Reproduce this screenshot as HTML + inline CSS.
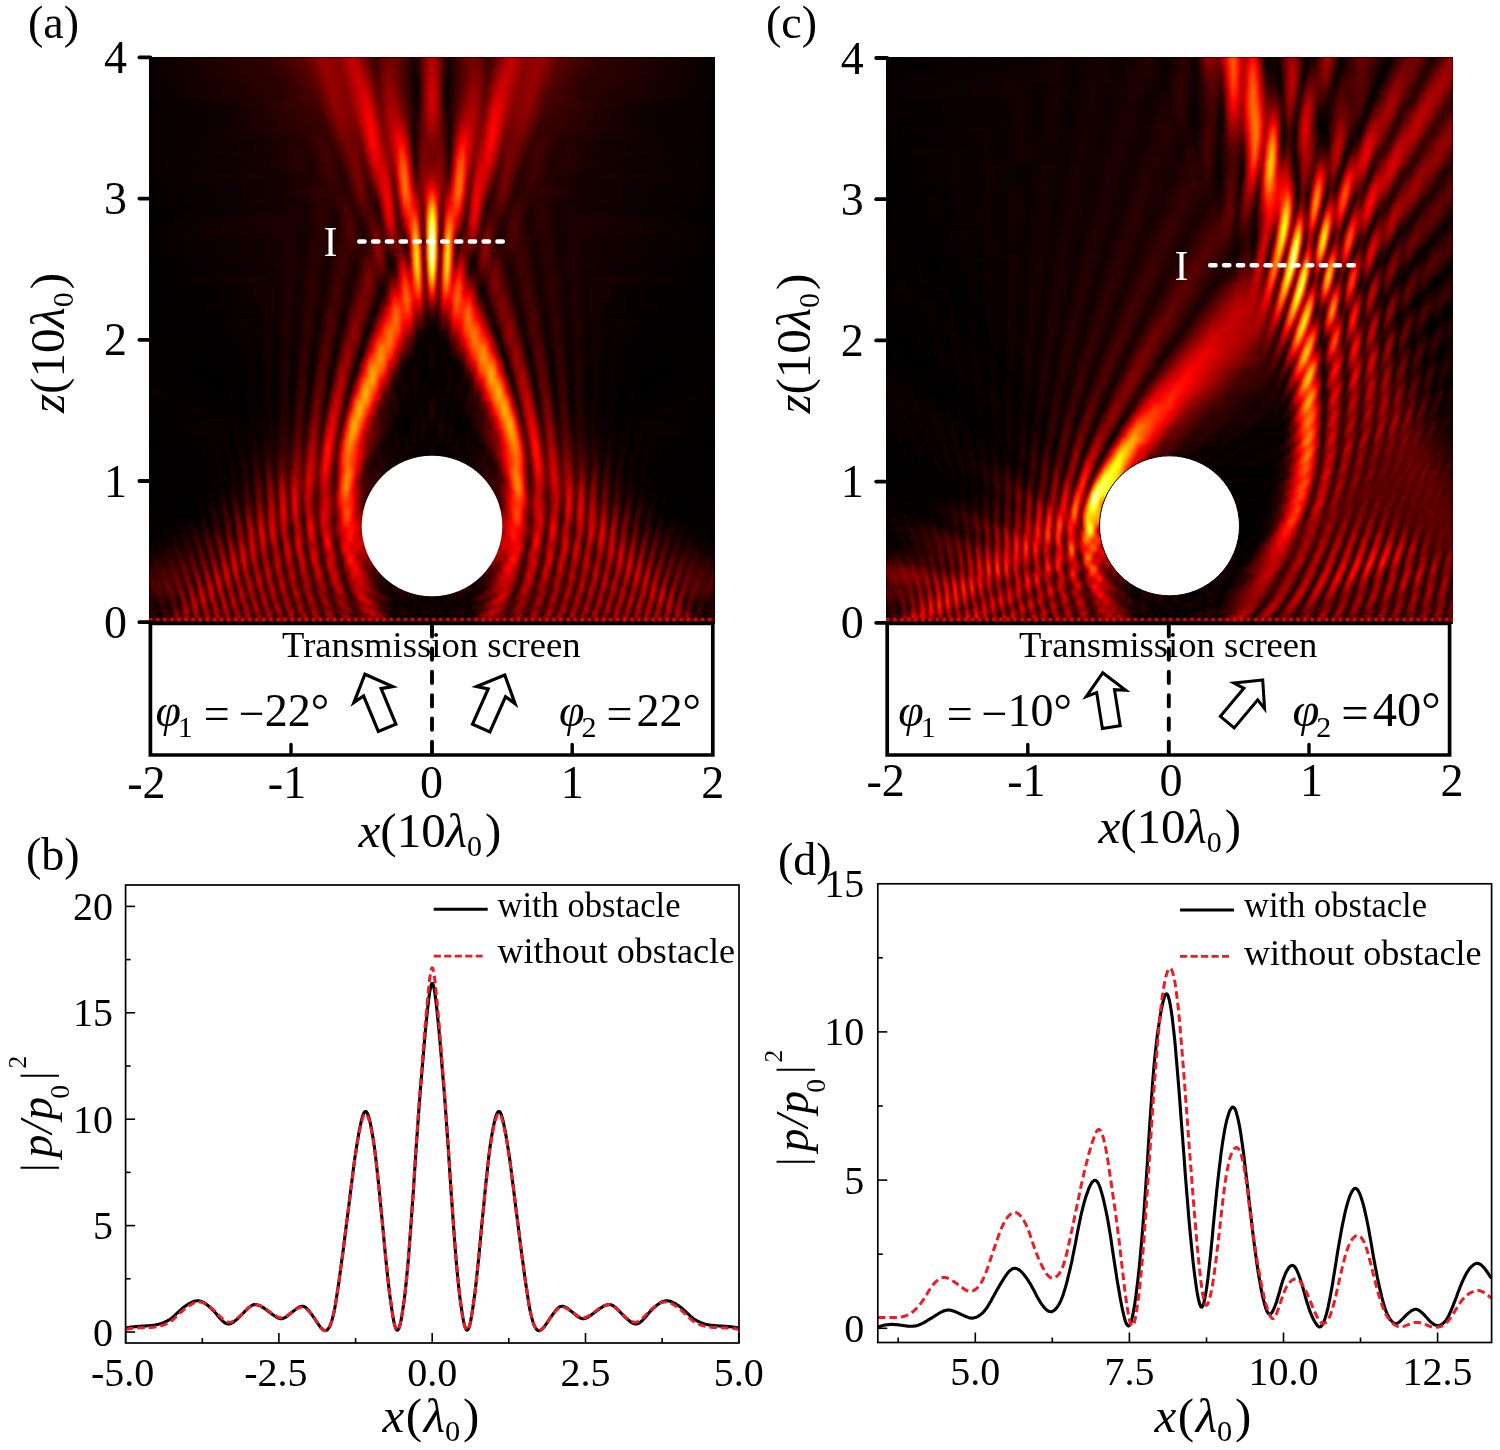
<!DOCTYPE html>
<html lang="en"><head><meta charset="utf-8"><title>Acoustic focusing beyond an obstacle</title>
<style>
html,body{margin:0;padding:0;background:#fff}
body{width:1500px;height:1450px;position:relative;overflow:hidden;font-family:"Liberation Serif","Times New Roman",serif}
.hm{position:absolute;background:#000;overflow:hidden}
.hm i{display:block;width:100%;height:3px}
.hm b{position:absolute;left:0;bottom:3px;width:100%;height:3px;background:repeating-linear-gradient(90deg,rgba(200,0,0,.9) 0,rgba(230,10,0,.95) 2.5px,rgba(60,0,0,.6) 4.5px,rgba(40,0,0,.6) 6px,rgba(200,0,0,.9) 7.075px)}
#hmA i{height:2px}
.hm .w{position:absolute;left:-2px;top:-2px;width:571px;height:571px;padding:2px;box-sizing:border-box;filter:url(#hot)}
#hmA p{position:absolute;margin:0;top:2px;left:2px;width:283px;height:567px;overflow:hidden}
#hmA p+p{left:285px;transform:scaleX(-1)}
.a0{background:linear-gradient(90deg,#030 1px,#120 121px,#220 155px,#370 173px,#310 189px,#470 203px,#3f0 209px,#140 225px,#270 237px,#2b0 245px,#240 251px,#080 265px,#0e0 269px,#3a0 279px,#410 283px)}
.a1{background:linear-gradient(90deg,#030 1px,#130 123px,#210 155px,#370 173px,#320 191px,#480 203px,#400 209px,#150 225px,#280 237px,#2b0 245px,#1f0 253px,#080 265px,#0d0 269px,#3b0 279px,#430 283px)}
.a2{background:linear-gradient(90deg,#030 1px,#120 123px,#200 155px,#380 175px,#320 191px,#480 203px,#3d0 211px,#160 225px,#290 237px,#2b0 245px,#1f0 253px,#070 265px,#0d0 269px,#3c0 279px,#440 283px)}
.a3{background:linear-gradient(90deg,#030 1px,#120 125px,#210 157px,#380 175px,#320 191px,#490 205px,#3f0 211px,#160 225px,#2a0 237px,#2c0 243px,#1f0 253px,#070 265px,#0c0 269px,#3d0 279px,#450 283px)}
.a4{background:linear-gradient(90deg,#030 1px,#120 125px,#200 157px,#370 175px,#310 191px,#490 205px,#3b0 213px,#170 225px,#2b0 237px,#2c0 243px,#070 267px,#340 277px,#460 283px)}
.a5{background:linear-gradient(90deg,#030 1px,#120 127px,#1f0 157px,#380 177px,#310 191px,#4a0 205px,#3d0 213px,#180 225px,#190 229px,#2b0 237px,#2d0 243px,#060 267px,#340 277px,#470 283px)}
.a6{background:linear-gradient(90deg,#030 1px,#120 127px,#200 159px,#380 177px,#320 193px,#4a0 205px,#400 213px,#170 227px,#2c0 237px,#2b0 245px,#060 267px,#350 277px,#480 283px)}
.a7{background:linear-gradient(90deg,#030 1px,#120 129px,#1f0 159px,#370 177px,#320 193px,#4a0 207px,#3c0 215px,#180 227px,#2d0 237px,#2e0 243px,#050 267px,#350 277px,#4a0 283px)}
.a8{background:linear-gradient(90deg,#030 1px,#120 129px,#1e0 159px,#380 179px,#310 193px,#4b0 207px,#3e0 215px,#190 227px,#2e0 237px,#2f0 243px,#050 267px,#350 277px,#4a0 283px)}
.a9{background:linear-gradient(90deg,#030 1px,#110 129px,#1f0 161px,#380 179px,#310 193px,#4b0 207px,#410 215px,#190 227px,#2f0 237px,#2f0 243px,#130 259px,#040 267px,#070 269px,#360 277px,#4b0 283px)}
.a10{background:linear-gradient(90deg,#030 1px,#110 131px,#1e0 161px,#380 179px,#300 193px,#4b0 209px,#3d0 217px,#1a0 227px,#300 237px,#300 243px,#130 259px,#040 267px,#070 269px,#360 277px,#4c0 283px)}
.a11{background:linear-gradient(90deg,#030 1px,#110 131px,#1d0 161px,#390 181px,#310 195px,#4c0 209px,#3f0 217px,#1b0 227px,#300 237px,#310 243px,#130 259px,#040 267px,#060 269px,#360 277px,#4d0 283px)}
.a12{background:linear-gradient(90deg,#030 1px,#110 131px,#1e0 163px,#380 181px,#310 195px,#4c0 209px,#420 217px,#1c0 227px,#310 237px,#320 243px,#100 261px,#030 267px,#060 269px,#360 277px,#4e0 283px)}
.a13{background:linear-gradient(90deg,#030 1px,#110 133px,#1d0 163px,#380 181px,#300 195px,#4d0 211px,#440 217px,#1c0 229px,#320 237px,#330 243px,#100 261px,#030 267px,#050 269px,#360 277px,#4e0 283px)}
.a14{background:linear-gradient(90deg,#030 1px,#100 133px,#1d0 165px,#390 183px,#300 195px,#4e0 211px,#460 217px,#1c0 229px,#330 237px,#340 243px,#100 261px,#030 267px,#050 269px,#370 277px,#4f0 283px)}
.a15{background:linear-gradient(90deg,#030 1px,#100 133px,#1c0 165px,#390 183px,#2f0 195px,#4e0 213px,#420 219px,#1d0 229px,#330 237px,#360 243px,#100 261px,#030 267px,#040 269px,#370 277px,#4f0 283px)}
.a16{background:linear-gradient(90deg,#030 1px,#100 135px,#1b0 165px,#380 183px,#300 197px,#4f0 213px,#450 219px,#1e0 229px,#380 239px,#370 243px,#100 261px,#030 267px,#040 269px,#440 279px,#4f0 283px)}
.a17{background:linear-gradient(90deg,#030 1px,#100 135px,#1c0 167px,#380 183px,#2f0 197px,#500 213px,#480 219px,#1e0 229px,#390 239px,#380 243px,#100 261px,#030 267px,#040 269px,#440 279px,#500 283px)}
.a18{background:linear-gradient(90deg,#030 1px,#100 135px,#1b0 167px,#390 185px,#2f0 197px,#510 215px,#4a0 219px,#1f0 229px,#390 239px,#390 243px,#110 261px,#030 267px,#040 269px,#440 279px,#500 283px)}
.a19{background:linear-gradient(90deg,#030 1px,#100 137px,#1a0 153px,#1a0 167px,#380 185px,#2e0 197px,#520 215px,#450 221px,#200 229px,#3a0 239px,#3a0 243px,#110 261px,#030 267px,#040 269px,#440 279px,#500 283px)}
.a20{background:linear-gradient(90deg,#030 1px,#0f0 137px,#190 153px,#1b0 169px,#380 185px,#2f0 199px,#530 215px,#470 221px,#210 229px,#3a0 239px,#380 245px,#110 261px,#030 267px,#050 269px,#430 279px,#4f0 283px)}
.a21{background:linear-gradient(90deg,#030 1px,#100 139px,#190 153px,#1a0 169px,#370 185px,#2e0 199px,#540 217px,#4a0 221px,#220 229px,#210 231px,#3b0 239px,#390 245px,#040 267px,#050 269px,#430 279px,#4f0 283px)}
.a22{background:linear-gradient(90deg,#030 1px,#060 71px,#180 167px,#370 185px,#2e0 199px,#560 217px,#4d0 221px,#240 229px,#220 231px,#3b0 239px,#3b0 245px,#040 267px,#050 269px,#430 279px,#4f0 283px)}
.a23{background:linear-gradient(90deg,#030 1px,#060 73px,#180 169px,#380 187px,#2f0 201px,#570 217px,#4f0 221px,#220 231px,#3c0 239px,#3c0 245px,#040 267px,#060 269px,#420 279px,#4e0 283px)}
.a24{background:linear-gradient(90deg,#030 1px,#060 73px,#180 169px,#370 187px,#2e0 201px,#580 217px,#510 221px,#230 231px,#3c0 239px,#3d0 245px,#050 267px,#070 269px,#420 279px,#4e0 283px)}
.a25{background:linear-gradient(90deg,#030 1px,#050 73px,#170 169px,#360 187px,#2d0 201px,#590 217px,#540 221px,#240 231px,#400 241px,#3b0 247px,#050 267px,#070 269px,#410 279px,#4d0 283px)}
.a26{background:linear-gradient(90deg,#030 1px,#050 73px,#170 171px,#360 187px,#2f0 203px,#5a0 219px,#4d0 223px,#240 231px,#400 241px,#3d0 247px,#060 267px,#080 269px,#410 279px,#4c0 283px)}
.a27{background:linear-gradient(90deg,#030 1px,#050 73px,#170 171px,#350 187px,#2e0 203px,#5b0 219px,#500 223px,#250 231px,#410 241px,#3f0 247px,#060 267px,#090 269px,#400 279px,#4b0 283px)}
.a28{background:linear-gradient(90deg,#030 1px,#050 73px,#170 173px,#350 189px,#2d0 203px,#5c0 219px,#520 223px,#270 231px,#410 241px,#3d0 249px,#070 267px,#3f0 279px,#4a0 283px)}
.a29{background:linear-gradient(90deg,#030 1px,#050 73px,#170 173px,#350 189px,#2e0 205px,#5d0 219px,#550 223px,#280 231px,#440 243px,#3f0 249px,#2c0 255px,#080 265px,#070 267px,#3e0 279px,#490 283px)}
.a30{background:linear-gradient(90deg,#030 1px,#050 73px,#160 173px,#340 189px,#2d0 205px,#5e0 219px,#570 223px,#290 231px,#270 233px,#410 241px,#420 249px,#2f0 255px,#070 265px,#070 267px,#3d0 279px,#470 283px)}
.a31{background:linear-gradient(90deg,#030 1px,#050 73px,#160 175px,#330 189px,#2c0 205px,#580 217px,#5e0 221px,#280 233px,#440 243px,#400 251px,#320 255px,#070 265px,#0c0 269px,#3c0 279px,#460 283px)}
.a32{background:linear-gradient(90deg,#030 1px,#050 75px,#160 175px,#330 191px,#2d0 207px,#580 217px,#5f0 221px,#290 233px,#450 243px,#430 251px,#350 255px,#070 265px,#0d0 269px,#3b0 279px,#440 283px)}
.a33{background:linear-gradient(90deg,#030 1px,#050 75px,#160 177px,#320 191px,#2c0 207px,#600 221px,#530 225px,#290 233px,#450 243px,#460 251px,#380 255px,#070 265px,#3a0 279px,#430 283px)}
.a34{background:linear-gradient(90deg,#030 1px,#050 75px,#160 177px,#310 191px,#2a0 207px,#610 221px,#560 225px,#2a0 233px,#490 245px,#490 251px,#3b0 255px,#070 265px,#310 277px,#410 283px)}
.a35{background:linear-gradient(90deg,#030 1px,#050 75px,#150 177px,#300 191px,#2c0 209px,#610 221px,#580 225px,#2c0 233px,#4c0 247px,#480 253px,#320 257px,#060 265px,#310 277px,#3f0 283px)}
.a36{background:linear-gradient(90deg,#030 1px,#050 75px,#160 179px,#300 193px,#2a0 209px,#610 221px,#590 225px,#340 231px,#2c0 235px,#4e0 247px,#4b0 253px,#350 257px,#060 265px,#300 277px,#3d0 283px)}
.a37{background:linear-gradient(90deg,#030 1px,#050 75px,#150 179px,#2f0 193px,#290 209px,#5a0 219px,#610 223px,#2c0 235px,#4f0 247px,#4f0 253px,#380 257px,#060 265px,#290 275px,#3b0 283px)}
.a38{background:linear-gradient(90deg,#030 1px,#070 99px,#150 179px,#2e0 193px,#270 209px,#590 219px,#620 223px,#2d0 235px,#550 249px,#530 253px,#3c0 257px,#050 265px,#230 273px,#390 283px)}
.a39{background:linear-gradient(90deg,#030 1px,#070 101px,#150 181px,#2d0 193px,#2a0 211px,#570 219px,#620 223px,#2e0 235px,#570 249px,#570 253px,#3f0 257px,#050 265px,#240 273px,#370 283px)}
.a40{background:linear-gradient(90deg,#030 1px,#070 101px,#0f0 155px,#170 171px,#140 181px,#2d0 195px,#280 211px,#550 219px,#620 223px,#2f0 235px,#330 239px,#590 249px,#5a0 253px,#430 257px,#050 265px,#250 273px,#350 283px)}
.a41{background:linear-gradient(90deg,#030 1px,#070 101px,#0e0 155px,#170 171px,#140 181px,#2c0 195px,#260 211px,#610 223px,#580 227px,#360 233px,#300 237px,#5b0 249px,#5e0 253px,#460 257px,#050 265px,#260 273px,#330 283px)}
.a42{background:linear-gradient(90deg,#030 1px,#060 101px,#0e0 157px,#180 173px,#140 183px,#2c0 197px,#250 211px,#610 223px,#590 227px,#380 233px,#300 237px,#620 251px,#5a0 255px,#4a0 257px,#040 265px,#270 273px,#320 283px)}
.a43{background:linear-gradient(90deg,#030 1px,#060 101px,#0e0 157px,#180 173px,#140 183px,#2b0 197px,#230 211px,#5f0 223px,#5a0 227px,#310 237px,#350 241px,#5e0 249px,#650 253px,#4e0 257px,#040 265px,#280 273px,#300 283px)}
.a44{background:linear-gradient(90deg,#030 1px,#060 101px,#0e0 159px,#180 173px,#130 183px,#2c0 199px,#250 213px,#5e0 223px,#5b0 227px,#350 235px,#310 239px,#690 253px,#520 257px,#050 265px,#290 273px,#2e0 283px)}
.a45{background:linear-gradient(90deg,#030 1px,#060 101px,#0f0 145px,#0d0 159px,#180 175px,#130 185px,#2d0 201px,#230 213px,#540 221px,#5f0 225px,#370 235px,#330 241px,#600 249px,#6d0 253px,#560 257px,#050 265px,#2a0 273px,#2d0 283px)}
.a46{background:linear-gradient(90deg,#030 1px,#060 103px,#0f0 145px,#0d0 161px,#180 175px,#120 185px,#2c0 201px,#220 213px,#510 221px,#5e0 225px,#340 237px,#320 241px,#700 253px,#5a0 257px,#050 265px,#2b0 273px,#2c0 283px)}
.a47{background:linear-gradient(90deg,#030 1px,#090 129px,#0f0 147px,#0d0 161px,#180 175px,#120 185px,#2d0 203px,#200 213px,#4e0 221px,#5d0 225px,#310 241px,#730 253px,#5e0 257px,#060 265px,#2c0 273px,#2b0 283px)}
.a48{background:linear-gradient(90deg,#030 1px,#090 131px,#0f0 147px,#0c0 161px,#190 177px,#120 187px,#2d0 203px,#1f0 213px,#5b0 225px,#300 241px,#760 253px,#620 257px,#070 265px,#2d0 273px,#2a0 283px)}
.a49{background:linear-gradient(90deg,#030 1px,#090 131px,#0f0 147px,#0d0 163px,#190 177px,#110 187px,#2d0 203px,#210 215px,#5a0 225px,#570 229px,#320 239px,#320 243px,#710 251px,#790 253px,#660 257px,#080 265px,#2e0 273px,#2a0 283px)}
.a50{background:linear-gradient(90deg,#030 1px,#080 131px,#0f0 147px,#0c0 163px,#190 177px,#110 189px,#2e0 205px,#1f0 215px,#500 223px,#5a0 227px,#330 239px,#310 243px,#7c0 253px,#6a0 257px,#0a0 265px,#0d0 267px,#2f0 273px,#2a0 283px)}
.a51{background:linear-gradient(90deg,#030 1px,#060 103px,#0f0 149px,#0c0 163px,#190 177px,#100 189px,#2e0 205px,#1e0 215px,#4c0 223px,#580 227px,#2f0 243px,#7e0 253px,#6e0 257px,#0b0 265px,#0d0 267px,#2f0 273px,#2a0 283px)}
.a52{background:linear-gradient(90deg,#030 1px,#060 103px,#0f0 149px,#0c0 163px,#190 179px,#100 189px,#2e0 205px,#1c0 215px,#490 223px,#560 227px,#4d0 233px,#2d0 243px,#800 253px,#710 257px,#590 259px,#0d0 265px,#0e0 267px,#300 273px,#2b0 283px)}
.a53{background:linear-gradient(90deg,#030 1px,#060 103px,#0f0 149px,#0b0 163px,#190 179px,#100 191px,#2e0 205px,#2c0 209px,#1c0 215px,#540 227px,#4f0 233px,#2c0 243px,#340 245px,#740 251px,#820 253px,#750 257px,#5c0 259px,#0f0 265px,#0f0 267px,#300 273px,#2c0 283px)}
.a54{background:linear-gradient(90deg,#030 1px,#060 103px,#0f0 149px,#0b0 163px,#190 179px,#0f0 191px,#2f0 207px,#1b0 215px,#1d0 217px,#4c0 225px,#540 229px,#4b0 235px,#2b0 243px,#310 245px,#740 251px,#850 255px,#600 259px,#110 265px,#100 267px,#310 273px,#2e0 283px)}
.a55{background:linear-gradient(90deg,#030 1px,#060 103px,#0f0 151px,#0b0 165px,#190 179px,#0e0 191px,#2f0 207px,#1b0 217px,#480 225px,#530 229px,#4d0 235px,#2a0 243px,#2f0 245px,#740 251px,#870 255px,#630 259px,#130 265px,#110 267px,#310 273px,#300 283px)}
.a56{background:linear-gradient(90deg,#030 1px,#080 131px,#0e0 151px,#0b0 165px,#190 179px,#0e0 193px,#2f0 207px,#1a0 217px,#440 225px,#530 231px,#490 237px,#290 243px,#2d0 245px,#730 251px,#8a0 255px,#670 259px,#160 265px,#130 267px,#310 273px,#330 283px)}
.a57{background:linear-gradient(90deg,#030 1px,#080 133px,#0e0 151px,#0c0 167px,#190 181px,#0e0 193px,#2f0 207px,#190 217px,#400 225px,#520 231px,#4b0 237px,#290 243px,#2b0 245px,#720 251px,#8b0 255px,#6a0 259px,#190 265px,#140 267px,#310 273px,#360 283px)}
.a58{background:linear-gradient(90deg,#030 1px,#080 133px,#0e0 151px,#0c0 167px,#190 181px,#0d0 193px,#100 197px,#2e0 207px,#2b0 211px,#180 217px,#460 227px,#530 233px,#4e0 237px,#290 243px,#280 245px,#710 251px,#8d0 255px,#6d0 259px,#1c0 265px,#160 267px,#310 273px,#3a0 283px)}
.a59{background:linear-gradient(90deg,#030 1px,#080 133px,#0d0 169px,#180 181px,#0d0 195px,#2f0 209px,#180 217px,#190 219px,#420 227px,#530 233px,#500 237px,#290 243px,#270 245px,#6f0 251px,#8e0 255px,#700 259px,#1f0 265px,#190 267px,#310 273px,#3e0 283px)}
.a60{background:linear-gradient(90deg,#030 1px,#080 131px,#0d0 169px,#180 181px,#0d0 195px,#2f0 209px,#170 219px,#3e0 227px,#550 235px,#490 239px,#2a0 243px,#250 245px,#330 247px,#6d0 251px,#8f0 255px,#730 259px,#220 265px,#1b0 267px,#360 275px,#430 283px)}
.a61{background:linear-gradient(90deg,#030 1px,#080 131px,#0d0 169px,#170 183px,#0d0 197px,#2f0 209px,#160 219px,#430 229px,#560 235px,#4b0 239px,#230 245px,#300 247px,#6b0 251px,#8f0 255px,#760 259px,#260 265px,#1d0 267px,#480 283px)}
.a62{background:linear-gradient(90deg,#030 1px,#080 131px,#0d0 171px,#170 183px,#0d0 197px,#2e0 209px,#290 213px,#150 219px,#570 235px,#4e0 239px,#220 245px,#2d0 247px,#820 253px,#8f0 255px,#780 259px,#2a0 265px,#200 267px,#4d0 283px)}
.a63{background:linear-gradient(90deg,#030 1px,#070 131px,#0d0 171px,#160 183px,#0d0 197px,#120 201px,#280 207px,#2e0 211px,#150 219px,#160 221px,#570 235px,#510 239px,#220 245px,#2a0 247px,#650 251px,#8e0 255px,#7a0 259px,#2e0 265px,#230 267px,#530 283px)}
.a64{background:linear-gradient(90deg,#020 1px,#070 131px,#0e0 173px,#160 183px,#0e0 199px,#270 207px,#2e0 211px,#140 221px,#4e0 233px,#5a0 237px,#440 241px,#210 245px,#270 247px,#620 251px,#8d0 255px,#7c0 259px,#320 265px,#270 267px,#280 271px,#590 283px)}
.a65{background:linear-gradient(90deg,#020 1px,#070 131px,#150 185px,#0d0 199px,#2d0 211px,#130 221px,#4d0 233px,#5b0 237px,#460 241px,#210 245px,#240 247px,#7b0 253px,#8c0 255px,#7e0 259px,#360 265px,#270 269px,#2d0 273px,#5f0 283px)}
.a66{background:linear-gradient(90deg,#020 1px,#070 131px,#150 185px,#0e0 199px,#2d0 211px,#130 221px,#1b0 225px,#4a0 233px,#5c0 237px,#490 241px,#210 245px,#220 247px,#780 253px,#8a0 255px,#7f0 259px,#3a0 265px,#290 269px,#2c0 273px,#610 281px,#650 283px)}
.a67{background:linear-gradient(90deg,#020 1px,#070 131px,#140 185px,#0f0 201px,#2c0 211px,#120 221px,#180 225px,#5d0 237px,#4c0 241px,#220 245px,#1f0 247px,#750 253px,#880 255px,#7f0 259px,#320 267px,#280 271px,#340 275px,#580 279px,#6c0 283px)}
.a68{background:linear-gradient(90deg,#020 1px,#070 131px,#130 187px,#0f0 201px,#2a0 211px,#120 223px,#1c0 227px,#5d0 237px,#4f0 241px,#230 245px,#1e0 247px,#710 253px,#8a0 257px,#800 259px,#360 267px,#290 271px,#340 275px,#5c0 279px,#730 283px)}
.a69{background:linear-gradient(90deg,#020 1px,#070 131px,#140 193px,#0f0 201px,#2a0 213px,#110 223px,#190 227px,#5d0 237px,#510 241px,#250 245px,#1c0 247px,#6d0 253px,#820 255px,#800 259px,#3b0 267px,#280 273px,#730 281px,#7b0 283px)}
.a70{background:linear-gradient(90deg,#020 1px,#070 131px,#140 193px,#100 203px,#290 213px,#140 221px,#110 225px,#1e0 229px,#500 235px,#5e0 239px,#540 241px,#1b0 247px,#2a0 249px,#680 253px,#860 257px,#800 259px,#290 271px,#270 273px,#7a0 281px,#820 283px)}
.a71{background:linear-gradient(90deg,#020 1px,#090 157px,#100 169px,#0e0 179px,#150 195px,#100 203px,#280 213px,#100 225px,#1a0 229px,#4d0 235px,#5f0 239px,#560 241px,#1a0 247px,#260 249px,#630 253px,#830 257px,#710 261px,#250 273px,#310 275px,#810 281px,#8a0 283px)}
.a72{background:linear-gradient(90deg,#020 1px,#090 157px,#100 169px,#0d0 181px,#160 195px,#100 203px,#260 213px,#100 225px,#170 229px,#4b0 235px,#600 239px,#580 241px,#1a0 247px,#230 249px,#5e0 253px,#800 257px,#720 261px,#230 273px,#2f0 275px,#870 281px,#910 283px)}
.a73{background:linear-gradient(90deg,#020 1px,#070 131px,#0b0 143px,#080 157px,#110 171px,#0d0 183px,#170 197px,#110 205px,#240 213px,#0f0 227px,#140 229px,#590 237px,#600 239px,#460 243px,#1a0 247px,#200 249px,#590 253px,#7c0 257px,#5c0 265px,#220 273px,#2e0 275px,#8e0 281px,#990 283px)}
.a74{background:linear-gradient(90deg,#020 1px,#070 131px,#0b0 145px,#080 157px,#110 171px,#0d0 185px,#180 197px,#110 205px,#230 215px,#0e0 227px,#110 229px,#440 235px,#600 239px,#490 243px,#1a0 247px,#1d0 249px,#6c0 255px,#7a0 259px,#540 267px,#200 273px,#2c0 275px,#760 279px,#950 281px,#a10 283px)}
.a75{background:linear-gradient(90deg,#010 1px,#070 131px,#0b0 145px,#080 157px,#120 171px,#0b0 183px,#190 197px,#120 207px,#220 215px,#0f0 229px,#550 237px,#5f0 239px,#4b0 243px,#1b0 247px,#1a0 249px,#660 255px,#770 259px,#590 267px,#1f0 273px,#2b0 275px,#7a0 279px,#9c0 281px,#a80 283px)}
.a76{background:linear-gradient(90deg,#010 1px,#070 131px,#0b0 145px,#080 157px,#120 171px,#0b0 185px,#1a0 197px,#110 207px,#200 215px,#0e0 229px,#150 231px,#520 237px,#5e0 239px,#4d0 243px,#1c0 247px,#180 249px,#600 255px,#740 259px,#5e0 267px,#1d0 273px,#290 275px,#7f0 279px,#a30 281px,#b00 283px)}
.a77{background:linear-gradient(90deg,#010 1px,#070 131px,#0b0 145px,#080 157px,#120 173px,#0a0 185px,#1a0 197px,#110 207px,#1e0 217px,#0e0 229px,#130 231px,#4f0 237px,#5c0 239px,#4e0 243px,#1e0 247px,#170 249px,#5a0 255px,#730 261px,#640 267px,#1c0 273px,#270 275px,#830 279px,#a90 281px,#b80 283px)}
.a78{background:linear-gradient(90deg,#010 1px,#070 131px,#0b0 145px,#080 157px,#120 173px,#0a0 185px,#1c0 199px,#100 207px,#1c0 215px,#1c0 221px,#0e0 229px,#110 231px,#4c0 237px,#5a0 239px,#4f0 243px,#1f0 247px,#160 249px,#540 255px,#6d0 259px,#750 263px,#6a0 267px,#530 269px,#1a0 273px,#250 275px,#870 279px,#b00 281px,#bf0 283px)}
.a79{background:linear-gradient(90deg,#010 1px,#0b0 145px,#080 157px,#120 173px,#090 185px,#1d0 199px,#100 209px,#1d0 223px,#100 231px,#480 237px,#5b0 241px,#500 243px,#150 249px,#5e0 257px,#780 265px,#580 269px,#190 273px,#230 275px,#8b0 279px,#b60 281px,#c60 283px)}
.a80{background:linear-gradient(90deg,#010 1px,#0b0 145px,#080 157px,#120 173px,#090 187px,#1d0 199px,#0f0 209px,#1e0 223px,#0f0 231px,#440 237px,#5a0 241px,#510 243px,#150 249px,#1d0 251px,#580 257px,#7d0 265px,#750 267px,#5d0 269px,#180 273px,#210 275px,#8e0 279px,#bc0 281px,#cd0 283px)}
.a81{background:linear-gradient(90deg,#010 1px,#0b0 145px,#080 157px,#120 173px,#090 187px,#1e0 201px,#0e0 209px,#1f0 225px,#100 231px,#170 233px,#520 239px,#590 241px,#510 243px,#150 249px,#1a0 251px,#510 257px,#810 265px,#7b0 267px,#620 269px,#170 273px,#1f0 275px,#920 279px,#c20 281px,#d40 283px)}
.a82{background:linear-gradient(90deg,#010 1px,#0b0 143px,#080 157px,#110 173px,#090 187px,#1f0 201px,#0d0 211px,#210 225px,#110 231px,#150 233px,#4f0 239px,#560 241px,#3e0 245px,#160 249px,#180 251px,#4a0 257px,#850 265px,#800 267px,#670 269px,#170 273px,#1d0 275px,#950 279px,#c80 281px,#db0 283px)}
.a83{background:linear-gradient(90deg,#020 1px,#0b0 143px,#080 157px,#110 173px,#090 187px,#1f0 201px,#0c0 211px,#230 225px,#120 231px,#140 233px,#4b0 239px,#540 241px,#3f0 245px,#170 249px,#160 251px,#890 265px,#860 267px,#6d0 269px,#170 273px,#1b0 275px,#980 279px,#cd0 281px,#e10 283px)}
.a84{background:linear-gradient(90deg,#020 1px,#0b0 143px,#080 157px,#110 173px,#090 187px,#1f0 201px,#0c0 213px,#250 225px,#140 233px,#470 239px,#510 241px,#4e0 243px,#190 249px,#150 251px,#8c0 265px,#8b0 267px,#720 269px,#460 271px,#170 273px,#180 275px,#9a0 279px,#d20 281px,#e70 283px)}
.a85{background:linear-gradient(90deg,#020 1px,#0b0 143px,#080 157px,#100 173px,#0a0 187px,#1f0 201px,#0a0 213px,#270 225px,#140 233px,#4d0 241px,#3f0 245px,#1a0 249px,#150 251px,#350 257px,#7c0 263px,#8f0 265px,#900 267px,#770 269px,#490 271px,#180 273px,#160 275px,#9d0 279px,#d60 281px,#ec0 283px)}
.a86{background:linear-gradient(90deg,#020 1px,#0b0 143px,#080 155px,#100 173px,#0a0 187px,#1f0 201px,#090 213px,#0d0 217px,#280 225px,#240 229px,#150 233px,#4a0 241px,#3e0 245px,#1c0 249px,#150 251px,#2f0 257px,#920 265px,#950 267px,#7d0 269px,#4d0 271px,#180 273px,#140 275px,#9f0 279px,#db0 281px,#f10 283px)}
.a87{background:linear-gradient(90deg,#020 1px,#0b0 143px,#080 155px,#0f0 173px,#0b0 185px,#0d0 191px,#1e0 201px,#090 215px,#2b0 227px,#160 233px,#190 235px,#390 239px,#470 243px,#1e0 249px,#180 253px,#280 257px,#950 265px,#9a0 267px,#820 269px,#510 271px,#1a0 273px,#120 275px,#a10 279px,#de0 281px,#f50 283px)}
.a88{background:linear-gradient(90deg,#020 1px,#0b0 141px,#080 155px,#0f0 171px,#0b0 185px,#1e0 203px,#080 215px,#2d0 227px,#180 233px,#180 235px,#410 241px,#440 243px,#180 251px,#190 255px,#350 259px,#970 265px,#9e0 267px,#870 269px,#550 271px,#1b0 273px,#100 275px,#520 277px,#a20 279px,#e20 281px,#f90 283px)}
.a89{background:linear-gradient(90deg,#020 1px,#0b0 141px,#080 155px,#0f0 169px,#0b0 183px,#1d0 203px,#080 215px,#0e0 219px,#2f0 227px,#170 235px,#3c0 241px,#400 243px,#1a0 251px,#160 255px,#1b0 257px,#2e0 259px,#790 263px,#990 265px,#a30 267px,#8c0 269px,#5a0 271px,#1d0 273px,#0e0 275px,#510 277px,#a30 279px,#e40 281px,#fd0 283px)}
.a90{background:linear-gradient(90deg,#020 1px,#070 129px,#0b0 141px,#080 155px,#0f0 169px,#0b0 183px,#1d0 203px,#080 215px,#0d0 219px,#300 227px,#300 229px,#170 235px,#3c0 243px,#140 255px,#160 257px,#280 259px,#770 263px,#9b0 265px,#a60 267px,#910 269px,#5e0 271px,#1f0 273px,#0c0 275px,#500 277px,#a40 279px,#e70 281px,#ff0 283px)}
.a91{background:linear-gradient(90deg,#020 1px,#070 129px,#0c0 141px,#070 155px,#0f0 167px,#0b0 183px,#1c0 203px,#090 217px,#310 227px,#2a0 231px,#170 235px,#380 243px,#110 257px,#220 259px,#760 263px,#9c0 265px,#aa0 267px,#960 269px,#620 271px,#220 273px,#0b0 275px,#4e0 277px,#a40 279px,#e80 281px,#ff0 283px)}
.a92{background:linear-gradient(90deg,#020 1px,#070 129px,#0c0 141px,#070 155px,#0f0 167px,#0a0 181px,#1a0 203px,#0a0 217px,#0d0 219px,#2a0 225px,#330 229px,#180 235px,#180 237px,#330 243px,#320 245px,#1c0 253px,#0d0 257px,#1d0 259px,#740 263px,#9d0 265px,#ad0 267px,#9a0 269px,#670 271px,#250 273px,#0a0 275px,#4d0 277px,#a40 279px,#ea0 281px,#ff0 283px)}
.a93{background:linear-gradient(90deg,#020 1px,#070 129px,#0c0 141px,#070 155px,#0f0 167px,#0a0 181px,#190 203px,#0c0 217px,#350 229px,#160 237px,#2e0 243px,#240 251px,#1f0 253px,#0b0 257px,#180 259px,#720 263px,#9d0 265px,#b00 267px,#9f0 269px,#6b0 271px,#280 273px,#090 275px,#4c0 277px,#a40 279px,#ea0 281px,#ff0 283px)}
.a94{background:linear-gradient(90deg,#020 1px,#070 129px,#0c0 141px,#070 155px,#100 167px,#090 181px,#130 191px,#180 203px,#0e0 217px,#130 221px,#320 227px,#360 229px,#140 237px,#290 243px,#270 251px,#230 253px,#0a0 257px,#140 259px,#6f0 263px,#9d0 265px,#b30 267px,#a30 269px,#6f0 271px,#080 275px,#4a0 277px,#a30 279px,#ea0 281px,#ff0 283px)}
.a95{background:linear-gradient(90deg,#020 1px,#070 129px,#0c0 141px,#070 155px,#100 167px,#090 181px,#140 191px,#160 203px,#100 219px,#360 229px,#330 231px,#130 237px,#240 243px,#270 253px,#0b0 257px,#110 259px,#6d0 263px,#9d0 265px,#b50 267px,#a60 269px,#730 271px,#080 275px,#a20 279px,#ea0 281px,#ff0 283px)}
.a96{background:linear-gradient(90deg,#020 1px,#070 129px,#0c0 141px,#070 155px,#100 167px,#090 181px,#160 193px,#120 219px,#360 229px,#2a0 233px,#130 237px,#2b0 253px,#0e0 257px,#0f0 259px,#6a0 263px,#9d0 265px,#b60 267px,#a90 269px,#770 271px,#080 275px,#a00 279px,#e90 281px,#ff0 283px)}
.a97{background:linear-gradient(90deg,#020 1px,#070 129px,#0c0 141px,#070 155px,#100 167px,#080 181px,#170 193px,#110 209px,#160 221px,#360 229px,#350 231px,#130 237px,#0f0 239px,#2f0 253px,#250 255px,#120 257px,#0f0 259px,#680 263px,#9c0 265px,#b70 267px,#ac0 269px,#7b0 271px,#090 275px,#9e0 279px,#e70 281px,#ff0 283px)}
.a98{background:linear-gradient(90deg,#020 1px,#070 129px,#0c0 141px,#080 155px,#100 167px,#080 181px,#170 193px,#100 209px,#170 221px,#350 229px,#2d0 233px,#0d0 239px,#340 253px,#100 259px,#9a0 265px,#b80 267px,#af0 269px,#7e0 271px,#0a0 275px,#9c0 279px,#e50 281px,#ff0 283px)}
.a99{background:linear-gradient(90deg,#020 1px,#070 129px,#0c0 143px,#080 155px,#100 167px,#080 181px,#180 193px,#0f0 209px,#1c0 223px,#340 229px,#340 231px,#0c0 239px,#150 245px,#380 253px,#300 255px,#130 259px,#990 265px,#b80 267px,#b10 269px,#810 271px,#0b0 275px,#990 279px,#e20 281px,#fe0 283px)}
.a100{background:linear-gradient(90deg,#020 1px,#070 129px,#0c0 143px,#080 153px,#100 167px,#080 179px,#180 193px,#0e0 209px,#1c0 217px,#1d0 223px,#340 231px,#2d0 233px,#0a0 239px,#090 241px,#110 245px,#3c0 253px,#360 255px,#170 259px,#2d0 261px,#970 265px,#b80 267px,#b20 269px,#840 271px,#0d0 275px,#960 279px,#de0 281px,#fa0 283px)}
.a101{background:linear-gradient(90deg,#020 1px,#070 129px,#0c0 143px,#080 153px,#100 167px,#080 179px,#190 193px,#0c0 207px,#1f0 217px,#1e0 223px,#320 231px,#2d0 233px,#0a0 239px,#070 241px,#0d0 245px,#370 251px,#410 253px,#3c0 255px,#1c0 259px,#2d0 261px,#940 265px,#b70 267px,#b30 269px,#870 271px,#0f0 275px,#920 279px,#da0 281px,#f60 283px)}
.a102{background:linear-gradient(90deg,#010 1px,#070 129px,#0c0 143px,#080 153px,#100 167px,#080 179px,#190 193px,#0a0 207px,#210 217px,#1f0 223px,#310 231px,#210 235px,#050 241px,#060 243px,#0a0 245px,#390 251px,#450 253px,#430 255px,#210 259px,#2e0 261px,#920 265px,#b50 267px,#b40 269px,#890 271px,#110 275px,#3b0 277px,#8e0 279px,#d60 281px,#f10 283px)}
.a103{background:linear-gradient(90deg,#010 1px,#070 129px,#0c0 143px,#080 153px,#100 167px,#080 179px,#190 193px,#090 207px,#230 217px,#210 225px,#2e0 231px,#210 235px,#050 241px,#040 243px,#080 245px,#3a0 251px,#490 253px,#490 255px,#280 259px,#300 261px,#8f0 265px,#b40 267px,#b40 269px,#8b0 271px,#130 275px,#380 277px,#8a0 279px,#d10 281px,#ec0 283px)}
.a104{background:linear-gradient(90deg,#010 1px,#070 129px,#0c0 141px,#090 153px,#0f0 165px,#080 179px,#190 193px,#090 207px,#250 217px,#210 225px,#2c0 231px,#290 233px,#0c0 239px,#050 243px,#080 245px,#4c0 253px,#4f0 255px,#2e0 259px,#320 261px,#8c0 265px,#b10 267px,#b30 269px,#8c0 271px,#150 275px,#360 277px,#860 279px,#cb0 281px,#e60 283px)}
.a105{background:linear-gradient(90deg,#010 1px,#060 129px,#0c0 141px,#090 153px,#100 165px,#090 179px,#190 193px,#080 207px,#290 219px,#210 225px,#270 233px,#0d0 239px,#070 243px,#090 245px,#120 247px,#500 253px,#540 255px,#350 259px,#350 261px,#890 265px,#ae0 267px,#b20 269px,#8d0 271px,#170 275px,#340 277px,#810 279px,#c50 281px,#df0 283px)}
.a106{background:linear-gradient(90deg,#010 1px,#060 129px,#0c0 141px,#090 153px,#100 165px,#080 177px,#190 193px,#080 205px,#0b0 209px,#2b0 219px,#210 225px,#240 233px,#0f0 239px,#0b0 245px,#130 247px,#530 253px,#5a0 255px,#390 261px,#ab0 267px,#b10 269px,#8e0 271px,#1a0 275px,#320 277px,#7c0 279px,#be0 281px,#d80 283px)}
.a107{background:linear-gradient(90deg,#010 1px,#060 129px,#0c0 141px,#090 151px,#100 163px,#080 177px,#180 193px,#080 205px,#0c0 209px,#2d0 219px,#1f0 227px,#210 233px,#100 239px,#0f0 245px,#150 247px,#560 253px,#5f0 255px,#3d0 261px,#a80 267px,#ae0 269px,#8e0 271px,#1c0 275px,#300 277px,#770 279px,#b70 281px,#d10 283px)}
.a108{background:linear-gradient(90deg,#010 1px,#060 129px,#0c0 141px,#080 151px,#110 163px,#080 177px,#180 193px,#080 205px,#2e0 219px,#120 239px,#140 245px,#180 247px,#590 253px,#640 255px,#420 261px,#550 263px,#a30 267px,#ac0 269px,#8e0 271px,#1e0 275px,#2e0 277px,#720 279px,#b00 281px,#c90 283px)}
.a109{background:linear-gradient(90deg,#010 1px,#090 117px,#060 129px,#0b0 139px,#080 151px,#110 163px,#080 177px,#180 191px,#090 205px,#2f0 219px,#1c0 227px,#130 239px,#1c0 247px,#5b0 253px,#680 255px,#460 261px,#550 263px,#9f0 267px,#a80 269px,#8d0 271px,#200 275px,#2b0 277px,#6c0 279px,#a80 281px,#c00 283px)}
.a110{background:linear-gradient(90deg,#010 1px,#090 117px,#060 129px,#0c0 139px,#080 151px,#120 163px,#080 177px,#180 189px,#090 205px,#300 219px,#1b0 227px,#120 237px,#210 247px,#6c0 255px,#6a0 257px,#4b0 261px,#560 263px,#9a0 267px,#a50 269px,#8b0 271px,#220 275px,#290 277px,#660 279px,#a00 281px,#b70 283px)}
.a111{background:linear-gradient(90deg,#010 1px,#090 117px,#060 129px,#0c0 139px,#080 151px,#120 163px,#070 175px,#180 189px,#090 203px,#300 219px,#2a0 223px,#160 229px,#110 237px,#240 243px,#270 247px,#700 255px,#700 257px,#500 261px,#560 263px,#950 267px,#a10 269px,#8a0 271px,#230 275px,#280 277px,#610 279px,#980 281px,#ae0 283px)}
.a112{background:linear-gradient(90deg,#010 1px,#090 117px,#060 129px,#0c0 139px,#070 151px,#120 163px,#070 175px,#190 189px,#090 203px,#300 219px,#2a0 223px,#130 229px,#0e0 235px,#290 243px,#340 249px,#730 255px,#750 257px,#550 261px,#570 263px,#900 267px,#9c0 269px,#870 271px,#250 275px,#260 277px,#900 281px,#a50 283px)}
.a113{background:linear-gradient(90deg,#010 1px,#030 85px,#090 117px,#060 129px,#0c0 139px,#070 151px,#130 163px,#070 175px,#190 189px,#090 203px,#300 219px,#2a0 223px,#110 229px,#0c0 235px,#2f0 243px,#380 249px,#750 255px,#790 257px,#5a0 261px,#580 263px,#8a0 267px,#970 269px,#850 271px,#260 275px,#240 277px,#870 281px,#9c0 283px)}
.a114{background:linear-gradient(90deg,#010 1px,#030 85px,#090 117px,#060 129px,#0c0 139px,#070 151px,#130 163px,#070 175px,#1a0 189px,#090 201px,#2f0 219px,#2a0 223px,#0f0 229px,#090 233px,#0f0 237px,#350 243px,#3d0 249px,#770 255px,#7d0 257px,#590 263px,#910 269px,#810 271px,#280 275px,#220 277px,#7f0 281px,#920 283px)}
.a115{background:linear-gradient(90deg,#010 1px,#030 85px,#090 117px,#060 129px,#0c0 139px,#070 151px,#130 163px,#070 175px,#1a0 189px,#080 201px,#200 211px,#2f0 219px,#290 223px,#0d0 229px,#060 233px,#0f0 237px,#3b0 243px,#430 249px,#790 255px,#800 257px,#5a0 263px,#8c0 269px,#7e0 271px,#560 273px,#280 275px,#200 277px,#760 281px,#880 283px)}
.a116{background:linear-gradient(90deg,#010 1px,#030 85px,#090 117px,#060 129px,#0c0 139px,#060 151px,#130 163px,#070 175px,#1a0 187px,#080 201px,#220 211px,#2e0 219px,#270 223px,#060 231px,#050 233px,#080 235px,#400 243px,#480 249px,#830 257px,#5b0 263px,#850 269px,#7a0 271px,#550 273px,#290 275px,#1f0 277px,#6e0 281px,#7f0 283px)}
.a117{background:linear-gradient(90deg,#010 1px,#030 85px,#090 117px,#060 129px,#0c0 139px,#060 151px,#130 163px,#080 175px,#1b0 187px,#070 201px,#240 211px,#2c0 219px,#250 223px,#050 231px,#050 233px,#080 235px,#460 243px,#550 251px,#840 257px,#5c0 263px,#7f0 269px,#750 271px,#530 273px,#2a0 275px,#1d0 277px,#650 281px,#750 283px)}
.a118{background:linear-gradient(90deg,#010 1px,#030 85px,#090 117px,#060 129px,#0d0 139px,#060 151px,#130 163px,#080 175px,#1b0 187px,#180 191px,#070 199px,#0b0 203px,#260 211px,#2c0 217px,#230 223px,#050 231px,#0a0 235px,#4b0 243px,#580 251px,#860 257px,#800 259px,#5d0 263px,#5d0 265px,#780 269px,#700 271px,#510 273px,#2a0 275px,#1c0 277px,#5d0 281px,#6c0 283px)}
.a119{background:linear-gradient(90deg,#010 1px,#030 87px,#090 117px,#060 129px,#0d0 139px,#070 151px,#130 163px,#080 173px,#1a0 187px,#180 191px,#070 199px,#230 209px,#2c0 215px,#210 223px,#060 231px,#0d0 235px,#500 243px,#5b0 245px,#5b0 251px,#860 257px,#5a0 265px,#720 269px,#6b0 271px,#4f0 273px,#2a0 275px,#1a0 277px,#540 281px,#620 283px)}
.a120{background:linear-gradient(90deg,#010 1px,#030 87px,#090 117px,#060 129px,#0d0 139px,#070 151px,#120 163px,#090 173px,#1a0 187px,#170 191px,#070 199px,#2d0 213px,#240 221px,#080 229px,#070 231px,#1b0 237px,#550 243px,#610 245px,#5f0 251px,#860 257px,#830 259px,#570 265px,#6b0 269px,#660 271px,#190 277px,#4c0 281px,#590 283px)}
.a121{background:linear-gradient(90deg,#010 1px,#010 25px,#040 107px,#090 117px,#060 129px,#0d0 139px,#070 149px,#120 163px,#090 173px,#1a0 187px,#070 199px,#260 209px,#2f0 213px,#210 221px,#080 229px,#200 237px,#670 245px,#620 251px,#850 257px,#840 259px,#540 265px,#600 271px,#180 277px,#440 281px,#500 283px)}
.a122{background:linear-gradient(90deg,#010 1px,#040 107px,#090 117px,#060 129px,#0c0 139px,#070 149px,#120 163px,#090 173px,#190 187px,#080 199px,#270 209px,#300 213px,#250 219px,#080 229px,#250 237px,#6c0 245px,#660 251px,#840 259px,#520 265px,#5b0 271px,#160 277px,#3d0 281px,#480 283px)}
.a123{background:linear-gradient(90deg,#010 1px,#040 107px,#090 117px,#060 129px,#0c0 139px,#070 149px,#110 161px,#090 173px,#160 181px,#190 187px,#080 197px,#300 213px,#230 219px,#080 227px,#090 229px,#2a0 237px,#710 245px,#6a0 253px,#820 259px,#4f0 265px,#550 271px,#430 273px,#150 277px,#360 281px,#3f0 283px)}
.a124{background:linear-gradient(90deg,#010 1px,#040 107px,#090 117px,#060 129px,#0c0 139px,#070 149px,#110 161px,#090 171px,#180 185px,#130 191px,#080 197px,#2a0 209px,#310 213px,#290 217px,#070 227px,#310 237px,#760 245px,#6b0 253px,#810 259px,#4c0 265px,#4f0 271px,#400 273px,#140 277px,#380 283px)}
.a125{background:linear-gradient(90deg,#010 1px,#040 107px,#080 117px,#060 129px,#0c0 139px,#070 149px,#110 161px,#080 171px,#190 183px,#150 189px,#080 197px,#250 207px,#310 213px,#280 217px,#060 227px,#690 243px,#7f0 247px,#6b0 253px,#7e0 259px,#490 265px,#490 271px,#3c0 273px,#130 277px,#300 283px)}
.a126{background:linear-gradient(90deg,#010 1px,#040 107px,#080 117px,#060 129px,#0c0 139px,#070 149px,#110 159px,#080 171px,#1a0 183px,#080 197px,#210 205px,#300 213px,#260 217px,#060 225px,#070 227px,#270 233px,#7d0 245px,#830 247px,#6b0 253px,#7b0 259px,#710 261px,#470 265px,#3e0 267px,#430 271px,#380 273px,#110 277px,#140 279px,#2a0 283px)}
.a127{background:linear-gradient(90deg,#010 1px,#040 107px,#080 117px,#060 129px,#0c0 139px,#060 149px,#110 159px,#070 171px,#1b0 181px,#160 187px,#080 195px,#240 205px,#300 213px,#250 217px,#050 225px,#080 227px,#3a0 235px,#860 247px,#6b0 253px,#780 259px,#6e0 261px,#390 267px,#3d0 271px,#340 273px,#100 277px,#110 279px,#230 283px)}
.a128{background:linear-gradient(90deg,#010 1px,#030 107px,#080 117px,#060 129px,#0c0 139px,#060 149px,#120 159px,#070 171px,#1c0 181px,#070 195px,#210 203px,#2f0 211px,#230 217px,#070 223px,#050 225px,#400 235px,#880 247px,#6b0 253px,#6b0 261px,#350 267px,#300 273px,#0f0 277px,#0e0 279px,#1e0 283px)}
.a129{background:linear-gradient(90deg,#010 1px,#030 107px,#080 119px,#050 127px,#0c0 139px,#060 149px,#120 159px,#060 171px,#1d0 181px,#060 195px,#240 203px,#2e0 209px,#280 215px,#050 223px,#060 225px,#470 235px,#8a0 247px,#6a0 253px,#670 261px,#300 267px,#2c0 273px,#0e0 277px,#0b0 279px,#190 283px)}
.a130{background:linear-gradient(90deg,#010 1px,#030 107px,#080 119px,#050 127px,#0c0 137px,#060 149px,#130 159px,#060 171px,#1e0 181px,#060 195px,#270 203px,#2f0 207px,#260 215px,#050 223px,#4d0 235px,#8b0 247px,#640 255px,#630 261px,#2c0 267px,#280 273px,#0d0 277px,#090 279px,#140 283px)}
.a131{background:linear-gradient(90deg,#010 1px,#010 49px,#050 99px,#030 107px,#080 119px,#050 127px,#0c0 137px,#060 149px,#130 159px,#050 169px,#1f0 181px,#1a0 185px,#050 193px,#060 195px,#290 203px,#310 207px,#230 215px,#080 221px,#060 223px,#530 235px,#8b0 247px,#600 255px,#5f0 261px,#270 267px,#240 273px,#060 279px,#100 283px)}
.a132{background:linear-gradient(90deg,#010 1px,#010 51px,#060 99px,#040 109px,#080 119px,#050 127px,#0d0 137px,#060 149px,#140 159px,#050 169px,#1f0 181px,#1a0 185px,#050 193px,#060 195px,#2b0 203px,#330 207px,#200 215px,#060 221px,#080 223px,#660 237px,#8a0 247px,#5d0 255px,#5a0 261px,#230 267px,#200 273px,#050 279px,#0d0 283px)}
.a133{background:linear-gradient(90deg,#010 1px,#010 51px,#060 99px,#040 109px,#080 119px,#040 127px,#0d0 137px,#050 147px,#140 159px,#050 169px,#1f0 181px,#1a0 185px,#050 193px,#2d0 203px,#340 207px,#1c0 215px,#050 221px,#6c0 237px,#890 247px,#5a0 255px,#550 261px,#200 267px,#1c0 273px,#030 279px,#0a0 283px)}
.a134{background:linear-gradient(90deg,#010 1px,#010 53px,#050 99px,#040 109px,#080 119px,#040 127px,#0d0 137px,#050 147px,#140 159px,#050 169px,#1f0 181px,#1a0 185px,#060 191px,#050 193px,#2f0 203px,#360 207px,#050 221px,#290 227px,#640 235px,#7a0 239px,#870 247px,#560 255px,#4f0 261px,#1c0 267px,#160 269px,#180 273px,#020 279px,#080 283px)}
.a135{background:linear-gradient(90deg,#010 1px,#010 69px,#050 99px,#040 109px,#080 119px,#040 127px,#0d0 137px,#050 147px,#140 159px,#050 169px,#1f0 181px,#190 185px,#060 191px,#060 193px,#370 205px,#310 209px,#050 219px,#060 221px,#300 227px,#690 235px,#7f0 239px,#850 245px,#7f0 249px,#520 255px,#490 261px,#190 267px,#120 269px,#150 273px,#100 275px,#010 279px,#070 283px)}
.a136{background:linear-gradient(90deg,#010 1px,#010 69px,#050 99px,#040 109px,#080 117px,#040 127px,#0d0 137px,#050 147px,#140 159px,#060 169px,#1e0 181px,#180 185px,#060 191px,#380 205px,#310 209px,#030 219px,#070 221px,#260 225px,#460 229px,#7a0 237px,#860 241px,#7c0 249px,#4f0 255px,#430 261px,#0e0 269px,#120 273px,#0e0 275px,#000 279px,#060 283px)}
.a137{background:linear-gradient(90deg,#010 1px,#010 69px,#050 99px,#040 109px,#080 119px,#040 127px,#0d0 137px,#050 147px,#130 159px,#060 169px,#190 177px,#1e0 181px,#170 185px,#060 191px,#380 205px,#300 209px,#020 219px,#2c0 225px,#4e0 229px,#7e0 237px,#890 241px,#770 249px,#4b0 255px,#3d0 261px,#0b0 269px,#0c0 275px,#000 279px,#060 283px)}
.a138{background:linear-gradient(90deg,#010 1px,#010 71px,#050 99px,#030 109px,#080 119px,#030 127px,#0d0 137px,#050 147px,#130 159px,#060 167px,#1a0 177px,#1d0 181px,#070 191px,#380 205px,#2f0 209px,#030 217px,#030 219px,#320 225px,#560 229px,#810 237px,#8b0 241px,#730 249px,#3d0 257px,#2f0 263px,#080 269px,#0b0 275px,#000 279px,#060 283px)}
.a139{background:linear-gradient(90deg,#010 1px,#010 71px,#050 99px,#030 109px,#080 119px,#030 127px,#0d0 137px,#050 147px,#130 159px,#060 167px,#1c0 179px,#190 183px,#070 189px,#070 191px,#1e0 197px,#370 205px,#2e0 209px,#020 217px,#5d0 229px,#8c0 241px,#6e0 249px,#380 257px,#2a0 263px,#060 269px,#090 275px,#010 279px,#060 283px)}
.a140{background:linear-gradient(90deg,#010 1px,#010 71px,#050 99px,#030 109px,#080 119px,#030 127px,#0c0 137px,#050 147px,#120 157px,#060 167px,#190 175px,#1c0 179px,#180 183px,#060 189px,#220 197px,#360 205px,#2c0 209px,#050 215px,#030 217px,#650 229px,#8d0 241px,#680 249px,#340 257px,#250 263px,#040 269px,#090 273px,#010 279px,#060 283px)}
.a141{background:linear-gradient(90deg,#010 1px,#010 71px,#050 99px,#030 109px,#080 119px,#030 127px,#0c0 137px,#050 147px,#120 157px,#060 167px,#1d0 177px,#160 183px,#050 189px,#260 197px,#340 205px,#2a0 209px,#030 215px,#060 217px,#6c0 229px,#8c0 241px,#560 251px,#2f0 257px,#200 263px,#020 269px,#080 273px,#010 279px,#070 283px)}
.a142{background:linear-gradient(90deg,#020 1px,#010 73px,#050 99px,#030 109px,#090 119px,#030 127px,#0c0 137px,#040 147px,#130 157px,#050 167px,#170 173px,#1e0 177px,#140 183px,#040 189px,#290 197px,#320 205px,#270 209px,#040 215px,#730 229px,#8b0 241px,#2b0 257px,#1c0 263px,#010 269px,#070 273px,#020 279px,#070 283px)}
.a143{background:linear-gradient(90deg,#020 1px,#010 73px,#050 99px,#030 109px,#090 119px,#030 127px,#0c0 137px,#040 147px,#100 153px,#130 157px,#050 167px,#180 173px,#1f0 177px,#190 181px,#040 189px,#240 195px,#320 201px,#2c0 207px,#230 209px,#080 213px,#050 215px,#790 229px,#890 239px,#820 243px,#270 257px,#170 263px,#000 269px,#060 273px,#020 277px,#080 283px)}
.a144{background:linear-gradient(90deg,#020 1px,#020 91px,#050 99px,#030 109px,#090 119px,#030 127px,#0c0 137px,#040 147px,#100 153px,#130 157px,#050 167px,#190 173px,#200 177px,#180 181px,#040 187px,#040 189px,#270 195px,#340 199px,#280 207px,#1f0 209px,#060 213px,#070 215px,#250 219px,#7f0 229px,#8b0 233px,#7f0 243px,#230 257px,#0d0 265px,#000 269px,#060 273px,#010 277px,#080 283px)}
.a145{background:linear-gradient(90deg,#020 1px,#010 91px,#050 101px,#030 109px,#090 119px,#030 127px,#0c0 137px,#040 147px,#130 155px,#110 159px,#050 165px,#050 167px,#1a0 173px,#210 177px,#180 181px,#030 187px,#050 189px,#290 195px,#370 199px,#240 207px,#050 213px,#0a0 215px,#2d0 219px,#710 227px,#8e0 231px,#8f0 233px,#7b0 243px,#3d0 251px,#010 269px,#050 273px,#010 277px,#080 283px)}
.a146{background:linear-gradient(90deg,#020 1px,#010 91px,#050 101px,#020 109px,#080 119px,#030 127px,#0c0 137px,#040 145px,#140 155px,#110 159px,#040 165px,#050 167px,#1b0 173px,#220 177px,#170 181px,#020 187px,#2c0 195px,#390 199px,#200 207px,#040 213px,#350 219px,#920 231px,#770 243px,#370 251px,#030 267px,#010 269px,#050 273px,#010 277px,#090 283px)}
.a147{background:linear-gradient(90deg,#020 1px,#010 91px,#050 101px,#020 109px,#080 119px,#030 127px,#0d0 137px,#030 145px,#140 155px,#100 159px,#030 165px,#1c0 173px,#220 177px,#160 181px,#020 187px,#2e0 195px,#3b0 199px,#250 205px,#040 213px,#3e0 219px,#950 231px,#720 243px,#300 251px,#020 267px,#050 273px,#000 277px,#090 283px)}
.a148{background:linear-gradient(90deg,#020 1px,#010 91px,#050 101px,#020 109px,#080 119px,#030 127px,#0d0 137px,#030 145px,#140 155px,#100 159px,#030 165px,#1c0 173px,#220 177px,#160 181px,#040 185px,#040 187px,#300 195px,#3c0 199px,#2d0 203px,#050 211px,#060 213px,#2e0 217px,#580 221px,#970 231px,#6c0 243px,#2a0 251px,#010 267px,#060 273px,#000 277px,#090 283px)}
.a149{background:linear-gradient(90deg,#020 1px,#010 91px,#050 101px,#020 109px,#080 119px,#030 127px,#0d0 137px,#030 145px,#150 155px,#100 159px,#030 165px,#1d0 173px,#220 177px,#150 181px,#030 185px,#050 187px,#310 195px,#3d0 199px,#2c0 203px,#030 211px,#090 213px,#350 217px,#620 221px,#980 231px,#650 243px,#250 251px,#020 265px,#060 273px,#000 277px,#090 283px)}
.a150{background:linear-gradient(90deg,#020 1px,#010 91px,#040 101px,#020 109px,#080 119px,#030 127px,#0d0 137px,#030 145px,#150 155px,#100 159px,#030 165px,#1d0 173px,#220 177px,#140 181px,#030 185px,#330 195px,#3d0 199px,#2b0 203px,#060 209px,#040 211px,#570 219px,#6b0 221px,#980 231px,#970 233px,#530 245px,#1f0 251px,#010 265px,#050 273px,#000 277px,#090 283px)}
.a151{background:linear-gradient(90deg,#020 1px,#010 91px,#040 101px,#020 109px,#080 119px,#030 127px,#0d0 137px,#030 145px,#150 155px,#030 165px,#180 171px,#210 175px,#1c0 179px,#030 185px,#2b0 193px,#3d0 199px,#290 203px,#040 209px,#070 211px,#5e0 219px,#740 221px,#960 231px,#8b0 235px,#680 239px,#4d0 245px,#130 253px,#010 263px,#050 273px,#000 277px,#090 283px)}
.a152{background:linear-gradient(90deg,#020 1px,#010 93px,#040 101px,#010 109px,#080 119px,#030 127px,#0e0 137px,#030 145px,#150 155px,#0f0 159px,#030 163px,#040 165px,#190 171px,#210 175px,#1a0 179px,#040 185px,#250 191px,#360 195px,#3b0 199px,#260 203px,#070 207px,#030 209px,#7c0 221px,#940 231px,#890 235px,#630 239px,#460 245px,#0e0 253px,#010 263px,#050 273px,#000 277px,#080 283px)}
.a153{background:linear-gradient(90deg,#020 1px,#000 55px,#030 83px,#010 93px,#040 101px,#010 109px,#080 119px,#020 127px,#0e0 137px,#030 145px,#150 155px,#0f0 159px,#030 163px,#1b0 171px,#210 175px,#190 179px,#050 183px,#050 185px,#290 191px,#3b0 197px,#320 201px,#040 207px,#050 209px,#830 221px,#900 231px,#860 235px,#4f0 241px,#400 245px,#0b0 253px,#020 263px,#050 273px,#000 277px,#080 283px)}
.a154{background:linear-gradient(90deg,#020 1px,#000 55px,#030 83px,#010 93px,#040 101px,#010 109px,#080 119px,#020 127px,#0e0 137px,#030 145px,#100 151px,#140 155px,#0e0 159px,#020 163px,#1d0 171px,#210 175px,#170 179px,#040 183px,#060 185px,#2d0 191px,#3a0 197px,#2f0 201px,#200 203px,#020 207px,#720 219px,#950 223px,#820 235px,#480 241px,#2e0 247px,#080 253px,#030 261px,#040 273px,#010 277px,#080 283px)}
.a155{background:linear-gradient(90deg,#020 1px,#000 55px,#030 85px,#010 93px,#040 101px,#010 109px,#080 119px,#020 127px,#0e0 137px,#030 145px,#100 151px,#140 155px,#0d0 159px,#020 163px,#180 169px,#210 173px,#150 179px,#030 183px,#320 191px,#3b0 195px,#2b0 201px,#020 207px,#1f0 211px,#780 219px,#9a0 223px,#7e0 235px,#420 241px,#280 247px,#050 253px,#030 255px,#050 267px,#010 277px,#070 283px)}
.a156{background:linear-gradient(90deg,#020 1px,#000 57px,#030 85px,#010 93px,#040 103px,#010 109px,#080 119px,#020 127px,#0e0 137px,#030 145px,#110 151px,#140 155px,#0c0 159px,#010 163px,#190 169px,#220 173px,#1a0 177px,#020 183px,#280 189px,#360 191px,#3c0 195px,#270 201px,#030 207px,#3b0 213px,#7d0 219px,#9e0 223px,#780 235px,#3c0 241px,#230 247px,#040 253px,#020 255px,#060 265px,#010 277px,#060 283px)}
.a157{background:linear-gradient(90deg,#020 1px,#000 57px,#030 85px,#010 93px,#040 103px,#010 111px,#080 119px,#010 127px,#0e0 137px,#030 145px,#150 153px,#110 157px,#010 163px,#1b0 169px,#230 173px,#190 177px,#020 183px,#2c0 189px,#3f0 193px,#2e0 199px,#140 203px,#060 205px,#060 207px,#450 213px,#960 221px,#a10 223px,#720 235px,#360 241px,#1e0 247px,#010 255px,#070 265px,#010 277px,#060 283px)}
.a158{background:linear-gradient(90deg,#020 1px,#000 57px,#010 93px,#040 103px,#010 111px,#080 119px,#010 127px,#0d0 137px,#030 145px,#150 153px,#110 157px,#010 163px,#1c0 169px,#240 173px,#180 177px,#050 181px,#030 183px,#2f0 189px,#420 193px,#2a0 199px,#040 205px,#090 207px,#4e0 213px,#a30 223px,#6b0 235px,#230 243px,#120 249px,#010 255px,#010 259px,#080 265px,#020 273px,#050 283px)}
.a159{background:linear-gradient(90deg,#020 1px,#010 75px,#040 103px,#010 111px,#080 119px,#010 127px,#0a0 133px,#0d0 137px,#030 145px,#0e0 149px,#160 153px,#100 157px,#020 163px,#1d0 169px,#250 173px,#160 177px,#030 181px,#040 183px,#320 189px,#440 193px,#340 197px,#040 205px,#580 213px,#a30 223px,#630 235px,#570 237px,#1e0 243px,#030 255px,#010 259px,#090 265px,#010 273px,#040 283px)}
.a160{background:linear-gradient(90deg,#020 1px,#000 75px,#040 103px,#010 111px,#080 119px,#010 127px,#0a0 133px,#0d0 137px,#020 145px,#0e0 149px,#170 153px,#100 157px,#030 161px,#030 163px,#1e0 169px,#250 173px,#150 177px,#020 181px,#340 189px,#460 193px,#330 197px,#090 203px,#070 205px,#620 213px,#a20 223px,#9f0 225px,#690 231px,#500 237px,#190 243px,#120 245px,#010 259px,#090 265px,#010 271px,#030 283px)}
.a161{background:linear-gradient(90deg,#020 1px,#000 75px,#040 103px,#010 111px,#080 119px,#010 127px,#0d0 135px,#0b0 139px,#020 145px,#0f0 149px,#170 153px,#100 157px,#020 161px,#040 163px,#160 167px,#250 171px,#1f0 175px,#020 181px,#370 189px,#460 193px,#310 197px,#070 203px,#0b0 205px,#6b0 213px,#880 217px,#a00 223px,#9d0 225px,#630 231px,#4a0 237px,#0e0 245px,#010 259px,#090 265px,#010 271px,#020 283px)}
.a162{background:linear-gradient(90deg,#020 1px,#000 75px,#040 103px,#010 111px,#080 119px,#010 127px,#0d0 135px,#020 145px,#0f0 149px,#170 153px,#0f0 157px,#020 161px,#260 171px,#1e0 175px,#020 181px,#2b0 187px,#440 191px,#470 193px,#3f0 195px,#0c0 201px,#080 203px,#100 205px,#730 213px,#8f0 217px,#9c0 223px,#990 225px,#5e0 231px,#430 237px,#0a0 245px,#070 255px,#010 259px,#090 265px,#010 271px,#030 277px,#020 283px)}
.a163{background:linear-gradient(90deg,#020 1px,#000 75px,#020 85px,#010 95px,#040 103px,#010 111px,#080 119px,#010 127px,#0d0 135px,#0b0 139px,#020 143px,#020 145px,#100 149px,#180 153px,#0f0 157px,#020 161px,#190 167px,#260 171px,#1d0 175px,#050 179px,#040 181px,#2f0 187px,#450 191px,#460 193px,#2c0 197px,#090 201px,#0a0 203px,#5f0 211px,#8d0 215px,#980 223px,#860 227px,#490 233px,#300 239px,#080 245px,#050 247px,#080 255px,#020 259px,#090 265px,#010 271px,#030 277px,#010 283px)}
.a164{background:linear-gradient(90deg,#020 1px,#000 75px,#020 85px,#010 95px,#040 103px,#010 111px,#080 119px,#060 123px,#000 127px,#0d0 135px,#0a0 139px,#010 143px,#020 145px,#100 149px,#180 153px,#0f0 157px,#020 161px,#1b0 167px,#260 171px,#1c0 175px,#030 179px,#060 181px,#330 187px,#450 191px,#3b0 195px,#070 201px,#0d0 203px,#810 213px,#9b0 217px,#810 227px,#420 233px,#2b0 239px,#070 245px,#040 247px,#090 255px,#020 261px,#090 265px,#010 271px,#040 277px,#010 283px)}
.a165{background:linear-gradient(90deg,#030 1px,#000 77px,#020 85px,#010 95px,#040 103px,#010 111px,#080 119px,#060 123px,#010 127px,#0d0 135px,#0a0 139px,#010 143px,#100 149px,#180 153px,#150 155px,#020 161px,#1d0 167px,#260 171px,#1a0 175px,#030 179px,#080 181px,#290 185px,#450 191px,#380 195px,#060 201px,#6d0 211px,#990 215px,#9f0 217px,#7b0 227px,#3c0 233px,#260 239px,#030 247px,#0a0 255px,#010 261px,#080 265px,#010 271px,#040 275px,#010 283px)}
.a166{background:linear-gradient(90deg,#030 1px,#000 77px,#020 87px,#010 95px,#040 103px,#010 111px,#080 119px,#060 123px,#010 127px,#0e0 135px,#0a0 139px,#010 143px,#110 149px,#180 153px,#150 155px,#020 161px,#1f0 167px,#260 171px,#190 175px,#030 179px,#2e0 185px,#3c0 187px,#450 191px,#340 195px,#0d0 199px,#070 201px,#300 205px,#5c0 209px,#8b0 213px,#a30 217px,#740 227px,#360 233px,#1a0 241px,#040 247px,#030 249px,#0a0 255px,#010 261px,#070 265px,#020 271px,#040 275px,#020 283px)}
.a167{background:linear-gradient(90deg,#030 1px,#000 77px,#020 87px,#000 95px,#040 103px,#010 111px,#080 119px,#010 127px,#0e0 135px,#0a0 139px,#010 143px,#110 149px,#180 153px,#030 161px,#180 165px,#270 169px,#210 173px,#030 179px,#330 185px,#460 189px,#3d0 193px,#2f0 195px,#0b0 199px,#090 201px,#510 207px,#8f0 213px,#a40 217px,#6c0 227px,#250 235px,#170 241px,#030 249px,#0a0 255px,#010 261px,#070 265px,#020 271px,#030 283px)}
.a168{background:linear-gradient(90deg,#030 1px,#010 69px,#000 77px,#020 87px,#000 95px,#040 103px,#010 111px,#080 119px,#010 127px,#0e0 135px,#0a0 139px,#010 143px,#120 149px,#180 153px,#140 155px,#040 159px,#030 161px,#1a0 165px,#280 169px,#1f0 173px,#040 179px,#370 185px,#480 189px,#3a0 193px,#090 199px,#0d0 201px,#420 205px,#5b0 207px,#920 213px,#a50 217px,#540 229px,#200 235px,#110 243px,#040 249px,#0a0 255px,#010 261px,#060 265px,#030 271px,#050 283px)}
.a169{background:linear-gradient(90deg,#030 1px,#020 69px,#000 77px,#020 87px,#000 95px,#040 103px,#010 111px,#080 119px,#010 127px,#0e0 135px,#0a0 139px,#010 143px,#170 151px,#140 155px,#040 159px,#040 161px,#1c0 165px,#290 169px,#1e0 173px,#080 177px,#060 179px,#3b0 185px,#4a0 189px,#360 193px,#080 199px,#120 201px,#4b0 205px,#650 207px,#940 213px,#a30 217px,#4d0 229px,#1c0 235px,#0f0 245px,#040 251px,#090 257px,#010 261px,#050 265px,#030 271px,#060 283px)}
.a170{background:linear-gradient(90deg,#020 1px,#020 69px,#000 77px,#020 87px,#000 95px,#040 103px,#010 111px,#080 119px,#010 127px,#0e0 135px,#0a0 139px,#010 143px,#180 151px,#130 155px,#030 159px,#050 161px,#1d0 165px,#2b0 169px,#1d0 173px,#070 177px,#090 179px,#3e0 185px,#4c0 189px,#330 193px,#0a0 199px,#6f0 207px,#8d0 211px,#a00 217px,#860 221px,#120 237px,#100 245px,#030 251px,#080 257px,#010 261px,#040 265px,#030 277px,#070 283px)}
.a171{background:linear-gradient(90deg,#020 1px,#020 69px,#000 77px,#020 87px,#000 95px,#040 103px,#010 111px,#080 119px,#010 127px,#0e0 135px,#0a0 139px,#010 143px,#0d0 147px,#180 151px,#130 155px,#030 159px,#060 161px,#1f0 165px,#2c0 169px,#260 171px,#070 177px,#0c0 179px,#410 185px,#4d0 187px,#420 191px,#0e0 197px,#0d0 199px,#780 207px,#930 211px,#9c0 217px,#820 221px,#0f0 237px,#110 245px,#030 251px,#080 257px,#010 261px,#040 273px,#030 277px,#090 283px)}
.a172{background:linear-gradient(90deg,#020 1px,#020 69px,#000 77px,#020 85px,#000 95px,#040 105px,#010 111px,#080 119px,#010 127px,#0e0 135px,#0a0 139px,#010 143px,#0e0 147px,#190 151px,#120 155px,#030 159px,#210 165px,#2d0 169px,#260 171px,#070 177px,#330 183px,#4e0 187px,#400 191px,#0c0 197px,#120 199px,#800 207px,#920 209px,#990 213px,#8f0 219px,#400 227px,#0c0 239px,#110 245px,#030 251px,#070 257px,#010 261px,#050 273px,#020 277px,#0a0 283px)}
.a173{background:linear-gradient(90deg,#020 1px,#020 69px,#000 77px,#020 85px,#010 95px,#040 105px,#010 111px,#080 121px,#010 127px,#0e0 135px,#0a0 139px,#020 143px,#0e0 147px,#1a0 151px,#120 155px,#030 159px,#220 165px,#2d0 169px,#260 171px,#0b0 175px,#080 177px,#370 183px,#4f0 187px,#3e0 191px,#140 195px,#0c0 197px,#860 207px,#9d0 211px,#880 219px,#390 227px,#0b0 239px,#110 245px,#020 253px,#060 257px,#020 261px,#050 273px,#020 277px,#0c0 283px)}
.a174{background:linear-gradient(90deg,#020 1px,#030 55px,#010 95px,#040 105px,#010 111px,#080 121px,#010 127px,#0f0 135px,#0a0 139px,#020 143px,#0f0 147px,#1a0 151px,#120 155px,#030 159px,#2d0 167px,#260 171px,#0a0 175px,#090 177px,#3c0 183px,#4f0 187px,#3c0 191px,#100 195px,#0d0 197px,#720 205px,#9d0 209px,#a00 211px,#800 219px,#330 227px,#0c0 239px,#0f0 247px,#010 253px,#060 257px,#020 267px,#050 273px,#010 277px,#0d0 283px)}
.a175{background:linear-gradient(90deg,#020 1px,#030 55px,#010 95px,#040 105px,#010 111px,#080 121px,#020 127px,#0f0 135px,#020 143px,#100 147px,#1b0 151px,#190 153px,#040 159px,#190 163px,#2e0 167px,#250 171px,#090 175px,#0b0 177px,#400 183px,#4f0 187px,#380 191px,#0e0 195px,#100 197px,#420 201px,#790 205px,#a00 209px,#a30 211px,#690 221px,#230 229px,#0b0 241px,#0f0 247px,#010 253px,#050 257px,#020 267px,#060 273px,#010 277px,#0e0 283px)}
.a176{background:linear-gradient(90deg,#020 1px,#030 55px,#010 95px,#040 105px,#020 113px,#080 121px,#020 127px,#0f0 135px,#030 143px,#180 149px,#1b0 151px,#190 153px,#050 159px,#1c0 163px,#2f0 167px,#240 171px,#080 175px,#0d0 177px,#450 183px,#4e0 187px,#350 191px,#0d0 195px,#150 197px,#4c0 201px,#800 205px,#a10 209px,#a30 211px,#610 221px,#1f0 229px,#0b0 241px,#0d0 247px,#010 253px,#040 257px,#010 267px,#060 273px,#000 277px,#0b0 281px,#0e0 283px)}
.a177{background:linear-gradient(90deg,#020 1px,#030 57px,#010 95px,#040 105px,#020 113px,#080 121px,#020 127px,#0f0 135px,#030 143px,#110 147px,#1c0 151px,#060 159px,#1e0 163px,#300 167px,#220 171px,#080 175px,#100 177px,#390 181px,#500 185px,#430 189px,#0d0 195px,#1a0 197px,#560 201px,#710 203px,#970 207px,#a20 211px,#4a0 223px,#1c0 229px,#0a0 243px,#0c0 247px,#010 253px,#040 263px,#020 269px,#070 273px,#000 277px,#0b0 281px,#0e0 283px)}
.a178{background:linear-gradient(90deg,#010 1px,#030 57px,#010 95px,#040 105px,#020 113px,#080 121px,#020 127px,#0f0 135px,#040 143px,#120 147px,#1c0 151px,#190 153px,#070 157px,#070 159px,#200 163px,#310 167px,#210 171px,#090 175px,#3e0 181px,#520 185px,#3f0 189px,#0e0 195px,#600 201px,#7b0 203px,#a00 209px,#940 213px,#150 231px,#150 237px,#090 243px,#080 249px,#020 253px,#050 263px,#010 269px,#070 273px,#010 277px,#0e0 283px)}
.a179{background:linear-gradient(90deg,#010 1px,#030 71px,#010 79px,#030 87px,#010 95px,#040 105px,#020 113px,#090 121px,#030 127px,#100 135px,#040 143px,#130 147px,#1d0 151px,#190 153px,#070 157px,#080 159px,#230 163px,#320 167px,#2c0 169px,#0a0 175px,#430 181px,#530 185px,#3b0 189px,#150 193px,#110 195px,#690 201px,#840 203px,#9e0 209px,#8f0 213px,#550 219px,#140 231px,#150 237px,#090 243px,#020 253px,#050 263px,#010 269px,#080 273px,#010 277px,#0e0 283px)}
.a180{background:linear-gradient(90deg,#010 1px,#030 73px,#010 79px,#030 87px,#010 95px,#040 105px,#020 113px,#090 121px,#030 127px,#100 135px,#050 143px,#140 147px,#1d0 151px,#190 153px,#070 157px,#090 159px,#300 165px,#330 167px,#0b0 175px,#470 181px,#550 185px,#4a0 187px,#140 193px,#160 195px,#710 201px,#8b0 203px,#9e0 207px,#890 213px,#400 221px,#140 231px,#130 239px,#050 245px,#020 259px,#060 265px,#010 269px,#090 273px,#020 277px,#0d0 283px)}
.a181{background:linear-gradient(90deg,#010 1px,#040 73px,#010 81px,#040 87px,#010 95px,#040 103px,#020 113px,#090 121px,#030 127px,#100 135px,#060 143px,#150 147px,#1e0 151px,#070 157px,#0a0 159px,#280 163px,#330 167px,#2b0 169px,#0e0 173px,#0d0 175px,#360 179px,#570 183px,#480 187px,#130 193px,#1b0 195px,#780 201px,#920 203px,#9f0 207px,#820 213px,#3a0 221px,#160 231px,#130 239px,#040 245px,#010 259px,#060 265px,#010 269px,#090 273px,#030 279px,#0c0 283px)}
.a182{background:linear-gradient(90deg,#010 1px,#040 73px,#010 81px,#040 87px,#010 95px,#040 103px,#030 113px,#090 121px,#040 127px,#110 135px,#060 143px,#160 147px,#1e0 151px,#080 157px,#0c0 159px,#2a0 163px,#340 165px,#2b0 169px,#0d0 173px,#100 175px,#3a0 179px,#580 183px,#460 187px,#1b0 191px,#140 193px,#210 195px,#7e0 201px,#a20 205px,#7a0 213px,#2c0 223px,#110 233px,#0f0 241px,#020 247px,#040 255px,#010 259px,#070 265px,#010 269px,#0a0 273px,#030 279px,#0b0 283px)}
.a183{background:linear-gradient(90deg,#010 1px,#040 59px,#020 67px,#040 73px,#010 81px,#040 87px,#010 95px,#050 103px,#030 113px,#090 121px,#040 127px,#110 135px,#070 143px,#170 147px,#1f0 151px,#080 157px,#350 165px,#2a0 169px,#0d0 173px,#130 175px,#3f0 179px,#5a0 183px,#430 187px,#180 191px,#160 193px,#840 201px,#a40 205px,#920 209px,#290 223px,#0f0 235px,#0e0 241px,#010 247px,#040 255px,#010 259px,#080 265px,#010 269px,#0a0 273px,#020 279px,#090 283px)}
.a184{background:linear-gradient(90deg,#010 1px,#040 61px,#020 67px,#040 75px,#010 81px,#040 89px,#010 95px,#050 103px,#030 113px,#090 121px,#040 127px,#120 135px,#070 141px,#080 143px,#180 147px,#1f0 151px,#090 157px,#2e0 163px,#370 165px,#290 169px,#0d0 173px,#160 175px,#440 179px,#5b0 183px,#400 187px,#160 191px,#190 193px,#890 201px,#a40 205px,#8f0 209px,#270 223px,#1e0 229px,#0e0 235px,#0c0 241px,#010 249px,#040 255px,#000 259px,#080 265px,#010 269px,#0a0 273px,#0a0 275px,#020 279px,#080 283px)}
.a185{background:linear-gradient(90deg,#010 1px,#040 61px,#020 67px,#040 75px,#010 81px,#050 89px,#020 95px,#050 103px,#040 113px,#090 121px,#050 127px,#120 135px,#070 141px,#090 143px,#200 149px,#190 153px,#0a0 157px,#310 163px,#380 165px,#350 167px,#0e0 173px,#490 179px,#5c0 183px,#510 185px,#150 191px,#1d0 193px,#740 199px,#9e0 203px,#a30 205px,#9c0 207px,#260 223px,#020 249px,#040 255px,#010 259px,#090 265px,#010 269px,#0a0 273px,#0b0 275px,#010 279px,#070 283px)}
.a186{background:linear-gradient(90deg,#010 1px,#040 61px,#020 69px,#050 75px,#010 81px,#050 89px,#020 95px,#060 103px,#040 113px,#090 121px,#050 127px,#130 135px,#080 141px,#090 143px,#210 149px,#200 151px,#0b0 157px,#330 163px,#3a0 165px,#350 167px,#0f0 173px,#4d0 179px,#5c0 183px,#4f0 185px,#150 191px,#220 193px,#7b0 199px,#9e0 203px,#a10 205px,#870 209px,#4d0 215px,#260 223px,#190 231px,#090 237px,#010 251px,#040 255px,#010 259px,#090 265px,#010 269px,#0a0 273px,#0b0 275px,#010 279px,#060 283px)}
.a187{background:linear-gradient(90deg,#010 1px,#040 61px,#020 69px,#050 75px,#010 83px,#050 89px,#020 97px,#060 103px,#040 111px,#0a0 121px,#050 127px,#130 135px,#080 141px,#220 149px,#210 151px,#0c0 157px,#350 163px,#3b0 165px,#360 167px,#150 171px,#110 173px,#510 179px,#5e0 181px,#4c0 185px,#1e0 189px,#160 191px,#810 199px,#9e0 203px,#930 207px,#3c0 217px,#060 239px,#020 259px,#090 265px,#020 269px,#0b0 275px,#010 279px,#050 283px)}
.a188{background:linear-gradient(90deg,#010 1px,#040 63px,#020 69px,#050 75px,#010 83px,#060 89px,#020 97px,#060 103px,#040 111px,#0a0 121px,#060 127px,#140 135px,#080 141px,#230 149px,#0d0 157px,#370 163px,#3c0 165px,#350 167px,#140 171px,#130 173px,#3f0 177px,#600 181px,#5b0 183px,#4a0 185px,#1b0 189px,#180 191px,#6d0 197px,#870 199px,#9d0 203px,#8e0 207px,#380 217px,#110 233px,#040 239px,#070 247px,#010 253px,#050 257px,#030 261px,#090 265px,#020 269px,#0a0 275px,#010 279px,#050 283px)}
.a189{background:linear-gradient(90deg,#010 1px,#040 63px,#020 69px,#050 77px,#010 83px,#060 89px,#020 97px,#070 103px,#040 111px,#0a0 121px,#070 127px,#140 135px,#090 141px,#240 149px,#0e0 157px,#390 163px,#3d0 165px,#350 167px,#140 171px,#150 173px,#440 177px,#610 181px,#470 185px,#190 189px,#1b0 191px,#540 195px,#8b0 199px,#9b0 203px,#880 207px,#360 217px,#030 239px,#080 247px,#010 253px,#060 257px,#030 261px,#090 265px,#030 269px,#0a0 275px,#010 279px,#050 283px)}
.a190{background:linear-gradient(90deg,#010 1px,#020 57px,#040 63px,#020 71px,#050 77px,#010 83px,#060 91px,#020 97px,#070 103px,#040 111px,#0b0 121px,#070 127px,#150 135px,#090 141px,#250 149px,#100 155px,#100 157px,#2e0 161px,#3e0 165px,#350 167px,#140 171px,#180 173px,#490 177px,#5c0 179px,#620 181px,#590 183px,#180 189px,#1f0 191px,#780 197px,#8e0 199px,#990 203px,#820 207px,#340 217px,#040 239px,#080 249px,#010 253px,#060 257px,#030 261px,#080 265px,#030 271px,#090 275px,#010 279px,#060 283px)}
.a191{background:linear-gradient(90deg,#000 1px,#020 57px,#040 65px,#010 71px,#050 77px,#010 83px,#060 91px,#020 97px,#070 103px,#050 111px,#0b0 121px,#080 127px,#160 135px,#0a0 141px,#270 149px,#100 155px,#120 157px,#300 161px,#3f0 165px,#350 167px,#140 171px,#1a0 173px,#4e0 177px,#630 181px,#560 183px,#170 189px,#230 191px,#7d0 197px,#980 201px,#8c0 205px,#330 217px,#040 239px,#080 249px,#010 253px,#070 257px,#040 261px,#080 267px,#020 271px,#080 275px,#010 279px,#070 283px)}
.a192{background:linear-gradient(90deg,#000 1px,#020 59px,#040 65px,#010 71px,#050 77px,#010 85px,#070 91px,#010 97px,#080 103px,#050 111px,#0c0 121px,#080 127px,#160 135px,#0b0 141px,#280 149px,#100 155px,#130 157px,#330 161px,#3f0 165px,#150 171px,#1d0 173px,#520 177px,#620 179px,#540 183px,#220 187px,#180 189px,#810 197px,#960 201px,#870 205px,#320 217px,#070 235px,#050 243px,#080 249px,#010 253px,#080 257px,#040 263px,#070 267px,#020 271px,#060 275px,#010 279px,#080 283px)}
.a193{background:linear-gradient(90deg,#000 1px,#030 53px,#010 59px,#040 65px,#010 71px,#060 79px,#010 85px,#070 91px,#020 97px,#090 105px,#050 111px,#0d0 119px,#080 127px,#170 135px,#0b0 141px,#290 149px,#100 155px,#150 157px,#360 161px,#400 163px,#330 167px,#160 171px,#200 173px,#560 177px,#650 179px,#630 181px,#510 183px,#1f0 187px,#190 189px,#840 197px,#940 201px,#820 205px,#310 217px,#070 233px,#070 249px,#020 253px,#090 259px,#030 263px,#070 267px,#010 271px,#050 275px,#010 279px,#090 283px)}
.a194{background:linear-gradient(90deg,#000 1px,#030 53px,#010 59px,#040 65px,#010 73px,#060 79px,#010 85px,#070 91px,#020 97px,#090 105px,#040 111px,#0d0 119px,#090 127px,#180 135px,#0c0 141px,#2a0 149px,#110 155px,#420 163px,#3f0 165px,#170 171px,#590 177px,#670 179px,#630 181px,#4f0 183px,#1d0 187px,#1c0 189px,#6f0 195px,#860 197px,#920 201px,#300 217px,#060 233px,#060 249px,#020 253px,#090 259px,#030 263px,#060 267px,#010 271px,#040 275px,#010 279px,#090 283px)}
.a195{background:linear-gradient(90deg,#010 1px,#030 53px,#010 59px,#040 67px,#010 73px,#060 79px,#010 85px,#080 93px,#020 99px,#0a0 105px,#040 111px,#0e0 119px,#090 127px,#180 133px,#0d0 141px,#2b0 149px,#110 155px,#180 157px,#3c0 161px,#440 163px,#3f0 165px,#190 171px,#5c0 177px,#680 179px,#620 181px,#4c0 183px,#1a0 187px,#1e0 189px,#720 195px,#910 199px,#870 203px,#2f0 217px,#060 233px,#080 243px,#020 253px,#0a0 259px,#030 263px,#060 267px,#010 271px,#030 275px,#010 279px,#090 283px)}
.a196{background:linear-gradient(90deg,#010 1px,#010 47px,#030 55px,#010 61px,#050 67px,#010 73px,#060 79px,#010 85px,#080 93px,#010 99px,#0b0 105px,#040 111px,#0f0 119px,#0a0 127px,#190 133px,#0e0 141px,#290 147px,#2c0 149px,#120 155px,#3f0 161px,#460 163px,#400 165px,#1e0 169px,#1b0 171px,#5e0 177px,#690 179px,#610 181px,#180 187px,#210 189px,#740 195px,#8f0 199px,#850 203px,#240 219px,#060 233px,#080 243px,#030 253px,#090 259px,#030 263px,#050 267px,#010 271px,#030 275px,#010 279px,#080 283px)}
.a197{background:linear-gradient(90deg,#010 1px,#010 49px,#030 55px,#010 61px,#040 67px,#010 73px,#060 81px,#010 87px,#090 93px,#010 99px,#0c0 105px,#040 111px,#100 119px,#0a0 127px,#1a0 133px,#0f0 141px,#2b0 147px,#2d0 149px,#140 155px,#410 161px,#480 163px,#400 165px,#1e0 169px,#1d0 171px,#600 177px,#680 179px,#5f0 181px,#170 187px,#760 195px,#8d0 199px,#830 203px,#1b0 221px,#080 231px,#090 241px,#040 251px,#080 259px,#030 263px,#040 269px,#010 271px,#040 275px,#020 279px,#070 283px)}
.a198{background:linear-gradient(90deg,#010 1px,#010 49px,#030 55px,#010 61px,#050 69px,#010 75px,#070 81px,#000 87px,#090 93px,#010 99px,#0c0 105px,#040 111px,#110 119px,#0a0 127px,#1c0 133px,#0f0 141px,#2d0 147px,#2e0 149px,#150 155px,#430 161px,#490 163px,#410 165px,#1d0 169px,#1f0 171px,#4e0 175px,#670 179px,#5c0 181px,#160 187px,#620 193px,#780 195px,#8a0 199px,#750 205px,#180 221px,#090 231px,#090 241px,#040 251px,#070 259px,#020 263px,#030 269px,#010 271px,#040 275px,#020 279px,#050 283px)}
.a199{background:linear-gradient(90deg,#010 1px,#010 49px,#030 57px,#010 63px,#050 69px,#010 75px,#070 81px,#000 87px,#0a0 93px,#010 99px,#0d0 105px,#050 113px,#130 119px,#0b0 127px,#1d0 133px,#100 141px,#2f0 147px,#2f0 149px,#160 155px,#450 161px,#4a0 163px,#410 165px,#1d0 169px,#210 171px,#520 175px,#630 177px,#660 179px,#590 181px,#230 185px,#160 187px,#650 193px,#7a0 195px,#870 199px,#750 205px,#150 221px,#0e0 225px,#0a0 241px,#040 249px,#080 257px,#020 263px,#010 271px,#040 275px,#020 283px)}
.a200{background:linear-gradient(90deg,#010 1px,#010 51px,#030 57px,#010 63px,#050 69px,#000 75px,#070 81px,#010 87px,#0a0 93px,#0a0 95px,#020 99px,#0f0 107px,#040 113px,#140 119px,#0a0 125px,#1e0 133px,#110 141px,#310 147px,#300 149px,#180 155px,#470 161px,#4b0 163px,#410 165px,#1d0 169px,#230 171px,#550 175px,#650 177px,#550 181px,#200 185px,#170 187px,#670 193px,#7b0 195px,#850 199px,#690 207px,#120 221px,#0b0 225px,#0a0 241px,#040 247px,#080 257px,#010 263px,#050 277px,#010 283px)}
.a201{background:linear-gradient(90deg,#010 1px,#010 51px,#030 57px,#010 63px,#050 69px,#010 75px,#070 83px,#010 87px,#0b0 95px,#020 101px,#0f0 105px,#100 107px,#040 113px,#160 119px,#0a0 125px,#200 133px,#120 141px,#320 147px,#320 149px,#1b0 153px,#190 155px,#490 161px,#4b0 163px,#1d0 169px,#250 171px,#580 175px,#660 177px,#500 181px,#1e0 185px,#170 187px,#680 193px,#7c0 195px,#850 199px,#690 207px,#2b0 215px,#090 225px,#0e0 231px,#080 237px,#0a0 241px,#030 247px,#080 257px,#010 261px,#060 277px,#030 283px)}
.a202{background:linear-gradient(90deg,#010 1px,#010 51px,#030 59px,#010 63px,#050 71px,#010 77px,#080 83px,#010 89px,#0a0 93px,#0c0 95px,#020 101px,#0f0 105px,#120 107px,#040 113px,#180 119px,#0a0 125px,#210 133px,#130 141px,#340 147px,#1a0 155px,#4b0 161px,#3f0 165px,#1e0 169px,#270 171px,#5a0 175px,#660 177px,#4d0 181px,#1b0 185px,#180 187px,#680 193px,#7c0 195px,#860 199px,#670 207px,#1c0 217px,#090 225px,#0f0 233px,#030 247px,#070 251px,#070 257px,#000 261px,#060 265px,#000 269px,#040 273px,#060 283px)}
.a203{background:linear-gradient(90deg,#010 1px,#010 53px,#030 59px,#010 65px,#050 71px,#000 77px,#080 83px,#010 89px,#0d0 95px,#010 101px,#100 105px,#130 107px,#030 113px,#1a0 119px,#0a0 125px,#230 133px,#130 139px,#140 141px,#360 147px,#340 149px,#1c0 153px,#1c0 155px,#4d0 161px,#4c0 163px,#1f0 169px,#2a0 171px,#5c0 175px,#660 177px,#5f0 179px,#490 181px,#190 185px,#190 187px,#670 193px,#7b0 195px,#880 199px,#650 207px,#180 217px,#0c0 223px,#100 233px,#030 247px,#090 251px,#050 257px,#000 261px,#080 265px,#010 269px,#050 273px,#080 283px)}
.a204{background:linear-gradient(90deg,#010 1px,#010 53px,#030 59px,#000 65px,#050 71px,#000 77px,#080 83px,#010 89px,#0d0 95px,#0c0 97px,#010 101px,#100 105px,#140 107px,#120 109px,#030 113px,#1c0 119px,#1a0 121px,#0a0 125px,#0c0 127px,#210 131px,#250 133px,#130 139px,#150 141px,#380 147px,#350 149px,#1d0 153px,#1d0 155px,#4e0 161px,#4c0 163px,#200 169px,#5c0 175px,#650 177px,#5c0 179px,#160 185px,#1a0 187px,#4c0 191px,#7a0 195px,#8a0 199px,#610 207px,#150 217px,#0d0 221px,#0f0 233px,#060 239px,#070 243px,#030 247px,#0b0 251px,#010 261px,#090 265px,#010 269px,#060 273px,#020 277px,#080 283px)}
.a205{background:linear-gradient(90deg,#010 1px,#010 53px,#030 61px,#010 65px,#050 73px,#010 77px,#080 83px,#080 85px,#010 89px,#0e0 95px,#0d0 97px,#010 101px,#160 107px,#140 109px,#030 113px,#1e0 119px,#1d0 121px,#0a0 125px,#0c0 127px,#230 131px,#270 133px,#140 139px,#160 141px,#3a0 147px,#360 149px,#1d0 153px,#1f0 155px,#450 159px,#500 161px,#4d0 163px,#200 169px,#5d0 175px,#640 177px,#5a0 179px,#150 185px,#1a0 187px,#660 193px,#8c0 199px,#6e0 205px,#0d0 219px,#0f0 233px,#050 239px,#050 247px,#0d0 251px,#010 261px,#080 265px,#020 269px,#050 273px,#010 279px,#060 283px)}
.a206{background:linear-gradient(90deg,#010 1px,#010 55px,#030 61px,#010 67px,#050 73px,#010 79px,#080 85px,#010 89px,#0e0 95px,#0e0 97px,#020 101px,#170 107px,#160 109px,#040 113px,#1f0 119px,#1f0 121px,#0b0 125px,#0c0 127px,#250 131px,#2a0 133px,#140 139px,#180 141px,#3b0 147px,#370 149px,#1e0 153px,#200 155px,#470 159px,#510 161px,#4c0 163px,#270 167px,#210 169px,#5c0 175px,#620 177px,#560 179px,#130 185px,#1b0 187px,#660 193px,#8e0 199px,#7e0 203px,#1b0 215px,#0d0 219px,#100 229px,#050 239px,#070 247px,#0e0 251px,#020 257px,#010 261px,#060 265px,#010 269px,#040 273px,#010 279px,#040 283px)}
.a207{background:linear-gradient(90deg,#010 1px,#010 55px,#030 61px,#010 67px,#050 73px,#010 79px,#090 85px,#020 89px,#030 91px,#0e0 95px,#0f0 97px,#030 101px,#180 107px,#180 109px,#040 113px,#080 115px,#210 119px,#220 121px,#0b0 125px,#0b0 127px,#280 131px,#270 135px,#140 139px,#3d0 147px,#380 149px,#1e0 153px,#220 155px,#490 159px,#530 161px,#4c0 163px,#270 167px,#220 169px,#5c0 175px,#600 177px,#530 179px,#120 185px,#1b0 187px,#670 193px,#900 199px,#7e0 203px,#1a0 215px,#0e0 219px,#110 229px,#050 239px,#080 247px,#0f0 251px,#010 257px,#040 265px,#010 269px,#040 283px)}
.a208{background:linear-gradient(90deg,#010 1px,#010 55px,#030 61px,#010 67px,#050 73px,#010 79px,#090 85px,#020 91px,#0e0 95px,#100 97px,#030 101px,#040 103px,#190 107px,#1a0 109px,#050 113px,#070 115px,#230 119px,#250 121px,#0c0 125px,#0b0 127px,#2a0 131px,#300 133px,#140 139px,#380 145px,#3e0 147px,#1f0 153px,#240 155px,#4b0 159px,#540 161px,#4c0 163px,#250 167px,#230 169px,#4a0 173px,#5d0 177px,#500 179px,#110 185px,#1b0 187px,#680 193px,#8d0 197px,#920 199px,#7d0 203px,#220 213px,#0f0 219px,#110 229px,#050 239px,#0f0 251px,#020 257px,#040 261px,#000 271px,#060 277px,#080 283px)}
.a209{background:linear-gradient(90deg,#010 1px,#010 57px,#030 63px,#010 67px,#050 73px,#020 79px,#090 85px,#020 91px,#0f0 95px,#110 97px,#040 101px,#040 103px,#190 107px,#1b0 109px,#070 113px,#060 115px,#250 119px,#280 121px,#0d0 125px,#0a0 127px,#2d0 131px,#330 133px,#140 139px,#3b0 145px,#400 147px,#200 153px,#250 155px,#4d0 159px,#540 161px,#4b0 163px,#240 167px,#230 169px,#4a0 173px,#5a0 177px,#4d0 179px,#100 185px,#1b0 187px,#6a0 193px,#8e0 197px,#930 199px,#7c0 203px,#200 213px,#0f0 221px,#120 229px,#030 239px,#0b0 243px,#0e0 251px,#030 255px,#060 259px,#000 271px,#070 277px,#0b0 283px)}
.a210{background:linear-gradient(90deg,#010 1px,#010 57px,#050 75px,#020 79px,#090 85px,#020 91px,#120 97px,#030 103px,#1a0 107px,#1d0 109px,#160 111px,#080 113px,#060 115px,#260 119px,#2a0 121px,#200 123px,#0f0 125px,#0a0 127px,#2f0 131px,#360 133px,#140 139px,#3e0 145px,#390 149px,#210 153px,#270 155px,#4e0 159px,#550 161px,#4b0 163px,#230 167px,#240 169px,#570 175px,#560 177px,#490 179px,#100 185px,#1b0 187px,#6e0 193px,#900 197px,#930 199px,#790 203px,#340 209px,#1e0 213px,#100 221px,#120 229px,#010 239px,#0b0 243px,#0d0 251px,#020 255px,#090 259px,#010 265px,#010 271px,#0d0 283px)}
.a211{background:linear-gradient(90deg,#010 1px,#010 57px,#050 75px,#020 79px,#090 85px,#020 91px,#120 97px,#030 103px,#1a0 107px,#1f0 109px,#050 115px,#270 119px,#2d0 121px,#090 127px,#310 131px,#3a0 133px,#310 135px,#140 139px,#410 145px,#430 147px,#220 153px,#290 155px,#4f0 159px,#550 161px,#4a0 163px,#220 167px,#230 169px,#4a0 173px,#530 177px,#460 179px,#100 185px,#1b0 187px,#710 193px,#920 197px,#880 201px,#320 209px,#1d0 213px,#0f0 223px,#130 229px,#010 239px,#0e0 245px,#0a0 251px,#030 255px,#0c0 259px,#000 267px,#030 279px,#0d0 283px)}
.a212{background:linear-gradient(90deg,#010 1px,#030 79px,#090 85px,#030 91px,#130 97px,#100 99px,#030 103px,#1a0 107px,#200 109px,#1a0 111px,#050 115px,#280 119px,#2f0 121px,#260 123px,#090 127px,#330 131px,#3d0 133px,#340 135px,#140 139px,#440 145px,#450 147px,#220 153px,#4f0 159px,#530 161px,#480 163px,#200 167px,#230 169px,#4a0 173px,#500 177px,#120 185px,#1b0 187px,#750 193px,#940 197px,#840 201px,#310 209px,#1c0 213px,#100 223px,#120 231px,#010 239px,#0c0 245px,#040 255px,#0e0 259px,#0a0 261px,#020 263px,#010 267px,#040 275px,#010 279px,#0a0 283px)}
.a213{background:linear-gradient(90deg,#010 1px,#030 79px,#090 85px,#030 91px,#130 97px,#120 99px,#030 103px,#1a0 107px,#220 109px,#1c0 111px,#040 115px,#290 119px,#320 121px,#290 123px,#090 127px,#350 131px,#400 133px,#380 135px,#140 139px,#480 145px,#470 147px,#230 153px,#4e0 159px,#520 161px,#460 163px,#1f0 167px,#220 169px,#480 173px,#4e0 177px,#130 185px,#1d0 187px,#780 193px,#960 197px,#800 201px,#310 209px,#1e0 213px,#110 223px,#160 231px,#020 239px,#010 241px,#0a0 245px,#050 255px,#0e0 259px,#0b0 261px,#030 263px,#010 269px,#030 275px,#010 279px,#060 283px)}
.a214{background:linear-gradient(90deg,#010 1px,#030 79px,#0a0 85px,#030 91px,#140 97px,#130 99px,#030 103px,#1a0 107px,#230 109px,#1f0 111px,#040 115px,#290 119px,#340 121px,#2c0 123px,#090 127px,#360 131px,#430 133px,#3b0 135px,#140 139px,#4b0 145px,#4a0 147px,#280 151px,#230 153px,#4e0 159px,#500 161px,#1e0 167px,#200 169px,#470 173px,#4d0 177px,#150 185px,#1f0 187px,#790 193px,#960 197px,#8e0 199px,#3f0 207px,#1f0 213px,#100 225px,#1a0 231px,#010 241px,#070 245px,#050 255px,#0e0 259px,#0b0 261px,#030 263px,#030 267px,#010 269px,#020 271px,#000 273px,#020 275px,#010 277px,#040 279px,#020 283px)}
.a215{background:linear-gradient(90deg,#010 1px,#020 65px,#030 79px,#0a0 85px,#040 91px,#150 97px,#140 99px,#040 103px,#240 109px,#210 111px,#050 115px,#290 119px,#360 121px,#300 123px,#090 127px,#370 131px,#460 133px,#3f0 135px,#140 139px,#4e0 145px,#4c0 147px,#270 151px,#230 153px,#420 157px,#4e0 161px,#1e0 167px,#1f0 169px,#440 173px,#4d0 177px,#160 185px,#220 187px,#7a0 193px,#950 197px,#8c0 199px,#320 209px,#170 217px,#110 225px,#1e0 231px,#020 241px,#050 255px,#0e0 259px,#030 263px,#040 267px,#010 269px,#030 271px,#010 273px,#060 279px,#010 283px)}
.a216{background:linear-gradient(90deg,#010 1px,#020 65px,#060 73px,#030 79px,#0b0 85px,#040 91px,#150 97px,#150 99px,#050 103px,#250 109px,#230 111px,#060 115px,#290 119px,#380 121px,#330 123px,#0a0 127px,#380 131px,#490 133px,#420 135px,#140 139px,#510 145px,#4f0 147px,#260 151px,#220 153px,#430 157px,#4b0 161px,#1d0 167px,#1e0 169px,#4d0 175px,#4c0 177px,#1d0 183px,#180 185px,#250 187px,#7b0 193px,#920 197px,#880 199px,#3e0 207px,#160 217px,#110 225px,#200 231px,#070 239px,#050 247px,#010 251px,#060 253px,#0d0 259px,#0b0 261px,#030 263px,#050 267px,#020 269px,#070 279px,#040 283px)}
.a217{background:linear-gradient(90deg,#010 1px,#010 43px,#040 61px,#020 65px,#070 73px,#030 79px,#0c0 85px,#040 91px,#160 97px,#160 99px,#050 103px,#260 109px,#250 111px,#070 115px,#3a0 121px,#360 123px,#0b0 127px,#390 131px,#4c0 133px,#460 135px,#140 139px,#540 145px,#510 147px,#250 151px,#210 153px,#440 157px,#490 161px,#1c0 167px,#1e0 169px,#4b0 175px,#4c0 177px,#420 179px,#1e0 183px,#190 185px,#7a0 193px,#8e0 197px,#3f0 207px,#130 219px,#110 225px,#210 233px,#0a0 239px,#050 249px,#010 251px,#070 255px,#0a0 259px,#0a0 261px,#030 263px,#070 267px,#020 269px,#080 277px,#070 283px)}
.a218{background:linear-gradient(90deg,#020 1px,#010 55px,#050 61px,#020 67px,#080 73px,#030 79px,#0e0 85px,#040 91px,#170 97px,#170 99px,#060 103px,#0a0 105px,#270 109px,#270 111px,#080 115px,#100 117px,#290 119px,#3b0 121px,#390 123px,#0c0 127px,#190 129px,#3a0 131px,#4e0 133px,#490 135px,#150 139px,#200 141px,#400 143px,#560 145px,#530 147px,#240 151px,#200 153px,#450 157px,#4d0 159px,#470 161px,#1b0 167px,#1d0 169px,#3d0 173px,#4d0 177px,#440 179px,#200 183px,#1b0 185px,#790 193px,#890 197px,#1a0 215px,#110 219px,#120 227px,#220 233px,#0d0 239px,#0f0 243px,#080 249px,#010 253px,#080 257px,#080 261px,#040 263px,#090 267px,#010 271px,#0a0 277px,#040 279px,#080 283px)}
.a219{background:linear-gradient(90deg,#020 1px,#010 55px,#050 61px,#010 67px,#0a0 73px,#020 79px,#0f0 85px,#0f0 87px,#040 91px,#190 97px,#190 99px,#070 103px,#0a0 105px,#280 109px,#290 111px,#0a0 115px,#100 117px,#290 119px,#3c0 121px,#3b0 123px,#0e0 127px,#190 129px,#3a0 131px,#500 133px,#4c0 135px,#160 139px,#200 141px,#410 143px,#580 145px,#550 147px,#230 151px,#1f0 153px,#450 157px,#4c0 159px,#450 161px,#1a0 167px,#1c0 169px,#3b0 173px,#4e0 177px,#1c0 185px,#630 191px,#770 193px,#840 197px,#700 201px,#210 213px,#110 219px,#120 227px,#230 233px,#100 239px,#160 243px,#0e0 249px,#020 253px,#080 259px,#040 263px,#0b0 267px,#010 271px,#030 275px,#0a0 277px,#030 279px,#060 283px)}
.a220{background:linear-gradient(90deg,#020 1px,#010 45px,#030 51px,#010 55px,#060 63px,#010 67px,#0b0 73px,#0a0 75px,#020 79px,#110 85px,#110 87px,#040 91px,#1a0 97px,#1b0 99px,#080 103px,#0a0 105px,#290 109px,#2b0 111px,#0b0 115px,#0f0 117px,#3e0 121px,#3e0 123px,#100 127px,#180 129px,#3a0 131px,#520 133px,#4f0 135px,#170 139px,#1f0 141px,#410 143px,#590 145px,#570 147px,#220 151px,#1d0 153px,#450 157px,#4c0 159px,#190 167px,#1c0 169px,#480 175px,#4e0 177px,#480 179px,#230 183px,#1d0 185px,#630 191px,#750 193px,#7e0 197px,#640 203px,#280 211px,#140 217px,#100 225px,#230 233px,#220 235px,#110 239px,#1c0 245px,#100 251px,#000 255px,#060 259px,#030 263px,#0b0 267px,#010 273px,#080 277px,#000 281px,#030 283px)}
.a221{background:linear-gradient(90deg,#020 1px,#010 45px,#030 51px,#010 57px,#070 63px,#020 67px,#0c0 75px,#030 79px,#130 85px,#130 87px,#050 91px,#070 93px,#1c0 97px,#1d0 99px,#090 103px,#0a0 105px,#2a0 109px,#2d0 111px,#0d0 115px,#0f0 117px,#3f0 121px,#410 123px,#2c0 125px,#120 127px,#170 129px,#390 131px,#530 133px,#520 135px,#180 139px,#1e0 141px,#400 143px,#5a0 145px,#580 147px,#210 151px,#1b0 153px,#450 157px,#4c0 159px,#180 167px,#4f0 177px,#4a0 179px,#1e0 185px,#630 191px,#790 195px,#670 203px,#1c0 213px,#140 217px,#0f0 223px,#250 235px,#130 239px,#140 241px,#230 245px,#160 251px,#040 255px,#040 265px,#0a0 267px,#080 269px,#010 271px,#050 277px,#010 279px,#030 281px,#020 283px)}
.a222{background:linear-gradient(90deg,#020 1px,#010 45px,#040 51px,#010 57px,#080 63px,#020 69px,#0d0 73px,#0f0 75px,#040 79px,#030 81px,#140 85px,#150 87px,#050 91px,#060 93px,#1d0 97px,#1f0 99px,#0a0 103px,#0a0 105px,#2b0 109px,#2f0 111px,#220 113px,#0f0 115px,#0f0 117px,#400 121px,#430 123px,#2f0 125px,#140 127px,#170 129px,#390 131px,#540 133px,#540 135px,#190 139px,#1d0 141px,#400 143px,#5a0 145px,#590 147px,#200 151px,#180 153px,#440 157px,#4b0 159px,#160 167px,#490 175px,#4f0 177px,#4b0 179px,#1e0 185px,#610 191px,#760 195px,#680 203px,#1a0 213px,#150 215px,#0f0 223px,#260 235px,#120 241px,#250 245px,#240 247px,#160 253px,#040 257px,#070 259px,#030 265px,#080 267px,#080 269px,#030 271px,#050 275px,#010 279px,#070 281px,#050 283px)}
.a223{background:linear-gradient(90deg,#010 1px,#010 47px,#040 53px,#010 57px,#090 63px,#010 69px,#0d0 73px,#100 75px,#020 81px,#150 85px,#180 87px,#070 91px,#050 93px,#1f0 97px,#220 99px,#0b0 103px,#0a0 105px,#2c0 109px,#310 111px,#250 113px,#110 115px,#0f0 117px,#400 121px,#450 123px,#320 125px,#160 127px,#170 129px,#380 131px,#550 133px,#560 135px,#3c0 137px,#1b0 139px,#1c0 141px,#3e0 143px,#590 145px,#590 147px,#200 151px,#160 153px,#420 157px,#4a0 159px,#420 161px,#150 167px,#3d0 173px,#500 177px,#4b0 179px,#1f0 185px,#5d0 191px,#6d0 193px,#750 197px,#5c0 205px,#250 211px,#150 215px,#180 219px,#120 225px,#250 235px,#110 241px,#240 247px,#1b0 253px,#080 257px,#090 261px,#030 263px,#080 269px,#030 273px,#050 277px,#020 279px,#0a0 281px,#0a0 283px)}
.a224{background:linear-gradient(90deg,#010 1px,#010 47px,#040 53px,#010 57px,#0a0 65px,#010 69px,#120 75px,#100 77px,#010 81px,#160 85px,#1b0 87px,#040 93px,#200 97px,#250 99px,#0c0 103px,#0a0 105px,#2e0 109px,#330 111px,#270 113px,#130 115px,#100 117px,#410 121px,#470 123px,#350 125px,#190 127px,#170 129px,#550 133px,#580 135px,#3e0 137px,#1c0 139px,#1b0 141px,#3c0 143px,#580 145px,#5a0 147px,#410 149px,#1f0 151px,#140 153px,#400 157px,#490 159px,#420 161px,#150 167px,#400 173px,#510 177px,#4b0 179px,#1f0 185px,#6a0 193px,#760 197px,#690 203px,#1a0 213px,#160 215px,#1b0 219px,#140 225px,#220 235px,#0e0 243px,#200 247px,#190 255px,#0d0 257px,#090 259px,#0c0 261px,#030 265px,#060 271px,#010 275px,#060 277px,#040 279px,#0e0 283px)}
.a225{background:linear-gradient(90deg,#010 1px,#000 39px,#010 47px,#050 53px,#010 59px,#0a0 63px,#0b0 65px,#020 69px,#130 75px,#130 77px,#010 81px,#160 85px,#1e0 87px,#190 89px,#030 93px,#220 97px,#280 99px,#090 105px,#2f0 109px,#350 111px,#2a0 113px,#150 115px,#100 117px,#420 121px,#490 123px,#380 125px,#1b0 127px,#170 129px,#540 133px,#590 135px,#400 137px,#1d0 139px,#190 141px,#570 145px,#590 147px,#110 153px,#3d0 157px,#490 159px,#430 161px,#150 167px,#430 173px,#520 177px,#4b0 179px,#1f0 185px,#280 187px,#660 193px,#780 197px,#670 203px,#270 211px,#190 215px,#1d0 221px,#160 227px,#1f0 235px,#1a0 239px,#0c0 243px,#1d0 249px,#1b0 255px,#160 257px,#0b0 259px,#0c0 263px,#040 265px,#070 271px,#010 275px,#080 281px,#110 283px)}
.a226{background:linear-gradient(90deg,#010 1px,#010 47px,#050 53px,#010 59px,#0c0 65px,#020 71px,#140 75px,#150 77px,#0e0 79px,#020 81px,#200 87px,#1d0 89px,#020 93px,#230 97px,#2b0 99px,#230 101px,#080 105px,#310 109px,#380 111px,#2d0 113px,#170 115px,#110 117px,#420 121px,#4a0 123px,#3a0 125px,#1e0 127px,#170 129px,#530 133px,#590 135px,#420 137px,#1f0 139px,#170 141px,#540 145px,#590 147px,#420 149px,#0f0 153px,#3b0 157px,#480 159px,#450 161px,#150 167px,#510 175px,#490 179px,#1f0 185px,#250 187px,#630 193px,#7b0 197px,#730 201px,#2a0 211px,#1d0 217px,#1e0 223px,#150 227px,#1d0 233px,#1b0 239px,#0c0 245px,#1a0 249px,#1c0 257px,#0c0 261px,#100 263px,#040 267px,#050 273px,#010 277px,#060 281px,#100 283px)}
.a227{background:linear-gradient(90deg,#010 1px,#010 47px,#050 55px,#000 59px,#0d0 65px,#0b0 67px,#010 71px,#140 75px,#180 77px,#110 79px,#040 81px,#050 83px,#150 85px,#210 87px,#210 89px,#120 91px,#030 93px,#230 97px,#2e0 99px,#270 101px,#080 105px,#320 109px,#3b0 111px,#110 117px,#430 121px,#4c0 123px,#3c0 125px,#200 127px,#180 129px,#520 133px,#590 135px,#440 137px,#210 139px,#160 141px,#510 145px,#580 147px,#430 149px,#0d0 153px,#380 157px,#480 159px,#470 161px,#160 167px,#1f0 169px,#490 173px,#540 175px,#470 179px,#1e0 185px,#230 187px,#720 195px,#7e0 199px,#2e0 211px,#1f0 217px,#1f0 223px,#110 229px,#1f0 237px,#1f0 241px,#100 247px,#200 251px,#1f0 259px,#140 261px,#130 265px,#050 267px,#060 273px,#010 279px,#0c0 283px)}
.a228{background:linear-gradient(90deg,#010 1px,#010 45px,#050 55px,#010 59px,#0e0 65px,#0d0 67px,#000 71px,#140 75px,#190 77px,#140 79px,#030 83px,#130 85px,#230 87px,#250 89px,#170 91px,#040 93px,#0c0 95px,#230 97px,#310 99px,#2c0 101px,#070 105px,#340 109px,#3e0 111px,#120 117px,#440 121px,#4d0 123px,#180 129px,#500 133px,#590 135px,#450 137px,#220 139px,#140 141px,#4e0 145px,#560 147px,#430 149px,#0b0 153px,#480 159px,#4a0 161px,#3c0 163px,#170 167px,#1f0 169px,#4b0 173px,#520 177px,#1d0 185px,#220 187px,#720 195px,#7f0 199px,#360 209px,#100 229px,#260 239px,#240 243px,#120 249px,#200 253px,#1b0 257px,#220 259px,#210 261px,#150 263px,#1a0 265px,#160 267px,#040 269px,#0a0 273px,#030 275px,#070 283px)}
.a229{background:linear-gradient(90deg,#020 1px,#020 27px,#010 33px,#030 39px,#010 45px,#060 55px,#010 59px,#0e0 65px,#0e0 67px,#010 71px,#1b0 77px,#180 79px,#010 83px,#110 85px,#230 87px,#280 89px,#1c0 91px,#070 93px,#090 95px,#220 97px,#340 99px,#310 101px,#080 105px,#350 109px,#420 111px,#370 113px,#120 117px,#440 121px,#4e0 123px,#190 129px,#4e0 133px,#580 135px,#450 137px,#230 139px,#130 141px,#4a0 145px,#540 147px,#440 149px,#0b0 153px,#150 155px,#320 157px,#480 159px,#4d0 161px,#410 163px,#180 167px,#1f0 169px,#4d0 173px,#560 175px,#520 177px,#1c0 185px,#200 187px,#710 195px,#7f0 199px,#400 207px,#300 215px,#1a0 221px,#120 231px,#250 237px,#280 241px,#0f0 251px,#1e0 261px,#140 265px,#200 267px,#180 269px,#010 273px,#0c0 275px,#020 279px,#020 283px)}
.a230{background:linear-gradient(90deg,#020 1px,#030 27px,#010 33px,#040 41px,#000 47px,#070 55px,#010 59px,#020 61px,#0e0 65px,#100 67px,#030 71px,#040 73px,#1b0 77px,#1a0 79px,#0e0 81px,#010 83px,#220 87px,#2b0 89px,#210 91px,#0b0 93px,#060 95px,#210 97px,#360 99px,#360 101px,#080 105px,#360 109px,#460 111px,#3b0 113px,#130 117px,#450 121px,#500 123px,#1a0 129px,#4c0 133px,#560 135px,#450 137px,#120 141px,#450 145px,#510 147px,#450 149px,#0c0 153px,#120 155px,#480 159px,#510 161px,#460 163px,#190 167px,#1f0 169px,#4d0 173px,#570 175px,#510 177px,#200 183px,#1a0 185px,#200 187px,#5b0 193px,#7d0 197px,#710 201px,#420 207px,#330 215px,#190 221px,#1d0 229px,#170 233px,#260 241px,#1d0 249px,#120 253px,#180 257px,#120 261px,#1c0 265px,#110 267px,#1d0 269px,#190 271px,#050 275px,#020 277px,#060 279px,#010 281px,#010 283px)}
.a231{background:linear-gradient(90deg,#020 1px,#040 29px,#010 35px,#050 41px,#000 47px,#080 55px,#010 61px,#0e0 65px,#110 67px,#030 73px,#1b0 77px,#1d0 79px,#120 81px,#020 83px,#200 87px,#2d0 89px,#260 91px,#040 95px,#1e0 97px,#370 99px,#3b0 101px,#260 103px,#0b0 105px,#150 107px,#360 109px,#490 111px,#400 113px,#130 117px,#460 121px,#510 123px,#430 125px,#1a0 129px,#4a0 133px,#540 135px,#440 137px,#110 141px,#400 145px,#4e0 147px,#460 149px,#0f0 153px,#0f0 155px,#490 159px,#550 161px,#4b0 163px,#1a0 167px,#1e0 169px,#4d0 173px,#560 175px,#4f0 177px,#1f0 183px,#1a0 185px,#200 187px,#5b0 193px,#790 197px,#790 199px,#460 207px,#330 215px,#1a0 221px,#240 229px,#160 237px,#260 251px,#170 263px,#230 267px,#160 269px,#180 275px,#0c0 277px,#040 283px)}
.a232{background:linear-gradient(90deg,#010 1px,#010 23px,#040 29px,#020 35px,#060 41px,#010 47px,#0a0 55px,#010 61px,#0e0 65px,#120 67px,#0f0 69px,#020 73px,#1b0 77px,#1f0 79px,#150 81px,#050 83px,#080 85px,#1e0 87px,#2e0 89px,#2b0 91px,#030 95px,#370 99px,#400 101px,#2d0 103px,#0e0 105px,#120 107px,#350 109px,#4c0 111px,#450 113px,#130 117px,#470 121px,#530 123px,#440 125px,#190 129px,#470 133px,#510 135px,#430 137px,#100 141px,#3a0 145px,#4b0 147px,#460 149px,#2f0 151px,#120 153px,#0c0 155px,#490 159px,#580 161px,#500 163px,#1b0 167px,#1d0 169px,#4c0 173px,#550 175px,#1a0 185px,#200 187px,#5b0 193px,#750 197px,#1e0 221px,#250 231px,#110 239px,#250 245px,#270 253px,#190 259px,#1d0 263px,#110 267px,#1a0 269px,#1c0 273px,#150 275px,#1e0 277px,#020 281px,#070 283px)}
.a233{background:linear-gradient(90deg,#010 1px,#020 25px,#050 31px,#020 37px,#080 43px,#010 49px,#0c0 55px,#010 61px,#0f0 65px,#130 67px,#100 69px,#010 73px,#1a0 77px,#200 79px,#190 81px,#080 83px,#050 85px,#1b0 87px,#2e0 89px,#2e0 91px,#1a0 93px,#040 95px,#360 99px,#430 101px,#330 103px,#130 105px,#0f0 107px,#330 109px,#4f0 111px,#4b0 113px,#130 117px,#470 121px,#550 123px,#460 125px,#190 129px,#450 133px,#4f0 135px,#420 137px,#100 141px,#470 147px,#470 149px,#0b0 155px,#480 159px,#5b0 161px,#550 163px,#1c0 167px,#1a0 169px,#4a0 173px,#530 175px,#1b0 185px,#220 187px,#5a0 193px,#6f0 197px,#590 205px,#240 219px,#230 231px,#160 241px,#210 247px,#1d0 253px,#270 267px,#1c0 271px,#200 273px,#140 275px,#230 277px,#200 279px,#060 281px,#080 283px)}
.a234{background:linear-gradient(90deg,#010 1px,#020 25px,#060 31px,#020 37px,#090 43px,#020 49px,#0e0 55px,#0c0 57px,#000 61px,#150 67px,#130 69px,#010 73px,#190 77px,#210 79px,#1c0 81px,#030 85px,#180 87px,#2d0 89px,#320 91px,#200 93px,#060 95px,#120 97px,#340 99px,#460 101px,#3a0 103px,#180 105px,#0d0 107px,#300 109px,#500 111px,#500 113px,#130 117px,#230 119px,#470 121px,#570 123px,#480 125px,#170 129px,#430 133px,#4c0 135px,#400 137px,#100 141px,#170 143px,#440 147px,#470 149px,#380 151px,#0c0 155px,#470 159px,#5e0 161px,#590 163px,#1c0 167px,#170 169px,#470 173px,#520 175px,#4d0 177px,#210 183px,#1c0 185px,#230 187px,#580 193px,#690 197px,#5d0 205px,#270 217px,#1f0 231px,#250 237px,#130 245px,#1f0 255px,#1b0 269px,#270 275px,#190 277px,#1f0 281px,#060 283px)}
.a235{background:linear-gradient(90deg,#010 1px,#030 27px,#070 33px,#040 39px,#0b0 45px,#030 49px,#040 51px,#100 55px,#0f0 57px,#020 61px,#160 67px,#150 69px,#020 73px,#180 77px,#220 79px,#1e0 81px,#030 85px,#2c0 89px,#340 91px,#250 93px,#0a0 95px,#0f0 97px,#310 99px,#470 101px,#3f0 103px,#0b0 107px,#500 111px,#550 113px,#380 115px,#150 117px,#200 119px,#460 121px,#590 123px,#4b0 125px,#150 129px,#410 133px,#4a0 135px,#3f0 137px,#100 141px,#140 143px,#410 147px,#480 149px,#3b0 151px,#0e0 155px,#460 159px,#5e0 161px,#5c0 163px,#400 165px,#1d0 167px,#140 169px,#440 173px,#500 175px,#4e0 177px,#1d0 185px,#550 193px,#650 199px,#600 205px,#290 217px,#290 223px,#1c0 229px,#2b0 237px,#180 247px,#200 253px,#250 265px,#1e0 271px,#260 275px,#130 279px,#190 281px,#0a0 283px)}
.a236{background:linear-gradient(90deg,#010 1px,#050 21px,#030 27px,#080 33px,#040 39px,#0d0 45px,#030 51px,#110 55px,#130 57px,#040 61px,#030 63px,#180 67px,#190 69px,#0f0 71px,#030 73px,#230 79px,#210 81px,#030 85px,#2b0 89px,#350 91px,#290 93px,#0f0 95px,#0c0 97px,#2d0 99px,#470 101px,#440 103px,#0c0 107px,#4f0 111px,#590 113px,#3e0 115px,#180 117px,#1c0 119px,#430 121px,#5a0 123px,#4e0 125px,#130 129px,#3e0 133px,#490 135px,#3e0 137px,#100 141px,#120 143px,#3e0 147px,#480 149px,#3f0 151px,#110 155px,#1f0 157px,#430 159px,#5e0 161px,#5d0 163px,#430 165px,#1f0 167px,#100 169px,#3f0 173px,#4f0 175px,#460 179px,#1f0 185px,#510 193px,#660 203px,#3c0 211px,#200 227px,#2b0 245px,#1e0 253px,#270 259px,#1a0 265px,#230 269px,#0f0 277px,#040 279px,#090 283px)}
.a237{background:linear-gradient(90deg,#010 1px,#050 21px,#030 27px,#090 33px,#040 39px,#0f0 45px,#0e0 47px,#030 51px,#150 57px,#110 59px,#020 63px,#190 67px,#1c0 69px,#130 71px,#050 73px,#060 75px,#170 77px,#250 79px,#240 81px,#040 85px,#290 89px,#370 91px,#2d0 93px,#140 95px,#0b0 97px,#290 99px,#460 101px,#480 103px,#0e0 107px,#4c0 111px,#5b0 113px,#440 115px,#1c0 117px,#180 119px,#3f0 121px,#590 123px,#510 125px,#110 129px,#3b0 133px,#480 135px,#3f0 137px,#110 141px,#110 143px,#3d0 147px,#490 149px,#420 151px,#140 155px,#1d0 157px,#400 159px,#5b0 161px,#5e0 163px,#450 165px,#0d0 169px,#3a0 173px,#4e0 175px,#4b0 179px,#1f0 185px,#4c0 193px,#680 201px,#610 205px,#3d0 211px,#200 225px,#220 239px,#330 247px,#260 255px,#140 261px,#1c0 265px,#110 269px,#110 273px,#020 279px,#0b0 281px,#060 283px)}
.a238{background:linear-gradient(90deg,#010 1px,#060 23px,#040 29px,#0b0 35px,#050 41px,#110 47px,#050 51px,#180 57px,#160 59px,#020 63px,#1a0 67px,#200 69px,#040 75px,#160 77px,#260 79px,#280 81px,#190 83px,#060 85px,#380 91px,#310 93px,#0b0 97px,#450 101px,#4b0 103px,#320 105px,#120 107px,#1f0 109px,#480 111px,#5c0 113px,#490 115px,#200 117px,#140 119px,#390 121px,#580 123px,#540 125px,#100 129px,#190 131px,#370 133px,#470 135px,#400 137px,#120 141px,#100 143px,#3d0 147px,#4a0 149px,#440 151px,#170 155px,#1c0 157px,#570 161px,#5c0 163px,#470 165px,#0c0 169px,#4d0 175px,#580 177px,#510 179px,#1e0 185px,#480 193px,#690 201px,#5f0 205px,#3e0 211px,#3f0 215px,#1f0 223px,#280 231px,#1f0 237px,#2b0 245px,#250 253px,#150 257px,#1e0 261px,#120 265px,#140 267px,#080 273px,#090 275px,#020 277px,#0d0 281px,#040 283px)}
.a239{background:linear-gradient(90deg,#010 1px,#030 17px,#070 23px,#040 29px,#0c0 35px,#050 41px,#130 47px,#050 53px,#190 57px,#1a0 59px,#030 63px,#230 69px,#1d0 71px,#020 75px,#140 77px,#270 79px,#2c0 81px,#1e0 83px,#090 85px,#0d0 87px,#270 89px,#390 91px,#350 93px,#0c0 97px,#430 101px,#4c0 103px,#370 105px,#160 107px,#1c0 109px,#440 111px,#5b0 113px,#4e0 115px,#110 119px,#540 123px,#550 125px,#360 127px,#110 129px,#130 131px,#320 133px,#460 135px,#430 137px,#140 141px,#0e0 143px,#3e0 147px,#4b0 149px,#460 151px,#1a0 155px,#1c0 157px,#520 161px,#590 163px,#480 165px,#0d0 169px,#120 171px,#4c0 175px,#5c0 177px,#580 179px,#1b0 185px,#5a0 197px,#6a0 201px,#450 209px,#440 215px,#200 223px,#270 229px,#230 241px,#0c0 255px,#180 259px,#0c0 263px,#100 265px,#090 273px,#010 275px,#030 279px,#0c0 281px,#040 283px)}
.a240{background:linear-gradient(90deg,#020 1px,#030 17px,#080 25px,#050 29px,#0d0 37px,#060 41px,#150 47px,#130 49px,#050 53px,#190 57px,#1d0 59px,#150 61px,#070 63px,#060 65px,#180 67px,#250 69px,#230 71px,#110 73px,#010 75px,#280 79px,#300 81px,#230 83px,#0c0 85px,#0b0 87px,#260 89px,#3b0 91px,#380 93px,#0e0 97px,#410 101px,#4e0 103px,#3b0 105px,#1a0 107px,#1a0 109px,#3f0 111px,#590 113px,#500 115px,#0f0 119px,#4f0 123px,#550 125px,#3b0 127px,#140 129px,#0d0 131px,#2c0 133px,#440 135px,#470 137px,#0d0 143px,#400 147px,#4e0 149px,#480 151px,#1b0 155px,#1b0 157px,#4c0 161px,#540 163px,#470 165px,#110 169px,#0d0 171px,#4a0 175px,#5f0 177px,#5e0 179px,#190 185px,#1b0 187px,#5a0 197px,#690 201px,#460 209px,#460 215px,#250 221px,#1d0 233px,#210 239px,#0f0 245px,#090 251px,#170 257px,#0d0 261px,#130 263px,#0e0 267px,#060 271px,#000 273px,#020 275px,#0c0 277px,#010 279px,#070 281px,#050 283px)}
.a241{background:linear-gradient(90deg,#020 1px,#040 19px,#090 25px,#050 31px,#0f0 37px,#070 43px,#150 47px,#160 49px,#060 53px,#200 59px,#1b0 61px,#040 65px,#260 69px,#280 71px,#180 73px,#030 75px,#280 79px,#340 81px,#290 83px,#100 85px,#0a0 87px,#250 89px,#3c0 91px,#3c0 93px,#100 97px,#400 101px,#4e0 103px,#3f0 105px,#1f0 107px,#180 109px,#3a0 111px,#560 113px,#510 115px,#100 119px,#480 123px,#530 125px,#3e0 127px,#190 129px,#080 131px,#240 133px,#410 135px,#4a0 137px,#3b0 139px,#0d0 143px,#420 147px,#510 149px,#4a0 151px,#1b0 155px,#1a0 157px,#460 161px,#4f0 163px,#470 165px,#160 169px,#0c0 171px,#470 175px,#600 177px,#630 179px,#4e0 181px,#160 185px,#160 187px,#500 195px,#650 201px,#490 209px,#460 215px,#2c0 219px,#190 231px,#1d0 237px,#0f0 243px,#0e0 249px,#1e0 255px,#110 259px,#150 261px,#040 269px,#030 275px,#0f0 277px,#040 279px,#060 283px)}
.a242{background:linear-gradient(90deg,#030 1px,#060 13px,#040 19px,#0a0 25px,#060 31px,#100 37px,#060 43px,#190 49px,#080 53px,#080 55px,#210 59px,#200 61px,#030 65px,#260 69px,#2c0 71px,#1e0 73px,#070 75px,#0b0 77px,#260 79px,#370 81px,#2f0 83px,#080 87px,#230 89px,#3e0 91px,#410 93px,#120 97px,#1f0 99px,#3f0 101px,#4f0 103px,#420 105px,#220 107px,#170 109px,#520 113px,#510 115px,#320 117px,#110 119px,#1d0 121px,#400 123px,#500 125px,#410 127px,#060 131px,#3d0 135px,#4d0 137px,#420 139px,#0d0 143px,#420 147px,#550 149px,#4d0 151px,#1a0 155px,#180 157px,#400 161px,#4a0 163px,#460 165px,#0d0 171px,#5f0 177px,#650 179px,#520 181px,#160 185px,#100 187px,#450 193px,#600 199px,#410 215px,#2b0 219px,#250 225px,#190 229px,#1a0 235px,#0d0 241px,#100 247px,#220 253px,#110 257px,#020 267px,#080 269px,#010 271px,#010 273px,#0c0 277px,#050 279px,#060 283px)}
.a243{background:linear-gradient(90deg,#040 1px,#050 21px,#0c0 27px,#070 33px,#120 39px,#070 43px,#1b0 49px,#170 51px,#060 55px,#210 59px,#240 61px,#170 63px,#040 65px,#0d0 67px,#240 69px,#300 71px,#250 73px,#0c0 75px,#060 77px,#230 79px,#390 81px,#360 83px,#070 87px,#3f0 91px,#460 93px,#300 95px,#150 97px,#1d0 99px,#3e0 101px,#500 103px,#440 105px,#250 107px,#170 109px,#4e0 113px,#500 115px,#340 117px,#130 119px,#170 121px,#380 123px,#4b0 125px,#430 127px,#250 129px,#080 131px,#160 133px,#380 135px,#4e0 137px,#4a0 139px,#0f0 143px,#1d0 145px,#420 147px,#570 149px,#500 151px,#180 155px,#150 157px,#3c0 161px,#450 165px,#380 167px,#110 171px,#1d0 173px,#5b0 177px,#640 179px,#550 181px,#190 185px,#0c0 187px,#480 193px,#5d0 197px,#510 209px,#1b0 227px,#1a0 233px,#0c0 239px,#100 247px,#1f0 251px,#050 261px,#070 263px,#030 265px,#070 267px,#020 273px,#0b0 275px,#030 279px,#040 283px)}
.a244{background:linear-gradient(90deg,#050 1px,#040 7px,#090 15px,#060 21px,#0d0 27px,#070 33px,#140 39px,#080 43px,#080 45px,#1c0 49px,#1b0 51px,#050 55px,#200 59px,#270 61px,#1d0 63px,#080 65px,#090 67px,#210 69px,#320 71px,#2c0 73px,#030 77px,#1f0 79px,#3a0 81px,#3c0 83px,#230 85px,#090 87px,#3f0 91px,#4a0 93px,#360 95px,#180 97px,#1b0 99px,#3c0 101px,#510 103px,#470 105px,#160 109px,#490 113px,#4e0 115px,#360 117px,#150 119px,#120 121px,#300 123px,#460 125px,#440 127px,#2b0 129px,#0d0 131px,#100 133px,#320 135px,#4f0 137px,#500 139px,#350 141px,#130 143px,#190 145px,#3f0 147px,#570 149px,#520 151px,#180 155px,#110 157px,#390 161px,#450 163px,#3b0 167px,#150 171px,#1c0 173px,#550 177px,#600 179px,#550 181px,#0c0 187px,#140 189px,#490 193px,#5f0 197px,#4f0 203px,#530 209px,#190 227px,#190 233px,#0d0 237px,#0f0 245px,#1c0 249px,#1a0 251px,#070 255px,#040 259px,#080 261px,#040 265px,#080 271px,#040 273px,#0a0 275px,#010 279px,#050 281px,#020 283px)}
.a245{background:linear-gradient(90deg,#060 1px,#050 9px,#0a0 15px,#070 21px,#0f0 27px,#080 33px,#160 39px,#070 45px,#1b0 49px,#1e0 51px,#070 55px,#0b0 57px,#1e0 59px,#290 61px,#220 63px,#040 67px,#1d0 69px,#320 71px,#320 73px,#1a0 75px,#020 77px,#390 81px,#410 83px,#2b0 85px,#0c0 87px,#190 89px,#3d0 91px,#4e0 93px,#3d0 95px,#1c0 97px,#180 99px,#3a0 101px,#510 103px,#4a0 105px,#160 109px,#450 113px,#4b0 115px,#370 117px,#170 119px,#0f0 121px,#400 125px,#440 127px,#310 129px,#130 131px,#0c0 133px,#2d0 135px,#4d0 137px,#540 139px,#3c0 141px,#170 143px,#150 145px,#390 147px,#550 149px,#540 151px,#390 153px,#190 155px,#0d0 157px,#370 161px,#460 163px,#3e0 167px,#180 171px,#1b0 173px,#4d0 177px,#590 179px,#410 183px,#110 187px,#110 189px,#470 193px,#5b0 195px,#5f0 197px,#4d0 203px,#520 209px,#3a0 215px,#3d0 217px,#1b0 225px,#1b0 231px,#0f0 235px,#0f0 243px,#1b0 249px,#070 253px,#050 255px,#040 257px,#0b0 261px,#030 265px,#0b0 271px,#050 277px,#010 279px,#040 281px,#000 283px)}
.a246{background:linear-gradient(90deg,#060 1px,#060 9px,#0c0 17px,#080 23px,#110 29px,#0a0 35px,#170 39px,#170 41px,#070 45px,#210 51px,#1a0 53px,#0b0 55px,#070 57px,#2a0 61px,#280 63px,#140 65px,#020 67px,#310 71px,#370 73px,#220 75px,#050 77px,#140 79px,#370 81px,#450 83px,#330 85px,#110 87px,#140 89px,#3b0 91px,#510 93px,#440 95px,#200 97px,#160 99px,#370 101px,#510 103px,#4c0 105px,#150 109px,#400 113px,#490 115px,#370 117px,#190 119px,#0c0 121px,#3b0 125px,#430 127px,#360 129px,#0b0 133px,#4b0 137px,#570 139px,#420 141px,#1d0 143px,#110 145px,#330 147px,#500 149px,#540 151px,#3d0 153px,#0a0 157px,#350 161px,#480 163px,#4d0 165px,#410 167px,#190 171px,#1b0 173px,#450 177px,#520 181px,#450 183px,#180 187px,#0f0 189px,#430 193px,#580 195px,#5e0 197px,#3b0 219px,#1b0 225px,#170 231px,#0d0 235px,#100 243px,#1c0 247px,#060 253px,#040 255px,#0a0 261px,#020 263px,#020 265px,#0c0 271px,#030 275px,#060 277px,#010 279px,#030 283px)}
.a247{background:linear-gradient(90deg,#070 1px,#070 11px,#0e0 17px,#090 23px,#130 29px,#090 35px,#1a0 41px,#090 45px,#0b0 47px,#220 51px,#1f0 53px,#050 57px,#290 61px,#2c0 63px,#1b0 65px,#030 67px,#2e0 71px,#3a0 73px,#2a0 75px,#0b0 77px,#0f0 79px,#340 81px,#480 83px,#3b0 85px,#180 87px,#110 89px,#370 91px,#520 93px,#4a0 95px,#140 99px,#500 103px,#4f0 105px,#140 109px,#1f0 111px,#3b0 113px,#460 115px,#380 117px,#0b0 121px,#360 125px,#430 127px,#3b0 129px,#0d0 133px,#470 137px,#570 139px,#470 141px,#0e0 145px,#4a0 149px,#520 151px,#410 153px,#0b0 157px,#160 159px,#4b0 163px,#510 165px,#450 167px,#190 171px,#190 173px,#4b0 179px,#490 183px,#100 189px,#510 195px,#5c0 199px,#3d0 213px,#3e0 219px,#220 223px,#190 229px,#0d0 233px,#0d0 241px,#180 247px,#020 255px,#0b0 259px,#000 263px,#010 265px,#0d0 269px,#0d0 271px,#020 275px,#060 277px,#010 279px,#010 281px,#070 283px)}
.a248{background:linear-gradient(90deg,#080 1px,#080 11px,#100 19px,#0b0 25px,#150 29px,#0a0 35px,#1c0 41px,#080 47px,#230 51px,#240 53px,#050 57px,#270 61px,#300 63px,#220 65px,#080 67px,#0b0 69px,#2b0 71px,#3d0 73px,#320 75px,#120 77px,#0a0 79px,#2f0 81px,#4a0 83px,#430 85px,#0e0 89px,#320 91px,#520 93px,#4f0 95px,#130 99px,#4d0 103px,#500 105px,#140 109px,#1a0 111px,#360 113px,#440 115px,#390 117px,#0b0 121px,#430 127px,#3f0 129px,#100 133px,#200 135px,#430 137px,#560 139px,#4a0 141px,#0d0 145px,#410 149px,#500 151px,#450 153px,#0f0 157px,#110 159px,#4c0 163px,#550 165px,#480 167px,#180 171px,#160 173px,#460 179px,#4c0 183px,#3e0 185px,#120 189px,#190 191px,#470 195px,#600 201px,#3a0 211px,#3e0 219px,#250 223px,#0c0 233px,#0b0 241px,#160 245px,#030 253px,#020 255px,#080 257px,#080 259px,#030 261px,#000 265px,#0d0 269px,#0c0 271px,#020 275px,#050 277px,#020 279px,#030 281px,#0a0 283px)}
.a249{background:linear-gradient(90deg,#080 1px,#0a0 13px,#120 19px,#0b0 25px,#180 31px,#0c0 37px,#1e0 41px,#1d0 43px,#080 47px,#220 51px,#280 53px,#1c0 55px,#080 57px,#0b0 59px,#240 61px,#320 63px,#290 65px,#0f0 67px,#060 69px,#260 71px,#3e0 73px,#390 75px,#070 79px,#2a0 81px,#4a0 83px,#490 85px,#0e0 89px,#510 93px,#540 95px,#130 99px,#490 103px,#500 105px,#380 107px,#150 109px,#140 111px,#2f0 113px,#410 115px,#3b0 117px,#0d0 121px,#140 123px,#2f0 125px,#440 127px,#430 129px,#140 133px,#1e0 135px,#3f0 137px,#530 139px,#4a0 141px,#0d0 145px,#4c0 151px,#490 153px,#330 155px,#150 157px,#0e0 159px,#4c0 163px,#580 165px,#4b0 167px,#170 171px,#120 173px,#330 177px,#4e0 181px,#420 185px,#140 189px,#140 191px,#510 197px,#660 201px,#3a0 209px,#380 219px,#200 227px,#0f0 231px,#0f0 235px,#090 239px,#120 245px,#010 253px,#080 257px,#010 261px,#010 265px,#0b0 269px,#030 277px,#0c0 283px)}
.a250{background:linear-gradient(90deg,#090 1px,#0e0 7px,#0b0 13px,#140 19px,#0d0 25px,#1a0 31px,#0b0 37px,#1e0 41px,#210 43px,#0a0 47px,#0d0 49px,#1f0 51px,#2a0 53px,#230 55px,#0e0 57px,#060 59px,#1f0 61px,#330 63px,#300 65px,#020 69px,#200 71px,#3d0 73px,#3f0 75px,#230 77px,#070 79px,#490 83px,#4f0 85px,#300 87px,#0f0 89px,#4e0 93px,#560 95px,#390 97px,#140 99px,#200 101px,#430 103px,#4f0 105px,#3b0 107px,#180 109px,#0f0 111px,#280 113px,#3d0 115px,#3d0 117px,#110 121px,#120 123px,#440 127px,#460 129px,#170 133px,#1b0 135px,#3a0 137px,#4f0 139px,#490 141px,#100 145px,#120 147px,#2f0 149px,#470 151px,#4c0 153px,#3b0 155px,#0e0 159px,#490 163px,#580 165px,#4d0 167px,#170 171px,#0e0 173px,#430 179px,#500 183px,#430 185px,#160 189px,#100 191px,#4c0 197px,#690 201px,#650 203px,#390 209px,#3a0 215px,#290 225px,#110 231px,#090 239px,#110 243px,#010 253px,#070 257px,#000 261px,#080 269px,#050 275px,#010 277px,#0b0 283px)}
.a251{background:linear-gradient(90deg,#090 1px,#100 7px,#0d0 15px,#160 21px,#0e0 27px,#1c0 33px,#0d0 37px,#240 43px,#0a0 49px,#2b0 53px,#290 55px,#030 59px,#320 63px,#360 65px,#1f0 67px,#030 69px,#3b0 73px,#450 75px,#2c0 77px,#0b0 79px,#1e0 81px,#460 83px,#530 85px,#390 87px,#130 89px,#200 91px,#490 93px,#580 95px,#3f0 97px,#180 99px,#190 101px,#3c0 103px,#4d0 105px,#3e0 107px,#0b0 111px,#3a0 115px,#400 117px,#2f0 119px,#160 121px,#100 123px,#440 127px,#490 129px,#350 131px,#1a0 133px,#190 135px,#490 139px,#470 141px,#300 143px,#130 145px,#0d0 147px,#430 151px,#4f0 153px,#430 155px,#0e0 159px,#440 163px,#560 165px,#4e0 167px,#0c0 173px,#440 179px,#510 181px,#430 185px,#0e0 191px,#170 193px,#5e0 199px,#6a0 201px,#660 203px,#3c0 209px,#2d0 219px,#310 223px,#170 229px,#090 237px,#100 243px,#020 251px,#070 255px,#010 261px,#050 267px,#040 271px,#090 273px,#070 275px,#000 277px,#050 279px,#090 283px)}
.a252{background:linear-gradient(90deg,#0a0 1px,#130 9px,#0e0 15px,#180 21px,#0f0 27px,#1f0 33px,#0e0 39px,#250 43px,#240 45px,#080 49px,#2a0 53px,#2f0 55px,#1d0 57px,#050 59px,#2f0 63px,#3b0 65px,#290 67px,#080 69px,#120 71px,#380 73px,#490 75px,#360 77px,#110 79px,#180 81px,#420 83px,#550 85px,#410 87px,#190 89px,#1a0 91px,#430 93px,#570 95px,#440 97px,#1c0 99px,#130 101px,#340 103px,#490 105px,#410 107px,#090 111px,#360 115px,#420 117px,#360 119px,#100 123px,#440 127px,#4b0 129px,#380 131px,#1c0 133px,#170 135px,#430 139px,#450 141px,#0c0 147px,#3e0 151px,#500 153px,#490 155px,#110 159px,#1c0 161px,#3d0 163px,#510 165px,#4f0 167px,#3a0 169px,#0d0 173px,#150 175px,#450 179px,#510 181px,#410 185px,#0f0 191px,#130 193px,#5a0 199px,#670 201px,#2b0 217px,#320 223px,#170 229px,#140 233px,#090 237px,#100 241px,#020 251px,#070 255px,#010 259px,#050 267px,#020 269px,#0c0 273px,#090 275px,#010 277px,#050 279px,#060 283px)}
.a253{background:linear-gradient(90deg,#0c0 1px,#140 9px,#100 17px,#1b0 23px,#110 29px,#210 33px,#1f0 35px,#0d0 39px,#250 43px,#280 45px,#1c0 47px,#090 49px,#100 51px,#270 53px,#320 55px,#260 57px,#0b0 59px,#0b0 61px,#2b0 63px,#3e0 65px,#320 67px,#100 69px,#0c0 71px,#330 73px,#4c0 75px,#3f0 77px,#190 79px,#130 81px,#3c0 83px,#560 85px,#480 87px,#1f0 89px,#150 91px,#3c0 93px,#550 95px,#480 97px,#0e0 101px,#2b0 103px,#440 105px,#420 107px,#280 109px,#0b0 111px,#130 113px,#310 115px,#440 117px,#3d0 119px,#100 123px,#430 127px,#4c0 129px,#3b0 131px,#1e0 133px,#140 135px,#3d0 139px,#420 141px,#350 143px,#0d0 147px,#4f0 153px,#4d0 155px,#140 159px,#160 161px,#330 163px,#4a0 165px,#4e0 167px,#400 169px,#110 173px,#120 175px,#440 179px,#510 181px,#3f0 185px,#120 191px,#130 193px,#530 199px,#610 203px,#4b0 209px,#290 215px,#260 219px,#2e0 223px,#090 237px,#0f0 241px,#0a0 247px,#030 251px,#060 255px,#020 259px,#050 267px,#010 269px,#0e0 273px,#0a0 275px,#010 277px,#030 279px,#030 283px)}
.a254{background:linear-gradient(90deg,#0d0 1px,#170 11px,#110 17px,#1d0 23px,#110 29px,#230 35px,#0e0 39px,#120 41px,#2c0 45px,#230 47px,#0e0 49px,#0a0 51px,#220 53px,#340 55px,#2e0 57px,#040 61px,#240 63px,#3f0 65px,#3a0 67px,#070 71px,#2d0 73px,#4d0 75px,#470 77px,#0f0 81px,#360 83px,#560 85px,#4e0 87px,#110 91px,#330 93px,#510 95px,#4a0 97px,#0b0 101px,#3e0 105px,#430 107px,#2f0 109px,#110 111px,#0e0 113px,#2c0 115px,#440 117px,#430 119px,#120 123px,#400 127px,#4c0 129px,#3d0 131px,#110 135px,#370 139px,#400 141px,#380 143px,#110 147px,#190 149px,#4d0 153px,#4e0 155px,#370 157px,#180 159px,#100 161px,#420 165px,#4d0 167px,#470 169px,#170 173px,#100 175px,#420 179px,#500 181px,#4d0 183px,#160 191px,#160 193px,#490 199px,#5e0 205px,#530 209px,#260 215px,#210 217px,#290 223px,#090 237px,#0b0 247px,#040 251px,#050 267px,#020 269px,#0d0 273px,#090 275px,#010 277px,#020 283px)}
.a255{background:linear-gradient(90deg,#100 1px,#0f0 5px,#190 11px,#130 19px,#1e0 23px,#110 29px,#260 35px,#0e0 41px,#2d0 45px,#2a0 47px,#060 51px,#330 55px,#350 57px,#1d0 59px,#010 61px,#1d0 63px,#3e0 65px,#420 67px,#250 69px,#060 71px,#4b0 75px,#4e0 77px,#0e0 81px,#530 85px,#520 87px,#0f0 91px,#4b0 95px,#4b0 97px,#2c0 99px,#0b0 101px,#180 103px,#360 105px,#430 107px,#360 109px,#180 111px,#0b0 113px,#440 117px,#490 119px,#150 123px,#1d0 125px,#3c0 127px,#4b0 129px,#3f0 131px,#0f0 135px,#320 139px,#3f0 141px,#3b0 143px,#150 147px,#180 149px,#490 153px,#4c0 155px,#0d0 161px,#390 165px,#4a0 167px,#4c0 169px,#3b0 171px,#0f0 175px,#3c0 179px,#4c0 181px,#4c0 183px,#190 191px,#180 193px,#4b0 201px,#600 207px,#590 209px,#270 215px,#190 231px,#0a0 235px,#0b0 247px,#030 253px,#060 265px,#030 269px,#0b0 273px,#010 277px,#020 283px)}
.a256{background:linear-gradient(90deg,#130 1px,#100 5px,#1b0 13px,#130 19px,#210 25px,#130 31px,#270 35px,#250 37px,#0c0 41px,#2b0 45px,#2f0 47px,#1e0 49px,#070 51px,#130 53px,#300 55px,#3b0 57px,#270 59px,#060 61px,#140 63px,#3a0 65px,#480 67px,#300 69px,#0b0 71px,#1d0 73px,#480 75px,#540 77px,#360 79px,#100 81px,#4e0 85px,#550 87px,#340 89px,#0f0 91px,#440 95px,#4b0 97px,#320 99px,#0f0 101px,#100 103px,#2f0 105px,#420 107px,#3c0 109px,#0c0 113px,#420 117px,#4c0 119px,#380 121px,#180 123px,#180 125px,#350 127px,#480 129px,#400 131px,#0f0 135px,#150 137px,#3f0 141px,#400 143px,#190 147px,#180 149px,#450 153px,#490 155px,#390 157px,#0d0 161px,#170 163px,#470 167px,#4f0 169px,#420 171px,#100 175px,#1a0 177px,#460 181px,#4c0 183px,#470 185px,#1b0 191px,#170 193px,#500 203px,#610 207px,#260 217px,#1a0 225px,#1e0 229px,#0a0 235px,#060 241px,#0a0 247px,#030 253px,#080 259px,#040 263px,#060 267px,#020 269px,#060 273px,#020 281px,#040 283px)}
.a257{background:linear-gradient(90deg,#150 1px,#120 7px,#1d0 13px,#140 19px,#230 25px,#110 31px,#260 35px,#290 37px,#0d0 41px,#120 43px,#280 45px,#330 47px,#270 49px,#0c0 51px,#0b0 53px,#2b0 55px,#3e0 57px,#310 59px,#0f0 61px,#0c0 63px,#350 65px,#4c0 67px,#3b0 69px,#130 71px,#160 73px,#430 75px,#570 77px,#400 79px,#150 81px,#1d0 83px,#480 85px,#560 87px,#3b0 89px,#120 91px,#180 93px,#3b0 95px,#490 97px,#370 99px,#150 101px,#0a0 103px,#270 105px,#410 107px,#420 109px,#0f0 113px,#1d0 115px,#3f0 117px,#4e0 119px,#3d0 121px,#1c0 123px,#130 125px,#420 129px,#410 131px,#120 135px,#110 137px,#3f0 141px,#440 143px,#1d0 147px,#170 149px,#400 153px,#460 155px,#390 157px,#0f0 161px,#130 163px,#440 167px,#500 169px,#460 171px,#120 175px,#120 177px,#3e0 181px,#4d0 185px,#430 187px,#1c0 191px,#140 193px,#4e0 203px,#5e0 207px,#180 223px,#1c0 229px,#0a0 235px,#040 241px,#080 245px,#040 253px,#0a0 259px,#010 271px,#050 283px)}
.a258{background:linear-gradient(90deg,#180 1px,#130 7px,#1f0 15px,#150 21px,#230 27px,#120 31px,#2c0 37px,#0d0 43px,#330 47px,#2f0 49px,#040 53px,#230 55px,#3e0 57px,#3b0 59px,#050 63px,#2d0 65px,#4d0 67px,#460 69px,#1e0 71px,#0f0 73px,#3b0 75px,#580 77px,#490 79px,#1d0 81px,#150 83px,#3f0 85px,#550 87px,#410 89px,#180 91px,#0f0 93px,#310 95px,#460 97px,#3d0 99px,#070 103px,#3f0 107px,#470 109px,#320 111px,#130 113px,#190 115px,#3b0 117px,#4d0 119px,#400 121px,#100 125px,#3c0 129px,#400 131px,#0f0 137px,#3e0 141px,#480 143px,#3a0 145px,#150 149px,#3a0 153px,#420 155px,#3a0 157px,#130 161px,#120 163px,#410 167px,#4e0 169px,#480 171px,#160 175px,#0e0 177px,#360 181px,#510 185px,#4a0 187px,#120 193px,#150 195px,#4d0 203px,#590 207px,#3b0 215px,#140 223px,#180 229px,#030 241px,#060 245px,#040 251px,#0b0 257px,#000 273px,#040 277px,#030 279px,#060 283px)}
.a259{background:linear-gradient(90deg,#190 1px,#150 9px,#200 15px,#150 21px,#260 27px,#120 33px,#2c0 37px,#2a0 39px,#090 43px,#320 47px,#350 49px,#1e0 51px,#020 53px,#3c0 57px,#420 59px,#260 61px,#050 63px,#4b0 67px,#4e0 69px,#0c0 73px,#310 75px,#560 77px,#500 79px,#0f0 83px,#340 85px,#510 87px,#460 89px,#090 93px,#260 95px,#410 97px,#420 99px,#270 101px,#0a0 103px,#190 105px,#3c0 107px,#4b0 109px,#3a0 111px,#190 113px,#150 115px,#360 117px,#4b0 119px,#420 121px,#0e0 125px,#350 129px,#3f0 131px,#360 133px,#100 137px,#3c0 141px,#490 143px,#3e0 145px,#130 149px,#3f0 155px,#3c0 157px,#190 161px,#120 163px,#3e0 167px,#4c0 169px,#470 171px,#0c0 177px,#460 183px,#520 185px,#4d0 187px,#110 193px,#100 195px,#4c0 203px,#530 207px,#410 215px,#160 223px,#0d0 235px,#020 241px,#050 245px,#030 251px,#0a0 257px,#030 265px,#050 271px,#020 279px,#070 283px)}
.a260{background:linear-gradient(90deg,#1a0 1px,#150 9px,#210 17px,#160 21px,#270 27px,#240 29px,#100 33px,#2a0 37px,#2e0 39px,#1f0 41px,#0a0 43px,#120 45px,#2d0 47px,#390 49px,#290 51px,#080 53px,#110 55px,#370 57px,#470 59px,#320 61px,#0b0 63px,#1a0 65px,#460 67px,#540 69px,#360 71px,#0e0 73px,#500 77px,#550 79px,#0c0 83px,#490 87px,#490 89px,#290 91px,#080 93px,#3b0 97px,#450 99px,#320 101px,#110 103px,#120 105px,#370 107px,#4e0 109px,#420 111px,#1f0 113px,#110 115px,#2f0 117px,#470 119px,#440 121px,#0e0 125px,#160 127px,#2f0 129px,#3f0 131px,#3b0 133px,#130 137px,#470 143px,#3f0 145px,#130 149px,#170 151px,#3b0 155px,#3f0 157px,#130 163px,#480 169px,#450 171px,#340 173px,#0e0 177px,#130 179px,#430 183px,#510 185px,#4e0 187px,#130 193px,#0e0 195px,#3c0 201px,#4f0 205px,#490 213px,#1b0 223px,#0d0 231px,#0d0 235px,#020 241px,#040 245px,#020 251px,#090 259px,#020 265px,#090 271px,#010 279px,#080 283px)}
.a261{background:linear-gradient(90deg,#1a0 1px,#170 11px,#240 17px,#150 23px,#270 27px,#280 29px,#100 33px,#140 35px,#270 37px,#300 39px,#260 41px,#0e0 43px,#0a0 45px,#270 47px,#3b0 49px,#320 51px,#110 53px,#080 55px,#300 57px,#4a0 59px,#3d0 61px,#150 63px,#120 65px,#3f0 67px,#570 69px,#400 71px,#150 73px,#1c0 75px,#480 77px,#560 79px,#380 81px,#0f0 83px,#1b0 85px,#3f0 87px,#4a0 89px,#320 91px,#0e0 93px,#100 95px,#330 97px,#470 99px,#3c0 101px,#1b0 103px,#0d0 105px,#310 107px,#4e0 109px,#490 111px,#0e0 115px,#420 119px,#450 121px,#2e0 123px,#110 125px,#100 127px,#2a0 129px,#3f0 131px,#400 133px,#160 137px,#1b0 139px,#340 141px,#440 143px,#3f0 145px,#140 149px,#130 151px,#370 155px,#400 157px,#3a0 159px,#150 163px,#1c0 165px,#420 169px,#440 171px,#380 173px,#120 177px,#110 179px,#3f0 183px,#4e0 185px,#3d0 189px,#0f0 195px,#450 203px,#4d0 211px,#0f0 229px,#0c0 235px,#020 241px,#040 249px,#010 253px,#070 259px,#010 265px,#0a0 269px,#0c0 271px,#000 277px,#090 283px)}
.a262{background:linear-gradient(90deg,#1a0 1px,#1f0 5px,#170 11px,#250 17px,#150 23px,#2a0 29px,#0f0 35px,#310 39px,#2d0 41px,#050 45px,#1f0 47px,#3a0 49px,#3a0 51px,#030 55px,#270 57px,#490 59px,#460 61px,#0d0 65px,#360 67px,#560 69px,#490 71px,#1e0 73px,#140 75px,#3d0 77px,#530 79px,#400 81px,#160 83px,#100 85px,#330 87px,#470 89px,#3a0 91px,#180 93px,#080 95px,#290 97px,#470 99px,#460 101px,#0c0 105px,#4b0 109px,#4d0 111px,#2e0 113px,#0d0 115px,#3b0 119px,#450 121px,#350 123px,#180 125px,#0c0 127px,#3f0 131px,#450 133px,#190 137px,#180 139px,#3f0 143px,#3d0 145px,#170 149px,#110 151px,#340 155px,#410 157px,#3d0 159px,#180 163px,#170 165px,#3a0 169px,#410 171px,#3c0 173px,#110 179px,#3a0 183px,#490 185px,#4a0 187px,#120 195px,#140 197px,#3f0 203px,#4f0 211px,#100 229px,#030 239px,#030 245px,#070 249px,#010 255px,#040 259px,#010 265px,#0b0 269px,#0c0 271px,#000 277px,#090 283px)}
.a263{background:linear-gradient(90deg,#180 1px,#1f0 5px,#180 13px,#260 19px,#160 25px,#2b0 29px,#280 31px,#0c0 35px,#2f0 39px,#330 41px,#1f0 43px,#040 45px,#380 49px,#410 51px,#270 53px,#050 55px,#470 59px,#4d0 61px,#0c0 65px,#520 69px,#4f0 71px,#0e0 75px,#310 77px,#4d0 79px,#440 81px,#090 85px,#260 87px,#410 89px,#400 91px,#080 95px,#430 99px,#4c0 101px,#310 103px,#0f0 105px,#1f0 107px,#440 109px,#4f0 111px,#360 113px,#110 115px,#120 117px,#310 119px,#440 121px,#3d0 123px,#0b0 127px,#3e0 131px,#4a0 133px,#390 135px,#1c0 137px,#140 139px,#3b0 143px,#3c0 145px,#120 151px,#400 157px,#3e0 159px,#1b0 163px,#140 165px,#310 169px,#3f0 173px,#350 175px,#120 179px,#420 185px,#480 187px,#430 189px,#160 195px,#130 197px,#370 203px,#510 211px,#140 227px,#020 243px,#0b0 249px,#040 255px,#010 265px,#0b0 271px,#020 277px,#070 283px)}
.a264{background:linear-gradient(90deg,#160 1px,#200 7px,#170 13px,#270 19px,#140 25px,#2a0 29px,#2c0 31px,#0c0 35px,#140 37px,#2c0 39px,#370 41px,#280 43px,#0a0 45px,#0e0 47px,#330 49px,#450 51px,#330 53px,#0c0 55px,#160 57px,#420 59px,#520 61px,#370 63px,#0f0 65px,#230 67px,#4c0 69px,#520 71px,#300 73px,#0d0 75px,#450 79px,#460 81px,#270 83px,#080 85px,#3a0 89px,#430 91px,#2f0 93px,#0f0 95px,#170 97px,#3d0 99px,#4e0 101px,#3b0 103px,#160 105px,#160 107px,#3a0 109px,#4c0 111px,#3c0 113px,#190 115px,#0a0 117px,#260 119px,#410 121px,#440 123px,#2d0 125px,#100 127px,#190 129px,#3a0 131px,#4c0 133px,#3f0 135px,#0f0 139px,#360 143px,#3d0 145px,#330 147px,#130 151px,#3f0 157px,#3d0 159px,#130 165px,#410 173px,#3a0 175px,#150 179px,#150 181px,#3a0 185px,#470 189px,#3e0 191px,#110 197px,#3d0 205px,#4d0 211px,#370 219px,#140 227px,#040 243px,#0e0 249px,#020 261px,#020 267px,#080 271px,#030 275px,#050 283px)}
.a265{background:linear-gradient(90deg,#130 1px,#200 7px,#180 15px,#270 19px,#260 21px,#140 25px,#2f0 31px,#260 33px,#100 35px,#0d0 37px,#260 39px,#3a0 41px,#320 43px,#130 45px,#070 47px,#2d0 49px,#480 51px,#3e0 53px,#160 55px,#0f0 57px,#3c0 59px,#550 61px,#400 63px,#160 65px,#1a0 67px,#440 69px,#520 71px,#370 73px,#100 75px,#190 77px,#3b0 79px,#450 81px,#2f0 83px,#0e0 85px,#110 87px,#310 89px,#440 91px,#390 93px,#180 95px,#110 97px,#350 99px,#4d0 101px,#410 103px,#1d0 105px,#0f0 107px,#2e0 109px,#460 111px,#400 113px,#080 117px,#3b0 121px,#490 123px,#390 125px,#180 127px,#120 129px,#330 131px,#4a0 133px,#440 135px,#0d0 139px,#3f0 145px,#3b0 147px,#150 151px,#1b0 153px,#3e0 157px,#3c0 159px,#130 165px,#3f0 173px,#3c0 175px,#110 181px,#420 187px,#4b0 189px,#460 191px,#0e0 197px,#130 199px,#3d0 205px,#480 209px,#3c0 219px,#150 227px,#0d0 233px,#0c0 239px,#060 243px,#110 249px,#110 253px,#020 261px,#040 263px,#010 267px,#050 271px,#020 283px)}
.a266{background:linear-gradient(90deg,#110 1px,#200 9px,#150 15px,#280 21px,#130 27px,#2f0 31px,#2c0 33px,#080 37px,#3a0 41px,#3b0 43px,#1e0 45px,#010 47px,#250 49px,#490 51px,#480 53px,#0a0 57px,#340 59px,#550 61px,#490 63px,#1e0 65px,#130 67px,#3a0 69px,#500 71px,#3d0 73px,#160 75px,#100 77px,#300 79px,#420 81px,#360 83px,#170 85px,#0b0 87px,#290 89px,#440 91px,#400 93px,#0f0 97px,#480 101px,#440 103px,#0c0 107px,#3d0 111px,#410 113px,#2c0 115px,#0f0 117px,#120 119px,#330 121px,#4a0 123px,#410 125px,#0e0 129px,#440 133px,#460 135px,#2f0 137px,#110 139px,#0e0 141px,#400 145px,#430 147px,#180 151px,#160 153px,#3c0 157px,#3c0 159px,#140 165px,#3d0 173px,#390 175px,#110 181px,#150 183px,#4a0 189px,#4a0 191px,#3a0 193px,#0f0 197px,#0c0 199px,#3f0 205px,#460 209px,#3c0 219px,#070 233px,#0c0 239px,#080 245px,#160 253px,#150 255px,#030 261px,#070 265px,#010 269px,#030 275px,#000 281px,#000 283px)}
.a267{background:linear-gradient(90deg,#100 1px,#1e0 9px,#140 15px,#270 21px,#250 23px,#0f0 27px,#2d0 31px,#310 33px,#200 35px,#070 37px,#370 41px,#420 43px,#2a0 45px,#050 47px,#470 51px,#500 53px,#2e0 55px,#0a0 57px,#530 61px,#500 63px,#0d0 67px,#2f0 69px,#4c0 71px,#420 73px,#090 77px,#250 79px,#3f0 81px,#3d0 83px,#0a0 87px,#420 91px,#460 93px,#100 97px,#410 101px,#440 103px,#2b0 105px,#0e0 107px,#170 109px,#330 111px,#400 113px,#350 115px,#190 117px,#0e0 119px,#470 123px,#460 125px,#0f0 129px,#3a0 133px,#440 135px,#360 137px,#0a0 141px,#3d0 145px,#480 147px,#3a0 149px,#1e0 151px,#110 153px,#370 157px,#3d0 159px,#150 165px,#180 167px,#360 171px,#3a0 173px,#150 181px,#150 183px,#440 189px,#490 191px,#3f0 193px,#0a0 199px,#120 201px,#3d0 205px,#490 209px,#2e0 225px,#0a0 233px,#040 237px,#090 241px,#090 249px,#170 255px,#070 259px,#040 261px,#0b0 265px,#000 271px,#020 275px,#000 279px,#040 283px)}
.a268{background:linear-gradient(90deg,#0f0 1px,#1d0 11px,#120 17px,#240 21px,#260 23px,#0e0 27px,#140 29px,#290 31px,#340 33px,#280 35px,#0c0 37px,#0d0 39px,#310 41px,#460 43px,#370 45px,#0e0 47px,#120 49px,#420 51px,#560 53px,#3b0 55px,#0e0 57px,#200 59px,#4d0 61px,#540 63px,#310 65px,#0b0 67px,#450 71px,#450 73px,#270 75px,#080 77px,#3a0 81px,#430 83px,#2d0 85px,#0e0 87px,#1b0 89px,#3e0 91px,#490 93px,#320 95px,#130 97px,#1b0 99px,#390 101px,#430 103px,#300 105px,#130 107px,#100 109px,#2a0 111px,#3f0 113px,#3b0 115px,#0f0 119px,#410 123px,#470 125px,#300 127px,#120 129px,#130 131px,#2e0 133px,#3f0 135px,#3c0 137px,#0e0 141px,#180 143px,#370 145px,#490 147px,#410 149px,#0e0 153px,#3d0 159px,#3b0 161px,#180 165px,#150 167px,#350 171px,#3a0 173px,#190 181px,#190 183px,#410 191px,#350 195px,#120 199px,#0c0 201px,#430 207px,#4e0 211px,#2d0 219px,#2c0 227px,#0e0 235px,#010 239px,#050 243px,#030 251px,#100 255px,#060 259px,#0f0 265px,#010 273px,#000 277px,#080 283px)}
.a269{background:linear-gradient(90deg,#0f0 1px,#0e0 5px,#1b0 11px,#0f0 17px,#260 23px,#1f0 25px,#100 27px,#0c0 29px,#340 33px,#300 35px,#040 39px,#280 41px,#470 43px,#420 45px,#1a0 47px,#0a0 49px,#390 51px,#580 53px,#460 55px,#170 57px,#160 59px,#440 61px,#560 63px,#3a0 65px,#0f0 67px,#160 69px,#3b0 71px,#470 73px,#320 75px,#0e0 77px,#110 79px,#340 81px,#470 83px,#380 85px,#160 87px,#150 89px,#380 91px,#4b0 93px,#390 95px,#170 97px,#130 99px,#300 101px,#400 103px,#350 105px,#0c0 109px,#3d0 113px,#400 115px,#120 119px,#1e0 121px,#3a0 123px,#440 125px,#340 127px,#170 129px,#0e0 131px,#390 135px,#3f0 137px,#300 139px,#160 141px,#130 143px,#440 147px,#430 149px,#110 153px,#0f0 155px,#3b0 159px,#420 161px,#350 163px,#120 167px,#310 171px,#390 173px,#1a0 181px,#390 193px,#2e0 197px,#0e0 201px,#110 203px,#490 209px,#550 213px,#250 221px,#200 233px,#050 241px,#030 251px,#080 255px,#060 259px,#0f0 265px,#010 273px,#010 277px,#0b0 283px)}
.a270{background:linear-gradient(90deg,#0f0 1px,#0b0 5px,#190 13px,#0d0 17px,#0e0 19px,#240 23px,#220 25px,#070 29px,#310 33px,#360 35px,#1f0 37px,#010 39px,#1f0 41px,#450 43px,#4a0 45px,#270 47px,#070 49px,#2f0 51px,#560 53px,#4f0 55px,#220 57px,#0d0 59px,#370 61px,#520 63px,#420 65px,#180 67px,#0b0 69px,#2f0 71px,#460 73px,#3c0 75px,#090 79px,#2c0 81px,#490 83px,#430 85px,#200 87px,#0f0 89px,#300 91px,#490 93px,#3f0 95px,#0c0 99px,#3c0 103px,#3b0 105px,#0d0 109px,#3b0 113px,#440 115px,#320 117px,#160 119px,#180 121px,#320 123px,#400 125px,#360 127px,#0c0 131px,#340 135px,#410 137px,#370 139px,#120 143px,#3c0 147px,#410 149px,#310 151px,#0c0 155px,#360 159px,#440 161px,#3e0 163px,#110 167px,#160 169px,#380 173px,#3c0 175px,#190 181px,#2e0 189px,#340 195px,#2f0 197px,#0d0 203px,#140 205px,#510 211px,#580 213px,#1a0 225px,#1f0 235px,#050 245px,#090 249px,#050 259px,#070 265px,#000 275px,#0c0 283px)}
.a271{background:linear-gradient(90deg,#0f0 1px,#0b0 7px,#180 13px,#0a0 19px,#200 23px,#230 25px,#170 27px,#050 29px,#110 31px,#2c0 33px,#390 35px,#280 37px,#070 39px,#150 41px,#400 43px,#4f0 45px,#330 47px,#0b0 49px,#4f0 53px,#540 55px,#2d0 57px,#090 59px,#4b0 63px,#470 65px,#050 69px,#420 73px,#450 75px,#280 77px,#090 79px,#470 83px,#4b0 85px,#0c0 89px,#430 93px,#430 95px,#0a0 99px,#370 103px,#410 105px,#2f0 107px,#120 109px,#170 111px,#370 113px,#470 115px,#380 117px,#1a0 119px,#120 121px,#3c0 125px,#390 127px,#0f0 131px,#160 133px,#310 135px,#410 137px,#3b0 139px,#120 143px,#320 147px,#3c0 149px,#350 151px,#100 155px,#160 157px,#420 161px,#410 163px,#160 167px,#0e0 169px,#330 173px,#400 175px,#3d0 177px,#190 181px,#130 183px,#280 187px,#350 191px,#300 195px,#130 203px,#120 205px,#420 211px,#520 215px,#400 221px,#140 227px,#180 235px,#100 241px,#040 247px,#0b0 251px,#010 259px,#010 263px,#040 269px,#000 277px,#060 283px)}
.a272{background:linear-gradient(90deg,#100 1px,#090 7px,#170 13px,#150 15px,#070 19px,#240 25px,#1b0 27px,#080 29px,#090 31px,#260 33px,#3a0 35px,#310 37px,#100 39px,#0f0 41px,#390 43px,#510 45px,#3d0 47px,#130 49px,#1a0 51px,#460 53px,#540 55px,#360 57px,#0c0 59px,#1a0 61px,#3f0 63px,#490 65px,#2f0 67px,#0a0 69px,#140 71px,#3a0 73px,#4a0 75px,#360 77px,#100 79px,#180 81px,#400 83px,#4e0 85px,#350 87px,#0f0 89px,#180 91px,#3a0 93px,#450 95px,#310 97px,#100 99px,#100 101px,#300 103px,#440 105px,#3a0 107px,#1b0 109px,#110 111px,#2f0 113px,#460 115px,#3e0 117px,#0c0 121px,#370 125px,#3d0 127px,#2d0 129px,#150 131px,#130 133px,#410 137px,#3e0 139px,#120 143px,#160 145px,#380 149px,#370 151px,#170 155px,#140 157px,#3a0 161px,#3f0 163px,#320 165px,#0e0 169px,#150 171px,#3e0 175px,#430 177px,#360 179px,#0f0 183px,#120 185px,#320 189px,#3c0 191px,#3c0 193px,#1c0 199px,#170 203px,#510 219px,#130 231px,#0c0 235px,#0d0 241px,#020 247px,#080 251px,#020 259px,#0b0 267px,#020 273px,#040 277px,#010 281px,#010 283px)}
.a273{background:linear-gradient(90deg,#100 1px,#080 7px,#160 15px,#060 19px,#090 21px,#230 25px,#200 27px,#040 31px,#210 33px,#3a0 35px,#380 37px,#0b0 41px,#320 43px,#4f0 45px,#440 47px,#1b0 49px,#120 51px,#3a0 53px,#4f0 55px,#3c0 57px,#130 59px,#0f0 61px,#320 63px,#460 65px,#390 67px,#160 69px,#0b0 71px,#310 73px,#4b0 75px,#410 77px,#1b0 79px,#100 81px,#350 83px,#4d0 85px,#3d0 87px,#180 89px,#0d0 91px,#2d0 93px,#420 95px,#3a0 97px,#0a0 101px,#440 105px,#440 107px,#0e0 111px,#410 115px,#410 117px,#0c0 121px,#140 123px,#300 125px,#400 127px,#380 129px,#100 133px,#3f0 137px,#400 139px,#130 143px,#100 145px,#360 149px,#3b0 151px,#140 157px,#320 161px,#380 163px,#330 165px,#150 169px,#130 171px,#360 175px,#400 177px,#3a0 179px,#0d0 185px,#3d0 191px,#380 195px,#150 201px,#470 219px,#270 229px,#0b0 235px,#080 241px,#010 245px,#070 251px,#050 261px,#0e0 267px,#030 273px,#090 277px,#040 283px)}
.a274{background:linear-gradient(90deg,#110 1px,#080 9px,#160 15px,#070 19px,#050 21px,#230 25px,#240 27px,#030 31px,#1c0 33px,#390 35px,#3d0 37px,#0c0 41px,#4c0 45px,#470 47px,#0d0 51px,#2e0 53px,#480 55px,#3f0 57px,#080 61px,#260 63px,#420 65px,#400 67px,#090 71px,#480 75px,#470 77px,#0c0 81px,#460 85px,#420 87px,#080 91px,#3c0 95px,#410 97px,#2a0 99px,#0d0 101px,#1c0 103px,#3f0 105px,#490 107px,#310 109px,#100 111px,#180 113px,#360 115px,#420 117px,#320 119px,#150 121px,#0c0 123px,#280 125px,#420 127px,#420 129px,#0f0 133px,#380 137px,#400 139px,#310 141px,#0c0 145px,#360 149px,#3f0 151px,#350 153px,#120 157px,#340 163px,#330 165px,#160 171px,#360 177px,#2d0 181px,#140 185px,#140 187px,#350 191px,#3e0 193px,#330 197px,#130 203px,#3e0 217px,#2b0 229px,#190 233px,#110 239px,#020 245px,#060 249px,#070 255px,#030 263px,#0a0 267px,#020 271px,#0a0 275px,#050 279px,#060 283px)}
.a275{background:linear-gradient(90deg,#110 1px,#060 9px,#170 15px,#140 17px,#020 21px,#230 25px,#280 27px,#1a0 29px,#060 31px,#390 35px,#420 37px,#2a0 39px,#0f0 41px,#470 45px,#480 47px,#0c0 51px,#3f0 55px,#400 57px,#250 59px,#080 61px,#3c0 65px,#450 67px,#2d0 69px,#0d0 71px,#1e0 73px,#420 75px,#490 77px,#2e0 79px,#0d0 81px,#3c0 85px,#420 87px,#2b0 89px,#0d0 91px,#140 93px,#340 95px,#440 97px,#360 99px,#160 101px,#140 103px,#360 105px,#490 107px,#390 109px,#170 111px,#0e0 113px,#290 115px,#3d0 117px,#3a0 119px,#0b0 123px,#3e0 127px,#480 129px,#330 131px,#130 133px,#130 135px,#2d0 137px,#3e0 139px,#390 141px,#0e0 145px,#430 151px,#3a0 153px,#0f0 157px,#350 163px,#380 165px,#170 171px,#300 179px,#170 187px,#320 193px,#390 197px,#330 199px,#0f0 205px,#3a0 213px,#450 217px,#170 233px,#160 239px,#050 245px,#080 253px,#030 257px,#050 267px,#010 271px,#0a0 275px,#070 277px,#010 279px,#080 283px)}
.a276{background:linear-gradient(90deg,#100 1px,#0f0 5px,#060 9px,#170 15px,#160 17px,#0d0 19px,#010 21px,#220 25px,#2c0 27px,#210 29px,#0b0 31px,#160 33px,#380 35px,#460 37px,#310 39px,#120 41px,#1f0 43px,#400 45px,#470 47px,#2c0 49px,#0c0 51px,#180 53px,#370 55px,#410 57px,#2e0 59px,#0f0 61px,#140 63px,#370 65px,#480 67px,#360 69px,#140 71px,#170 73px,#390 75px,#480 77px,#340 79px,#120 81px,#120 83px,#310 85px,#400 87px,#330 89px,#160 91px,#0d0 93px,#2b0 95px,#440 97px,#3e0 99px,#100 103px,#430 107px,#3d0 109px,#090 113px,#360 117px,#400 119px,#300 121px,#140 123px,#160 125px,#360 127px,#480 129px,#3a0 131px,#090 135px,#380 139px,#410 141px,#330 143px,#170 145px,#110 147px,#2d0 149px,#420 151px,#3f0 153px,#110 157px,#0d0 159px,#390 163px,#400 165px,#120 171px,#2f0 177px,#320 179px,#1a0 187px,#370 199px,#0c0 207px,#350 213px,#480 217px,#380 225px,#150 231px,#110 239px,#050 247px,#050 249px,#0d0 253px,#040 257px,#0a0 263px,#020 271px,#0b0 275px,#030 279px,#0c0 283px)}
.a277{background:linear-gradient(90deg,#0f0 1px,#100 5px,#050 11px,#160 15px,#180 17px,#110 19px,#030 21px,#090 23px,#210 25px,#300 27px,#290 29px,#120 31px,#150 33px,#360 35px,#470 37px,#360 39px,#150 41px,#180 43px,#370 45px,#440 47px,#310 49px,#110 51px,#100 53px,#2f0 55px,#420 57px,#370 59px,#170 61px,#100 63px,#310 65px,#480 67px,#3c0 69px,#1a0 71px,#110 73px,#300 75px,#450 77px,#390 79px,#190 81px,#0c0 83px,#270 85px,#3d0 87px,#3a0 89px,#0c0 93px,#410 97px,#430 99px,#100 103px,#390 107px,#3c0 109px,#280 111px,#0e0 113px,#110 115px,#2d0 117px,#420 119px,#3b0 121px,#110 125px,#400 129px,#3c0 131px,#0b0 135px,#110 137px,#2f0 139px,#450 141px,#400 143px,#0d0 147px,#380 151px,#400 153px,#340 155px,#0b0 159px,#380 163px,#470 165px,#3d0 167px,#0e0 171px,#0f0 173px,#330 177px,#3c0 179px,#160 187px,#2e0 195px,#320 199px,#120 207px,#110 209px,#350 215px,#4b0 223px,#460 225px,#200 231px,#070 241px,#040 249px,#130 253px,#070 259px,#0e0 263px,#010 269px,#0b0 275px,#060 279px,#0d0 283px)}
.a278{background:linear-gradient(90deg,#0e0 1px,#110 5px,#030 11px,#1a0 17px,#150 19px,#080 21px,#070 23px,#200 25px,#340 27px,#300 29px,#190 31px,#150 33px,#320 35px,#460 37px,#390 39px,#190 41px,#110 43px,#2c0 45px,#3f0 47px,#360 49px,#0b0 53px,#270 55px,#420 57px,#3f0 59px,#0d0 63px,#460 67px,#410 69px,#0c0 73px,#410 77px,#3d0 79px,#0a0 83px,#390 87px,#3f0 89px,#2a0 91px,#100 93px,#1d0 95px,#3d0 97px,#450 99px,#2f0 101px,#110 103px,#160 105px,#2e0 107px,#380 109px,#2f0 111px,#0e0 115px,#410 119px,#410 121px,#110 125px,#320 129px,#380 131px,#2d0 133px,#0d0 137px,#430 141px,#470 143px,#2e0 145px,#0f0 147px,#100 149px,#3a0 153px,#3f0 155px,#300 157px,#150 159px,#120 161px,#2e0 163px,#430 165px,#410 167px,#090 173px,#320 177px,#430 179px,#400 181px,#0e0 187px,#350 195px,#1c0 203px,#1a0 207px,#250 215px,#480 223px,#2a0 233px,#090 239px,#070 245px,#020 249px,#130 253px,#060 259px,#0c0 263px,#010 267px,#070 275px,#030 279px,#090 283px)}
.a279{background:linear-gradient(90deg,#0d0 1px,#120 5px,#030 11px,#1b0 17px,#1a0 19px,#080 23px,#380 27px,#370 29px,#1f0 31px,#150 33px,#400 37px,#380 39px,#0b0 43px,#390 47px,#3c0 49px,#0c0 53px,#410 57px,#450 59px,#0d0 63px,#400 67px,#450 69px,#2b0 71px,#0c0 73px,#3c0 77px,#410 79px,#290 81px,#0c0 83px,#150 85px,#340 87px,#430 89px,#350 91px,#160 93px,#180 95px,#390 97px,#460 99px,#320 101px,#130 103px,#0e0 105px,#350 109px,#360 111px,#130 115px,#3f0 119px,#420 121px,#110 125px,#120 127px,#330 131px,#350 133px,#140 137px,#3c0 141px,#430 143px,#310 145px,#070 149px,#320 153px,#450 155px,#400 157px,#0e0 161px,#340 165px,#3d0 167px,#3a0 169px,#2a0 171px,#130 173px,#0f0 175px,#3f0 179px,#440 181px,#380 183px,#100 187px,#0c0 189px,#300 193px,#3d0 195px,#3c0 197px,#180 203px,#150 205px,#250 211px,#250 217px,#3b0 223px,#300 233px,#110 239px,#010 249px,#0c0 253px,#0b0 255px,#040 257px,#040 259px,#0a0 261px,#090 263px,#020 265px,#0a0 269px,#030 273px,#010 279px,#060 283px)}
.a280{background:linear-gradient(90deg,#0b0 1px,#140 5px,#120 7px,#030 11px,#060 13px,#1c0 17px,#1f0 19px,#0c0 23px,#3d0 27px,#3c0 29px,#150 33px,#370 37px,#330 39px,#0d0 43px,#170 45px,#340 47px,#430 49px,#310 51px,#120 53px,#1c0 55px,#3c0 57px,#450 59px,#2f0 61px,#100 63px,#150 65px,#360 67px,#480 69px,#370 71px,#120 73px,#140 75px,#360 77px,#430 79px,#320 81px,#130 83px,#0d0 85px,#2d0 87px,#470 89px,#420 91px,#200 93px,#130 95px,#320 97px,#440 99px,#350 101px,#080 105px,#340 109px,#400 111px,#320 113px,#190 115px,#220 117px,#3c0 119px,#3e0 121px,#100 125px,#0b0 127px,#320 131px,#3e0 133px,#330 135px,#1c0 137px,#1f0 139px,#320 141px,#370 143px,#0f0 149px,#110 151px,#460 155px,#450 157px,#0f0 161px,#0e0 163px,#330 167px,#410 169px,#3b0 171px,#0e0 175px,#2f0 179px,#3f0 183px,#340 185px,#0d0 189px,#110 191px,#390 195px,#410 197px,#130 207px,#370 219px,#300 231px,#130 241px,#010 245px,#070 249px,#060 253px,#010 257px,#0e0 261px,#060 265px,#100 269px,#010 275px,#0a0 283px)}
.a281{background:linear-gradient(90deg,#090 1px,#160 5px,#160 7px,#040 13px,#210 17px,#260 19px,#140 23px,#410 27px,#400 29px,#110 33px,#2f0 37px,#2e0 39px,#160 43px,#160 45px,#490 49px,#3c0 51px,#170 53px,#170 55px,#340 57px,#400 59px,#0f0 65px,#490 69px,#440 71px,#1e0 73px,#0b0 75px,#2d0 77px,#420 79px,#3a0 81px,#0b0 85px,#4a0 89px,#4f0 91px,#0d0 95px,#280 97px,#3f0 99px,#380 101px,#0a0 105px,#150 107px,#370 109px,#4d0 111px,#400 113px,#1e0 115px,#1c0 117px,#350 119px,#380 121px,#0c0 127px,#3a0 131px,#490 133px,#3b0 135px,#1e0 137px,#190 139px,#290 143px,#1c0 151px,#430 155px,#3f0 157px,#110 161px,#090 163px,#450 169px,#430 171px,#110 175px,#0d0 177px,#420 183px,#400 185px,#0c0 191px,#3c0 197px,#340 203px,#0f0 209px,#190 213px,#410 219px,#1a0 241px,#010 245px,#090 247px,#0d0 249px,#010 255px,#120 261px,#070 265px,#100 269px,#030 273px,#0a0 283px)}
.a282{background:linear-gradient(90deg,#050 1px,#170 5px,#1a0 7px,#0e0 11px,#030 13px,#310 17px,#220 23px,#2a0 25px,#410 27px,#460 29px,#060 33px,#330 37px,#260 45px,#4a0 49px,#470 51px,#1c0 53px,#0b0 55px,#2d0 57px,#410 59px,#380 61px,#220 63px,#1d0 65px,#460 69px,#500 71px,#2e0 73px,#040 75px,#420 79px,#490 81px,#150 85px,#4c0 89px,#570 91px,#3d0 93px,#0d0 95px,#170 97px,#350 99px,#440 101px,#380 103px,#1a0 105px,#1c0 107px,#430 109px,#5a0 111px,#4e0 113px,#0f0 117px,#250 119px,#340 121px,#370 123px,#180 127px,#480 131px,#530 133px,#410 135px,#1b0 137px,#0b0 139px,#390 145px,#2b0 151px,#3d0 155px,#350 157px,#160 161px,#160 163px,#470 169px,#410 171px,#130 175px,#0f0 177px,#420 183px,#410 185px,#160 191px,#170 193px,#320 197px,#450 203px,#3a0 205px,#0f0 209px,#090 211px,#100 213px,#3a0 217px,#390 221px,#4b0 225px,#3c0 231px,#210 235px,#290 239px,#1e0 241px,#020 245px,#0c0 247px,#0f0 249px,#010 255px,#0e0 261px,#020 265px,#0a0 267px,#0d0 269px,#030 273px,#070 275px,#030 283px)}
svg.ov{position:absolute;left:0;top:0}
svg text{font-family:"Liberation Serif","Times New Roman",serif;fill:#000}
</style></head><body>
<svg width="0" height="0" style="position:absolute"><defs><filter id="hot" x="0" y="0" width="1" height="1" color-interpolation-filters="sRGB">
<feColorMatrix type="matrix" values="0.941176 0.0588235 0 0 0  0.941176 0.0588235 0 0 0  0.941176 0.0588235 0 0 0  0 0 0 1 0"/>
<feComponentTransfer><feFuncR type="table" tableValues="0 0.027 0.055 0.082 0.11 0.137 0.164 0.192 0.219 0.247 0.274 0.301 0.329 0.356 0.384 0.411 0.438 0.466 0.493 0.521 0.548 0.575 0.603 0.63 0.658 0.685 0.712 0.74 0.767 0.795 0.822 0.849 0.877 0.904 0.932 0.959 0.986 1 1 1 1 1 1 1 1 1 1 1 1 1 1 1 1 1 1 1 1 1 1 1 1 1 1 1 1 1 1 1 1 1 1 1 1 1 1 1 1 1 1 1 1 1 1 1 1 1 1 1 1 1 1 1 1 1 1 1 1 1 1 1 1"/><feFuncG type="table" tableValues="0 0 0 0 0 0 0 0 0 0 0 0 0 0 0 0 0 0 0 0 0 0 0 0 0 0 0 0 0 0 0 0 0 0 0 0 0 0.013 0.039 0.066 0.092 0.118 0.144 0.171 0.197 0.223 0.249 0.276 0.302 0.328 0.354 0.381 0.407 0.433 0.459 0.486 0.512 0.538 0.564 0.591 0.617 0.643 0.669 0.696 0.722 0.748 0.774 0.801 0.827 0.853 0.879 0.906 0.932 0.958 0.984 1 1 1 1 1 1 1 1 1 1 1 1 1 1 1 1 1 1 1 1 1 1 1 1 1 1"/><feFuncB type="table" tableValues="0 0 0 0 0 0 0 0 0 0 0 0 0 0 0 0 0 0 0 0 0 0 0 0 0 0 0 0 0 0 0 0 0 0 0 0 0 0 0 0 0 0 0 0 0 0 0 0 0 0 0 0 0 0 0 0 0 0 0 0 0 0 0 0 0 0 0 0 0 0 0 0 0 0 0 0.016 0.055 0.094 0.134 0.173 0.213 0.252 0.291 0.331 0.37 0.409 0.449 0.488 0.528 0.567 0.606 0.646 0.685 0.724 0.764 0.803 0.843 0.882 0.921 0.961 1"/></feComponentTransfer>
<feGaussianBlur stdDeviation="0.8"/>
</filter></defs></svg>
<div class="hm" id="hmA" style="left:149px;top:57px;width:566px;height:567px"><div class="w"><p><i class=a0></i><i class=a1></i><i class=a2></i><i class=a3></i><i class=a4></i><i class=a5></i><i class=a6></i><i class=a7></i><i class=a8></i><i class=a9></i><i class=a10></i><i class=a11></i><i class=a12></i><i class=a13></i><i class=a14></i><i class=a15></i><i class=a16></i><i class=a17></i><i class=a18></i><i class=a19></i><i class=a20></i><i class=a21></i><i class=a22></i><i class=a23></i><i class=a24></i><i class=a25></i><i class=a26></i><i class=a27></i><i class=a28></i><i class=a29></i><i class=a30></i><i class=a31></i><i class=a32></i><i class=a33></i><i class=a34></i><i class=a35></i><i class=a36></i><i class=a37></i><i class=a38></i><i class=a39></i><i class=a40></i><i class=a41></i><i class=a42></i><i class=a43></i><i class=a44></i><i class=a45></i><i class=a46></i><i class=a47></i><i class=a48></i><i class=a49></i><i class=a50></i><i class=a51></i><i class=a52></i><i class=a53></i><i class=a54></i><i class=a55></i><i class=a56></i><i class=a57></i><i class=a58></i><i class=a59></i><i class=a60></i><i class=a61></i><i class=a62></i><i class=a63></i><i class=a64></i><i class=a65></i><i class=a66></i><i class=a67></i><i class=a68></i><i class=a69></i><i class=a70></i><i class=a71></i><i class=a72></i><i class=a73></i><i class=a74></i><i class=a75></i><i class=a76></i><i class=a77></i><i class=a78></i><i class=a79></i><i class=a80></i><i class=a81></i><i class=a82></i><i class=a83></i><i class=a84></i><i class=a85></i><i class=a86></i><i class=a87></i><i class=a88></i><i class=a89></i><i class=a90></i><i class=a91></i><i class=a92></i><i class=a93></i><i class=a94></i><i class=a95></i><i class=a96></i><i class=a97></i><i class=a98></i><i class=a99></i><i class=a100></i><i class=a101></i><i class=a102></i><i class=a103></i><i class=a104></i><i class=a105></i><i class=a106></i><i class=a107></i><i class=a108></i><i class=a109></i><i class=a110></i><i class=a111></i><i class=a112></i><i class=a113></i><i class=a114></i><i class=a115></i><i class=a116></i><i class=a117></i><i class=a118></i><i class=a119></i><i class=a120></i><i class=a121></i><i class=a122></i><i class=a123></i><i class=a124></i><i class=a125></i><i class=a126></i><i class=a127></i><i class=a128></i><i class=a129></i><i class=a130></i><i class=a131></i><i class=a132></i><i class=a133></i><i class=a134></i><i class=a135></i><i class=a136></i><i class=a137></i><i class=a138></i><i class=a139></i><i class=a140></i><i class=a141></i><i class=a142></i><i class=a143></i><i class=a144></i><i class=a145></i><i class=a146></i><i class=a147></i><i class=a148></i><i class=a149></i><i class=a150></i><i class=a151></i><i class=a152></i><i class=a153></i><i class=a154></i><i class=a155></i><i class=a156></i><i class=a157></i><i class=a158></i><i class=a159></i><i class=a160></i><i class=a161></i><i class=a162></i><i class=a163></i><i class=a164></i><i class=a165></i><i class=a166></i><i class=a167></i><i class=a168></i><i class=a169></i><i class=a170></i><i class=a171></i><i class=a172></i><i class=a173></i><i class=a174></i><i class=a175></i><i class=a176></i><i class=a177></i><i class=a178></i><i class=a179></i><i class=a180></i><i class=a181></i><i class=a182></i><i class=a183></i><i class=a184></i><i class=a185></i><i class=a186></i><i class=a187></i><i class=a188></i><i class=a189></i><i class=a190></i><i class=a191></i><i class=a192></i><i class=a193></i><i class=a194></i><i class=a195></i><i class=a196></i><i class=a197></i><i class=a198></i><i class=a199></i><i class=a200></i><i class=a201></i><i class=a202></i><i class=a203></i><i class=a204></i><i class=a205></i><i class=a206></i><i class=a207></i><i class=a208></i><i class=a209></i><i class=a210></i><i class=a211></i><i class=a212></i><i class=a213></i><i class=a214></i><i class=a215></i><i class=a216></i><i class=a217></i><i class=a218></i><i class=a219></i><i class=a220></i><i class=a221></i><i class=a222></i><i class=a223></i><i class=a224></i><i class=a225></i><i class=a226></i><i class=a227></i><i class=a228></i><i class=a229></i><i class=a230></i><i class=a231></i><i class=a232></i><i class=a233></i><i class=a234></i><i class=a235></i><i class=a236></i><i class=a237></i><i class=a238></i><i class=a239></i><i class=a240></i><i class=a241></i><i class=a242></i><i class=a243></i><i class=a244></i><i class=a245></i><i class=a246></i><i class=a247></i><i class=a248></i><i class=a249></i><i class=a250></i><i class=a251></i><i class=a252></i><i class=a253></i><i class=a254></i><i class=a255></i><i class=a256></i><i class=a257></i><i class=a258></i><i class=a259></i><i class=a260></i><i class=a261></i><i class=a262></i><i class=a263></i><i class=a264></i><i class=a265></i><i class=a266></i><i class=a267></i><i class=a268></i><i class=a269></i><i class=a270></i><i class=a271></i><i class=a272></i><i class=a273></i><i class=a274></i><i class=a275></i><i class=a276></i><i class=a277></i><i class=a278></i><i class=a279></i><i class=a280></i><i class=a281></i><i class=a282></i></p><p><i class=a0></i><i class=a1></i><i class=a2></i><i class=a3></i><i class=a4></i><i class=a5></i><i class=a6></i><i class=a7></i><i class=a8></i><i class=a9></i><i class=a10></i><i class=a11></i><i class=a12></i><i class=a13></i><i class=a14></i><i class=a15></i><i class=a16></i><i class=a17></i><i class=a18></i><i class=a19></i><i class=a20></i><i class=a21></i><i class=a22></i><i class=a23></i><i class=a24></i><i class=a25></i><i class=a26></i><i class=a27></i><i class=a28></i><i class=a29></i><i class=a30></i><i class=a31></i><i class=a32></i><i class=a33></i><i class=a34></i><i class=a35></i><i class=a36></i><i class=a37></i><i class=a38></i><i class=a39></i><i class=a40></i><i class=a41></i><i class=a42></i><i class=a43></i><i class=a44></i><i class=a45></i><i class=a46></i><i class=a47></i><i class=a48></i><i class=a49></i><i class=a50></i><i class=a51></i><i class=a52></i><i class=a53></i><i class=a54></i><i class=a55></i><i class=a56></i><i class=a57></i><i class=a58></i><i class=a59></i><i class=a60></i><i class=a61></i><i class=a62></i><i class=a63></i><i class=a64></i><i class=a65></i><i class=a66></i><i class=a67></i><i class=a68></i><i class=a69></i><i class=a70></i><i class=a71></i><i class=a72></i><i class=a73></i><i class=a74></i><i class=a75></i><i class=a76></i><i class=a77></i><i class=a78></i><i class=a79></i><i class=a80></i><i class=a81></i><i class=a82></i><i class=a83></i><i class=a84></i><i class=a85></i><i class=a86></i><i class=a87></i><i class=a88></i><i class=a89></i><i class=a90></i><i class=a91></i><i class=a92></i><i class=a93></i><i class=a94></i><i class=a95></i><i class=a96></i><i class=a97></i><i class=a98></i><i class=a99></i><i class=a100></i><i class=a101></i><i class=a102></i><i class=a103></i><i class=a104></i><i class=a105></i><i class=a106></i><i class=a107></i><i class=a108></i><i class=a109></i><i class=a110></i><i class=a111></i><i class=a112></i><i class=a113></i><i class=a114></i><i class=a115></i><i class=a116></i><i class=a117></i><i class=a118></i><i class=a119></i><i class=a120></i><i class=a121></i><i class=a122></i><i class=a123></i><i class=a124></i><i class=a125></i><i class=a126></i><i class=a127></i><i class=a128></i><i class=a129></i><i class=a130></i><i class=a131></i><i class=a132></i><i class=a133></i><i class=a134></i><i class=a135></i><i class=a136></i><i class=a137></i><i class=a138></i><i class=a139></i><i class=a140></i><i class=a141></i><i class=a142></i><i class=a143></i><i class=a144></i><i class=a145></i><i class=a146></i><i class=a147></i><i class=a148></i><i class=a149></i><i class=a150></i><i class=a151></i><i class=a152></i><i class=a153></i><i class=a154></i><i class=a155></i><i class=a156></i><i class=a157></i><i class=a158></i><i class=a159></i><i class=a160></i><i class=a161></i><i class=a162></i><i class=a163></i><i class=a164></i><i class=a165></i><i class=a166></i><i class=a167></i><i class=a168></i><i class=a169></i><i class=a170></i><i class=a171></i><i class=a172></i><i class=a173></i><i class=a174></i><i class=a175></i><i class=a176></i><i class=a177></i><i class=a178></i><i class=a179></i><i class=a180></i><i class=a181></i><i class=a182></i><i class=a183></i><i class=a184></i><i class=a185></i><i class=a186></i><i class=a187></i><i class=a188></i><i class=a189></i><i class=a190></i><i class=a191></i><i class=a192></i><i class=a193></i><i class=a194></i><i class=a195></i><i class=a196></i><i class=a197></i><i class=a198></i><i class=a199></i><i class=a200></i><i class=a201></i><i class=a202></i><i class=a203></i><i class=a204></i><i class=a205></i><i class=a206></i><i class=a207></i><i class=a208></i><i class=a209></i><i class=a210></i><i class=a211></i><i class=a212></i><i class=a213></i><i class=a214></i><i class=a215></i><i class=a216></i><i class=a217></i><i class=a218></i><i class=a219></i><i class=a220></i><i class=a221></i><i class=a222></i><i class=a223></i><i class=a224></i><i class=a225></i><i class=a226></i><i class=a227></i><i class=a228></i><i class=a229></i><i class=a230></i><i class=a231></i><i class=a232></i><i class=a233></i><i class=a234></i><i class=a235></i><i class=a236></i><i class=a237></i><i class=a238></i><i class=a239></i><i class=a240></i><i class=a241></i><i class=a242></i><i class=a243></i><i class=a244></i><i class=a245></i><i class=a246></i><i class=a247></i><i class=a248></i><i class=a249></i><i class=a250></i><i class=a251></i><i class=a252></i><i class=a253></i><i class=a254></i><i class=a255></i><i class=a256></i><i class=a257></i><i class=a258></i><i class=a259></i><i class=a260></i><i class=a261></i><i class=a262></i><i class=a263></i><i class=a264></i><i class=a265></i><i class=a266></i><i class=a267></i><i class=a268></i><i class=a269></i><i class=a270></i><i class=a271></i><i class=a272></i><i class=a273></i><i class=a274></i><i class=a275></i><i class=a276></i><i class=a277></i><i class=a278></i><i class=a279></i><i class=a280></i><i class=a281></i><i class=a282></i></p></div><b></b></div>
<div class="hm" id="hmC" style="left:886px;top:57px;width:567px;height:567px"><div class="w"><i style="background:linear-gradient(90deg,#020 1px,#060 99px,#040 155px,#080 173px,#050 189px,#090 217px,#050 231px,#0d0 263px,#030 275px,#110 300px,#020 310px,#210 316px,#340 320px,#2b0 334px,#750 344px,#810 348px,#380 358px,#620 366px,#590 370px,#310 374px,#020 380px,#0a0 386px,#040 392px,#310 402px,#3e0 406px,#2e0 412px,#010 420px,#0c0 430px,#340 438px,#3e0 442px,#310 446px,#010 456px,#220 472px,#280 476px,#020 504px,#1c0 516px,#290 524px,#2a0 532px,#0b0 546px,#370 566px)"></i>
<i style="background:linear-gradient(90deg,#020 1px,#040 155px,#080 173px,#040 189px,#090 217px,#040 231px,#0d0 263px,#030 277px,#110 300px,#020 310px,#1e0 316px,#310 320px,#350 324px,#290 334px,#740 344px,#820 348px,#390 358px,#670 366px,#5d0 370px,#330 374px,#020 380px,#090 386px,#030 392px,#310 402px,#400 406px,#2e0 412px,#000 420px,#080 424px,#0f0 430px,#3c0 440px,#2d0 446px,#010 454px,#260 474px,#230 480px,#020 502px,#1b0 514px,#290 522px,#280 532px,#0d0 542px,#0b0 546px,#3a0 566px)"></i>
<i style="background:linear-gradient(90deg,#020 1px,#040 153px,#080 173px,#040 189px,#080 217px,#050 233px,#0d0 263px,#030 277px,#100 298px,#0c0 304px,#020 310px,#2d0 320px,#320 324px,#260 334px,#720 344px,#820 348px,#3b0 358px,#610 364px,#6c0 368px,#4d0 372px,#020 380px,#020 382px,#080 386px,#020 392px,#320 402px,#420 406px,#2e0 412px,#010 420px,#0b0 424px,#130 430px,#370 438px,#3b0 442px,#290 446px,#000 454px,#080 458px,#260 474px,#220 480px,#010 502px,#1a0 512px,#280 518px,#290 530px,#0b0 544px,#2e0 558px,#3b0 566px)"></i>
<i style="background:linear-gradient(90deg,#020 1px,#070 173px,#040 189px,#080 205px,#050 233px,#0c0 263px,#030 277px,#100 298px,#0c0 304px,#020 310px,#220 318px,#2e0 322px,#230 332px,#290 336px,#710 344px,#820 348px,#3c0 358px,#660 364px,#700 368px,#500 372px,#040 380px,#030 382px,#080 386px,#010 392px,#320 402px,#430 406px,#3b0 410px,#040 418px,#030 420px,#0f0 424px,#160 430px,#3b0 440px,#310 444px,#030 452px,#020 454px,#0e0 460px,#260 476px,#010 500px,#1f0 512px,#2b0 518px,#2a0 528px,#0b0 542px,#330 558px,#3b0 566px)"></i>
<i style="background:linear-gradient(90deg,#020 1px,#070 173px,#040 189px,#080 205px,#050 233px,#0b0 245px,#0c0 265px,#030 277px,#100 296px,#0e0 302px,#020 310px,#1f0 318px,#2b0 322px,#210 332px,#260 336px,#6f0 344px,#810 348px,#3d0 358px,#6a0 364px,#740 368px,#530 372px,#060 380px,#070 388px,#010 392px,#030 394px,#330 402px,#450 406px,#440 408px,#2d0 412px,#030 418px,#130 424px,#190 430px,#3a0 440px,#2d0 444px,#020 452px,#0d0 458px,#250 476px,#010 498px,#010 500px,#1e0 510px,#2c0 516px,#280 528px,#0b0 540px,#330 556px,#3b0 566px)"></i>
<i style="background:linear-gradient(90deg,#020 1px,#070 173px,#040 189px,#090 205px,#050 233px,#0b0 247px,#0b0 267px,#030 279px,#100 294px,#0d0 302px,#030 310px,#280 322px,#220 336px,#6e0 344px,#800 348px,#780 350px,#410 356px,#3e0 358px,#6e0 364px,#770 368px,#560 372px,#090 380px,#080 388px,#010 392px,#020 394px,#340 402px,#460 406px,#3b0 410px,#030 418px,#170 424px,#1c0 430px,#370 440px,#280 444px,#050 450px,#030 452px,#100 458px,#240 476px,#000 498px,#1c0 508px,#2d0 514px,#290 526px,#0b0 538px,#370 556px,#380 566px)"></i>
<i style="background:linear-gradient(90deg,#030 1px,#070 173px,#040 191px,#090 207px,#050 233px,#0c0 247px,#0a0 267px,#040 279px,#110 294px,#0d0 302px,#030 310px,#250 322px,#1f0 336px,#6c0 344px,#7f0 348px,#770 350px,#410 356px,#3f0 358px,#710 364px,#7b0 368px,#590 372px,#0c0 380px,#0a0 388px,#010 394px,#350 402px,#470 406px,#3a0 410px,#090 416px,#050 418px,#1c0 424px,#1f0 430px,#340 440px,#240 444px,#040 450px,#130 458px,#240 476px,#1a0 482px,#000 496px,#220 508px,#310 514px,#2a0 524px,#0c0 538px,#370 554px,#3e0 560px,#350 566px)"></i>
<i style="background:linear-gradient(90deg,#030 1px,#070 171px,#040 191px,#090 207px,#060 233px,#0c0 249px,#090 269px,#040 279px,#120 294px,#040 310px,#260 324px,#1b0 336px,#6a0 344px,#7d0 348px,#400 356px,#3f0 358px,#750 364px,#7d0 368px,#5b0 372px,#0f0 380px,#0b0 388px,#010 394px,#350 402px,#480 406px,#390 410px,#080 416px,#070 418px,#210 424px,#230 432px,#320 438px,#2a0 442px,#050 450px,#160 458px,#230 476px,#190 482px,#000 494px,#320 512px,#2b0 522px,#0c0 536px,#3b0 554px,#3d0 560px,#310 566px)"></i>
<i style="background:linear-gradient(90deg,#030 1px,#070 169px,#040 189px,#090 207px,#060 235px,#0c0 249px,#040 279px,#120 294px,#040 310px,#240 324px,#180 336px,#770 346px,#730 350px,#3f0 356px,#400 358px,#820 366px,#730 370px,#120 380px,#0e0 388px,#020 394px,#360 402px,#480 406px,#370 410px,#070 416px,#260 424px,#230 432px,#2f0 438px,#250 442px,#070 448px,#060 450px,#160 456px,#230 476px,#180 482px,#000 492px,#030 496px,#2d0 508px,#350 512px,#280 522px,#0c0 534px,#3b0 552px,#3e0 558px,#2c0 566px)"></i>
<i style="background:linear-gradient(90deg,#030 1px,#060 133px,#040 151px,#070 169px,#040 189px,#0a0 207px,#060 233px,#0c0 249px,#050 281px,#130 294px,#040 310px,#220 324px,#230 328px,#130 334px,#150 336px,#660 344px,#750 346px,#700 350px,#3f0 356px,#410 358px,#840 366px,#750 370px,#160 380px,#100 388px,#030 394px,#080 396px,#370 402px,#480 406px,#340 410px,#080 416px,#260 422px,#2b0 424px,#230 430px,#280 440px,#070 448px,#190 456px,#230 476px,#1c0 480px,#010 490px,#010 492px,#2b0 506px,#360 510px,#2e0 518px,#0c0 532px,#2d0 544px,#3d0 552px,#3c0 558px,#270 566px)"></i>
<i style="background:linear-gradient(90deg,#030 1px,#070 133px,#040 151px,#070 167px,#050 189px,#0a0 207px,#050 225px,#0c0 249px,#050 281px,#130 294px,#040 310px,#220 326px,#120 336px,#4c0 342px,#720 346px,#6d0 350px,#3e0 356px,#410 358px,#860 366px,#780 370px,#190 380px,#140 388px,#050 394px,#080 396px,#370 402px,#470 406px,#310 410px,#0e0 414px,#090 416px,#210 420px,#300 424px,#220 432px,#230 440px,#070 448px,#1b0 456px,#180 464px,#220 476px,#140 482px,#000 490px,#280 504px,#390 510px,#300 516px,#0d0 530px,#100 534px,#330 544px,#3e0 550px,#390 558px,#220 566px)"></i>
<i style="background:linear-gradient(90deg,#030 1px,#070 133px,#040 151px,#080 167px,#050 189px,#0a0 207px,#050 223px,#0c0 249px,#060 281px,#130 294px,#050 310px,#210 326px,#0f0 336px,#4a0 342px,#6f0 346px,#6a0 350px,#3d0 356px,#420 358px,#7d0 364px,#870 366px,#7a0 370px,#1d0 380px,#140 390px,#080 394px,#090 396px,#370 402px,#460 406px,#2e0 410px,#0c0 414px,#0c0 416px,#280 420px,#350 424px,#200 432px,#1f0 440px,#080 446px,#1e0 456px,#180 464px,#230 474px,#190 480px,#000 488px,#3a0 508px,#330 514px,#0d0 530px,#330 542px,#3e0 548px,#3a0 556px,#1d0 566px)"></i>
<i style="background:linear-gradient(90deg,#030 1px,#070 133px,#040 151px,#080 167px,#050 187px,#0a0 207px,#050 223px,#0c0 249px,#060 261px,#070 281px,#130 294px,#050 310px,#200 326px,#0c0 336px,#470 342px,#6c0 346px,#670 350px,#3c0 356px,#880 366px,#7c0 370px,#200 380px,#190 390px,#0a0 394px,#0a0 396px,#370 402px,#440 406px,#3b0 408px,#0b0 414px,#100 416px,#2e0 420px,#390 424px,#1e0 432px,#1f0 438px,#080 446px,#1e0 454px,#180 464px,#210 476px,#010 488px,#2b0 502px,#3c0 508px,#0e0 528px,#330 540px,#3f0 546px,#3a0 554px,#180 566px)"></i>
<i style="background:linear-gradient(90deg,#030 1px,#070 133px,#040 151px,#080 167px,#050 187px,#0a0 207px,#050 223px,#0c0 249px,#060 263px,#080 284px,#130 294px,#040 310px,#1f0 326px,#0a0 336px,#450 342px,#690 346px,#630 350px,#3a0 356px,#880 366px,#7e0 370px,#240 380px,#1e0 390px,#0b0 396px,#370 402px,#410 406px,#0b0 414px,#340 420px,#3d0 424px,#1b0 432px,#1a0 438px,#090 446px,#200 454px,#190 464px,#200 476px,#130 480px,#010 486px,#0e0 492px,#3d0 506px,#3a0 510px,#0f0 526px,#130 530px,#390 540px,#400 546px,#360 554px,#150 566px)"></i>
<i style="background:linear-gradient(90deg,#030 1px,#040 115px,#070 133px,#040 151px,#080 167px,#050 185px,#090 207px,#050 223px,#0b0 249px,#050 263px,#0a0 275px,#080 284px,#130 294px,#040 308px,#1e0 326px,#190 330px,#090 334px,#080 336px,#420 342px,#650 346px,#5e0 350px,#390 356px,#880 366px,#700 372px,#270 380px,#230 390px,#0d0 396px,#3f0 404px,#330 408px,#100 412px,#0c0 414px,#2b0 418px,#420 422px,#400 424px,#180 432px,#160 438px,#080 444px,#220 454px,#190 464px,#210 474px,#180 478px,#020 484px,#020 486px,#0e0 490px,#360 502px,#3f0 506px,#0f0 524px,#130 528px,#390 538px,#410 544px,#370 552px,#140 566px)"></i>
<i style="background:linear-gradient(90deg,#030 1px,#040 115px,#070 133px,#040 149px,#080 167px,#040 185px,#090 207px,#050 223px,#0b0 249px,#050 263px,#0b0 275px,#090 284px,#130 294px,#040 308px,#1d0 326px,#180 330px,#070 334px,#060 336px,#400 342px,#610 346px,#5a0 350px,#380 356px,#7e0 364px,#890 368px,#730 372px,#2a0 380px,#290 390px,#0e0 396px,#3d0 404px,#2e0 408px,#0d0 412px,#0e0 414px,#320 418px,#460 422px,#420 424px,#150 432px,#120 438px,#070 444px,#240 454px,#1a0 464px,#210 472px,#150 478px,#010 484px,#140 490px,#3f0 504px,#3b0 508px,#150 518px,#100 522px,#130 526px,#390 536px,#420 542px,#370 550px,#150 562px,#150 566px)"></i>
<i style="background:linear-gradient(90deg,#030 1px,#040 115px,#070 133px,#040 149px,#080 167px,#040 185px,#090 207px,#050 223px,#0b0 239px,#050 265px,#0c0 275px,#0a0 286px,#130 294px,#030 308px,#1c0 326px,#170 330px,#060 334px,#050 336px,#3d0 342px,#5d0 346px,#5e0 348px,#370 356px,#7d0 364px,#8a0 368px,#760 372px,#2c0 380px,#2f0 390px,#0f0 396px,#3a0 404px,#290 408px,#0b0 412px,#110 414px,#380 418px,#4a0 422px,#440 424px,#110 432px,#070 442px,#070 444px,#220 452px,#260 456px,#1b0 464px,#1e0 474px,#110 478px,#010 482px,#1a0 490px,#400 504px,#380 508px,#150 516px,#100 520px,#180 526px,#3e0 536px,#430 540px,#370 548px,#150 560px,#170 566px)"></i>
<i style="background:linear-gradient(90deg,#030 1px,#040 115px,#070 133px,#040 149px,#080 167px,#040 185px,#090 205px,#050 223px,#0b0 239px,#050 265px,#0c0 275px,#0a0 286px,#120 294px,#030 308px,#1b0 326px,#160 330px,#050 334px,#030 336px,#3a0 342px,#590 346px,#5a0 348px,#350 356px,#7b0 364px,#8a0 368px,#790 372px,#2f0 380px,#360 390px,#100 396px,#360 404px,#320 406px,#0a0 412px,#3e0 418px,#4d0 422px,#350 426px,#150 430px,#0b0 434px,#060 442px,#240 452px,#280 456px,#1c0 464px,#1b0 474px,#010 482px,#210 490px,#3f0 502px,#3b0 506px,#160 514px,#100 518px,#440 538px,#380 546px,#130 560px,#1a0 566px)"></i>
<i style="background:linear-gradient(90deg,#030 1px,#040 115px,#070 133px,#040 149px,#080 167px,#040 185px,#090 203px,#050 223px,#0b0 239px,#060 265px,#120 296px,#030 308px,#1b0 326px,#150 330px,#040 334px,#030 336px,#230 340px,#4a0 344px,#550 348px,#340 356px,#790 364px,#8b0 368px,#7c0 372px,#310 380px,#2e0 382px,#420 388px,#3d0 390px,#110 396px,#130 398px,#2d0 402px,#330 404px,#2d0 406px,#0f0 410px,#0a0 412px,#2f0 416px,#4f0 420px,#440 424px,#0a0 432px,#050 442px,#1f0 450px,#2a0 456px,#180 474px,#010 480px,#210 488px,#400 502px,#370 506px,#0f0 516px,#450 536px,#3e0 542px,#130 558px,#1f0 566px)"></i>
<i style="background:linear-gradient(90deg,#030 1px,#040 115px,#070 133px,#040 149px,#080 167px,#040 183px,#090 201px,#050 223px,#0c0 239px,#060 265px,#0e0 277px,#0a0 286px,#110 296px,#030 308px,#1a0 326px,#140 330px,#030 334px,#020 336px,#210 340px,#460 344px,#500 348px,#320 356px,#770 364px,#8b0 368px,#7f0 372px,#330 380px,#4a0 388px,#440 390px,#110 396px,#120 398px,#2a0 402px,#2f0 404px,#280 406px,#0b0 410px,#0b0 412px,#480 418px,#500 422px,#070 432px,#040 440px,#040 442px,#270 452px,#2d0 456px,#1d0 464px,#190 472px,#010 480px,#140 484px,#290 488px,#3e0 500px,#3a0 504px,#0f0 514px,#460 534px,#3f0 540px,#140 556px,#240 566px)"></i>
<i style="background:linear-gradient(90deg,#030 1px,#040 115px,#070 133px,#040 149px,#080 167px,#040 183px,#090 201px,#060 223px,#0c0 241px,#060 265px,#0e0 277px,#0b0 288px,#100 296px,#030 308px,#1a0 326px,#130 330px,#030 334px,#030 336px,#200 340px,#420 344px,#4b0 348px,#300 356px,#740 364px,#8b0 368px,#810 372px,#350 380px,#520 388px,#390 392px,#110 396px,#100 398px,#270 402px,#2b0 404px,#230 406px,#080 410px,#0d0 412px,#3a0 416px,#4c0 418px,#500 422px,#040 432px,#020 434px,#040 442px,#220 450px,#300 456px,#160 472px,#010 478px,#1c0 484px,#300 488px,#3d0 498px,#350 504px,#0f0 512px,#0e0 514px,#460 532px,#410 538px,#140 554px,#150 558px,#290 566px)"></i>
<i style="background:linear-gradient(90deg,#020 1px,#040 115px,#070 131px,#040 149px,#080 167px,#040 183px,#090 201px,#060 223px,#0c0 241px,#070 265px,#0e0 277px,#0b0 288px,#100 296px,#030 308px,#190 326px,#120 330px,#030 334px,#030 336px,#1f0 340px,#3e0 344px,#460 348px,#2e0 356px,#820 366px,#8c0 370px,#710 374px,#370 380px,#5b0 388px,#3d0 392px,#100 396px,#0d0 398px,#240 402px,#270 404px,#1f0 406px,#060 410px,#3e0 416px,#560 420px,#400 424px,#030 432px,#010 434px,#010 440px,#240 450px,#330 456px,#1c0 464px,#120 472px,#010 478px,#250 484px,#3b0 490px,#370 502px,#0d0 512px,#470 532px,#430 536px,#140 552px,#150 556px,#2e0 566px)"></i>
<i style="background:linear-gradient(90deg,#020 1px,#030 115px,#070 131px,#040 149px,#080 167px,#040 183px,#090 201px,#060 221px,#0c0 241px,#070 259px,#0f0 279px,#0b0 288px,#0e0 298px,#030 310px,#190 324px,#110 330px,#030 334px,#040 336px,#3a0 344px,#410 348px,#2c0 356px,#810 366px,#8e0 370px,#850 372px,#390 380px,#630 388px,#410 392px,#0f0 396px,#0b0 398px,#210 402px,#230 404px,#050 410px,#420 416px,#560 420px,#3e0 424px,#0a0 430px,#000 434px,#010 440px,#270 450px,#360 454px,#330 458px,#1a0 464px,#0e0 472px,#010 476px,#2e0 484px,#3e0 488px,#380 500px,#0d0 510px,#2c0 520px,#470 530px,#440 534px,#1b0 546px,#130 552px,#320 566px)"></i>
<i style="background:linear-gradient(90deg,#020 1px,#060 99px,#030 115px,#070 131px,#040 149px,#080 165px,#050 183px,#090 201px,#060 219px,#0c0 241px,#070 257px,#0f0 279px,#0a0 288px,#0e0 298px,#030 310px,#1a0 324px,#150 328px,#030 334px,#050 336px,#370 344px,#3c0 348px,#2a0 356px,#7f0 366px,#8f0 370px,#860 372px,#420 378px,#3b0 380px,#680 386px,#6b0 388px,#5e0 390px,#0e0 396px,#080 398px,#1e0 402px,#1f0 404px,#050 410px,#450 416px,#560 420px,#3c0 424px,#030 432px,#000 440px,#2a0 450px,#3a0 454px,#340 458px,#180 464px,#0f0 470px,#030 476px,#2a0 482px,#430 488px,#330 500px,#0e0 508px,#0d0 510px,#2d0 518px,#460 528px,#400 534px,#1b0 544px,#140 550px,#340 566px)"></i>
<i style="background:linear-gradient(90deg,#020 1px,#060 99px,#030 115px,#070 131px,#040 149px,#080 165px,#050 183px,#090 201px,#060 217px,#0c0 241px,#060 255px,#0f0 279px,#0c0 300px,#040 310px,#170 320px,#1a0 324px,#140 328px,#030 334px,#050 336px,#280 342px,#380 346px,#270 356px,#7e0 366px,#900 370px,#860 372px,#420 378px,#3d0 380px,#720 386px,#730 388px,#640 390px,#470 392px,#0c0 396px,#060 398px,#1c0 402px,#1c0 404px,#060 408px,#050 410px,#310 414px,#470 416px,#550 420px,#3a0 424px,#050 432px,#000 440px,#2d0 450px,#3e0 454px,#350 458px,#140 464px,#030 474px,#070 476px,#340 482px,#470 486px,#2d0 500px,#0c0 508px,#2d0 516px,#450 526px,#420 532px,#1b0 542px,#140 548px,#360 566px)"></i>
<i style="background:linear-gradient(90deg,#020 1px,#060 99px,#030 115px,#070 131px,#040 147px,#080 165px,#050 181px,#090 201px,#060 217px,#0c0 241px,#060 255px,#0f0 279px,#0a0 290px,#0c0 300px,#040 310px,#180 320px,#1a0 324px,#140 328px,#040 334px,#060 336px,#260 342px,#340 346px,#250 356px,#3b0 360px,#7d0 366px,#900 370px,#860 372px,#410 378px,#400 380px,#7b0 386px,#7b0 388px,#490 392px,#0b0 396px,#040 398px,#1a0 402px,#1a0 404px,#040 408px,#060 410px,#330 414px,#530 418px,#490 422px,#070 432px,#010 440px,#030 442px,#310 450px,#410 454px,#350 458px,#110 464px,#060 474px,#3d0 482px,#4c0 486px,#2d0 498px,#0d0 506px,#0f0 508px,#350 516px,#460 526px,#3c0 532px,#140 544px,#180 550px,#330 560px,#360 566px)"></i>
<i style="background:linear-gradient(90deg,#020 1px,#030 85px,#060 99px,#030 115px,#070 131px,#040 147px,#080 165px,#050 181px,#090 199px,#060 215px,#0b0 241px,#060 255px,#0f0 279px,#090 290px,#0b0 302px,#050 310px,#1b0 322px,#180 326px,#040 334px,#2c0 344px,#300 348px,#220 354px,#280 358px,#7c0 366px,#900 370px,#840 372px,#400 378px,#430 380px,#840 386px,#820 388px,#6d0 390px,#4a0 392px,#090 396px,#030 398px,#100 400px,#1a0 402px,#190 404px,#020 408px,#070 410px,#340 414px,#520 418px,#470 422px,#090 432px,#030 440px,#040 442px,#360 450px,#440 454px,#330 458px,#0c0 464px,#080 472px,#0a0 474px,#370 480px,#4f0 484px,#490 488px,#0d0 506px,#350 514px,#420 520px,#430 528px,#140 542px,#180 548px,#330 558px,#350 566px)"></i>
<i style="background:linear-gradient(90deg,#020 1px,#030 85px,#060 99px,#030 115px,#070 131px,#040 147px,#080 165px,#050 181px,#090 199px,#050 215px,#0b0 239px,#060 255px,#0f0 279px,#090 292px,#0c0 302px,#060 310px,#1b0 322px,#170 326px,#040 334px,#280 344px,#2c0 348px,#1f0 356px,#240 358px,#7b0 366px,#8f0 370px,#820 372px,#3f0 378px,#470 380px,#7c0 384px,#8c0 386px,#880 388px,#4b0 392px,#080 396px,#040 398px,#120 400px,#1a0 402px,#180 404px,#010 408px,#340 414px,#500 418px,#450 422px,#0b0 432px,#050 440px,#060 442px,#3a0 450px,#460 454px,#310 458px,#080 464px,#080 466px,#110 474px,#410 480px,#530 484px,#0e0 504px,#350 512px,#430 518px,#3e0 528px,#130 540px,#360 558px,#320 566px)"></i>
<i style="background:linear-gradient(90deg,#020 1px,#030 85px,#060 99px,#030 115px,#070 131px,#040 147px,#080 163px,#050 181px,#090 199px,#060 215px,#0b0 231px,#060 255px,#0e0 279px,#080 292px,#0c0 304px,#070 310px,#1c0 322px,#050 334px,#1f0 342px,#280 346px,#1c0 356px,#200 358px,#7b0 366px,#8b0 368px,#7f0 372px,#4a0 376px,#3f0 378px,#4b0 380px,#850 384px,#940 386px,#8d0 388px,#720 390px,#080 396px,#060 398px,#140 400px,#1c0 402px,#190 404px,#020 408px,#340 414px,#4e0 418px,#430 422px,#0d0 432px,#080 440px,#100 444px,#3f0 450px,#480 454px,#3d0 456px,#0b0 462px,#050 464px,#110 472px,#4a0 480px,#560 484px,#100 502px,#100 504px,#3d0 512px,#460 516px,#3e0 526px,#120 538px,#360 556px,#2f0 566px)"></i>
<i style="background:linear-gradient(90deg,#020 1px,#030 85px,#060 101px,#030 115px,#070 131px,#050 179px,#090 197px,#060 215px,#0b0 231px,#070 255px,#0e0 279px,#080 292px,#0c0 304px,#080 310px,#1c0 322px,#050 334px,#250 346px,#180 356px,#1c0 358px,#7a0 366px,#8a0 368px,#7b0 372px,#460 376px,#3e0 378px,#8e0 384px,#9a0 386px,#910 388px,#730 390px,#0a0 396px,#0b0 398px,#1e0 402px,#1a0 404px,#020 408px,#330 414px,#4b0 418px,#420 422px,#0f0 432px,#0b0 440px,#130 444px,#430 450px,#470 454px,#270 458px,#060 462px,#050 464px,#170 472px,#420 478px,#580 482px,#4b0 486px,#250 492px,#110 502px,#3c0 510px,#480 514px,#380 526px,#110 536px,#380 556px,#2a0 566px)"></i>
<i style="background:linear-gradient(90deg,#020 1px,#050 71px,#030 85px,#060 101px,#030 115px,#070 131px,#050 179px,#090 197px,#060 215px,#0b0 231px,#070 255px,#0e0 269px,#070 292px,#0d0 304px,#090 312px,#1c0 322px,#050 334px,#230 346px,#150 356px,#180 358px,#5e0 364px,#890 368px,#880 370px,#420 376px,#3f0 378px,#950 384px,#a00 386px,#940 388px,#730 390px,#0c0 396px,#210 402px,#1c0 404px,#030 408px,#310 414px,#480 418px,#410 422px,#150 430px,#0f0 442px,#380 448px,#4b0 452px,#350 456px,#020 462px,#110 466px,#1f0 472px,#4b0 478px,#5a0 482px,#1e0 492px,#130 500px,#150 502px,#390 508px,#4a0 512px,#370 524px,#110 534px,#380 554px,#250 566px)"></i>
<i style="background:linear-gradient(90deg,#020 1px,#050 71px,#030 85px,#060 101px,#030 115px,#070 131px,#050 179px,#090 195px,#060 213px,#0b0 231px,#070 253px,#0e0 269px,#070 294px,#0e0 304px,#090 312px,#1c0 322px,#050 332px,#050 334px,#210 346px,#200 350px,#110 356px,#150 358px,#5e0 364px,#870 368px,#700 372px,#3e0 376px,#400 378px,#9d0 384px,#a50 386px,#950 388px,#720 390px,#220 394px,#100 396px,#250 402px,#1e0 404px,#040 408px,#3d0 416px,#460 420px,#160 430px,#140 442px,#3c0 448px,#4b0 452px,#2e0 456px,#060 460px,#030 462px,#190 466px,#270 472px,#5a0 480px,#4e0 484px,#1f0 490px,#170 494px,#160 500px,#420 508px,#4e0 512px,#310 524px,#100 534px,#380 552px,#340 558px,#1f0 566px)"></i>
<i style="background:linear-gradient(90deg,#010 1px,#050 71px,#030 85px,#060 101px,#030 115px,#070 131px,#050 179px,#090 195px,#060 213px,#0b0 231px,#080 251px,#0e0 269px,#070 294px,#0f0 304px,#0a0 312px,#1c0 322px,#040 332px,#1f0 346px,#1f0 350px,#0e0 356px,#120 358px,#5d0 364px,#840 368px,#7f0 370px,#3a0 376px,#410 378px,#a30 384px,#a80 386px,#960 388px,#230 394px,#160 396px,#290 402px,#210 404px,#040 408px,#080 410px,#2b0 414px,#430 418px,#400 422px,#180 430px,#200 436px,#180 442px,#490 450px,#3c0 454px,#260 456px,#010 460px,#210 466px,#2f0 472px,#5b0 480px,#470 484px,#170 490px,#150 492px,#1b0 500px,#4f0 510px,#300 522px,#0f0 532px,#290 542px,#380 552px,#190 566px)"></i>
<i style="background:linear-gradient(90deg,#010 1px,#050 71px,#030 87px,#060 101px,#030 115px,#070 131px,#050 177px,#090 193px,#060 211px,#0c0 229px,#070 249px,#0f0 269px,#070 294px,#0f0 304px,#0b0 312px,#1b0 322px,#040 332px,#1f0 348px,#190 352px,#0b0 356px,#0f0 358px,#5d0 364px,#800 368px,#790 370px,#370 376px,#440 378px,#8e0 382px,#a80 384px,#aa0 386px,#950 388px,#250 394px,#1c0 396px,#2e0 402px,#240 404px,#050 408px,#070 410px,#280 414px,#410 418px,#3f0 422px,#1a0 430px,#270 436px,#1c0 442px,#490 450px,#340 454px,#080 458px,#030 460px,#210 464px,#2b0 466px,#360 472px,#580 478px,#590 480px,#4f0 482px,#120 490px,#220 500px,#470 506px,#510 510px,#0f0 530px,#2a0 540px,#380 550px,#300 556px,#140 566px)"></i>
<i style="background:linear-gradient(90deg,#010 1px,#050 71px,#030 87px,#060 101px,#040 117px,#070 131px,#050 177px,#090 193px,#060 211px,#0c0 229px,#070 247px,#0f0 269px,#080 294px,#100 304px,#0c0 312px,#1b0 322px,#030 332px,#1e0 348px,#170 352px,#080 356px,#0d0 358px,#5c0 364px,#7c0 368px,#720 370px,#3f0 374px,#340 376px,#470 378px,#940 382px,#ab0 384px,#ab0 386px,#930 388px,#280 394px,#230 396px,#340 400px,#320 402px,#270 404px,#060 408px,#050 410px,#240 414px,#3f0 418px,#3e0 422px,#1d0 428px,#1c0 430px,#300 436px,#200 442px,#470 450px,#2c0 454px,#020 458px,#2c0 464px,#3c0 472px,#580 478px,#470 482px,#110 488px,#100 490px,#530 508px,#100 528px,#100 530px,#2b0 538px,#370 548px,#300 554px,#100 566px)"></i>
<i style="background:linear-gradient(90deg,#010 1px,#050 73px,#030 87px,#060 101px,#040 145px,#080 161px,#050 177px,#090 193px,#060 211px,#0c0 229px,#070 245px,#0f0 269px,#090 294px,#100 304px,#0e0 314px,#1a0 322px,#030 332px,#160 342px,#1e0 348px,#160 352px,#050 356px,#0c0 358px,#3f0 362px,#710 366px,#6b0 370px,#380 374px,#320 376px,#980 382px,#ad0 384px,#aa0 386px,#900 388px,#2d0 394px,#370 402px,#2a0 404px,#080 408px,#030 410px,#210 414px,#3d0 418px,#3d0 422px,#1d0 428px,#390 436px,#230 442px,#420 450px,#370 452px,#020 458px,#280 462px,#380 464px,#400 472px,#550 478px,#3d0 482px,#150 486px,#0d0 488px,#4a0 504px,#530 508px,#110 526px,#140 530px,#310 538px,#360 546px,#300 552px,#0e0 566px)"></i>
<i style="background:linear-gradient(90deg,#010 1px,#050 73px,#030 87px,#060 101px,#040 145px,#080 161px,#050 177px,#0a0 193px,#060 209px,#0c0 227px,#070 245px,#0f0 269px,#090 290px,#120 306px,#0e0 314px,#190 322px,#030 332px,#160 342px,#1e0 348px,#140 352px,#030 356px,#3f0 362px,#6e0 366px,#710 368px,#630 370px,#320 374px,#310 376px,#9c0 382px,#ae0 384px,#a80 386px,#8c0 388px,#440 392px,#320 394px,#400 400px,#3b0 402px,#020 410px,#2f0 416px,#400 420px,#1d0 428px,#400 434px,#420 436px,#250 442px,#3e0 448px,#3d0 450px,#2f0 452px,#040 456px,#080 458px,#350 462px,#440 464px,#410 470px,#520 476px,#450 480px,#0d0 486px,#0d0 488px,#220 492px,#530 506px,#480 510px,#1e0 518px,#100 526px,#320 536px,#360 542px,#300 550px,#120 560px,#0e0 566px)"></i>
<i style="background:linear-gradient(90deg,#010 1px,#050 73px,#030 87px,#060 101px,#040 145px,#080 161px,#050 177px,#0a0 191px,#060 209px,#0c0 227px,#070 245px,#0e0 269px,#080 286px,#120 306px,#0e0 314px,#180 322px,#020 332px,#1a0 344px,#1e0 348px,#120 352px,#010 356px,#400 362px,#6b0 366px,#5a0 370px,#2c0 374px,#310 376px,#7c0 380px,#9e0 382px,#ad0 384px,#a40 386px,#450 392px,#370 394px,#460 400px,#400 402px,#1e0 406px,#020 410px,#2e0 416px,#3a0 418px,#3e0 420px,#1e0 426px,#1e0 428px,#4b0 434px,#4b0 436px,#250 442px,#3b0 448px,#360 450px,#250 452px,#010 456px,#2d0 460px,#4f0 464px,#430 470px,#490 478px,#0a0 486px,#2b0 492px,#520 506px,#1d0 516px,#110 524px,#320 534px,#370 538px,#2f0 548px,#0e0 560px,#0f0 566px)"></i>
<i style="background:linear-gradient(90deg,#010 1px,#050 73px,#030 87px,#060 101px,#040 145px,#080 161px,#050 175px,#0a0 191px,#060 209px,#0c0 225px,#070 245px,#0e0 261px,#080 284px,#130 306px,#0e0 314px,#160 322px,#020 332px,#1e0 346px,#190 350px,#010 356px,#260 360px,#5a0 364px,#640 368px,#270 374px,#320 376px,#7f0 380px,#a00 382px,#ab0 384px,#a00 386px,#470 392px,#3d0 394px,#4c0 400px,#450 402px,#220 406px,#030 410px,#390 418px,#340 422px,#1b0 426px,#210 428px,#4a0 432px,#560 434px,#530 436px,#240 442px,#360 448px,#2e0 450px,#060 454px,#060 456px,#3c0 460px,#590 464px,#420 470px,#480 476px,#400 478px,#0a0 484px,#0d0 486px,#2b0 490px,#340 492px,#510 504px,#440 508px,#1c0 514px,#140 518px,#130 524px,#320 532px,#390 536px,#2a0 548px,#0d0 558px,#120 566px)"></i>
<i style="background:linear-gradient(90deg,#010 1px,#050 73px,#030 87px,#060 101px,#040 145px,#080 161px,#050 175px,#0a0 191px,#050 207px,#0c0 225px,#070 243px,#0e0 259px,#080 284px,#150 322px,#020 334px,#180 342px,#1f0 346px,#180 350px,#050 354px,#020 356px,#290 360px,#580 364px,#5c0 368px,#230 374px,#330 376px,#820 380px,#9f0 382px,#a80 384px,#9b0 386px,#4a0 392px,#4a0 402px,#270 406px,#040 410px,#070 412px,#2b0 416px,#370 418px,#380 420px,#190 426px,#570 432px,#610 434px,#5a0 436px,#220 442px,#300 448px,#260 450px,#020 454px,#4c0 460px,#600 464px,#400 470px,#400 476px,#090 484px,#350 490px,#4e0 504px,#150 514px,#120 516px,#180 524px,#3a0 534px,#280 546px,#0d0 556px,#160 566px)"></i>
<i style="background:linear-gradient(90deg,#010 1px,#050 73px,#030 87px,#060 101px,#040 145px,#080 159px,#050 175px,#0a0 191px,#050 207px,#0c0 223px,#070 243px,#0f0 259px,#080 284px,#120 304px,#0e0 314px,#130 322px,#020 334px,#190 342px,#200 346px,#170 350px,#040 354px,#050 356px,#430 362px,#5c0 366px,#540 368px,#270 372px,#200 374px,#830 380px,#9d0 382px,#a30 384px,#4d0 392px,#4f0 402px,#2d0 406px,#060 410px,#060 412px,#2a0 416px,#350 418px,#340 420px,#190 424px,#190 426px,#4c0 430px,#640 432px,#6b0 434px,#600 436px,#1e0 442px,#2a0 448px,#1d0 450px,#0a0 452px,#050 454px,#3e0 458px,#5a0 460px,#680 462px,#650 464px,#3c0 470px,#380 476px,#090 482px,#0e0 484px,#330 488px,#400 490px,#4c0 502px,#3f0 506px,#140 512px,#100 514px,#190 522px,#3b0 532px,#270 544px,#0c0 554px,#1a0 566px)"></i>
<i style="background:linear-gradient(90deg,#010 1px,#050 73px,#030 87px,#060 101px,#040 145px,#080 159px,#050 175px,#0a0 189px,#050 207px,#0c0 223px,#070 241px,#0f0 259px,#080 284px,#130 306px,#110 324px,#020 334px,#1a0 342px,#210 346px,#160 350px,#040 354px,#070 356px,#2e0 360px,#530 364px,#4c0 368px,#210 372px,#1e0 374px,#830 380px,#9d0 384px,#500 392px,#550 402px,#330 406px,#080 410px,#050 412px,#290 416px,#330 418px,#2f0 420px,#130 424px,#1b0 426px,#590 430px,#700 432px,#740 434px,#620 436px,#270 440px,#190 442px,#270 446px,#250 448px,#060 452px,#0e0 454px,#4e0 458px,#680 460px,#700 462px,#350 470px,#2e0 476px,#0f0 480px,#0a0 482px,#2e0 486px,#480 490px,#410 504px,#0e0 512px,#3d0 532px,#0b0 554px,#1d0 566px)"></i>
<i style="background:linear-gradient(90deg,#010 1px,#050 73px,#030 87px,#060 101px,#040 143px,#080 159px,#050 173px,#0a0 189px,#050 205px,#0c0 223px,#070 241px,#0f0 259px,#080 281px,#130 306px,#100 324px,#030 334px,#1c0 342px,#220 346px,#160 350px,#040 354px,#440 362px,#500 364px,#430 368px,#1b0 372px,#1e0 374px,#820 380px,#970 384px,#540 392px,#5b0 402px,#3a0 406px,#0a0 410px,#040 412px,#280 416px,#300 418px,#2a0 420px,#0f0 424px,#670 430px,#7c0 432px,#7a0 434px,#630 436px,#200 440px,#140 442px,#240 446px,#200 448px,#070 452px,#5e0 458px,#730 460px,#740 462px,#370 468px,#250 476px,#0a0 480px,#110 482px,#3b0 486px,#4f0 490px,#400 502px,#0e0 510px,#0c0 512px,#3d0 530px,#0a0 552px,#210 566px)"></i>
<i style="background:linear-gradient(90deg,#010 1px,#020 61px,#050 73px,#030 87px,#060 101px,#040 143px,#080 157px,#050 173px,#0a0 189px,#050 205px,#0c0 221px,#070 239px,#0f0 259px,#090 281px,#120 306px,#0f0 324px,#030 334px,#1d0 342px,#230 346px,#050 354px,#330 360px,#4c0 364px,#3a0 368px,#160 372px,#1e0 374px,#600 378px,#900 382px,#900 384px,#560 392px,#630 402px,#400 406px,#0b0 410px,#030 412px,#270 416px,#2d0 418px,#0d0 424px,#4f0 428px,#740 430px,#860 432px,#7e0 434px,#600 436px,#180 440px,#100 442px,#230 446px,#0f0 450px,#0e0 452px,#4b0 456px,#6b0 458px,#7a0 460px,#750 462px,#2e0 468px,#270 474px,#0d0 480px,#480 486px,#530 488px,#380 502px,#0a0 510px,#1f0 516px,#3c0 528px,#390 532px,#0a0 550px,#230 566px)"></i>
<i style="background:linear-gradient(90deg,#010 1px,#030 47px,#020 61px,#050 75px,#030 89px,#060 101px,#040 115px,#070 129px,#040 143px,#090 157px,#050 173px,#0a0 189px,#050 205px,#0c0 221px,#070 239px,#100 257px,#090 279px,#130 298px,#0d0 326px,#040 334px,#240 344px,#1d0 348px,#070 354px,#340 360px,#480 364px,#420 366px,#120 372px,#1f0 374px,#600 378px,#890 382px,#880 384px,#580 392px,#6b0 402px,#470 406px,#0b0 410px,#030 412px,#160 414px,#270 416px,#2a0 418px,#1e0 420px,#0b0 422px,#0d0 424px,#5d0 428px,#810 430px,#8e0 432px,#7f0 434px,#5a0 436px,#0f0 440px,#0d0 442px,#1c0 444px,#240 446px,#110 450px,#170 452px,#5a0 456px,#760 458px,#7f0 460px,#720 462px,#240 468px,#210 474px,#0e0 478px,#140 480px,#410 484px,#590 488px,#2e0 502px,#090 508px,#250 516px,#3d0 528px,#0a0 548px,#1d0 558px,#240 566px)"></i>
<i style="background:linear-gradient(90deg,#010 1px,#030 47px,#020 61px,#050 75px,#030 89px,#060 101px,#040 115px,#070 129px,#040 143px,#090 157px,#050 173px,#0a0 189px,#060 205px,#0c0 221px,#070 237px,#100 257px,#090 275px,#130 298px,#0d0 326px,#060 334px,#250 344px,#1d0 348px,#090 352px,#090 354px,#350 360px,#430 364px,#3b0 366px,#100 372px,#5e0 378px,#820 382px,#590 392px,#740 402px,#4c0 406px,#0b0 410px,#030 412px,#170 414px,#270 416px,#280 418px,#180 420px,#050 422px,#120 424px,#6a0 428px,#8b0 430px,#920 432px,#7c0 434px,#510 436px,#070 440px,#210 444px,#270 446px,#160 450px,#230 452px,#670 456px,#7e0 458px,#7f0 460px,#6a0 462px,#1a0 468px,#200 472px,#120 478px,#4e0 484px,#5b0 486px,#5c0 488px,#380 494px,#2d0 500px,#0b0 506px,#0a0 508px,#270 514px,#3b0 526px,#0b0 546px,#1e0 556px,#230 566px)"></i>
<i style="background:linear-gradient(90deg,#010 1px,#030 47px,#020 61px,#050 75px,#030 89px,#060 103px,#030 115px,#080 129px,#040 143px,#090 157px,#050 173px,#0a0 187px,#050 203px,#0c0 221px,#070 237px,#100 257px,#080 273px,#140 298px,#0a0 318px,#0d0 328px,#070 334px,#260 344px,#1c0 348px,#090 352px,#0b0 354px,#270 358px,#3e0 362px,#330 366px,#120 370px,#100 372px,#5c0 378px,#7b0 382px,#590 392px,#7e0 402px,#510 406px,#0a0 410px,#050 412px,#1a0 414px,#280 416px,#260 418px,#130 420px,#000 422px,#470 426px,#770 428px,#940 430px,#930 432px,#750 434px,#020 440px,#160 442px,#290 444px,#2c0 446px,#1d0 450px,#710 456px,#820 458px,#7b0 460px,#5f0 462px,#1d0 466px,#130 468px,#1f0 472px,#190 478px,#580 484px,#610 486px,#300 494px,#250 500px,#080 506px,#2e0 514px,#390 524px,#370 528px,#140 536px,#0b0 544px,#220 556px,#220 566px)"></i>
<i style="background:linear-gradient(90deg,#010 1px,#040 49px,#020 61px,#050 75px,#030 89px,#060 103px,#030 115px,#080 129px,#040 143px,#090 157px,#050 171px,#0a0 187px,#060 203px,#0c0 219px,#070 237px,#0f0 255px,#080 273px,#140 296px,#090 334px,#270 344px,#1c0 348px,#090 352px,#0d0 354px,#360 360px,#3c0 362px,#2c0 366px,#0e0 370px,#100 372px,#3e0 376px,#6b0 380px,#750 384px,#570 392px,#880 402px,#760 404px,#540 406px,#090 410px,#080 412px,#1e0 414px,#2b0 416px,#260 418px,#030 422px,#540 426px,#820 428px,#990 430px,#900 432px,#6b0 434px,#0c0 438px,#070 440px,#210 442px,#330 444px,#250 450px,#780 456px,#820 458px,#730 460px,#510 462px,#120 466px,#100 468px,#220 472px,#1b0 476px,#220 478px,#4f0 482px,#620 486px,#280 494px,#1c0 500px,#0a0 504px,#0c0 506px,#260 510px,#340 514px,#360 526px,#0d0 538px,#0d0 544px,#240 556px,#1f0 566px)"></i>
<i style="background:linear-gradient(90deg,#010 1px,#010 35px,#040 49px,#020 63px,#050 77px,#030 89px,#060 103px,#030 115px,#080 129px,#040 143px,#090 157px,#050 171px,#0a0 187px,#060 203px,#0c0 219px,#070 235px,#100 255px,#080 273px,#140 296px,#0a0 316px,#0f0 328px,#0a0 334px,#270 344px,#0a0 352px,#2b0 358px,#380 362px,#260 366px,#0b0 370px,#110 372px,#3d0 376px,#650 380px,#700 384px,#550 392px,#590 394px,#900 400px,#910 402px,#7c0 404px,#550 406px,#070 410px,#0d0 412px,#240 414px,#300 416px,#260 418px,#0f0 420px,#080 422px,#5f0 426px,#8b0 428px,#9b0 430px,#8a0 432px,#5d0 434px,#030 438px,#2f0 442px,#3f0 444px,#2d0 450px,#7c0 456px,#7d0 458px,#660 460px,#090 466px,#210 470px,#210 476px,#590 482px,#640 484px,#600 486px,#270 492px,#0a0 504px,#300 510px,#380 514px,#300 526px,#0b0 536px,#0f0 544px,#250 554px,#1b0 566px)"></i>
<i style="background:linear-gradient(90deg,#010 1px,#010 35px,#040 49px,#020 63px,#050 77px,#030 89px,#060 103px,#030 115px,#080 129px,#040 143px,#090 157px,#050 171px,#0a0 185px,#060 201px,#0c0 219px,#070 235px,#100 253px,#080 271px,#140 296px,#090 318px,#100 328px,#0c0 334px,#280 344px,#0a0 352px,#2b0 358px,#340 362px,#090 370px,#600 380px,#6c0 384px,#510 392px,#580 394px,#9b0 400px,#990 402px,#800 404px,#540 406px,#070 410px,#2d0 414px,#360 416px,#290 418px,#110 420px,#0f0 422px,#6a0 426px,#900 428px,#990 430px,#7f0 432px,#050 438px,#220 440px,#400 442px,#4c0 444px,#340 448px,#340 450px,#690 454px,#7a0 456px,#740 458px,#570 460px,#0e0 464px,#090 466px,#2a0 470px,#280 476px,#5e0 482px,#630 484px,#590 486px,#1d0 492px,#160 498px,#0b0 502px,#2e0 508px,#3d0 512px,#2f0 524px,#090 534px,#260 552px,#160 566px)"></i>
<i style="background:linear-gradient(90deg,#010 1px,#010 37px,#040 49px,#020 63px,#060 103px,#030 115px,#080 129px,#040 143px,#090 157px,#050 171px,#0a0 185px,#060 201px,#0c0 217px,#070 233px,#100 251px,#080 271px,#140 296px,#0a0 318px,#110 328px,#0e0 334px,#270 344px,#0b0 352px,#320 360px,#270 364px,#090 370px,#390 376px,#5b0 380px,#690 384px,#4c0 392px,#a50 400px,#a00 402px,#810 404px,#200 408px,#0a0 410px,#380 414px,#3d0 416px,#2c0 418px,#130 420px,#160 422px,#720 426px,#930 428px,#920 430px,#700 432px,#0e0 436px,#100 438px,#350 440px,#520 442px,#580 444px,#380 448px,#390 450px,#6b0 454px,#760 456px,#670 458px,#450 460px,#030 464px,#270 468px,#330 470px,#2f0 476px,#610 482px,#4f0 486px,#130 492px,#0f0 502px,#380 508px,#3f0 510px,#280 524px,#080 532px,#260 550px,#110 566px)"></i>
<i style="background:linear-gradient(90deg,#010 1px,#010 37px,#040 51px,#020 63px,#060 103px,#030 115px,#080 129px,#040 143px,#090 157px,#050 171px,#0a0 185px,#060 199px,#0c0 217px,#070 233px,#100 251px,#080 271px,#130 294px,#0a0 316px,#130 328px,#100 334px,#270 344px,#0b0 352px,#2b0 358px,#2f0 360px,#220 364px,#0a0 368px,#090 370px,#560 380px,#660 384px,#480 392px,#9d0 398px,#af0 400px,#a50 402px,#800 404px,#1b0 408px,#110 410px,#440 414px,#460 416px,#170 420px,#1e0 422px,#780 426px,#910 428px,#880 430px,#5f0 432px,#080 436px,#4a0 440px,#640 442px,#630 444px,#3a0 448px,#3c0 450px,#690 454px,#6d0 456px,#580 458px,#0e0 462px,#060 464px,#1e0 466px,#350 468px,#3d0 470px,#350 476px,#5f0 482px,#570 484px,#140 490px,#0e0 492px,#150 496px,#110 500px,#340 506px,#430 510px,#200 524px,#070 530px,#270 550px,#0c0 566px)"></i>
<i style="background:linear-gradient(90deg,#020 1px,#010 37px,#040 51px,#020 63px,#060 103px,#030 115px,#080 129px,#040 143px,#090 157px,#050 169px,#0a0 185px,#060 199px,#0c0 215px,#070 231px,#100 251px,#080 269px,#140 288px,#090 312px,#140 328px,#120 334px,#260 342px,#200 346px,#0d0 350px,#0c0 352px,#210 356px,#2c0 360px,#1e0 364px,#090 368px,#090 370px,#440 378px,#5f0 382px,#5d0 386px,#420 390px,#430 392px,#a70 398px,#b70 400px,#a70 402px,#7b0 404px,#170 408px,#1b0 410px,#3b0 412px,#520 414px,#4f0 416px,#1a0 420px,#250 422px,#7b0 426px,#8c0 428px,#7a0 430px,#4b0 432px,#190 434px,#0d0 436px,#600 440px,#740 442px,#6c0 444px,#3a0 448px,#3d0 450px,#650 454px,#610 456px,#460 458px,#020 462px,#2e0 466px,#430 468px,#460 470px,#350 474px,#580 480px,#5a0 482px,#4b0 484px,#0a0 490px,#170 496px,#160 500px,#450 508px,#1f0 522px,#070 528px,#060 530px,#160 536px,#260 548px,#070 566px)"></i>
<i style="background:linear-gradient(90deg,#020 1px,#020 63px,#060 103px,#030 115px,#080 129px,#040 141px,#090 155px,#050 169px,#0a0 185px,#060 199px,#0c0 215px,#070 231px,#100 249px,#080 267px,#140 288px,#090 310px,#140 334px,#260 342px,#1e0 346px,#0c0 350px,#0c0 352px,#200 356px,#290 360px,#080 368px,#0a0 370px,#420 378px,#5d0 382px,#580 386px,#3a0 390px,#410 392px,#b20 398px,#bc0 400px,#a50 402px,#170 408px,#290 410px,#4d0 412px,#620 414px,#590 416px,#1d0 420px,#2a0 422px,#7a0 426px,#830 428px,#680 430px,#0e0 434px,#1d0 436px,#4e0 438px,#760 440px,#830 442px,#710 444px,#370 448px,#5d0 454px,#520 456px,#330 458px,#100 460px,#050 462px,#220 464px,#400 466px,#500 468px,#370 474px,#550 480px,#500 482px,#3d0 484px,#0d0 488px,#070 490px,#190 494px,#1c0 500px,#430 506px,#460 508px,#210 516px,#180 522px,#050 528px,#170 534px,#250 548px,#040 566px)"></i>
<i style="background:linear-gradient(90deg,#020 1px,#010 39px,#060 103px,#030 115px,#080 129px,#040 141px,#090 155px,#050 169px,#0a0 183px,#060 197px,#0c0 213px,#070 229px,#100 249px,#080 267px,#150 286px,#090 310px,#150 326px,#160 334px,#250 342px,#1d0 346px,#0c0 350px,#0d0 352px,#250 358px,#250 360px,#070 368px,#0a0 370px,#410 378px,#5c0 382px,#5c0 384px,#320 390px,#410 392px,#990 396px,#bb0 398px,#c00 400px,#a00 402px,#2f0 406px,#1b0 408px,#610 412px,#710 414px,#610 416px,#1f0 420px,#2e0 422px,#580 424px,#770 426px,#770 428px,#550 430px,#0a0 434px,#660 438px,#8b0 440px,#8e0 442px,#320 448px,#520 454px,#420 456px,#210 458px,#030 460px,#110 462px,#340 464px,#510 466px,#5b0 468px,#360 474px,#4e0 480px,#440 482px,#040 488px,#190 492px,#240 500px,#460 506px,#450 508px,#200 514px,#160 520px,#050 526px,#1c0 534px,#240 546px,#030 566px)"></i>
<i style="background:linear-gradient(90deg,#020 1px,#010 39px,#060 103px,#030 115px,#080 129px,#040 141px,#090 155px,#050 169px,#0a0 183px,#060 197px,#0c0 213px,#070 229px,#100 247px,#080 265px,#150 286px,#090 310px,#240 342px,#0b0 350px,#1e0 356px,#220 360px,#070 368px,#090 370px,#410 378px,#5a0 382px,#570 384px,#2c0 390px,#440 392px,#a50 396px,#c30 398px,#bf0 400px,#970 402px,#270 406px,#250 408px,#750 412px,#7f0 414px,#670 416px,#1f0 420px,#710 426px,#680 428px,#410 430px,#130 432px,#130 434px,#480 436px,#7f0 438px,#9c0 440px,#940 442px,#2a0 448px,#450 452px,#460 454px,#310 456px,#040 460px,#480 464px,#600 466px,#620 468px,#330 474px,#450 480px,#360 482px,#080 486px,#060 488px,#230 492px,#230 498px,#460 506px,#180 514px,#100 520px,#060 524px,#070 526px,#1e0 532px,#230 544px,#1e0 548px,#070 558px,#060 566px)"></i>
<i style="background:linear-gradient(90deg,#020 1px,#010 39px,#030 53px,#030 91px,#060 103px,#030 115px,#080 129px,#040 141px,#090 155px,#050 169px,#0a0 183px,#060 197px,#0c0 211px,#070 227px,#100 247px,#080 263px,#150 286px,#090 308px,#230 342px,#0a0 350px,#1c0 356px,#1e0 360px,#070 368px,#090 370px,#430 378px,#590 382px,#510 384px,#290 388px,#280 390px,#b00 396px,#c80 398px,#ba0 400px,#8a0 402px,#220 406px,#330 408px,#640 410px,#890 412px,#8c0 414px,#6b0 416px,#1d0 420px,#570 424px,#680 426px,#570 428px,#2d0 430px,#070 432px,#240 434px,#610 436px,#960 438px,#a90 440px,#950 442px,#360 446px,#220 448px,#3e0 452px,#3a0 454px,#210 456px,#050 458px,#0f0 460px,#370 462px,#5b0 464px,#6c0 466px,#650 468px,#370 472px,#2f0 474px,#3e0 478px,#390 480px,#270 482px,#010 486px,#210 490px,#2c0 492px,#280 498px,#440 504px,#370 508px,#100 514px,#080 522px,#070 524px,#1f0 530px,#230 534px,#1e0 546px,#070 554px,#040 558px,#0a0 566px)"></i>
<i style="background:linear-gradient(90deg,#020 1px,#010 39px,#030 53px,#030 91px,#060 103px,#030 115px,#080 129px,#040 141px,#090 155px,#050 167px,#0a0 181px,#060 195px,#0d0 211px,#070 227px,#100 245px,#090 263px,#150 284px,#090 308px,#170 322px,#210 342px,#0a0 350px,#190 356px,#1b0 360px,#060 368px,#070 370px,#530 380px,#4a0 384px,#1f0 388px,#280 390px,#8c0 394px,#b90 396px,#c80 398px,#b10 400px,#7a0 402px,#3c0 404px,#230 406px,#7d0 410px,#9d0 412px,#950 414px,#1a0 420px,#540 424px,#5e0 426px,#460 428px,#1b0 430px,#080 432px,#7a0 436px,#a90 438px,#b00 440px,#900 442px,#280 446px,#1b0 448px,#380 452px,#2e0 454px,#030 458px,#4b0 462px,#6b0 464px,#740 466px,#640 468px,#2e0 472px,#290 474px,#350 478px,#2c0 480px,#050 484px,#080 486px,#2e0 490px,#350 492px,#2b0 498px,#410 504px,#3b0 506px,#0f0 512px,#0b0 514px,#080 522px,#1e0 528px,#260 532px,#1c0 544px,#040 554px,#050 560px,#0e0 566px)"></i>
<i style="background:linear-gradient(90deg,#020 1px,#000 13px,#020 27px,#010 41px,#050 79px,#020 91px,#060 103px,#030 115px,#080 129px,#040 141px,#090 155px,#050 167px,#0a0 181px,#060 195px,#0d0 211px,#070 225px,#100 243px,#090 261px,#150 284px,#0a0 306px,#190 322px,#1f0 340px,#1b0 344px,#090 350px,#170 356px,#190 360px,#050 368px,#060 370px,#360 376px,#540 380px,#410 384px,#170 388px,#2c0 390px,#980 394px,#c00 396px,#c50 398px,#a30 400px,#2f0 404px,#2b0 406px,#950 410px,#ae0 412px,#9c0 414px,#680 416px,#2e0 418px,#160 420px,#510 424px,#540 426px,#350 428px,#0b0 430px,#120 432px,#500 434px,#910 436px,#b70 438px,#b20 440px,#860 442px,#1a0 446px,#150 448px,#2a0 450px,#320 452px,#240 454px,#0a0 456px,#0c0 458px,#5e0 462px,#780 464px,#770 466px,#240 472px,#2c0 478px,#1f0 480px,#020 484px,#2b0 488px,#3c0 492px,#2c0 496px,#3c0 504px,#080 512px,#0b0 522px,#280 530px,#170 544px,#030 552px,#130 566px)"></i>
<i style="background:linear-gradient(90deg,#030 1px,#000 13px,#020 29px,#010 41px,#050 79px,#020 91px,#060 103px,#030 115px,#080 129px,#040 141px,#090 155px,#050 167px,#0a0 179px,#060 195px,#0d0 209px,#070 225px,#100 241px,#090 259px,#150 281px,#090 302px,#1b0 322px,#1e0 340px,#080 350px,#170 360px,#100 364px,#040 368px,#050 370px,#3b0 376px,#540 380px,#4d0 382px,#1b0 386px,#130 388px,#a40 394px,#c30 396px,#bd0 398px,#910 400px,#260 404px,#3a0 406px,#770 408px,#ac0 410px,#bb0 412px,#9d0 414px,#240 418px,#130 420px,#340 422px,#4e0 424px,#490 426px,#270 428px,#030 430px,#670 434px,#a40 436px,#bf0 438px,#ad0 440px,#760 442px,#0d0 446px,#150 448px,#2b0 450px,#2f0 452px,#080 456px,#6e0 462px,#7f0 464px,#740 466px,#1a0 472px,#220 478px,#030 482px,#3a0 488px,#430 490px,#2b0 496px,#380 502px,#340 504px,#080 510px,#050 512px,#0e0 516px,#100 522px,#280 528px,#150 542px,#020 550px,#170 566px)"></i>
<i style="background:linear-gradient(90deg,#030 1px,#010 41px,#050 79px,#020 91px,#060 103px,#030 115px,#080 129px,#040 141px,#090 155px,#050 167px,#0b0 179px,#060 193px,#0d0 209px,#070 225px,#100 241px,#090 259px,#150 279px,#090 300px,#1c0 324px,#1a0 342px,#070 350px,#160 360px,#100 364px,#020 368px,#050 370px,#2a0 374px,#500 378px,#530 380px,#460 382px,#100 386px,#150 388px,#7c0 392px,#ae0 394px,#c30 396px,#b10 398px,#7c0 400px,#3e0 402px,#230 404px,#910 408px,#c10 410px,#c40 412px,#9a0 414px,#180 418px,#120 420px,#370 422px,#4c0 424px,#400 426px,#050 430px,#7d0 434px,#b30 436px,#c10 438px,#a10 440px,#630 442px,#030 446px,#1a0 448px,#2f0 450px,#2d0 452px,#0d0 456px,#570 460px,#7a0 462px,#810 464px,#6b0 466px,#200 470px,#110 472px,#200 476px,#190 478px,#040 482px,#340 486px,#460 488px,#490 490px,#280 496px,#320 502px,#290 504px,#020 510px,#0f0 514px,#100 520px,#2b0 528px,#100 542px,#020 548px,#1b0 566px)"></i>
<i style="background:linear-gradient(90deg,#030 1px,#010 41px,#050 79px,#020 91px,#060 103px,#030 115px,#080 129px,#040 141px,#090 153px,#050 167px,#0b0 179px,#050 193px,#0d0 207px,#070 223px,#100 239px,#090 257px,#150 279px,#090 300px,#1d0 322px,#1a0 340px,#060 350px,#140 358px,#150 362px,#090 366px,#010 368px,#070 370px,#300 374px,#520 378px,#500 380px,#3d0 382px,#080 386px,#1d0 388px,#8a0 392px,#b40 394px,#bd0 396px,#9f0 398px,#2c0 402px,#2b0 404px,#ab0 408px,#d20 410px,#c70 412px,#900 414px,#0d0 418px,#160 420px,#3d0 422px,#4c0 424px,#3a0 426px,#140 428px,#110 430px,#8f0 434px,#bb0 436px,#bb0 438px,#8f0 440px,#120 444px,#080 446px,#260 448px,#360 450px,#2d0 452px,#170 454px,#160 456px,#650 460px,#800 462px,#7c0 464px,#5e0 466px,#120 470px,#0c0 472px,#1c0 476px,#060 480px,#0e0 482px,#420 486px,#4f0 488px,#4b0 490px,#240 496px,#290 502px,#1e0 504px,#030 508px,#140 514px,#150 520px,#2a0 526px,#0e0 540px,#020 546px,#0b0 552px,#1c0 566px)"></i>
<i style="background:linear-gradient(90deg,#030 1px,#010 43px,#050 79px,#020 91px,#060 103px,#040 141px,#090 153px,#050 165px,#0b0 179px,#050 193px,#0d0 207px,#070 223px,#100 239px,#090 255px,#150 277px,#090 298px,#1e0 322px,#170 340px,#060 350px,#150 362px,#080 366px,#000 368px,#360 374px,#530 378px,#4b0 380px,#330 382px,#060 386px,#600 390px,#960 392px,#b70 394px,#b30 396px,#8a0 398px,#1f0 402px,#3a0 404px,#810 406px,#c30 408px,#de0 410px,#c50 412px,#830 414px,#030 418px,#450 422px,#4e0 424px,#350 426px,#110 428px,#1f0 430px,#5d0 432px,#9d0 434px,#bd0 436px,#af0 438px,#790 440px,#060 444px,#350 448px,#3e0 450px,#180 454px,#200 456px,#6f0 460px,#810 462px,#730 464px,#4d0 466px,#060 470px,#1a0 474px,#1a0 476px,#080 480px,#370 484px,#4e0 486px,#540 488px,#230 494px,#1f0 502px,#040 506px,#020 508px,#160 512px,#160 518px,#2a0 526px,#010 544px,#100 552px,#1c0 566px)"></i>
<i style="background:linear-gradient(90deg,#020 1px,#010 43px,#050 79px,#020 91px,#060 103px,#040 141px,#090 153px,#050 165px,#0b0 179px,#050 191px,#0d0 207px,#070 221px,#110 237px,#090 255px,#150 275px,#090 296px,#1f0 322px,#150 340px,#050 350px,#160 362px,#020 368px,#3d0 374px,#520 378px,#450 380px,#280 382px,#0a0 384px,#0c0 386px,#700 390px,#a00 392px,#b50 394px,#a40 396px,#720 398px,#350 400px,#1d0 402px,#9c0 406px,#d70 408px,#e30 410px,#bb0 412px,#700 414px,#230 416px,#040 418px,#2e0 420px,#510 422px,#520 424px,#140 428px,#2d0 430px,#6c0 432px,#a40 434px,#b80 436px,#9c0 438px,#600 440px,#210 442px,#0b0 444px,#2a0 446px,#460 448px,#470 450px,#1b0 454px,#2a0 456px,#740 460px,#7b0 462px,#630 464px,#110 468px,#030 470px,#140 472px,#1e0 474px,#0e0 478px,#110 480px,#440 484px,#550 486px,#540 488px,#1b0 494px,#1e0 500px,#010 506px,#160 510px,#1d0 512px,#180 518px,#290 524px,#210 528px,#0a0 534px,#020 542px,#120 550px,#1a0 566px)"></i>
<i style="background:linear-gradient(90deg,#020 1px,#010 43px,#050 79px,#020 93px,#060 105px,#040 139px,#090 151px,#050 165px,#0b0 179px,#050 191px,#0d0 205px,#070 221px,#110 237px,#080 253px,#150 273px,#090 296px,#1f0 320px,#150 338px,#050 350px,#180 362px,#050 368px,#430 374px,#520 376px,#500 378px,#3d0 380px,#1d0 382px,#020 384px,#7f0 390px,#a60 392px,#ae0 394px,#910 396px,#210 400px,#250 402px,#b60 406px,#e60 408px,#e20 410px,#ac0 412px,#5a0 414px,#130 416px,#100 418px,#400 420px,#5e0 422px,#560 424px,#190 428px,#780 432px,#a60 434px,#ab0 436px,#850 438px,#130 442px,#1b0 444px,#410 446px,#560 448px,#4e0 450px,#1e0 454px,#740 460px,#700 462px,#510 464px,#050 468px,#0b0 470px,#1e0 472px,#240 474px,#100 478px,#1a0 480px,#4f0 484px,#590 486px,#4f0 488px,#130 494px,#160 500px,#010 504px,#140 508px,#230 512px,#1a0 518px,#270 524px,#080 532px,#030 540px,#030 542px,#160 550px,#170 566px)"></i>
<i style="background:linear-gradient(90deg,#020 1px,#010 43px,#050 81px,#020 93px,#060 105px,#030 115px,#080 127px,#040 139px,#090 151px,#050 165px,#0b0 177px,#050 191px,#0e0 205px,#070 219px,#110 235px,#080 253px,#150 271px,#090 294px,#1f0 320px,#150 336px,#050 350px,#1a0 360px,#190 362px,#090 366px,#090 368px,#330 372px,#530 376px,#4c0 378px,#330 380px,#030 384px,#5a0 388px,#8c0 390px,#a80 392px,#a20 394px,#790 396px,#150 400px,#380 402px,#850 404px,#cd0 406px,#ee0 408px,#d90 410px,#960 412px,#0a0 416px,#550 420px,#6b0 422px,#5a0 424px,#310 426px,#1f0 428px,#7e0 432px,#a10 434px,#980 436px,#140 442px,#590 446px,#650 448px,#200 454px,#5d0 458px,#6d0 460px,#600 462px,#3c0 464px,#150 466px,#070 468px,#2a0 472px,#2a0 474px,#150 478px,#540 484px,#560 486px,#460 488px,#140 492px,#0c0 494px,#130 498px,#040 502px,#040 504px,#1f0 508px,#270 510px,#1a0 516px,#220 524px,#040 532px,#040 540px,#140 546px,#1a0 550px,#190 562px,#130 566px)"></i>
<i style="background:linear-gradient(90deg,#020 1px,#020 31px,#000 45px,#030 57px,#010 69px,#050 81px,#020 93px,#080 127px,#040 139px,#090 151px,#050 165px,#0b0 177px,#060 191px,#0e0 205px,#070 219px,#110 235px,#080 251px,#150 271px,#0a0 292px,#1f0 318px,#060 350px,#1c0 360px,#0b0 366px,#0f0 368px,#3a0 372px,#530 376px,#460 378px,#290 380px,#0a0 382px,#0c0 384px,#6b0 388px,#950 390px,#a50 392px,#920 394px,#600 396px,#250 398px,#140 400px,#a00 404px,#de0 406px,#ef0 408px,#c90 410px,#7c0 412px,#2c0 414px,#0e0 416px,#3d0 418px,#6c0 420px,#780 422px,#5d0 424px,#300 426px,#230 428px,#7f0 432px,#950 434px,#810 436px,#1d0 440px,#210 442px,#4d0 444px,#700 446px,#710 448px,#2b0 452px,#210 454px,#5b0 458px,#630 460px,#4d0 462px,#0a0 466px,#130 468px,#2b0 470px,#360 472px,#1a0 478px,#480 482px,#560 484px,#500 486px,#390 488px,#090 492px,#0f0 498px,#010 502px,#1b0 506px,#2c0 510px,#180 516px,#210 522px,#1c0 524px,#020 530px,#070 540px,#1c0 548px,#180 560px,#0d0 566px)"></i>
<i style="background:linear-gradient(90deg,#020 1px,#030 31px,#000 45px,#030 57px,#010 69px,#050 81px,#030 115px,#080 127px,#040 139px,#0a0 151px,#050 163px,#0b0 177px,#060 189px,#0e0 205px,#070 217px,#110 233px,#080 249px,#160 269px,#0a0 290px,#1c0 308px,#1f0 318px,#060 348px,#1e0 360px,#0e0 366px,#150 368px,#400 372px,#510 374px,#510 376px,#3e0 378px,#060 382px,#190 384px,#790 388px,#9a0 390px,#9d0 392px,#7d0 394px,#130 398px,#220 400px,#6a0 402px,#b80 404px,#e90 406px,#e60 408px,#b10 410px,#1c0 414px,#210 416px,#580 418px,#820 420px,#820 422px,#5d0 424px,#2e0 426px,#260 428px,#7b0 432px,#840 434px,#660 436px,#180 440px,#690 444px,#830 446px,#770 448px,#250 452px,#200 454px,#560 458px,#530 460px,#380 462px,#170 464px,#0e0 466px,#3c0 470px,#400 472px,#1e0 476px,#1f0 478px,#4b0 482px,#520 484px,#450 486px,#030 492px,#0f0 496px,#040 500px,#070 502px,#260 506px,#2f0 508px,#160 516px,#1b0 522px,#030 528px,#020 530px,#080 534px,#080 538px,#1d0 546px,#140 560px,#080 566px)"></i>
<i style="background:linear-gradient(90deg,#020 1px,#030 33px,#000 45px,#040 81px,#030 115px,#080 127px,#040 139px,#0a0 151px,#050 163px,#0b0 175px,#060 189px,#0d0 203px,#070 217px,#110 233px,#080 249px,#160 267px,#0a0 288px,#1f0 312px,#080 348px,#200 360px,#120 366px,#520 374px,#4d0 376px,#360 378px,#080 382px,#590 386px,#850 388px,#9b0 390px,#900 392px,#650 394px,#090 398px,#860 402px,#cc0 404px,#ec0 406px,#d70 408px,#950 410px,#150 414px,#750 418px,#960 420px,#890 422px,#290 426px,#280 428px,#510 430px,#720 432px,#700 434px,#4a0 436px,#1f0 438px,#210 440px,#820 444px,#910 446px,#780 448px,#1c0 452px,#1f0 454px,#3c0 456px,#4c0 458px,#420 460px,#0d0 464px,#3a0 468px,#4c0 470px,#470 472px,#1d0 476px,#220 478px,#4b0 482px,#4a0 484px,#370 486px,#050 490px,#040 492px,#0d0 494px,#100 496px,#050 500px,#2e0 506px,#330 508px,#150 514px,#140 522px,#010 528px,#0a0 532px,#0c0 538px,#1f0 546px,#100 560px,#040 566px)"></i>
<i style="background:linear-gradient(90deg,#020 1px,#010 21px,#030 33px,#000 45px,#040 81px,#020 93px,#060 103px,#030 115px,#080 127px,#040 139px,#0a0 151px,#050 163px,#0b0 175px,#060 189px,#0d0 203px,#070 217px,#110 231px,#080 247px,#160 265px,#0a0 288px,#200 310px,#090 346px,#0b0 350px,#210 358px,#170 366px,#4a0 372px,#520 374px,#470 376px,#100 380px,#110 382px,#680 386px,#8d0 388px,#960 390px,#7e0 392px,#4c0 394px,#160 396px,#120 398px,#a00 402px,#d90 404px,#e60 406px,#c00 408px,#760 410px,#2c0 412px,#1f0 414px,#910 418px,#a60 420px,#8b0 422px,#220 426px,#270 428px,#4e0 430px,#650 432px,#580 434px,#150 438px,#6f0 442px,#980 444px,#980 446px,#720 448px,#130 452px,#1e0 454px,#390 456px,#410 458px,#2f0 460px,#140 462px,#110 464px,#4d0 468px,#580 470px,#490 472px,#1b0 476px,#460 482px,#3e0 484px,#030 490px,#130 494px,#0a0 500px,#290 504px,#330 506px,#320 508px,#100 514px,#130 520px,#010 526px,#0c0 530px,#0e0 536px,#200 544px,#0e0 558px,#010 566px)"></i>
<i style="background:linear-gradient(90deg,#020 1px,#010 23px,#030 35px,#000 47px,#040 81px,#020 93px,#060 103px,#030 115px,#080 127px,#040 139px,#0a0 151px,#050 163px,#0b0 175px,#060 187px,#0d0 201px,#070 215px,#110 231px,#080 247px,#170 265px,#0a0 286px,#210 310px,#0c0 332px,#0a0 344px,#0f0 350px,#240 358px,#1d0 366px,#4e0 372px,#500 374px,#410 376px,#0e0 380px,#1d0 382px,#750 386px,#900 388px,#8d0 390px,#690 392px,#320 394px,#050 396px,#b60 402px,#df0 404px,#d80 406px,#a20 408px,#1d0 412px,#350 414px,#780 416px,#aa0 418px,#b00 420px,#870 422px,#190 426px,#260 428px,#4a0 430px,#560 432px,#400 434px,#1a0 436px,#180 438px,#890 442px,#a70 444px,#990 446px,#660 448px,#0a0 452px,#340 456px,#330 458px,#0a0 462px,#440 466px,#5f0 468px,#5f0 470px,#180 476px,#380 480px,#3d0 482px,#300 484px,#070 488px,#190 494px,#0b0 498px,#100 500px,#300 504px,#350 506px,#2e0 508px,#0b0 514px,#0c0 520px,#010 524px,#120 530px,#110 536px,#200 544px,#0a0 558px,#000 564px,#010 566px)"></i>
<i style="background:linear-gradient(90deg,#010 1px,#030 11px,#010 23px,#030 35px,#000 47px,#040 81px,#020 93px,#060 105px,#030 115px,#080 127px,#040 139px,#0a0 151px,#050 161px,#0b0 175px,#060 187px,#0d0 201px,#070 215px,#110 231px,#080 245px,#170 263px,#0a0 284px,#210 308px,#0a0 336px,#0f0 348px,#270 358px,#1f0 364px,#230 366px,#4f0 372px,#4c0 374px,#110 380px,#7e0 386px,#8e0 388px,#7e0 390px,#520 392px,#1c0 394px,#070 396px,#880 400px,#c50 402px,#dc0 404px,#c20 406px,#810 408px,#380 410px,#1e0 412px,#970 416px,#be0 418px,#b30 420px,#7c0 422px,#100 426px,#440 430px,#460 432px,#0c0 436px,#280 438px,#670 440px,#9e0 442px,#ae0 444px,#910 446px,#550 448px,#1b0 450px,#060 452px,#1f0 454px,#2f0 456px,#260 458px,#0e0 460px,#0d0 462px,#580 466px,#6b0 468px,#610 470px,#1e0 474px,#140 476px,#330 480px,#320 482px,#0e0 486px,#0a0 488px,#200 492px,#0e0 498px,#330 504px,#330 506px,#0a0 512px,#0b0 518px,#010 522px,#140 528px,#130 536px,#200 542px,#010 562px,#050 566px)"></i>
<i style="background:linear-gradient(90deg,#010 1px,#030 11px,#010 23px,#030 35px,#010 47px,#020 61px,#010 71px,#060 105px,#030 115px,#080 127px,#040 139px,#0a0 151px,#050 161px,#0b0 175px,#060 187px,#0d0 199px,#070 213px,#110 229px,#080 245px,#170 263px,#0a0 281px,#210 308px,#090 334px,#120 348px,#2a0 358px,#230 364px,#4f0 372px,#470 374px,#190 378px,#180 380px,#640 384px,#840 386px,#880 388px,#6c0 390px,#3a0 392px,#090 394px,#170 396px,#590 398px,#9f0 400px,#ce0 402px,#d10 404px,#a60 406px,#220 410px,#2e0 412px,#730 414px,#b30 416px,#ca0 418px,#ae0 420px,#080 426px,#260 428px,#3e0 430px,#360 432px,#160 434px,#0a0 436px,#7f0 440px,#ac0 442px,#ad0 444px,#820 446px,#0c0 450px,#090 452px,#230 454px,#2a0 456px,#190 458px,#030 460px,#450 464px,#690 466px,#720 468px,#5d0 470px,#140 474px,#110 476px,#2c0 480px,#250 482px,#090 486px,#230 490px,#280 492px,#100 498px,#2c0 502px,#330 504px,#2d0 506px,#030 512px,#090 516px,#020 520px,#030 522px,#150 526px,#1b0 528px,#140 534px,#1e0 540px,#000 560px,#080 566px)"></i>
<i style="background:linear-gradient(90deg,#010 1px,#030 11px,#010 23px,#030 37px,#010 47px,#010 71px,#060 105px,#030 115px,#080 127px,#040 137px,#0a0 151px,#050 161px,#0b0 173px,#060 185px,#0e0 199px,#070 213px,#110 229px,#080 243px,#180 261px,#0a0 279px,#210 306px,#080 332px,#130 346px,#2b0 356px,#280 364px,#4d0 372px,#420 374px,#190 378px,#230 380px,#6e0 384px,#840 386px,#7d0 388px,#580 390px,#020 394px,#730 398px,#b10 400px,#cd0 402px,#bd0 404px,#840 406px,#3e0 408px,#1c0 410px,#940 414px,#c90 416px,#ce0 418px,#a10 420px,#580 422px,#160 424px,#090 426px,#2b0 428px,#3a0 430px,#290 432px,#080 434px,#160 436px,#530 438px,#920 440px,#b10 442px,#a30 444px,#6e0 446px,#070 450px,#290 454px,#260 456px,#050 460px,#570 464px,#740 466px,#720 468px,#530 470px,#0a0 474px,#100 476px,#200 478px,#230 480px,#0b0 484px,#100 486px,#2f0 490px,#2e0 492px,#120 496px,#130 498px,#2d0 502px,#2f0 504px,#240 506px,#050 510px,#020 512px,#080 516px,#020 520px,#140 524px,#1f0 528px,#140 534px,#190 542px,#060 548px,#010 556px,#0c0 566px)"></i>
<i style="background:linear-gradient(90deg,#010 1px,#040 13px,#010 25px,#030 37px,#010 71px,#040 83px,#020 95px,#060 105px,#030 115px,#080 127px,#040 137px,#090 151px,#050 161px,#0b0 173px,#060 185px,#0e0 199px,#070 211px,#110 227px,#080 241px,#180 261px,#090 277px,#210 304px,#080 330px,#170 346px,#2f0 356px,#2d0 364px,#4b0 370px,#4a0 372px,#1b0 378px,#750 384px,#810 386px,#6e0 388px,#420 390px,#100 392px,#0d0 394px,#470 396px,#8b0 398px,#bb0 400px,#c50 402px,#a20 404px,#240 408px,#260 410px,#b10 414px,#d70 416px,#c90 418px,#8e0 420px,#080 424px,#120 426px,#320 428px,#380 430px,#1f0 432px,#010 434px,#670 438px,#9e0 440px,#af0 442px,#920 444px,#1f0 448px,#0e0 450px,#240 452px,#300 454px,#220 456px,#070 458px,#0e0 460px,#3b0 462px,#660 464px,#7a0 466px,#6c0 468px,#450 470px,#030 474px,#1c0 478px,#0a0 484px,#300 488px,#380 490px,#300 492px,#100 496px,#2c0 502px,#280 504px,#010 510px,#090 514px,#030 518px,#220 526px,#130 534px,#180 540px,#020 548px,#010 554px,#0c0 562px,#0f0 566px)"></i>
<i style="background:linear-gradient(90deg,#010 1px,#040 15px,#010 25px,#030 37px,#010 73px,#040 83px,#020 93px,#060 105px,#030 115px,#080 127px,#040 137px,#0a0 149px,#050 161px,#0b0 173px,#060 185px,#0e0 197px,#070 211px,#110 225px,#080 241px,#180 259px,#090 277px,#1b0 292px,#210 302px,#080 330px,#2f0 354px,#320 364px,#4b0 370px,#460 372px,#240 376px,#220 378px,#770 384px,#780 386px,#5c0 388px,#2c0 390px,#050 392px,#9d0 398px,#bd0 400px,#b30 402px,#820 404px,#180 408px,#400 410px,#8b0 412px,#c80 414px,#da0 416px,#b90 418px,#740 420px,#070 424px,#230 426px,#3c0 428px,#370 430px,#090 434px,#750 438px,#a10 440px,#a20 442px,#7a0 444px,#190 448px,#200 450px,#350 452px,#360 454px,#1f0 456px,#050 458px,#4a0 462px,#6f0 464px,#770 466px,#5f0 468px,#0e0 472px,#030 474px,#130 476px,#180 478px,#060 482px,#2a0 486px,#3c0 488px,#3d0 490px,#0d0 496px,#230 500px,#270 502px,#1e0 504px,#050 508px,#0c0 514px,#050 518px,#190 522px,#250 526px,#120 532px,#130 540px,#010 546px,#010 548px,#020 554px,#100 562px,#100 566px)"></i>
<i style="background:linear-gradient(90deg,#020 1px,#040 15px,#010 27px,#030 59px,#010 73px,#040 83px,#020 95px,#060 107px,#030 115px,#080 127px,#040 137px,#0a0 149px,#050 159px,#0b0 173px,#060 185px,#0e0 197px,#070 209px,#110 225px,#090 239px,#180 257px,#090 275px,#1d0 292px,#210 300px,#080 328px,#340 354px,#320 362px,#490 370px,#240 376px,#2a0 378px,#650 382px,#760 384px,#6c0 386px,#480 388px,#190 390px,#080 392px,#780 396px,#a90 398px,#b70 400px,#9b0 402px,#600 404px,#230 406px,#1f0 408px,#a90 412px,#d70 414px,#d50 416px,#a30 418px,#1a0 422px,#140 424px,#360 426px,#470 428px,#370 430px,#150 432px,#130 434px,#7e0 438px,#9c0 440px,#8f0 442px,#2f0 446px,#1f0 448px,#460 452px,#3b0 454px,#070 458px,#560 462px,#730 464px,#6f0 466px,#4f0 468px,#070 472px,#160 476px,#140 478px,#070 480px,#070 482px,#380 486px,#440 488px,#3d0 490px,#110 494px,#0b0 496px,#210 500px,#1f0 502px,#080 506px,#060 508px,#110 512px,#080 516px,#0a0 518px,#270 524px,#0e0 532px,#110 538px,#010 544px,#010 546px,#050 554px,#120 560px,#110 566px)"></i>
<i style="background:linear-gradient(90deg,#020 1px,#040 17px,#010 49px,#030 61px,#000 73px,#040 85px,#020 95px,#060 107px,#030 115px,#080 127px,#040 137px,#0a0 149px,#050 159px,#0c0 171px,#060 183px,#0e0 195px,#070 209px,#120 223px,#090 239px,#180 255px,#090 273px,#1d0 290px,#220 298px,#1e0 306px,#080 324px,#340 352px,#350 362px,#480 368px,#470 370px,#270 376px,#690 382px,#700 384px,#5d0 386px,#350 388px,#0d0 390px,#170 392px,#4f0 394px,#8a0 396px,#ad0 398px,#a80 400px,#7d0 402px,#150 406px,#360 408px,#7f0 410px,#c00 412px,#da0 414px,#c40 416px,#860 418px,#170 422px,#4c0 426px,#510 428px,#370 430px,#140 432px,#1d0 434px,#500 436px,#7f0 438px,#8e0 440px,#760 442px,#280 446px,#320 448px,#4c0 450px,#540 452px,#3d0 454px,#180 456px,#0c0 458px,#5c0 462px,#6f0 464px,#610 466px,#190 470px,#0c0 472px,#1a0 476px,#100 478px,#010 480px,#2c0 484px,#430 486px,#480 488px,#390 490px,#0a0 494px,#0b0 496px,#1c0 500px,#070 506px,#150 510px,#160 512px,#0a0 516px,#250 522px,#280 524px,#0d0 530px,#0e0 536px,#030 542px,#060 552px,#150 560px,#100 566px)"></i>
<i style="background:linear-gradient(90deg,#020 1px,#040 19px,#010 51px,#030 61px,#000 73px,#040 85px,#020 95px,#060 107px,#030 115px,#080 127px,#040 137px,#0a0 147px,#050 159px,#0c0 171px,#060 183px,#0e0 195px,#070 209px,#120 223px,#080 237px,#180 255px,#090 273px,#1d0 288px,#220 296px,#1c0 306px,#080 322px,#3a0 354px,#360 360px,#480 368px,#2c0 376px,#6a0 382px,#670 384px,#4c0 386px,#090 390px,#640 394px,#960 396px,#a90 398px,#930 400px,#5d0 402px,#220 404px,#180 406px,#9d0 410px,#cf0 412px,#d40 414px,#ab0 416px,#2b0 420px,#220 422px,#450 424px,#600 426px,#590 428px,#140 432px,#250 434px,#560 436px,#7a0 438px,#7b0 440px,#350 444px,#2e0 446px,#620 450px,#5e0 452px,#3c0 454px,#130 456px,#120 458px,#3a0 460px,#5d0 462px,#650 464px,#4f0 466px,#160 470px,#220 474px,#1d0 476px,#020 480px,#380 484px,#4a0 486px,#460 488px,#300 490px,#040 494px,#150 498px,#150 500px,#070 504px,#1d0 510px,#0c0 516px,#280 522px,#250 524px,#080 530px,#0a0 536px,#030 540px,#090 546px,#0a0 552px,#160 558px,#0e0 566px)"></i>
<i style="background:linear-gradient(90deg,#010 1px,#010 9px,#040 19px,#000 51px,#030 61px,#000 73px,#040 85px,#020 95px,#060 105px,#030 115px,#080 127px,#040 137px,#0a0 147px,#050 159px,#0c0 169px,#060 183px,#0e0 195px,#060 207px,#120 221px,#080 235px,#180 253px,#090 271px,#1d0 286px,#220 294px,#1c0 304px,#080 320px,#3c0 352px,#390 360px,#460 368px,#2e0 374px,#330 376px,#5c0 380px,#660 382px,#5b0 384px,#3b0 386px,#160 388px,#120 390px,#760 394px,#9b0 396px,#9c0 398px,#770 400px,#110 404px,#2e0 406px,#730 408px,#b30 410px,#d20 412px,#c20 414px,#260 420px,#610 424px,#710 426px,#5d0 428px,#130 432px,#550 436px,#6c0 438px,#620 440px,#2d0 444px,#630 448px,#730 450px,#610 452px,#0d0 456px,#170 458px,#3e0 460px,#580 462px,#560 464px,#230 468px,#1d0 470px,#2c0 474px,#1e0 476px,#080 478px,#090 480px,#410 484px,#4b0 486px,#3f0 488px,#020 494px,#0d0 496px,#120 498px,#060 502px,#220 508px,#220 510px,#0f0 514px,#0f0 516px,#230 520px,#260 522px,#040 530px,#070 534px,#030 538px,#0c0 544px,#0b0 550px,#170 558px,#0c0 566px)"></i>
<i style="background:linear-gradient(90deg,#010 1px,#030 39px,#000 51px,#030 63px,#000 73px,#060 105px,#030 115px,#080 127px,#040 137px,#0a0 147px,#050 159px,#0c0 169px,#050 181px,#0e0 193px,#070 207px,#120 221px,#080 235px,#180 251px,#090 269px,#230 292px,#1c0 302px,#080 318px,#3f0 352px,#3b0 360px,#470 366px,#310 374px,#5e0 380px,#600 382px,#4d0 384px,#100 388px,#210 390px,#820 394px,#980 396px,#880 398px,#590 400px,#200 402px,#120 404px,#900 408px,#c20 410px,#cb0 412px,#a80 414px,#340 418px,#300 420px,#7a0 424px,#7d0 426px,#5b0 428px,#2a0 430px,#110 432px,#500 436px,#5a0 438px,#2d0 442px,#310 444px,#7a0 448px,#7f0 450px,#600 452px,#070 456px,#3f0 460px,#4f0 462px,#220 468px,#380 472px,#330 474px,#1d0 476px,#060 478px,#460 484px,#480 486px,#350 488px,#040 492px,#0e0 496px,#050 502px,#220 506px,#290 508px,#0d0 514px,#230 520px,#210 522px,#030 528px,#020 530px,#040 532px,#010 536px,#0e0 542px,#0d0 550px,#170 556px,#0a0 566px)"></i>
<i style="background:linear-gradient(90deg,#010 1px,#000 9px,#030 21px,#020 31px,#040 39px,#000 51px,#030 63px,#010 73px,#030 87px,#020 95px,#060 105px,#030 115px,#080 125px,#030 137px,#0a0 147px,#050 159px,#0c0 169px,#050 181px,#0f0 193px,#060 205px,#120 219px,#080 233px,#180 249px,#090 267px,#240 290px,#080 316px,#420 352px,#3c0 358px,#460 366px,#350 374px,#5c0 380px,#560 382px,#1f0 386px,#130 388px,#620 392px,#870 394px,#8d0 396px,#6f0 398px,#0e0 402px,#260 404px,#670 406px,#a50 408px,#c50 410px,#b80 412px,#880 414px,#4d0 416px,#2f0 418px,#750 422px,#8e0 424px,#800 426px,#530 428px,#200 430px,#0f0 432px,#460 436px,#450 438px,#250 442px,#6f0 446px,#8b0 448px,#820 450px,#570 452px,#040 456px,#1f0 458px,#3b0 460px,#410 462px,#250 466px,#440 472px,#360 474px,#050 478px,#360 482px,#450 484px,#3f0 486px,#060 492px,#100 496px,#020 500px,#1e0 504px,#2c0 506px,#2d0 508px,#0c0 514px,#1d0 518px,#1a0 522px,#010 528px,#030 532px,#010 534px,#140 542px,#0d0 548px,#160 556px,#070 566px)"></i>
<i style="background:linear-gradient(90deg,#020 1px,#000 11px,#030 21px,#020 31px,#040 41px,#010 51px,#030 65px,#010 73px,#030 85px,#020 95px,#060 105px,#030 115px,#080 125px,#030 137px,#0a0 147px,#050 157px,#0c0 169px,#050 181px,#0f0 193px,#060 205px,#120 219px,#080 233px,#180 249px,#0a0 267px,#250 288px,#080 314px,#2d0 336px,#420 350px,#450 366px,#350 372px,#570 380px,#4b0 382px,#180 386px,#1d0 388px,#6d0 392px,#850 394px,#7c0 396px,#530 398px,#1e0 400px,#0c0 402px,#820 406px,#b30 408px,#bd0 410px,#9e0 412px,#370 416px,#3a0 418px,#910 422px,#9b0 424px,#7d0 426px,#140 430px,#0d0 432px,#2a0 434px,#390 436px,#1c0 440px,#280 442px,#840 446px,#960 448px,#7f0 450px,#4a0 452px,#150 454px,#040 456px,#210 458px,#340 460px,#260 466px,#4e0 470px,#4d0 472px,#060 478px,#200 480px,#390 482px,#400 484px,#330 486px,#0c0 490px,#140 494px,#040 500px,#290 504px,#330 506px,#2d0 508px,#0d0 512px,#0b0 514px,#1b0 518px,#1a0 520px,#030 526px,#040 530px,#010 534px,#0f0 538px,#170 542px,#0e0 548px,#150 554px,#050 562px,#040 566px)"></i>
<i style="background:linear-gradient(90deg,#020 1px,#000 11px,#040 43px,#010 53px,#030 65px,#010 75px,#030 85px,#020 97px,#060 105px,#030 115px,#080 127px,#040 137px,#0a0 147px,#050 157px,#0c0 169px,#050 179px,#0e0 193px,#060 203px,#120 217px,#080 231px,#190 247px,#0a0 265px,#250 286px,#090 312px,#340 338px,#450 350px,#3e0 358px,#460 364px,#370 372px,#530 378px,#400 382px,#180 386px,#720 392px,#7c0 394px,#650 396px,#370 398px,#0c0 400px,#1e0 402px,#5b0 404px,#960 406px,#b50 408px,#aa0 410px,#490 414px,#340 416px,#860 420px,#a40 422px,#9d0 424px,#710 426px,#090 430px,#0e0 432px,#270 434px,#2b0 436px,#140 440px,#6c0 444px,#930 446px,#960 448px,#730 450px,#0c0 454px,#0b0 456px,#220 458px,#2a0 460px,#1e0 464px,#4d0 468px,#5c0 470px,#500 472px,#2e0 474px,#0b0 476px,#0a0 478px,#250 480px,#380 482px,#370 484px,#150 488px,#1a0 494px,#0f0 496px,#020 498px,#320 504px,#350 506px,#290 508px,#080 512px,#170 518px,#060 524px,#080 528px,#030 532px,#1a0 540px,#0e0 546px,#120 554px,#040 560px,#020 566px)"></i>
<i style="background:linear-gradient(90deg,#020 1px,#000 13px,#040 43px,#010 53px,#030 65px,#010 75px,#030 85px,#010 95px,#060 105px,#030 115px,#080 127px,#040 137px,#0a0 147px,#050 157px,#0c0 167px,#060 179px,#0e0 191px,#060 203px,#130 217px,#080 231px,#190 245px,#090 263px,#260 286px,#090 310px,#330 334px,#460 350px,#450 364px,#380 370px,#500 378px,#480 380px,#1f0 384px,#1d0 386px,#5a0 390px,#710 392px,#6d0 394px,#4b0 396px,#1c0 398px,#070 400px,#740 404px,#a20 406px,#ad0 408px,#900 410px,#360 414px,#410 416px,#a10 420px,#b00 422px,#960 424px,#600 426px,#010 430px,#130 432px,#240 434px,#1e0 436px,#0b0 438px,#170 440px,#7e0 444px,#9a0 446px,#8f0 448px,#620 450px,#0b0 454px,#220 458px,#150 462px,#1f0 464px,#5d0 468px,#640 470px,#4d0 472px,#040 476px,#270 480px,#320 482px,#150 488px,#230 492px,#1d0 494px,#030 498px,#2a0 502px,#360 504px,#330 506px,#040 512px,#110 516px,#080 522px,#0c0 528px,#050 532px,#140 536px,#1c0 540px,#0c0 546px,#100 552px,#010 560px,#000 566px)"></i>
<i style="background:linear-gradient(90deg,#020 1px,#000 13px,#040 45px,#010 53px,#030 63px,#010 75px,#030 85px,#010 95px,#070 107px,#030 115px,#080 127px,#040 135px,#090 147px,#050 157px,#0c0 167px,#060 179px,#0e0 191px,#070 203px,#120 215px,#080 229px,#1a0 245px,#090 261px,#260 284px,#090 308px,#340 332px,#470 348px,#450 364px,#390 370px,#4a0 378px,#1d0 384px,#260 386px,#5f0 390px,#690 392px,#590 394px,#320 396px,#0a0 398px,#170 400px,#4e0 402px,#850 404px,#a30 406px,#990 408px,#420 412px,#350 414px,#910 418px,#b30 420px,#af0 422px,#860 424px,#160 428px,#090 430px,#1c0 432px,#220 434px,#040 438px,#5a0 442px,#880 444px,#970 446px,#7f0 448px,#230 452px,#140 454px,#210 458px,#0f0 462px,#500 466px,#690 468px,#640 470px,#440 472px,#010 476px,#140 478px,#270 480px,#290 482px,#180 486px,#2a0 490px,#2b0 492px,#1d0 494px,#090 496px,#070 498px,#300 502px,#360 504px,#2c0 506px,#060 510px,#020 512px,#0d0 516px,#090 520px,#120 526px,#080 532px,#1d0 538px,#090 546px,#0c0 552px,#010 558px,#020 566px)"></i>
<i style="background:linear-gradient(90deg,#010 1px,#010 35px,#040 45px,#010 55px,#030 63px,#000 75px,#030 85px,#010 97px,#060 107px,#030 115px,#080 127px,#040 135px,#090 147px,#050 157px,#0c0 167px,#060 177px,#0e0 191px,#070 201px,#130 215px,#080 227px,#1a0 243px,#090 259px,#260 281px,#090 306px,#360 330px,#480 348px,#3a0 370px,#490 376px,#1f0 384px,#5e0 390px,#5d0 392px,#420 394px,#030 398px,#640 402px,#8f0 404px,#990 406px,#7f0 408px,#310 412px,#450 414px,#ab0 418px,#bc0 420px,#a50 422px,#700 424px,#100 428px,#260 432px,#220 434px,#0b0 436px,#070 438px,#670 442px,#8b0 444px,#8c0 446px,#6b0 448px,#220 452px,#280 456px,#1e0 458px,#0b0 460px,#110 462px,#5e0 466px,#6e0 468px,#5e0 470px,#100 474px,#060 476px,#190 478px,#230 480px,#160 484px,#360 490px,#2f0 492px,#050 496px,#330 502px,#320 504px,#230 506px,#020 510px,#090 514px,#060 518px,#180 524px,#080 530px,#1d0 536px,#1d0 538px,#070 544px,#0a0 550px,#010 556px,#040 566px)"></i>
<i style="background:linear-gradient(90deg,#010 1px,#010 37px,#040 47px,#020 55px,#030 65px,#000 75px,#040 87px,#010 97px,#060 107px,#030 115px,#080 125px,#030 135px,#0a0 145px,#040 155px,#0c0 167px,#060 177px,#0f0 189px,#070 201px,#120 213px,#080 227px,#1a0 243px,#090 259px,#1e0 271px,#260 279px,#090 304px,#370 328px,#480 346px,#3a0 368px,#450 376px,#210 382px,#250 384px,#4f0 388px,#580 390px,#4c0 392px,#2c0 394px,#080 396px,#110 398px,#410 400px,#730 402px,#8e0 404px,#860 406px,#380 410px,#340 412px,#980 416px,#bb0 418px,#b80 420px,#910 422px,#270 426px,#1a0 428px,#310 432px,#220 434px,#080 436px,#110 438px,#3f0 440px,#6d0 442px,#840 444px,#790 446px,#360 450px,#2c0 452px,#2f0 456px,#1a0 458px,#040 460px,#450 464px,#670 466px,#6c0 468px,#520 470px,#0d0 474px,#0f0 476px,#1c0 478px,#150 484px,#3a0 488px,#3e0 490px,#2e0 492px,#040 496px,#280 500px,#310 502px,#2a0 504px,#0a0 508px,#050 510px,#070 512px,#040 516px,#1b0 522px,#1d0 524px,#090 530px,#1d0 536px,#040 544px,#070 548px,#030 554px,#080 566px)"></i>
<i style="background:linear-gradient(90deg,#010 1px,#020 27px,#010 37px,#040 47px,#020 55px,#040 65px,#000 75px,#040 87px,#010 97px,#050 107px,#030 117px,#080 125px,#030 135px,#0a0 145px,#040 155px,#0d0 165px,#060 177px,#0f0 187px,#060 199px,#130 213px,#080 225px,#1a0 241px,#090 257px,#1e0 269px,#260 277px,#200 286px,#090 302px,#410 332px,#480 348px,#3a0 368px,#440 374px,#220 382px,#4f0 388px,#4d0 390px,#380 392px,#010 396px,#540 400px,#7b0 402px,#840 404px,#6c0 406px,#2a0 410px,#450 412px,#b00 416px,#c10 418px,#aa0 420px,#240 426px,#3c0 430px,#390 432px,#080 436px,#6c0 442px,#750 444px,#370 450px,#420 454px,#340 456px,#020 460px,#250 462px,#510 464px,#690 466px,#630 468px,#200 472px,#110 474px,#1d0 478px,#0d0 482px,#450 488px,#410 490px,#290 492px,#0c0 494px,#050 496px,#180 498px,#290 500px,#2b0 502px,#0a0 508px,#0a0 512px,#020 516px,#1a0 520px,#220 522px,#1f0 524px,#0a0 528px,#1a0 536px,#030 542px,#020 544px,#030 552px,#080 556px,#070 562px,#0c0 566px)"></i>
<i style="background:linear-gradient(90deg,#000 1px,#020 27px,#010 37px,#040 49px,#020 57px,#040 65px,#000 75px,#030 87px,#010 97px,#050 107px,#030 117px,#090 125px,#030 135px,#0a0 145px,#040 155px,#0d0 165px,#060 177px,#0f0 187px,#060 199px,#130 211px,#080 225px,#1a0 239px,#090 255px,#1e0 267px,#260 275px,#210 284px,#080 300px,#3e0 326px,#490 344px,#3a0 368px,#400 374px,#230 380px,#250 382px,#490 388px,#3f0 390px,#250 392px,#080 394px,#0e0 396px,#610 400px,#780 402px,#710 404px,#2c0 408px,#300 410px,#990 414px,#bc0 416px,#b90 418px,#930 420px,#360 424px,#320 426px,#4c0 430px,#3d0 432px,#0a0 436px,#4a0 440px,#620 442px,#610 444px,#3f0 448px,#4d0 454px,#330 456px,#0e0 458px,#080 460px,#300 462px,#560 464px,#640 466px,#540 468px,#1e0 472px,#220 476px,#1c0 478px,#0d0 480px,#0d0 482px,#420 486px,#4b0 488px,#3d0 490px,#050 494px,#080 496px,#1b0 498px,#250 500px,#110 506px,#100 510px,#010 514px,#230 520px,#260 522px,#080 528px,#150 532px,#150 536px,#000 542px,#020 550px,#0c0 556px,#080 562px,#0f0 566px)"></i>
<i style="background:linear-gradient(90deg,#000 1px,#020 11px,#000 19px,#030 27px,#010 39px,#030 47px,#020 57px,#040 65px,#000 75px,#030 87px,#010 97px,#040 107px,#030 117px,#090 125px,#030 135px,#0a0 145px,#040 155px,#0d0 165px,#050 175px,#0f0 187px,#060 197px,#130 211px,#080 223px,#1a0 239px,#090 255px,#210 267px,#270 273px,#210 281px,#080 298px,#3f0 324px,#490 340px,#3e0 372px,#230 380px,#420 386px,#400 388px,#2f0 390px,#030 394px,#460 398px,#660 400px,#6e0 402px,#210 408px,#ad0 414px,#bd0 416px,#a70 418px,#490 422px,#390 424px,#5a0 428px,#580 430px,#3d0 432px,#190 434px,#0c0 436px,#460 440px,#530 442px,#3e0 446px,#420 448px,#600 452px,#530 454px,#2e0 456px,#070 458px,#100 460px,#380 462px,#560 464px,#590 466px,#2c0 470px,#240 472px,#280 476px,#060 480px,#340 484px,#4c0 486px,#4c0 488px,#360 490px,#010 494px,#1c0 498px,#1f0 500px,#150 504px,#140 510px,#010 514px,#1f0 518px,#290 520px,#260 522px,#0a0 526px,#060 528px,#140 532px,#140 534px,#020 540px,#010 546px,#010 548px,#0f0 554px,#090 560px,#110 566px)"></i>
<i style="background:linear-gradient(90deg,#010 1px,#000 19px,#030 29px,#010 39px,#050 67px,#010 75px,#030 89px,#010 97px,#040 107px,#020 117px,#090 125px,#030 135px,#0a0 145px,#040 155px,#0c0 165px,#060 175px,#0f0 185px,#060 197px,#140 209px,#080 223px,#1b0 237px,#090 253px,#210 265px,#280 271px,#220 279px,#080 296px,#400 322px,#4a0 338px,#3a0 372px,#240 378px,#240 380px,#3d0 386px,#340 388px,#090 392px,#0d0 394px,#500 398px,#630 400px,#5c0 402px,#1f0 406px,#290 408px,#930 412px,#b40 414px,#b00 416px,#430 422px,#6c0 428px,#5c0 430px,#120 434px,#0c0 436px,#270 438px,#3c0 440px,#3b0 446px,#680 450px,#6b0 452px,#510 454px,#250 456px,#020 458px,#3c0 462px,#4f0 464px,#2d0 470px,#360 474px,#2a0 476px,#050 480px,#3f0 484px,#4f0 486px,#460 488px,#0e0 492px,#050 494px,#180 498px,#150 502px,#200 506px,#200 508px,#060 512px,#060 514px,#260 518px,#2a0 520px,#210 522px,#050 526px,#110 532px,#050 538px,#050 542px,#010 546px,#100 552px,#090 560px,#100 566px)"></i>
<i style="background:linear-gradient(90deg,#010 1px,#000 21px,#030 31px,#010 39px,#030 51px,#010 59px,#050 67px,#010 77px,#030 87px,#010 97px,#040 105px,#020 117px,#090 125px,#040 135px,#090 145px,#040 155px,#0c0 165px,#060 175px,#0f0 185px,#060 197px,#140 209px,#070 221px,#1b0 235px,#090 251px,#290 269px,#220 277px,#080 294px,#3d0 318px,#4c0 328px,#380 370px,#230 378px,#370 384px,#350 386px,#070 392px,#3b0 396px,#540 398px,#590 400px,#170 406px,#740 410px,#a20 412px,#b00 414px,#9b0 416px,#4e0 420px,#4c0 422px,#790 426px,#760 428px,#580 430px,#090 434px,#0c0 436px,#230 438px,#2e0 440px,#2c0 444px,#770 450px,#6f0 452px,#4a0 454px,#020 458px,#1f0 460px,#3b0 462px,#430 464px,#300 468px,#420 472px,#3f0 474px,#290 476px,#0a0 478px,#0a0 480px,#2a0 482px,#470 484px,#4d0 486px,#3c0 488px,#0b0 492px,#130 496px,#110 500px,#290 506px,#230 508px,#030 512px,#2a0 518px,#270 520px,#1a0 522px,#010 526px,#0d0 530px,#070 536px,#090 540px,#030 544px,#030 546px,#140 552px,#090 558px,#0e0 566px)"></i>
<i style="background:linear-gradient(90deg,#010 1px,#000 23px,#030 31px,#010 41px,#030 51px,#010 59px,#050 69px,#010 77px,#030 85px,#000 97px,#050 107px,#020 117px,#090 127px,#040 135px,#090 145px,#040 153px,#0c0 165px,#060 173px,#100 185px,#060 195px,#140 209px,#070 219px,#1b0 235px,#090 249px,#240 263px,#2a0 269px,#080 292px,#3e0 316px,#4e0 328px,#3e0 360px,#350 370px,#230 378px,#330 384px,#2c0 386px,#0a0 390px,#0f0 392px,#430 396px,#500 398px,#480 400px,#130 404px,#220 406px,#870 410px,#a40 412px,#a00 414px,#5b0 418px,#4f0 420px,#7f0 424px,#890 426px,#760 428px,#4d0 430px,#030 434px,#1c0 438px,#1d0 442px,#2e0 444px,#730 448px,#7e0 450px,#690 452px,#3d0 454px,#110 456px,#090 458px,#230 460px,#340 462px,#2d0 466px,#4f0 472px,#420 474px,#220 476px,#040 478px,#330 482px,#480 484px,#450 486px,#110 492px,#0d0 498px,#100 500px,#2e0 504px,#300 506px,#220 508px,#030 512px,#230 516px,#280 518px,#210 520px,#040 524px,#020 526px,#070 528px,#0e0 538px,#040 544px,#150 550px,#080 558px,#0b0 566px)"></i>
<i style="background:linear-gradient(90deg,#010 1px,#000 23px,#030 33px,#010 41px,#030 51px,#010 61px,#050 69px,#000 97px,#050 107px,#010 117px,#080 127px,#040 135px,#0a0 143px,#040 153px,#0c0 163px,#050 173px,#100 183px,#060 195px,#140 207px,#070 219px,#1c0 233px,#090 247px,#2a0 267px,#080 290px,#310 308px,#500 326px,#3e0 358px,#310 370px,#220 376px,#2d0 384px,#0a0 390px,#450 396px,#470 398px,#330 400px,#160 402px,#0f0 404px,#680 408px,#900 410px,#9b0 412px,#500 418px,#950 424px,#900 426px,#6e0 428px,#020 434px,#0e0 436px,#140 438px,#100 440px,#180 442px,#610 446px,#7e0 448px,#7d0 450px,#5d0 452px,#0c0 456px,#110 458px,#250 460px,#290 466px,#550 470px,#570 472px,#3f0 474px,#030 478px,#380 482px,#430 484px,#1b0 490px,#170 494px,#080 498px,#2b0 502px,#370 504px,#310 506px,#070 510px,#060 512px,#180 514px,#250 516px,#240 518px,#030 524px,#060 532px,#120 538px,#060 544px,#160 550px,#070 556px,#0b0 562px,#060 566px)"></i>
<i style="background:linear-gradient(90deg,#010 1px,#000 25px,#030 33px,#010 43px,#030 51px,#010 61px,#050 71px,#020 79px,#040 87px,#000 97px,#050 107px,#010 117px,#070 125px,#040 135px,#0a0 143px,#030 153px,#0c0 163px,#050 173px,#110 183px,#060 193px,#130 207px,#070 217px,#1c0 231px,#090 247px,#230 259px,#2a0 265px,#090 288px,#380 308px,#510 324px,#3c0 358px,#210 376px,#2b0 382px,#250 384px,#0c0 388px,#110 390px,#390 394px,#410 396px,#370 398px,#090 402px,#1b0 404px,#750 408px,#8d0 410px,#870 412px,#530 416px,#560 418px,#960 422px,#a00 424px,#8b0 426px,#100 432px,#0c0 434px,#110 436px,#070 440px,#6e0 446px,#800 448px,#720 450px,#230 454px,#110 456px,#220 460px,#1d0 464px,#4e0 468px,#600 470px,#570 472px,#360 474px,#100 476px,#080 478px,#220 480px,#370 482px,#3a0 484px,#260 488px,#220 492px,#080 496px,#0a0 498px,#360 502px,#3b0 504px,#2d0 506px,#020 510px,#1b0 514px,#220 516px,#090 522px,#030 530px,#170 536px,#060 542px,#160 548px,#150 550px,#040 556px,#080 562px,#040 566px)"></i>
<i style="background:linear-gradient(90deg,#010 1px,#000 27px,#030 35px,#010 43px,#030 53px,#010 61px,#040 69px,#010 79px,#040 87px,#000 97px,#040 107px,#020 117px,#070 125px,#040 135px,#0b0 143px,#040 151px,#0d0 163px,#050 173px,#110 183px,#060 193px,#130 205px,#080 217px,#1c0 231px,#080 245px,#230 257px,#2b0 263px,#260 269px,#0b0 281px,#090 286px,#390 306px,#530 322px,#3c0 356px,#210 374px,#260 382px,#0d0 388px,#3a0 394px,#380 396px,#260 398px,#0c0 400px,#0a0 402px,#590 406px,#790 408px,#800 410px,#530 414px,#4d0 416px,#a80 422px,#a10 424px,#7d0 426px,#250 430px,#160 432px,#140 436px,#060 438px,#080 440px,#550 444px,#740 446px,#790 448px,#610 450px,#1f0 454px,#210 458px,#130 462px,#1c0 464px,#5c0 468px,#650 470px,#510 472px,#0b0 476px,#100 478px,#260 480px,#310 482px,#2a0 486px,#2f0 490px,#290 492px,#030 496px,#2c0 500px,#3e0 502px,#3a0 504px,#010 510px,#100 512px,#1b0 514px,#1c0 516px,#0f0 520px,#0c0 524px,#010 528px,#190 534px,#1a0 536px,#050 542px,#150 548px,#020 556px,#060 560px,#030 566px)"></i>
<i style="background:linear-gradient(90deg,#010 1px,#000 29px,#040 53px,#010 61px,#040 71px,#010 79px,#050 87px,#000 97px,#040 109px,#020 117px,#070 125px,#040 135px,#0c0 143px,#030 151px,#0c0 163px,#050 171px,#110 181px,#060 193px,#140 203px,#070 215px,#1c0 229px,#080 243px,#220 255px,#2b0 263px,#090 284px,#400 306px,#550 320px,#390 356px,#1f0 374px,#240 380px,#0e0 386px,#120 388px,#300 392px,#350 394px,#2a0 396px,#030 400px,#3e0 404px,#620 406px,#720 408px,#470 414px,#5a0 416px,#a50 420px,#ad0 422px,#950 424px,#280 430px,#240 434px,#160 436px,#040 438px,#110 440px,#5d0 444px,#710 446px,#690 448px,#310 452px,#260 454px,#250 458px,#0c0 462px,#4a0 466px,#630 468px,#610 470px,#0d0 476px,#250 480px,#390 490px,#290 492px,#040 496px,#360 500px,#3f0 502px,#330 504px,#060 508px,#070 510px,#170 514px,#130 522px,#010 528px,#180 532px,#1e0 534px,#190 536px,#050 540px,#130 546px,#0c0 550px,#010 554px,#060 566px)"></i>
<i style="background:linear-gradient(90deg,#000 1px,#020 9px,#000 17px,#020 37px,#010 45px,#040 53px,#010 61px,#040 71px,#010 79px,#050 87px,#000 97px,#040 109px,#010 117px,#070 125px,#030 135px,#0c0 143px,#040 151px,#0c0 163px,#050 171px,#110 181px,#060 191px,#140 203px,#070 215px,#170 223px,#1c0 229px,#080 243px,#220 253px,#2c0 261px,#090 281px,#420 304px,#570 318px,#380 354px,#1f0 372px,#200 380px,#0f0 386px,#300 392px,#2c0 394px,#1b0 396px,#060 398px,#080 400px,#4b0 404px,#610 406px,#620 408px,#3f0 412px,#480 414px,#990 418px,#b00 420px,#a60 422px,#3b0 428px,#2d0 434px,#050 438px,#400 442px,#5e0 444px,#650 446px,#310 452px,#330 456px,#250 458px,#0d0 460px,#0d0 462px,#540 466px,#640 468px,#570 470px,#1b0 474px,#150 476px,#1f0 482px,#440 488px,#3e0 490px,#250 492px,#080 494px,#0a0 496px,#260 498px,#3b0 500px,#3b0 502px,#070 508px,#120 512px,#1a0 520px,#180 522px,#020 526px,#060 528px,#1e0 532px,#1f0 534px,#030 540px,#0f0 544px,#100 546px,#010 554px,#090 566px)"></i>
<i style="background:linear-gradient(90deg,#000 1px,#020 9px,#000 19px,#020 39px,#010 47px,#040 55px,#010 63px,#040 71px,#010 81px,#050 89px,#010 97px,#030 107px,#010 117px,#070 125px,#030 135px,#0c0 143px,#040 151px,#0b0 161px,#050 171px,#110 181px,#070 191px,#140 203px,#060 213px,#1a0 223px,#1c0 227px,#080 241px,#260 253px,#2c0 259px,#250 265px,#0b0 275px,#090 279px,#430 302px,#580 318px,#370 352px,#1e0 372px,#1f0 378px,#100 384px,#290 390px,#2b0 392px,#200 394px,#020 398px,#350 402px,#4e0 404px,#570 406px,#3a0 410px,#3a0 412px,#a70 418px,#ac0 420px,#940 422px,#500 426px,#460 432px,#080 438px,#430 442px,#550 444px,#390 450px,#410 454px,#390 456px,#200 458px,#060 460px,#570 466px,#5c0 468px,#200 474px,#180 480px,#1b0 482px,#460 486px,#4d0 488px,#3c0 490px,#030 494px,#2d0 498px,#390 500px,#330 502px,#110 506px,#0d0 508px,#0e0 514px,#200 520px,#190 522px,#010 526px,#1a0 530px,#200 532px,#1b0 534px,#040 538px,#030 540px,#090 542px,#0d0 546px,#000 556px,#0a0 562px,#0a0 566px)"></i>
<i style="background:linear-gradient(90deg,#000 1px,#020 11px,#000 21px,#020 41px,#000 47px,#040 55px,#010 63px,#040 73px,#010 81px,#050 89px,#010 97px,#030 105px,#010 117px,#070 125px,#020 133px,#0b0 143px,#050 151px,#0b0 161px,#050 169px,#100 181px,#070 189px,#140 201px,#060 213px,#190 221px,#1d0 225px,#080 239px,#260 251px,#2d0 257px,#260 263px,#0b0 273px,#090 277px,#450 300px,#590 316px,#1c0 378px,#120 382px,#110 384px,#280 390px,#230 392px,#030 396px,#0a0 398px,#3d0 402px,#4a0 404px,#2c0 410px,#420 412px,#970 416px,#a90 418px,#9d0 420px,#5f0 424px,#550 426px,#5e0 430px,#4f0 432px,#0e0 436px,#0c0 438px,#400 442px,#470 444px,#390 448px,#4b0 454px,#380 456px,#030 460px,#400 464px,#530 466px,#4e0 468px,#2d0 472px,#260 476px,#100 480px,#510 486px,#4f0 488px,#050 494px,#1b0 496px,#300 498px,#340 500px,#150 506px,#0a0 512px,#260 518px,#240 520px,#050 524px,#040 526px,#1e0 530px,#1e0 532px,#150 534px,#000 538px,#090 542px,#0a0 544px,#060 552px,#010 556px,#0e0 562px,#0a0 566px)"></i>
<i style="background:linear-gradient(90deg,#010 1px,#000 49px,#040 55px,#010 65px,#040 73px,#010 81px,#050 89px,#010 97px,#040 105px,#000 117px,#070 125px,#020 133px,#0b0 143px,#050 151px,#0c0 159px,#040 169px,#100 179px,#070 189px,#140 199px,#060 211px,#1e0 223px,#080 237px,#2a0 251px,#2e0 255px,#270 261px,#0c0 271px,#090 275px,#4c0 300px,#590 312px,#120 382px,#220 390px,#040 396px,#2c0 400px,#3d0 402px,#3e0 404px,#240 408px,#2f0 410px,#800 414px,#9c0 416px,#9d0 418px,#600 424px,#720 428px,#6c0 430px,#500 432px,#080 436px,#0e0 438px,#260 440px,#350 442px,#340 446px,#570 452px,#4e0 454px,#310 456px,#0e0 458px,#080 460px,#250 462px,#3f0 464px,#480 466px,#340 474px,#0e0 480px,#480 484px,#560 486px,#4a0 488px,#0c0 492px,#0d0 494px,#210 496px,#2c0 498px,#1c0 506px,#080 512px,#260 516px,#2b0 518px,#220 520px,#010 524px,#170 528px,#1d0 530px,#190 532px,#020 538px,#0b0 548px,#020 554px,#0e0 560px,#080 566px)"></i>
<i style="background:linear-gradient(90deg,#010 1px,#000 49px,#040 57px,#010 65px,#050 73px,#010 81px,#050 89px,#010 99px,#050 105px,#000 117px,#070 125px,#020 133px,#090 141px,#050 151px,#0d0 159px,#040 169px,#110 179px,#070 189px,#150 197px,#070 211px,#1f0 223px,#080 237px,#230 247px,#2f0 253px,#270 259px,#090 273px,#4d0 298px,#5b0 310px,#130 380px,#210 388px,#1b0 390px,#030 394px,#300 400px,#360 402px,#1d0 406px,#1f0 408px,#680 412px,#8a0 414px,#950 416px,#640 422px,#850 428px,#710 430px,#480 432px,#010 436px,#210 440px,#280 444px,#5c0 450px,#5f0 452px,#4a0 454px,#070 458px,#0f0 460px,#290 462px,#390 464px,#410 472px,#3c0 474px,#260 476px,#0c0 478px,#120 480px,#340 482px,#510 484px,#550 486px,#3f0 488px,#0c0 492px,#220 496px,#270 504px,#220 506px,#060 510px,#0c0 512px,#2d0 516px,#2c0 518px,#020 524px,#0e0 526px,#190 528px,#1a0 530px,#040 538px,#0f0 548px,#020 554px,#110 560px,#060 566px)"></i>
<i style="background:linear-gradient(90deg,#020 1px,#000 51px,#030 59px,#010 65px,#050 75px,#010 81px,#050 91px,#010 99px,#050 107px,#000 115px,#060 125px,#020 133px,#0a0 143px,#040 151px,#0e0 159px,#030 167px,#110 177px,#060 187px,#160 197px,#060 209px,#170 217px,#1e0 223px,#070 235px,#220 245px,#300 253px,#0a0 271px,#3e0 290px,#5c0 306px,#2f0 348px,#1f0 358px,#130 380px,#1d0 386px,#1b0 388px,#080 392px,#060 394px,#240 398px,#2d0 400px,#150 406px,#740 412px,#870 414px,#640 420px,#950 426px,#8d0 428px,#6a0 430px,#110 434px,#030 436px,#100 438px,#230 444px,#560 448px,#650 450px,#5c0 452px,#080 458px,#260 462px,#4c0 472px,#3d0 474px,#070 478px,#3e0 482px,#520 484px,#4c0 486px,#1b0 490px,#130 492px,#2f0 504px,#240 506px,#040 510px,#280 514px,#300 516px,#270 518px,#040 522px,#170 528px,#020 540px,#130 546px,#110 548px,#040 552px,#110 560px,#040 566px)"></i>
<i style="background:linear-gradient(90deg,#030 1px,#010 7px,#020 17px,#000 25px,#010 33px,#000 51px,#030 59px,#010 67px,#050 75px,#010 81px,#050 91px,#010 99px,#050 107px,#000 115px,#060 127px,#020 133px,#0a0 141px,#040 151px,#0e0 159px,#030 167px,#110 177px,#060 187px,#170 197px,#050 207px,#1a0 217px,#1e0 221px,#060 233px,#270 245px,#300 251px,#0a0 269px,#400 288px,#5e0 302px,#590 312px,#1e0 356px,#140 378px,#1a0 386px,#050 392px,#250 398px,#240 400px,#0d0 404px,#190 406px,#5e0 410px,#760 412px,#780 414px,#5e0 418px,#660 420px,#9d0 424px,#a20 426px,#890 428px,#0e0 434px,#0a0 436px,#130 442px,#490 446px,#620 448px,#650 450px,#510 452px,#140 456px,#0f0 458px,#2c0 466px,#530 470px,#510 472px,#370 474px,#140 476px,#090 478px,#430 482px,#4c0 484px,#1d0 490px,#1b0 492px,#180 496px,#370 502px,#330 504px,#200 506px,#090 508px,#080 510px,#1e0 512px,#2e0 514px,#2e0 516px,#050 522px,#130 528px,#0f0 534px,#030 538px,#030 540px,#140 544px,#160 546px,#030 552px,#120 558px,#030 566px)"></i>
<i style="background:linear-gradient(90deg,#040 1px,#000 27px,#020 35px,#000 53px,#030 61px,#010 67px,#050 75px,#010 83px,#050 91px,#010 99px,#050 107px,#000 115px,#050 125px,#020 133px,#0b0 141px,#030 149px,#0e0 159px,#040 167px,#100 177px,#070 187px,#170 197px,#050 207px,#1f0 219px,#070 233px,#270 243px,#300 249px,#2c0 253px,#0d0 263px,#0a0 267px,#420 286px,#610 302px,#1d0 354px,#130 378px,#180 384px,#070 390px,#080 392px,#1d0 396px,#200 398px,#0b0 402px,#0d0 404px,#480 408px,#620 410px,#6a0 412px,#570 416px,#5c0 418px,#9a0 422px,#ab0 424px,#a00 426px,#7a0 428px,#260 432px,#160 434px,#070 440px,#550 446px,#640 448px,#5c0 450px,#170 456px,#160 462px,#1c0 464px,#4f0 468px,#5b0 470px,#4d0 472px,#0c0 476px,#110 478px,#2d0 480px,#410 482px,#420 484px,#150 494px,#140 496px,#370 500px,#3e0 502px,#310 504px,#050 508px,#240 512px,#2d0 514px,#090 522px,#160 532px,#120 534px,#010 538px,#120 542px,#180 544px,#160 546px,#040 550px,#040 552px,#100 556px,#100 558px,#010 564px,#020 566px)"></i>
<i style="background:linear-gradient(90deg,#050 1px,#010 9px,#030 19px,#000 27px,#020 35px,#010 69px,#050 75px,#010 83px,#050 91px,#010 99px,#050 107px,#010 115px,#040 123px,#010 133px,#0b0 141px,#030 149px,#0e0 159px,#040 167px,#0f0 177px,#060 185px,#170 195px,#130 199px,#050 205px,#1f0 219px,#070 231px,#2b0 243px,#310 247px,#280 253px,#0d0 261px,#090 265px,#440 284px,#630 300px,#1a0 354px,#140 384px,#060 390px,#1c0 396px,#050 402px,#500 408px,#5c0 410px,#4e0 416px,#ac0 422px,#ad0 424px,#920 426px,#400 430px,#2a0 432px,#190 436px,#090 438px,#050 440px,#420 444px,#5a0 446px,#5e0 448px,#240 454px,#0d0 462px,#590 468px,#5b0 470px,#430 472px,#0b0 476px,#2f0 480px,#390 482px,#2c0 490px,#100 494px,#160 496px,#400 500px,#3f0 502px,#100 506px,#080 508px,#270 512px,#290 514px,#0f0 520px,#0a0 524px,#1b0 532px,#020 538px,#180 542px,#1a0 544px,#130 546px,#010 550px,#0d0 554px,#0f0 556px,#000 564px,#020 566px)"></i>
<i style="background:linear-gradient(90deg,#050 1px,#000 29px,#020 63px,#000 69px,#040 75px,#020 83px,#060 91px,#010 99px,#050 107px,#010 115px,#050 123px,#010 133px,#0b0 141px,#030 149px,#0d0 157px,#050 165px,#0f0 175px,#060 185px,#170 193px,#150 197px,#060 205px,#1f0 217px,#1b0 221px,#060 229px,#320 245px,#290 251px,#090 263px,#460 281px,#630 300px,#1a0 352px,#130 382px,#070 388px,#170 394px,#160 396px,#020 400px,#3e0 406px,#4c0 408px,#410 414px,#a20 420px,#af0 422px,#a00 424px,#430 430px,#2f0 434px,#1c0 436px,#050 438px,#0b0 440px,#2a0 442px,#480 444px,#550 446px,#320 452px,#290 456px,#0b0 460px,#0d0 462px,#4b0 466px,#5b0 468px,#520 470px,#190 474px,#110 476px,#2a0 480px,#3b0 488px,#0d0 494px,#380 498px,#440 500px,#3a0 502px,#0d0 506px,#0e0 508px,#240 512px,#240 514px,#080 524px,#210 530px,#1b0 532px,#020 536px,#1a0 542px,#170 544px,#030 548px,#020 550px,#0c0 554px,#000 564px,#020 566px)"></i>
<i style="background:linear-gradient(90deg,#060 1px,#020 11px,#030 21px,#000 29px,#020 37px,#000 69px,#050 77px,#020 85px,#060 93px,#010 99px,#050 109px,#010 115px,#050 123px,#000 133px,#0a0 141px,#040 149px,#0d0 157px,#040 165px,#0f0 175px,#050 183px,#180 193px,#060 203px,#1e0 217px,#180 221px,#060 227px,#070 229px,#210 237px,#330 245px,#0a0 261px,#350 273px,#4e0 281px,#640 298px,#190 350px,#110 380px,#080 386px,#140 394px,#030 398px,#050 400px,#2f0 404px,#3e0 406px,#320 412px,#440 414px,#920 418px,#a90 420px,#a50 422px,#580 428px,#4a0 432px,#370 434px,#190 436px,#010 438px,#310 442px,#460 444px,#4a0 446px,#2e0 456px,#040 460px,#360 464px,#510 466px,#560 468px,#190 474px,#230 480px,#440 486px,#400 488px,#110 492px,#100 494px,#3f0 498px,#410 500px,#0f0 506px,#210 512px,#230 516px,#1f0 518px,#080 522px,#090 524px,#230 528px,#240 530px,#010 536px,#180 540px,#190 542px,#010 548px,#0b0 554px,#080 558px,#000 564px,#030 566px)"></i>
<i style="background:linear-gradient(90deg,#050 1px,#020 13px,#040 21px,#000 31px,#020 37px,#000 71px,#040 77px,#010 85px,#060 93px,#010 99px,#050 107px,#010 115px,#060 123px,#000 133px,#090 141px,#040 149px,#0e0 157px,#040 165px,#110 173px,#040 183px,#130 189px,#1a0 193px,#060 203px,#150 209px,#1c0 215px,#190 219px,#070 227px,#270 237px,#310 243px,#2e0 247px,#0f0 255px,#0a0 259px,#400 273px,#5a0 284px,#660 294px,#180 348px,#120 374px,#080 386px,#130 392px,#020 398px,#220 402px,#310 404px,#350 406px,#270 410px,#340 412px,#7e0 416px,#9a0 418px,#a00 420px,#6a0 426px,#540 432px,#350 434px,#020 438px,#190 440px,#310 442px,#3c0 444px,#450 452px,#410 454px,#2c0 456px,#100 458px,#050 460px,#3d0 464px,#4d0 466px,#4a0 468px,#1f0 474px,#190 478px,#1e0 480px,#430 484px,#4b0 486px,#3d0 488px,#0d0 492px,#3e0 498px,#3a0 500px,#150 506px,#290 516px,#210 518px,#050 522px,#1f0 526px,#270 528px,#210 530px,#030 534px,#180 540px,#160 542px,#020 548px,#0b0 556px,#020 562px,#010 564px,#060 566px)"></i>
<i style="background:linear-gradient(90deg,#050 1px,#020 15px,#050 23px,#010 31px,#020 39px,#000 71px,#040 79px,#010 85px,#070 93px,#020 99px,#050 109px,#000 115px,#060 123px,#000 131px,#080 141px,#030 149px,#0e0 155px,#040 165px,#120 173px,#040 183px,#150 189px,#1a0 193px,#050 201px,#190 209px,#1d0 213px,#070 225px,#250 235px,#310 241px,#290 247px,#0a0 255px,#090 257px,#4a0 273px,#670 292px,#170 346px,#110 372px,#080 384px,#0f0 392px,#030 396px,#260 402px,#2b0 404px,#1d0 408px,#230 410px,#680 414px,#880 416px,#950 418px,#730 424px,#700 430px,#550 432px,#0a0 436px,#060 438px,#1b0 440px,#2a0 442px,#500 452px,#420 454px,#080 458px,#0b0 460px,#260 462px,#3d0 464px,#440 466px,#120 478px,#4c0 484px,#4b0 486px,#190 490px,#0f0 492px,#330 496px,#390 498px,#140 508px,#2f0 514px,#2e0 516px,#0b0 520px,#070 522px,#260 526px,#280 528px,#030 534px,#130 538px,#160 540px,#030 548px,#0d0 556px,#010 562px,#0a0 566px)"></i>
<i style="background:linear-gradient(90deg,#040 1px,#050 23px,#010 33px,#030 39px,#000 49px,#000 71px,#030 79px,#010 87px,#060 93px,#020 101px,#060 107px,#000 115px,#060 125px,#010 131px,#070 141px,#030 149px,#0f0 155px,#040 165px,#120 173px,#040 181px,#190 191px,#060 201px,#1f0 211px,#070 223px,#230 233px,#310 239px,#290 245px,#0a0 255px,#4c0 271px,#680 288px,#620 296px,#360 316px,#170 344px,#110 368px,#080 382px,#0f0 390px,#050 394px,#060 396px,#1c0 400px,#220 402px,#160 406px,#180 408px,#720 414px,#830 416px,#750 422px,#880 426px,#870 428px,#710 430px,#070 436px,#260 444px,#580 450px,#530 452px,#3a0 454px,#050 458px,#280 462px,#390 466px,#330 472px,#130 476px,#100 478px,#420 482px,#4e0 484px,#440 486px,#150 490px,#150 492px,#300 496px,#330 498px,#2c0 502px,#100 508px,#350 514px,#2d0 516px,#070 520px,#280 526px,#230 528px,#080 532px,#070 534px,#140 540px,#030 548px,#100 554px,#020 562px,#0d0 566px)"></i>
<i style="background:linear-gradient(90deg,#030 1px,#060 9px,#030 17px,#050 25px,#010 33px,#030 41px,#000 49px,#030 81px,#010 87px,#060 93px,#020 101px,#070 107px,#010 115px,#060 123px,#010 131px,#070 139px,#020 149px,#0f0 155px,#040 163px,#110 173px,#040 181px,#180 191px,#070 199px,#1f0 211px,#050 223px,#240 231px,#320 239px,#0a0 253px,#3d0 265px,#550 271px,#6b0 286px,#160 342px,#090 380px,#0f0 388px,#050 394px,#1b0 400px,#0d0 406px,#5d0 412px,#700 414px,#6f0 420px,#980 426px,#8a0 428px,#680 430px,#1a0 434px,#0d0 436px,#160 442px,#580 448px,#5e0 450px,#4d0 452px,#110 456px,#090 458px,#240 462px,#3f0 470px,#360 472px,#0c0 476px,#140 478px,#470 482px,#4a0 484px,#170 490px,#360 500px,#320 502px,#120 506px,#110 508px,#360 512px,#370 514px,#080 520px,#230 524px,#250 526px,#0a0 532px,#140 542px,#020 548px,#110 552px,#140 554px,#0f0 556px,#010 560px,#0c0 564px,#0e0 566px)"></i>
<i style="background:linear-gradient(90deg,#030 1px,#060 9px,#030 19px,#060 27px,#010 35px,#030 43px,#000 49px,#020 81px,#000 87px,#050 93px,#020 101px,#070 109px,#010 115px,#060 123px,#000 131px,#070 139px,#010 147px,#0e0 155px,#040 163px,#0f0 169px,#100 173px,#050 179px,#170 189px,#070 199px,#190 205px,#1e0 209px,#1b0 213px,#040 221px,#2b0 231px,#2c0 241px,#0b0 251px,#510 267px,#6d0 286px,#3b0 308px,#140 342px,#090 376px,#0e0 386px,#060 392px,#150 398px,#080 404px,#490 410px,#5b0 412px,#650 418px,#9f0 424px,#9a0 426px,#7f0 428px,#1e0 434px,#0b0 440px,#150 442px,#4e0 446px,#5e0 448px,#580 450px,#110 456px,#0f0 458px,#450 468px,#440 470px,#320 472px,#0a0 476px,#360 480px,#440 482px,#400 484px,#1c0 490px,#1b0 492px,#3d0 500px,#330 502px,#0d0 506px,#3a0 512px,#330 514px,#0d0 518px,#0e0 520px,#220 524px,#220 526px,#090 534px,#190 540px,#170 542px,#030 546px,#160 552px,#140 554px,#020 558px,#0e0 564px,#0c0 566px)"></i>
<i style="background:linear-gradient(90deg,#030 1px,#060 27px,#020 35px,#040 43px,#000 51px,#020 81px,#000 87px,#050 95px,#010 101px,#080 109px,#010 115px,#060 123px,#000 131px,#080 139px,#010 147px,#0d0 155px,#050 163px,#120 169px,#100 173px,#040 179px,#170 187px,#150 191px,#070 197px,#200 207px,#170 213px,#040 219px,#050 221px,#2a0 229px,#320 233px,#260 241px,#090 249px,#550 265px,#6d0 284px,#370 308px,#140 340px,#090 374px,#0d0 384px,#070 390px,#100 398px,#030 402px,#490 410px,#560 416px,#a00 422px,#a40 424px,#900 426px,#350 432px,#060 440px,#3c0 444px,#550 446px,#5b0 448px,#4d0 450px,#220 454px,#110 458px,#110 460px,#420 466px,#4b0 468px,#410 470px,#0f0 474px,#0f0 476px,#360 480px,#3c0 482px,#170 492px,#1d0 494px,#400 498px,#410 500px,#160 504px,#0e0 506px,#340 510px,#380 512px,#0f0 518px,#210 526px,#080 534px,#1b0 538px,#1e0 540px,#160 542px,#010 546px,#150 550px,#170 552px,#010 558px,#0d0 562px,#080 566px)"></i>
<i style="background:linear-gradient(90deg,#030 1px,#060 13px,#030 21px,#060 29px,#020 37px,#040 45px,#000 51px,#020 81px,#000 87px,#050 95px,#020 103px,#080 109px,#020 115px,#070 123px,#000 131px,#080 139px,#010 147px,#0c0 155px,#050 163px,#140 169px,#040 179px,#190 187px,#050 197px,#220 205px,#1d0 209px,#050 219px,#260 227px,#340 231px,#240 239px,#0a0 247px,#0c0 249px,#3a0 257px,#5f0 265px,#6d0 284px,#3d0 302px,#1b0 328px,#090 370px,#0d0 382px,#070 390px,#0d0 396px,#030 400px,#060 402px,#280 406px,#370 408px,#470 414px,#980 420px,#a30 422px,#980 424px,#4e0 430px,#340 434px,#080 438px,#0a0 440px,#430 444px,#520 446px,#500 448px,#0f0 458px,#0d0 460px,#380 464px,#4a0 466px,#4a0 468px,#380 470px,#0e0 474px,#300 480px,#380 484px,#350 486px,#130 492px,#390 496px,#450 498px,#3d0 500px,#110 504px,#160 506px,#340 510px,#320 512px,#130 518px,#250 526px,#200 528px,#080 532px,#220 538px,#1e0 540px,#030 544px,#180 550px,#140 552px,#010 556px,#0c0 562px,#040 566px)"></i>
<i style="background:linear-gradient(90deg,#040 1px,#020 7px,#060 15px,#030 23px,#070 31px,#020 37px,#050 45px,#010 53px,#030 59px,#010 65px,#020 81px,#000 87px,#040 95px,#010 103px,#080 109px,#020 117px,#080 123px,#000 131px,#070 139px,#010 147px,#0c0 155px,#050 163px,#150 169px,#040 177px,#1a0 187px,#050 195px,#060 197px,#250 205px,#1c0 209px,#030 217px,#240 225px,#360 231px,#2d0 235px,#0a0 245px,#0c0 247px,#480 257px,#6f0 269px,#680 286px,#3b0 300px,#190 326px,#080 368px,#0c0 380px,#070 388px,#0b0 394px,#020 400px,#280 406px,#350 412px,#8c0 418px,#9c0 420px,#990 422px,#4e0 432px,#380 434px,#030 438px,#2c0 442px,#410 444px,#490 446px,#2e0 454px,#090 458px,#0f0 460px,#410 464px,#4a0 466px,#410 468px,#190 472px,#120 474px,#3d0 484px,#390 486px,#130 490px,#140 492px,#410 496px,#450 498px,#120 504px,#310 510px,#130 520px,#2b0 526px,#210 528px,#060 532px,#220 536px,#250 538px,#030 544px,#170 548px,#160 550px,#040 554px,#030 556px,#0b0 560px,#030 566px)"></i>
<i style="background:linear-gradient(90deg,#040 1px,#020 7px,#060 17px,#030 23px,#070 31px,#020 39px,#060 47px,#010 53px,#030 59px,#000 67px,#020 81px,#000 89px,#040 95px,#000 103px,#070 109px,#020 117px,#080 123px,#010 129px,#070 139px,#010 147px,#0b0 153px,#030 161px,#160 169px,#040 177px,#140 183px,#190 187px,#050 195px,#1b0 201px,#260 205px,#1a0 209px,#020 215px,#040 217px,#220 223px,#340 229px,#310 233px,#080 243px,#0a0 245px,#2f0 251px,#560 257px,#730 269px,#660 284px,#360 300px,#160 326px,#080 366px,#090 392px,#020 398px,#1c0 404px,#270 410px,#7a0 416px,#910 420px,#670 430px,#520 432px,#050 438px,#2b0 442px,#410 446px,#470 450px,#2e0 454px,#070 458px,#310 462px,#420 464px,#430 466px,#150 474px,#150 476px,#3d0 482px,#420 484px,#360 486px,#0f0 490px,#420 496px,#3d0 498px,#1b0 502px,#180 504px,#300 512px,#2a0 514px,#100 518px,#140 520px,#300 524px,#2d0 526px,#080 530px,#0c0 532px,#1d0 534px,#270 536px,#210 538px,#050 542px,#140 546px,#160 548px,#050 554px,#0a0 558px,#070 566px)"></i>
<i style="background:linear-gradient(90deg,#050 1px,#020 9px,#060 17px,#030 25px,#070 33px,#030 41px,#060 47px,#010 55px,#040 61px,#000 67px,#020 83px,#000 89px,#040 97px,#000 103px,#060 109px,#020 117px,#090 123px,#010 129px,#070 137px,#010 145px,#0c0 153px,#020 161px,#160 169px,#060 177px,#160 183px,#170 187px,#060 193px,#070 195px,#1f0 201px,#250 205px,#160 209px,#030 213px,#030 215px,#290 223px,#350 227px,#2b0 233px,#060 241px,#060 243px,#300 249px,#570 255px,#770 267px,#690 279px,#310 300px,#150 324px,#080 364px,#0c0 374px,#060 384px,#080 390px,#020 396px,#130 402px,#190 408px,#680 414px,#840 418px,#7c0 428px,#4c0 432px,#0d0 436px,#0a0 438px,#400 446px,#500 450px,#430 452px,#0d0 456px,#0a0 458px,#340 462px,#3d0 464px,#320 468px,#110 476px,#440 482px,#420 484px,#150 488px,#110 490px,#370 494px,#3d0 496px,#1b0 504px,#360 512px,#2c0 514px,#0d0 518px,#2f0 522px,#350 524px,#290 526px,#070 530px,#250 534px,#260 536px,#0a0 540px,#080 542px,#150 546px,#080 552px,#0a0 556px,#050 560px,#0a0 566px)"></i>
<i style="background:linear-gradient(90deg,#050 1px,#020 9px,#060 19px,#030 27px,#070 35px,#030 41px,#060 49px,#020 55px,#040 63px,#000 69px,#020 75px,#000 89px,#040 97px,#000 103px,#060 111px,#010 117px,#090 123px,#020 129px,#070 137px,#000 145px,#0c0 153px,#020 161px,#130 167px,#120 171px,#060 175px,#190 183px,#150 187px,#050 193px,#1d0 199px,#250 203px,#1b0 207px,#040 213px,#2f0 223px,#370 227px,#230 233px,#060 239px,#060 241px,#520 251px,#730 259px,#780 267px,#660 279px,#2d0 300px,#140 322px,#080 362px,#0b0 372px,#030 394px,#0d0 400px,#0f0 406px,#690 414px,#8a0 426px,#640 430px,#100 436px,#0d0 438px,#560 448px,#510 450px,#3b0 452px,#0b0 456px,#2f0 462px,#380 466px,#2e0 470px,#0e0 474px,#110 476px,#3d0 480px,#450 482px,#3a0 484px,#120 488px,#330 494px,#320 498px,#180 504px,#1c0 506px,#3b0 510px,#3a0 512px,#100 516px,#110 518px,#370 522px,#330 524px,#0b0 528px,#260 534px,#0a0 540px,#130 544px,#050 558px,#0c0 564px,#090 566px)"></i>
<i style="background:linear-gradient(90deg,#040 1px,#020 11px,#050 21px,#020 27px,#070 35px,#030 43px,#070 49px,#020 57px,#050 63px,#010 69px,#030 75px,#000 91px,#040 97px,#000 103px,#050 109px,#010 117px,#090 123px,#020 129px,#090 137px,#000 145px,#0c0 153px,#020 159px,#030 161px,#130 167px,#100 171px,#050 175px,#1a0 181px,#1c0 183px,#040 191px,#050 193px,#190 197px,#270 201px,#1e0 205px,#040 211px,#1a0 217px,#380 225px,#2f0 229px,#070 237px,#060 239px,#640 251px,#7c0 261px,#620 279px,#350 292px,#130 320px,#110 338px,#090 350px,#0b0 370px,#030 392px,#090 398px,#070 404px,#550 412px,#920 424px,#770 428px,#240 434px,#0c0 438px,#0f0 440px,#3d0 444px,#530 446px,#590 448px,#4b0 450px,#180 454px,#0e0 456px,#350 464px,#3c0 468px,#2e0 470px,#0a0 474px,#310 478px,#410 480px,#3f0 482px,#150 488px,#2e0 494px,#360 498px,#130 504px,#370 508px,#430 510px,#370 512px,#0c0 516px,#320 520px,#380 522px,#0d0 528px,#230 532px,#100 538px,#100 552px,#050 556px,#0f0 562px,#050 566px)"></i>
<i style="background:linear-gradient(90deg,#040 1px,#020 13px,#050 21px,#020 29px,#060 37px,#030 43px,#070 51px,#020 57px,#050 65px,#010 71px,#030 75px,#010 91px,#030 99px,#000 103px,#060 111px,#000 117px,#090 123px,#020 131px,#0a0 137px,#010 143px,#0b0 153px,#020 159px,#140 167px,#050 175px,#160 179px,#1e0 183px,#030 191px,#1e0 197px,#280 201px,#190 205px,#060 209px,#050 211px,#230 217px,#360 225px,#290 229px,#070 235px,#050 237px,#740 251px,#7f0 261px,#5b0 279px,#300 292px,#110 318px,#100 338px,#090 348px,#0a0 368px,#040 378px,#060 396px,#020 400px,#040 402px,#400 410px,#920 422px,#820 426px,#2b0 434px,#080 438px,#110 440px,#470 444px,#550 446px,#510 448px,#1a0 454px,#120 456px,#130 458px,#450 466px,#3d0 468px,#0f0 472px,#0d0 474px,#350 478px,#3c0 480px,#190 488px,#1a0 490px,#3c0 496px,#3b0 498px,#140 502px,#140 504px,#420 508px,#420 510px,#130 514px,#130 516px,#360 520px,#310 522px,#120 526px,#200 532px,#0e0 544px,#140 550px,#070 554px,#060 556px,#110 560px,#0f0 562px,#020 566px)"></i>
<i style="background:linear-gradient(90deg,#030 1px,#050 7px,#020 15px,#050 23px,#020 29px,#060 37px,#020 45px,#070 51px,#020 59px,#060 65px,#010 71px,#040 77px,#000 83px,#030 99px,#000 103px,#060 111px,#000 117px,#080 123px,#020 131px,#0b0 137px,#000 143px,#0a0 153px,#010 159px,#130 165px,#150 167px,#050 173px,#050 175px,#1f0 181px,#180 185px,#040 189px,#050 191px,#280 199px,#200 203px,#030 209px,#2c0 217px,#330 223px,#2c0 227px,#070 233px,#030 235px,#510 245px,#740 249px,#860 253px,#7d0 263px,#540 279px,#320 288px,#0f0 318px,#0f0 336px,#080 344px,#0a0 364px,#040 374px,#050 394px,#010 398px,#020 400px,#230 406px,#3f0 412px,#7c0 418px,#910 422px,#460 432px,#050 438px,#350 442px,#4a0 444px,#4f0 446px,#0f0 458px,#460 464px,#470 466px,#360 468px,#0c0 472px,#320 478px,#2f0 482px,#150 490px,#380 494px,#430 496px,#3a0 498px,#0d0 502px,#390 506px,#450 508px,#390 510px,#100 514px,#2f0 518px,#320 520px,#1a0 524px,#170 526px,#1d0 530px,#190 538px,#0d0 542px,#190 548px,#050 554px,#120 558px,#120 560px,#030 564px,#030 566px)"></i>
<i style="background:linear-gradient(90deg,#020 1px,#050 7px,#020 15px,#050 23px,#020 31px,#060 39px,#020 45px,#070 53px,#020 59px,#070 65px,#010 73px,#050 79px,#000 85px,#030 99px,#000 105px,#060 111px,#000 117px,#080 123px,#020 131px,#0c0 137px,#010 143px,#0a0 151px,#010 159px,#0e0 163px,#150 167px,#040 173px,#200 181px,#1e0 183px,#040 189px,#1d0 195px,#280 199px,#1c0 203px,#050 207px,#070 209px,#2a0 215px,#360 219px,#220 227px,#040 233px,#660 245px,#8d0 253px,#7b0 263px,#4a0 279px,#2e0 286px,#0f0 316px,#130 322px,#070 342px,#090 362px,#030 372px,#020 398px,#180 404px,#2f0 410px,#6f0 416px,#880 420px,#610 430px,#480 432px,#0c0 436px,#0a0 438px,#370 442px,#430 444px,#3c0 450px,#310 452px,#0d0 456px,#0f0 458px,#3f0 462px,#490 464px,#400 466px,#160 470px,#110 472px,#250 476px,#330 482px,#2e0 484px,#100 488px,#160 490px,#430 494px,#440 496px,#140 500px,#120 502px,#3f0 506px,#3f0 508px,#180 512px,#180 514px,#2d0 518px,#190 530px,#200 536px,#0d0 542px,#1c0 546px,#190 548px,#060 552px,#130 558px,#040 564px,#080 566px)"></i>
<i style="background:linear-gradient(90deg,#010 1px,#050 9px,#020 17px,#050 25px,#020 33px,#060 39px,#020 47px,#070 53px,#020 61px,#070 67px,#010 73px,#050 81px,#000 85px,#030 91px,#030 101px,#000 105px,#060 111px,#000 117px,#080 123px,#010 131px,#0c0 137px,#010 143px,#0c0 149px,#010 159px,#140 165px,#150 167px,#040 173px,#150 177px,#200 181px,#1c0 183px,#070 187px,#060 189px,#1b0 193px,#270 197px,#200 201px,#040 207px,#280 213px,#380 219px,#210 225px,#040 231px,#670 243px,#860 247px,#910 251px,#770 263px,#280 286px,#110 310px,#120 322px,#070 340px,#0a0 346px,#030 370px,#030 396px,#200 408px,#720 416px,#800 426px,#630 430px,#080 436px,#310 442px,#480 448px,#320 452px,#080 456px,#320 460px,#430 462px,#430 464px,#170 470px,#160 472px,#3a0 482px,#2e0 484px,#0b0 488px,#3b0 492px,#480 494px,#3c0 496px,#0e0 500px,#340 504px,#3d0 506px,#1a0 512px,#280 518px,#230 524px,#170 528px,#260 534px,#0c0 540px,#1d0 544px,#1d0 546px,#090 550px,#140 556px,#050 562px,#0c0 566px)"></i>
<i style="background:linear-gradient(90deg,#010 1px,#050 11px,#020 19px,#050 25px,#020 33px,#060 41px,#020 47px,#070 55px,#020 61px,#070 67px,#020 75px,#060 81px,#000 87px,#030 91px,#010 105px,#050 113px,#000 117px,#080 123px,#020 131px,#0c0 137px,#010 143px,#0e0 149px,#090 153px,#000 157px,#140 165px,#050 173px,#200 179px,#190 183px,#050 187px,#290 195px,#220 199px,#040 205px,#090 207px,#280 211px,#380 217px,#2e0 221px,#030 229px,#070 231px,#410 237px,#7a0 243px,#950 249px,#710 263px,#240 286px,#270 290px,#0e0 310px,#110 320px,#0b0 326px,#060 340px,#0a0 346px,#020 366px,#040 396px,#0e0 404px,#5f0 414px,#8b0 424px,#780 428px,#180 434px,#0e0 436px,#4c0 446px,#510 448px,#440 450px,#0f0 454px,#0c0 456px,#360 460px,#3d0 462px,#150 472px,#140 474px,#410 480px,#3b0 482px,#0c0 486px,#120 488px,#2e0 490px,#420 492px,#410 494px,#160 498px,#140 500px,#330 504px,#330 506px,#200 512px,#2b0 522px,#170 528px,#290 532px,#260 534px,#0f0 538px,#200 544px,#0a0 550px,#140 554px,#080 560px,#0b0 566px)"></i>
<i style="background:linear-gradient(90deg,#020 1px,#040 13px,#020 19px,#060 27px,#020 35px,#060 41px,#020 49px,#070 55px,#020 63px,#070 69px,#020 75px,#070 81px,#000 87px,#040 93px,#010 97px,#010 107px,#050 113px,#010 117px,#090 123px,#020 131px,#0c0 137px,#010 143px,#0f0 149px,#0e0 151px,#010 157px,#0b0 161px,#130 165px,#110 167px,#040 171px,#070 173px,#1e0 177px,#220 179px,#1f0 181px,#040 187px,#1d0 191px,#2d0 195px,#1d0 199px,#050 203px,#030 205px,#330 211px,#3c0 215px,#260 221px,#020 227px,#040 229px,#580 237px,#9f0 247px,#690 263px,#230 284px,#240 290px,#0d0 310px,#0f0 320px,#060 336px,#0a0 344px,#020 364px,#040 400px,#070 402px,#410 410px,#950 424px,#6b0 428px,#1b0 434px,#100 438px,#570 446px,#530 448px,#3b0 450px,#0b0 454px,#260 458px,#340 462px,#2b0 468px,#0e0 472px,#140 474px,#420 478px,#450 480px,#0a0 486px,#370 490px,#3f0 492px,#150 498px,#2d0 504px,#1d0 514px,#310 520px,#150 526px,#290 530px,#2c0 532px,#130 536px,#110 538px,#200 542px,#0d0 548px,#140 552px,#0a0 558px,#0d0 562px,#080 566px)"></i>
<i style="background:linear-gradient(90deg,#020 1px,#010 5px,#040 15px,#010 21px,#060 29px,#020 35px,#060 43px,#020 49px,#070 57px,#020 63px,#070 69px,#020 75px,#070 81px,#010 87px,#050 93px,#010 99px,#050 113px,#010 117px,#090 123px,#090 125px,#020 129px,#020 131px,#0d0 137px,#010 143px,#100 149px,#0f0 151px,#020 155px,#020 157px,#0e0 161px,#120 165px,#020 171px,#210 177px,#1d0 181px,#050 185px,#070 187px,#230 191px,#2e0 195px,#260 197px,#020 203px,#2d0 209px,#420 213px,#270 219px,#040 225px,#040 227px,#700 237px,#a30 247px,#250 279px,#210 290px,#170 294px,#0d0 308px,#110 314px,#050 334px,#080 342px,#020 362px,#040 368px,#010 398px,#270 406px,#4b0 414px,#8c0 420px,#960 422px,#780 426px,#100 436px,#0c0 438px,#3c0 442px,#530 444px,#570 446px,#480 448px,#170 452px,#110 454px,#3b0 464px,#3a0 466px,#0b0 472px,#3b0 476px,#470 478px,#3d0 480px,#0d0 484px,#130 486px,#360 490px,#350 492px,#1a0 498px,#2e0 506px,#1b0 514px,#320 518px,#320 520px,#170 524px,#2d0 530px,#130 536px,#1e0 542px,#110 546px,#140 552px,#070 566px)"></i>
<i style="background:linear-gradient(90deg,#030 1px,#000 7px,#040 15px,#010 23px,#050 31px,#020 37px,#060 43px,#020 51px,#070 57px,#020 63px,#070 71px,#020 77px,#070 83px,#010 89px,#060 95px,#010 99px,#040 113px,#010 119px,#080 123px,#090 125px,#020 129px,#0d0 137px,#020 143px,#110 149px,#0f0 151px,#020 155px,#130 163px,#010 171px,#180 175px,#240 179px,#040 185px,#1c0 189px,#300 193px,#210 197px,#030 201px,#050 203px,#360 209px,#450 213px,#3c0 215px,#050 223px,#020 225px,#240 229px,#700 235px,#940 239px,#a40 245px,#1f0 279px,#1d0 290px,#130 294px,#0d0 302px,#0f0 314px,#050 332px,#080 338px,#020 348px,#050 366px,#010 394px,#050 398px,#1e0 404px,#3a0 412px,#840 418px,#900 420px,#8d0 422px,#4d0 430px,#3a0 432px,#090 436px,#0f0 438px,#480 442px,#540 444px,#4d0 446px,#1a0 452px,#170 454px,#1c0 458px,#3d0 462px,#450 464px,#3b0 466px,#0a0 470px,#120 472px,#2e0 474px,#420 476px,#420 478px,#180 482px,#0f0 484px,#2a0 488px,#300 490px,#1b0 500px,#330 506px,#170 512px,#350 518px,#180 524px,#2b0 528px,#180 534px,#1f0 540px,#160 544px,#0a0 566px)"></i>
<i style="background:linear-gradient(90deg,#020 1px,#000 9px,#030 15px,#010 25px,#050 31px,#020 39px,#070 45px,#020 51px,#070 59px,#020 65px,#080 71px,#020 77px,#080 83px,#010 89px,#070 95px,#000 101px,#040 105px,#010 119px,#090 125px,#020 129px,#0e0 137px,#020 143px,#120 149px,#0f0 151px,#020 155px,#0e0 159px,#150 163px,#020 169px,#040 171px,#230 177px,#220 179px,#090 183px,#060 185px,#250 189px,#310 193px,#290 195px,#020 201px,#310 207px,#450 211px,#350 215px,#050 221px,#030 223px,#700 233px,#980 237px,#a50 241px,#9d0 247px,#6c0 253px,#1d0 277px,#1f0 284px,#0b0 302px,#0d0 312px,#060 318px,#040 332px,#080 336px,#020 346px,#040 364px,#020 392px,#220 408px,#750 416px,#830 420px,#670 428px,#540 430px,#070 436px,#360 440px,#470 442px,#490 444px,#110 456px,#490 462px,#470 464px,#0a0 470px,#360 474px,#3f0 476px,#370 478px,#160 482px,#150 484px,#270 488px,#2e0 492px,#170 498px,#1a0 500px,#340 504px,#330 506px,#190 510px,#1a0 512px,#330 516px,#1b0 522px,#2a0 528px,#1c0 534px,#0c0 566px)"></i>
<i style="background:linear-gradient(90deg,#020 1px,#000 11px,#040 19px,#010 25px,#050 33px,#020 39px,#060 47px,#020 53px,#070 59px,#020 65px,#080 71px,#020 77px,#080 83px,#010 89px,#070 97px,#000 101px,#050 107px,#020 119px,#080 125px,#020 131px,#0f0 135px,#0f0 137px,#030 141px,#030 143px,#110 147px,#130 149px,#010 155px,#170 161px,#0f0 165px,#000 169px,#120 173px,#220 177px,#1f0 179px,#050 183px,#090 185px,#2e0 189px,#350 191px,#220 195px,#020 199px,#080 201px,#2e0 205px,#440 209px,#3c0 213px,#2b0 215px,#050 219px,#030 221px,#720 231px,#9a0 235px,#ad0 239px,#930 247px,#620 253px,#550 259px,#1a0 277px,#1e0 284px,#0d0 294px,#0a0 302px,#0e0 306px,#040 316px,#060 334px,#010 340px,#040 358px,#010 368px,#040 390px,#100 404px,#160 406px,#660 414px,#7e0 424px,#6e0 428px,#4e0 430px,#0c0 434px,#0f0 436px,#370 440px,#3e0 444px,#310 450px,#0d0 454px,#120 456px,#450 460px,#4c0 462px,#3e0 464px,#0d0 468px,#120 470px,#350 474px,#370 476px,#160 484px,#300 490px,#310 492px,#140 498px,#300 502px,#350 504px,#180 510px,#2e0 514px,#300 516px,#1f0 520px,#270 526px,#0c0 566px)"></i>
<i style="background:linear-gradient(90deg,#010 1px,#000 13px,#030 21px,#010 27px,#050 35px,#020 41px,#070 47px,#020 53px,#070 59px,#020 67px,#080 73px,#020 79px,#080 85px,#010 91px,#080 97px,#010 101px,#070 107px,#010 113px,#070 125px,#020 129px,#020 131px,#0f0 135px,#100 137px,#040 141px,#040 143px,#140 147px,#140 149px,#020 155px,#130 159px,#190 161px,#160 163px,#040 167px,#020 169px,#170 173px,#200 177px,#1a0 179px,#030 183px,#240 187px,#350 189px,#380 191px,#2d0 193px,#080 197px,#030 199px,#3b0 205px,#470 209px,#310 213px,#020 219px,#8c0 231px,#ac0 235px,#b00 239px,#860 247px,#580 253px,#4e0 259px,#260 269px,#190 277px,#1d0 281px,#0f0 288px,#0c0 306px,#040 314px,#040 334px,#010 338px,#040 348px,#030 382px,#0a0 402px,#540 412px,#8c0 424px,#630 428px,#1c0 432px,#0f0 434px,#2f0 440px,#460 446px,#410 448px,#0a0 454px,#380 458px,#480 460px,#440 462px,#100 468px,#320 474px,#2e0 478px,#170 482px,#140 484px,#350 490px,#2f0 492px,#140 496px,#320 502px,#1b0 508px,#2c0 514px,#220 520px,#1f0 542px,#160 546px,#170 552px,#0b0 566px)"></i>
<i style="background:linear-gradient(90deg,#010 1px,#000 13px,#030 21px,#010 29px,#050 35px,#010 41px,#060 49px,#020 55px,#080 61px,#020 67px,#080 73px,#020 79px,#080 85px,#010 91px,#090 97px,#010 103px,#080 109px,#010 115px,#040 119px,#050 125px,#010 129px,#020 131px,#0e0 135px,#100 137px,#040 141px,#050 143px,#160 147px,#160 149px,#040 153px,#030 155px,#160 159px,#1a0 161px,#160 163px,#020 167px,#050 169px,#1c0 173px,#210 175px,#1e0 177px,#030 183px,#2b0 187px,#3a0 189px,#390 191px,#290 193px,#010 197px,#350 203px,#4c0 207px,#370 211px,#020 217px,#3a0 223px,#870 229px,#b50 233px,#b80 235px,#a60 241px,#500 253px,#470 259px,#2f0 263px,#210 269px,#190 281px,#0c0 286px,#090 304px,#020 310px,#060 318px,#010 336px,#050 342px,#010 360px,#060 386px,#030 398px,#060 400px,#380 408px,#500 414px,#930 422px,#730 426px,#1c0 432px,#180 436px,#4c0 444px,#4e0 446px,#3e0 448px,#0c0 452px,#100 454px,#3d0 458px,#430 460px,#130 468px,#330 474px,#370 476px,#2f0 478px,#120 482px,#160 484px,#340 488px,#340 490px,#180 494px,#150 496px,#2c0 500px,#2e0 502px,#1d0 508px,#280 514px,#210 522px,#290 528px,#1c0 534px,#220 540px,#180 544px,#1a0 550px,#0d0 566px)"></i>
<i style="background:linear-gradient(90deg,#010 1px,#000 15px,#020 23px,#000 29px,#040 37px,#010 43px,#060 49px,#020 55px,#070 61px,#020 67px,#080 73px,#020 79px,#090 85px,#010 91px,#090 97px,#010 103px,#0a0 109px,#000 115px,#070 121px,#010 129px,#0f0 137px,#030 141px,#050 143px,#180 147px,#180 149px,#040 153px,#050 155px,#190 159px,#1b0 161px,#150 163px,#000 167px,#160 171px,#220 175px,#1b0 177px,#020 181px,#080 183px,#310 187px,#3d0 189px,#370 191px,#0a0 195px,#050 197px,#300 201px,#4c0 205px,#400 209px,#050 215px,#090 217px,#560 223px,#b50 231px,#c20 233px,#9b0 241px,#530 251px,#3f0 259px,#280 263px,#170 279px,#0b0 286px,#0e0 290px,#020 306px,#060 312px,#020 330px,#070 340px,#030 344px,#020 358px,#050 386px,#010 394px,#420 412px,#840 418px,#900 420px,#7c0 424px,#210 432px,#130 436px,#4a0 442px,#520 444px,#490 446px,#0c0 452px,#2c0 456px,#3e0 460px,#110 468px,#390 474px,#380 476px,#170 480px,#120 482px,#2e0 486px,#330 488px,#170 494px,#290 500px,#1e0 508px,#2a0 516px,#1f0 522px,#2a0 526px,#1d0 532px,#240 538px,#140 552px,#180 556px,#0b0 562px,#130 566px)"></i>
<i style="background:linear-gradient(90deg,#010 1px,#020 25px,#000 31px,#040 37px,#010 45px,#060 51px,#010 57px,#080 63px,#020 69px,#090 75px,#020 81px,#090 87px,#020 91px,#0a0 97px,#010 103px,#0b0 109px,#000 115px,#090 121px,#010 129px,#0d0 137px,#020 141px,#190 147px,#190 149px,#040 153px,#1d0 159px,#1c0 161px,#010 167px,#1b0 171px,#240 173px,#180 177px,#010 181px,#240 185px,#3c0 189px,#310 191px,#190 193px,#030 195px,#400 201px,#4e0 205px,#350 209px,#070 213px,#070 215px,#370 219px,#720 223px,#b00 229px,#c90 233px,#520 249px,#410 257px,#270 263px,#290 267px,#0a0 284px,#120 288px,#070 292px,#040 304px,#080 310px,#030 314px,#020 320px,#060 338px,#020 344px,#050 378px,#000 390px,#140 400px,#270 408px,#7b0 416px,#880 418px,#7d0 422px,#5c0 426px,#100 434px,#140 436px,#410 440px,#4f0 442px,#3f0 446px,#150 450px,#100 452px,#3a0 458px,#3f0 460px,#370 462px,#120 466px,#110 468px,#360 472px,#3c0 474px,#130 480px,#2e0 486px,#1a0 494px,#290 502px,#1b0 508px,#2d0 514px,#1d0 520px,#2a0 524px,#1e0 530px,#260 536px,#1b0 540px,#200 546px,#140 550px,#1b0 556px,#0b0 560px,#170 566px)"></i>
<i style="background:linear-gradient(90deg,#010 1px,#020 25px,#000 33px,#030 39px,#000 45px,#050 51px,#010 57px,#070 63px,#020 69px,#090 75px,#020 81px,#0a0 87px,#030 93px,#0b0 97px,#0b0 99px,#020 103px,#0d0 109px,#010 115px,#0b0 121px,#010 127px,#090 133px,#0b0 137px,#010 141px,#1a0 147px,#190 149px,#030 153px,#220 159px,#1e0 161px,#030 165px,#050 167px,#200 171px,#260 173px,#210 175px,#040 179px,#060 181px,#2d0 185px,#390 187px,#380 189px,#270 191px,#030 195px,#3b0 199px,#500 201px,#550 203px,#3a0 207px,#050 213px,#550 219px,#8d0 223px,#b30 227px,#c70 233px,#550 247px,#460 255px,#260 261px,#320 265px,#2e0 267px,#160 271px,#0e0 281px,#120 286px,#050 292px,#0c0 296px,#0c0 300px,#080 308px,#030 312px,#070 332px,#010 342px,#040 346px,#020 350px,#050 362px,#010 386px,#170 404px,#6b0 414px,#7e0 418px,#780 422px,#5f0 426px,#180 432px,#0f0 434px,#440 440px,#4c0 442px,#3a0 446px,#140 450px,#0f0 452px,#320 456px,#410 458px,#410 460px,#0f0 466px,#380 472px,#350 474px,#1a0 478px,#160 480px,#2b0 486px,#1a0 494px,#2b0 502px,#1a0 508px,#2c0 512px,#1c0 518px,#2b0 524px,#1f0 528px,#270 534px,#1c0 538px,#240 544px,#150 548px,#200 554px,#0e0 558px,#1a0 564px,#150 566px)"></i>
<i style="background:linear-gradient(90deg,#000 1px,#020 9px,#000 33px,#030 41px,#000 47px,#050 53px,#010 59px,#070 65px,#020 71px,#090 77px,#020 81px,#0b0 87px,#030 93px,#0d0 99px,#030 103px,#0e0 109px,#0d0 111px,#020 115px,#0e0 121px,#0b0 123px,#000 127px,#080 131px,#0c0 135px,#050 139px,#000 141px,#190 147px,#180 149px,#030 153px,#1d0 157px,#250 159px,#200 161px,#010 165px,#190 169px,#260 173px,#1e0 175px,#010 179px,#230 183px,#350 185px,#3b0 187px,#320 189px,#1c0 191px,#050 193px,#0a0 195px,#4b0 199px,#5d0 201px,#590 203px,#440 205px,#060 211px,#110 213px,#540 217px,#750 219px,#b70 225px,#c70 229px,#c10 233px,#700 241px,#550 247px,#4d0 253px,#250 259px,#3a0 265px,#120 271px,#160 277px,#100 286px,#070 290px,#130 294px,#140 296px,#040 310px,#0a0 314px,#040 320px,#060 330px,#010 336px,#040 344px,#020 350px,#040 360px,#000 380px,#0c0 400px,#660 414px,#7e0 420px,#710 424px,#5c0 426px,#140 432px,#130 434px,#340 438px,#4b0 442px,#3a0 446px,#0f0 450px,#100 452px,#3c0 456px,#450 458px,#3c0 460px,#130 464px,#130 466px,#300 470px,#340 472px,#1a0 480px,#2c0 488px,#160 494px,#2f0 500px,#170 506px,#2b0 510px,#2c0 512px,#1c0 516px,#2b0 522px,#1f0 526px,#2a0 532px,#1b0 536px,#290 542px,#150 546px,#250 552px,#0d0 558px,#1d0 562px,#0e0 566px)"></i>
<i style="background:linear-gradient(90deg,#000 1px,#010 35px,#020 41px,#000 47px,#040 55px,#010 59px,#060 65px,#010 71px,#080 77px,#020 83px,#0a0 87px,#030 93px,#0e0 99px,#040 105px,#100 109px,#0f0 111px,#030 115px,#100 121px,#0e0 123px,#010 127px,#0e0 133px,#010 141px,#180 147px,#160 149px,#020 153px,#200 157px,#280 159px,#200 161px,#010 165px,#210 169px,#2a0 171px,#260 173px,#090 177px,#040 179px,#2b0 183px,#3a0 185px,#3a0 187px,#2a0 189px,#030 193px,#3b0 197px,#590 199px,#640 201px,#560 203px,#0a0 209px,#100 211px,#740 217px,#950 219px,#cb0 227px,#b50 233px,#6c0 241px,#510 251px,#260 257px,#3a0 265px,#180 269px,#140 271px,#180 277px,#0e0 288px,#180 294px,#080 304px,#0c0 314px,#020 320px,#030 344px,#010 348px,#030 352px,#000 372px,#060 396px,#0e0 400px,#760 416px,#830 420px,#680 424px,#150 432px,#140 434px,#4a0 440px,#520 442px,#4b0 444px,#0b0 450px,#320 454px,#410 456px,#3f0 458px,#140 464px,#2f0 472px,#170 480px,#300 486px,#2d0 488px,#150 492px,#2f0 498px,#180 504px,#2b0 510px,#1d0 514px,#290 520px,#1e0 524px,#2c0 530px,#1b0 534px,#2c0 540px,#160 546px,#270 550px,#0f0 556px,#1e0 560px,#1d0 562px,#0a0 566px)"></i>
<i style="background:linear-gradient(90deg,#010 1px,#000 19px,#020 43px,#000 49px,#040 55px,#000 61px,#060 67px,#010 73px,#070 77px,#010 83px,#0a0 89px,#030 93px,#0f0 99px,#050 105px,#120 109px,#120 111px,#050 115px,#130 121px,#100 123px,#010 127px,#110 133px,#0e0 135px,#020 139px,#030 141px,#130 145px,#170 147px,#130 149px,#010 153px,#210 157px,#290 159px,#200 161px,#020 165px,#160 167px,#290 169px,#2f0 171px,#250 173px,#040 177px,#0b0 179px,#330 183px,#3d0 185px,#370 187px,#210 189px,#080 191px,#0a0 193px,#4c0 197px,#630 199px,#640 201px,#4e0 203px,#0c0 207px,#0d0 209px,#6b0 215px,#b20 219px,#cc0 227px,#bc0 231px,#770 239px,#4e0 251px,#280 257px,#3c0 263px,#1a0 269px,#190 277px,#100 281px,#170 292px,#070 302px,#090 316px,#000 324px,#040 336px,#000 356px,#020 390px,#180 402px,#6e0 414px,#820 418px,#5e0 424px,#120 432px,#120 434px,#420 438px,#560 440px,#570 442px,#440 444px,#0f0 448px,#110 450px,#370 454px,#3c0 456px,#180 464px,#320 472px,#2f0 474px,#160 478px,#160 480px,#320 484px,#320 486px,#170 490px,#160 492px,#2e0 496px,#2c0 498px,#180 502px,#290 508px,#1c0 512px,#2a0 518px,#1c0 522px,#2e0 528px,#1c0 532px,#1b0 534px,#2f0 538px,#160 544px,#290 548px,#270 550px,#110 554px,#1f0 560px,#0e0 564px,#0d0 566px)"></i>
<i style="background:linear-gradient(90deg,#020 1px,#000 21px,#020 43px,#000 49px,#030 57px,#000 61px,#050 67px,#000 73px,#060 79px,#010 83px,#0a0 89px,#040 95px,#0f0 99px,#050 105px,#130 109px,#150 111px,#060 115px,#160 121px,#130 123px,#020 127px,#140 133px,#100 135px,#010 139px,#0e0 143px,#160 147px,#020 153px,#230 157px,#290 159px,#1e0 161px,#090 163px,#050 165px,#1c0 167px,#300 169px,#330 171px,#050 177px,#290 181px,#3c0 185px,#300 187px,#050 191px,#3d0 195px,#5c0 197px,#690 199px,#5d0 201px,#080 207px,#690 213px,#ad0 217px,#d20 221px,#b50 231px,#600 241px,#640 247px,#300 255px,#400 261px,#240 267px,#140 275px,#1a0 277px,#120 281px,#1e0 286px,#0c0 294px,#020 308px,#0f0 316px,#010 322px,#050 326px,#000 344px,#010 386px,#140 402px,#540 410px,#760 416px,#600 424px,#4e0 426px,#0c0 432px,#500 438px,#590 440px,#4e0 442px,#1b0 446px,#110 448px,#330 454px,#320 458px,#150 464px,#190 466px,#340 470px,#370 472px,#130 478px,#2f0 482px,#340 484px,#160 490px,#2a0 494px,#1b0 500px,#270 506px,#1c0 510px,#290 516px,#1c0 520px,#2e0 526px,#1b0 532px,#2d0 536px,#180 542px,#280 548px,#160 552px,#200 558px,#100 564px,#120 566px)"></i>
<i style="background:linear-gradient(90deg,#020 1px,#000 9px,#020 17px,#000 23px,#020 29px,#010 49px,#030 57px,#000 63px,#040 69px,#010 75px,#050 79px,#010 85px,#080 89px,#020 95px,#0e0 99px,#0f0 101px,#050 105px,#170 111px,#080 115px,#090 117px,#1a0 121px,#160 123px,#030 127px,#140 131px,#170 133px,#120 135px,#000 139px,#120 143px,#170 145px,#160 147px,#030 151px,#050 153px,#240 157px,#280 159px,#1b0 161px,#060 163px,#080 165px,#220 167px,#360 169px,#360 171px,#210 173px,#080 175px,#090 177px,#340 181px,#3d0 183px,#380 185px,#0f0 189px,#0a0 191px,#4f0 195px,#690 197px,#690 199px,#510 201px,#0b0 205px,#150 207px,#6a0 211px,#8d0 213px,#c20 217px,#db0 221px,#a70 233px,#5c0 239px,#560 241px,#6b0 245px,#680 247px,#370 255px,#470 259px,#260 265px,#2c0 269px,#130 275px,#1d0 277px,#170 281px,#210 286px,#0b0 290px,#0b0 296px,#010 304px,#0d0 314px,#0c0 316px,#010 320px,#0a0 324px,#000 334px,#040 340px,#010 344px,#040 354px,#000 380px,#040 386px,#090 398px,#170 402px,#5b0 410px,#740 420px,#660 424px,#4c0 426px,#0e0 430px,#0f0 432px,#430 436px,#520 438px,#4f0 440px,#1a0 446px,#160 448px,#390 456px,#360 458px,#110 464px,#320 468px,#3b0 470px,#330 472px,#120 476px,#320 482px,#180 488px,#280 494px,#1c0 498px,#260 504px,#1b0 508px,#2a0 514px,#1b0 520px,#2d0 524px,#1a0 530px,#2d0 536px,#1b0 540px,#280 546px,#180 552px,#1f0 556px,#150 566px)"></i>
<i style="background:linear-gradient(90deg,#010 1px,#000 11px,#020 19px,#000 25px,#020 31px,#000 37px,#030 43px,#010 49px,#030 79px,#010 85px,#060 89px,#010 95px,#0d0 99px,#0e0 101px,#040 105px,#180 111px,#0a0 115px,#090 117px,#1d0 121px,#1a0 123px,#050 127px,#180 131px,#1b0 133px,#010 139px,#160 143px,#1a0 145px,#160 147px,#020 151px,#250 157px,#260 159px,#170 161px,#030 163px,#0c0 165px,#270 167px,#3a0 169px,#360 171px,#1d0 173px,#040 175px,#2e0 179px,#400 181px,#3f0 183px,#310 185px,#0c0 189px,#170 191px,#5f0 195px,#700 197px,#640 199px,#190 203px,#0e0 205px,#610 209px,#8f0 211px,#c20 215px,#db0 221px,#b80 227px,#b80 231px,#530 239px,#510 241px,#670 245px,#410 255px,#4e0 259px,#2c0 263px,#270 265px,#320 269px,#140 273px,#150 275px,#200 277px,#210 284px,#0c0 288px,#0a0 294px,#030 298px,#0a0 306px,#040 310px,#060 314px,#020 318px,#0b0 322px,#0c0 324px,#020 332px,#050 338px,#010 342px,#030 354px,#010 372px,#060 384px,#040 394px,#4a0 408px,#7e0 420px,#5d0 424px,#1b0 428px,#0d0 430px,#320 434px,#4a0 438px,#3a0 442px,#140 448px,#3c0 454px,#3f0 456px,#330 458px,#100 462px,#380 468px,#360 470px,#170 474px,#180 476px,#2d0 480px,#1c0 486px,#250 500px,#1b0 506px,#290 512px,#1b0 518px,#2a0 524px,#1c0 528px,#2a0 534px,#1d0 540px,#250 546px,#150 566px)"></i>
<i style="background:linear-gradient(90deg,#000 1px,#020 7px,#000 13px,#020 19px,#000 27px,#030 33px,#000 39px,#030 45px,#010 51px,#050 89px,#000 95px,#0b0 99px,#0d0 101px,#040 105px,#180 111px,#090 117px,#200 121px,#1e0 123px,#060 127px,#1d0 131px,#200 133px,#030 139px,#1a0 143px,#1c0 145px,#030 151px,#1d0 155px,#260 157px,#230 159px,#020 163px,#2d0 167px,#3d0 169px,#350 171px,#030 175px,#3b0 179px,#4a0 181px,#400 183px,#130 187px,#110 189px,#6a0 195px,#710 197px,#590 199px,#0d0 203px,#200 205px,#860 209px,#b00 211px,#d50 215px,#d80 219px,#ab0 231px,#4e0 239px,#5e0 245px,#4b0 251px,#520 259px,#2b0 263px,#380 267px,#330 269px,#160 273px,#250 279px,#1b0 284px,#090 288px,#060 296px,#0c0 304px,#020 310px,#010 316px,#070 322px,#000 342px,#030 346px,#010 364px,#050 384px,#000 390px,#210 400px,#830 418px,#680 422px,#150 428px,#140 430px,#340 434px,#470 438px,#3b0 442px,#150 446px,#120 448px,#3a0 452px,#440 454px,#3c0 456px,#130 460px,#120 462px,#330 466px,#350 468px,#190 474px,#280 480px,#1e0 494px,#250 500px,#1b0 504px,#280 510px,#1b0 516px,#280 522px,#1e0 528px,#270 534px,#180 566px)"></i>
<i style="background:linear-gradient(90deg,#010 1px,#020 23px,#000 29px,#030 35px,#000 41px,#030 47px,#010 53px,#010 69px,#040 75px,#010 81px,#050 89px,#010 95px,#0b0 101px,#030 105px,#170 111px,#080 117px,#210 121px,#210 123px,#080 127px,#210 131px,#260 133px,#1a0 135px,#070 137px,#050 139px,#150 141px,#200 143px,#1f0 145px,#060 149px,#050 151px,#210 155px,#270 157px,#200 159px,#050 163px,#320 167px,#3e0 169px,#310 171px,#060 175px,#260 177px,#470 179px,#510 181px,#3f0 183px,#100 187px,#5b0 193px,#6e0 195px,#6a0 197px,#4a0 199px,#1e0 201px,#120 203px,#7a0 207px,#ac0 209px,#cb0 211px,#dc0 215px,#b50 227px,#8a0 233px,#4d0 239px,#560 245px,#450 251px,#580 257px,#540 259px,#300 263px,#3d0 267px,#1b0 273px,#270 279px,#0c0 286px,#090 290px,#0e0 298px,#070 304px,#080 310px,#010 314px,#050 334px,#010 342px,#010 364px,#040 376px,#010 386px,#2b0 404px,#6c0 412px,#810 416px,#6d0 420px,#160 428px,#160 430px,#480 436px,#4e0 438px,#470 440px,#0f0 446px,#410 452px,#400 454px,#130 460px,#300 466px,#1d0 472px,#250 496px,#1d0 502px,#250 508px,#1e0 514px,#260 522px,#1f0 528px,#280 534px,#1e0 540px,#260 546px,#1b0 550px,#240 556px,#150 562px,#1d0 566px)"></i>
<i style="background:linear-gradient(90deg,#020 1px,#000 5px,#020 11px,#000 17px,#020 25px,#000 29px,#030 35px,#000 41px,#030 47px,#010 53px,#020 61px,#010 69px,#040 77px,#000 81px,#060 87px,#010 93px,#0a0 101px,#020 105px,#150 111px,#140 113px,#060 117px,#210 121px,#230 123px,#080 127px,#250 131px,#2b0 133px,#1d0 135px,#080 137px,#070 139px,#1b0 141px,#270 143px,#220 145px,#040 149px,#250 155px,#270 157px,#0c0 161px,#090 163px,#370 167px,#3e0 169px,#2c0 171px,#0f0 173px,#0d0 175px,#310 177px,#510 179px,#550 181px,#3b0 183px,#180 185px,#130 187px,#520 191px,#680 193px,#6c0 195px,#5c0 197px,#150 201px,#250 203px,#a20 207px,#cd0 209px,#e10 213px,#ba0 225px,#890 229px,#7d0 233px,#4e0 239px,#5a0 243px,#3b0 251px,#5d0 257px,#360 263px,#430 267px,#210 271px,#1e0 275px,#270 279px,#0f0 284px,#080 290px,#130 292px,#150 294px,#010 302px,#0a0 308px,#020 312px,#0c0 316px,#030 326px,#090 334px,#010 342px,#020 346px,#000 354px,#020 376px,#000 384px,#0f0 396px,#700 412px,#7b0 416px,#4f0 422px,#120 428px,#170 430px,#450 434px,#520 436px,#500 438px,#3f0 440px,#120 444px,#130 446px,#380 450px,#3f0 452px,#190 458px,#180 460px,#2c0 466px,#1d0 474px,#270 480px,#1e0 488px,#240 510px,#1d0 516px,#270 522px,#1d0 528px,#290 532px,#1c0 538px,#2a0 544px,#1b0 550px,#270 554px,#150 560px,#1e0 566px)"></i>
<i style="background:linear-gradient(90deg,#020 1px,#000 7px,#020 13px,#010 31px,#030 37px,#000 43px,#040 49px,#010 55px,#030 63px,#010 69px,#050 77px,#010 81px,#080 89px,#010 93px,#0b0 99px,#0a0 101px,#010 105px,#140 111px,#120 113px,#040 117px,#200 121px,#230 123px,#080 127px,#280 131px,#300 133px,#210 135px,#090 137px,#0a0 139px,#210 141px,#2e0 143px,#260 145px,#030 149px,#210 153px,#290 155px,#250 157px,#0b0 161px,#0f0 163px,#3c0 167px,#3d0 169px,#270 171px,#0c0 173px,#170 175px,#3d0 177px,#590 179px,#550 181px,#130 185px,#1e0 187px,#470 189px,#670 191px,#700 193px,#650 195px,#1b0 201px,#c50 207px,#e70 209px,#ea0 211px,#c00 217px,#b90 223px,#790 229px,#6b0 235px,#510 239px,#650 245px,#390 251px,#3a0 253px,#5a0 257px,#3c0 263px,#490 267px,#210 271px,#2b0 273px,#200 275px,#250 279px,#100 284px,#090 288px,#150 290px,#190 292px,#040 296px,#020 298px,#020 302px,#070 306px,#040 310px,#100 314px,#040 320px,#010 326px,#060 332px,#000 358px,#020 368px,#010 384px,#110 396px,#6e0 412px,#7c0 416px,#610 420px,#150 426px,#100 428px,#390 432px,#520 436px,#480 438px,#120 444px,#380 450px,#3b0 452px,#190 458px,#2e0 466px,#1b0 472px,#270 478px,#1d0 502px,#260 508px,#1a0 514px,#290 520px,#1a0 526px,#2b0 532px,#1b0 536px,#2b0 542px,#1a0 548px,#280 552px,#170 558px,#200 562px,#1a0 566px)"></i>
<i style="background:linear-gradient(90deg,#030 1px,#000 9px,#020 17px,#000 23px,#020 29px,#000 33px,#030 39px,#000 45px,#050 51px,#000 57px,#050 63px,#010 71px,#060 77px,#010 83px,#090 87px,#0a0 89px,#010 93px,#0d0 99px,#0c0 101px,#010 105px,#130 111px,#110 113px,#030 117px,#1f0 121px,#220 123px,#060 127px,#290 131px,#330 133px,#240 135px,#0a0 137px,#0c0 139px,#270 141px,#360 143px,#2b0 145px,#030 149px,#180 151px,#2a0 153px,#2d0 155px,#0d0 161px,#3f0 167px,#3b0 169px,#0c0 173px,#490 177px,#5f0 179px,#520 181px,#120 185px,#5b0 189px,#770 191px,#740 193px,#230 199px,#2e0 201px,#a60 205px,#df0 207px,#f70 209px,#ad0 217px,#b70 221px,#720 229px,#6c0 235px,#590 239px,#7a0 245px,#3b0 253px,#500 257px,#530 259px,#3f0 263px,#4f0 267px,#230 271px,#300 273px,#230 275px,#230 279px,#0b0 286px,#1c0 290px,#0f0 292px,#010 294px,#060 298px,#010 302px,#050 304px,#030 308px,#090 314px,#030 320px,#040 324px,#000 328px,#020 332px,#000 334px,#050 340px,#000 346px,#020 352px,#010 358px,#030 370px,#000 382px,#1a0 398px,#7e0 414px,#700 418px,#100 426px,#160 428px,#3f0 432px,#4e0 436px,#420 438px,#190 442px,#130 444px,#3b0 450px,#3b0 452px,#160 458px,#300 464px,#1c0 470px,#250 476px,#1e0 490px,#270 496px,#190 502px,#290 508px,#190 514px,#2b0 518px,#180 524px,#2c0 530px,#1b0 536px,#2b0 540px,#1b0 546px,#280 552px,#1a0 556px,#220 562px,#160 566px)"></i>
<i style="background:linear-gradient(90deg,#020 1px,#030 5px,#000 13px,#030 19px,#000 25px,#030 31px,#000 35px,#040 41px,#000 47px,#060 53px,#010 59px,#070 65px,#010 71px,#070 77px,#010 83px,#0c0 89px,#030 93px,#030 95px,#100 99px,#0f0 101px,#010 105px,#110 109px,#150 111px,#020 117px,#1d0 121px,#200 123px,#140 125px,#040 127px,#280 131px,#330 133px,#260 135px,#0a0 137px,#0c0 139px,#2b0 141px,#3d0 143px,#300 145px,#100 147px,#040 149px,#200 151px,#350 153px,#320 155px,#110 159px,#120 161px,#3f0 167px,#370 169px,#110 173px,#540 177px,#620 179px,#4c0 181px,#240 183px,#180 185px,#6e0 189px,#810 191px,#720 193px,#2d0 197px,#2a0 199px,#bd0 205px,#eb0 207px,#f80 209px,#a30 215px,#9b0 217px,#a80 219px,#790 227px,#620 241px,#850 245px,#870 247px,#4a0 255px,#530 259px,#3c0 263px,#510 267px,#290 271px,#310 273px,#220 279px,#0b0 284px,#170 288px,#0f0 290px,#030 292px,#080 296px,#010 300px,#020 310px,#070 314px,#040 318px,#070 324px,#010 334px,#070 340px,#000 346px,#030 352px,#010 356px,#040 368px,#010 380px,#180 398px,#650 408px,#780 414px,#610 418px,#1a0 424px,#120 426px,#4f0 434px,#4e0 436px,#3e0 438px,#130 442px,#160 444px,#380 448px,#3d0 450px,#180 456px,#2e0 462px,#1e0 470px,#270 482px,#1b0 488px,#2b0 494px,#170 500px,#2c0 506px,#170 512px,#2a0 516px,#2a0 518px,#190 522px,#2b0 528px,#1b0 534px,#290 540px,#1d0 544px,#270 550px,#1d0 554px,#220 560px,#190 566px)"></i>
<i style="background:linear-gradient(90deg,#010 1px,#040 7px,#000 15px,#030 21px,#000 27px,#030 33px,#000 37px,#050 43px,#010 49px,#070 53px,#020 59px,#090 65px,#010 71px,#090 77px,#010 83px,#0d0 89px,#030 95px,#120 99px,#110 101px,#020 105px,#130 109px,#170 111px,#110 113px,#050 115px,#030 117px,#1e0 121px,#1f0 123px,#120 125px,#020 127px,#270 131px,#320 133px,#250 135px,#090 137px,#0c0 139px,#2e0 141px,#420 143px,#340 145px,#110 147px,#060 149px,#290 151px,#400 153px,#390 155px,#0d0 159px,#3b0 165px,#3d0 167px,#1d0 171px,#190 173px,#5d0 177px,#640 179px,#460 181px,#1e0 183px,#220 185px,#540 187px,#7f0 189px,#860 191px,#270 197px,#3a0 199px,#cd0 205px,#eb0 207px,#ee0 209px,#920 215px,#770 235px,#620 241px,#8c0 247px,#660 253px,#5e0 259px,#3b0 263px,#500 267px,#340 271px,#1b0 281px,#0a0 284px,#1d0 286px,#040 290px,#0a0 292px,#010 298px,#030 300px,#010 302px,#090 306px,#010 316px,#050 322px,#020 334px,#0a0 338px,#010 346px,#000 356px,#020 362px,#000 372px,#0e0 394px,#290 400px,#5e0 406px,#720 410px,#570 418px,#160 424px,#110 426px,#4d0 432px,#540 434px,#4b0 436px,#190 440px,#110 442px,#350 446px,#3e0 448px,#370 450px,#1b0 454px,#190 456px,#2a0 460px,#1c0 474px,#2a0 480px,#180 486px,#2f0 492px,#150 498px,#2d0 504px,#160 510px,#2a0 516px,#1a0 520px,#280 526px,#1c0 532px,#270 538px,#1f0 542px,#250 548px,#1d0 566px)"></i>
<i style="background:linear-gradient(90deg,#020 1px,#040 9px,#010 17px,#030 23px,#000 29px,#030 33px,#010 39px,#050 45px,#010 49px,#090 55px,#030 61px,#0c0 67px,#030 71px,#0d0 77px,#020 83px,#0e0 89px,#020 95px,#120 99px,#130 101px,#020 105px,#150 109px,#1b0 111px,#130 113px,#050 115px,#040 117px,#140 119px,#200 121px,#1f0 123px,#100 125px,#000 127px,#270 131px,#310 133px,#230 135px,#080 137px,#0c0 139px,#2f0 141px,#440 143px,#360 145px,#110 147px,#080 149px,#300 151px,#4b0 153px,#400 155px,#0c0 159px,#3c0 163px,#3a0 167px,#1f0 171px,#250 173px,#610 177px,#620 179px,#1c0 183px,#300 185px,#670 187px,#8b0 189px,#850 191px,#320 195px,#2b0 197px,#b20 203px,#e10 207px,#da0 209px,#8c0 215px,#720 235px,#570 241px,#540 243px,#790 249px,#600 253px,#690 261px,#400 265px,#500 267px,#3a0 271px,#3c0 273px,#280 275px,#2b0 277px,#110 284px,#1c0 286px,#060 288px,#0c0 290px,#030 296px,#0a0 304px,#080 312px,#010 320px,#050 326px,#010 332px,#050 338px,#020 342px,#060 346px,#010 356px,#000 372px,#070 390px,#5b0 406px,#710 412px,#520 418px,#0f0 424px,#4a0 430px,#540 432px,#4e0 434px,#140 440px,#390 446px,#1d0 454px,#2a0 466px,#190 472px,#2d0 478px,#2b0 480px,#160 484px,#190 486px,#300 490px,#2e0 492px,#170 496px,#2c0 502px,#180 508px,#280 514px,#1b0 520px,#240 526px,#1c0 566px)"></i>
<i style="background:linear-gradient(90deg,#040 1px,#010 5px,#050 11px,#000 19px,#040 25px,#000 31px,#020 35px,#000 39px,#050 45px,#020 51px,#0a0 55px,#040 61px,#0f0 67px,#050 73px,#100 77px,#0f0 79px,#030 83px,#110 89px,#020 95px,#130 99px,#140 101px,#020 105px,#170 109px,#1d0 111px,#160 113px,#060 115px,#050 117px,#170 119px,#240 121px,#200 123px,#000 127px,#130 129px,#290 131px,#300 133px,#200 135px,#060 137px,#0d0 139px,#300 141px,#450 143px,#370 145px,#100 147px,#0a0 149px,#360 151px,#530 153px,#460 155px,#1c0 157px,#0c0 159px,#300 161px,#4c0 163px,#4a0 165px,#260 169px,#250 171px,#620 177px,#5e0 179px,#1f0 183px,#770 187px,#930 189px,#7f0 191px,#280 195px,#360 197px,#980 201px,#bc0 203px,#d10 207px,#7a0 219px,#820 225px,#630 231px,#5f0 237px,#490 243px,#490 245px,#6d0 251px,#510 255px,#6b0 263px,#500 265px,#560 269px,#370 271px,#440 273px,#320 275px,#280 279px,#170 281px,#1b0 284px,#0e0 286px,#110 288px,#020 294px,#0b0 296px,#040 298px,#040 302px,#0c0 308px,#0c0 310px,#020 314px,#030 318px,#000 320px,#060 324px,#000 340px,#0a0 346px,#020 350px,#030 362px,#000 372px,#020 380px,#0f0 392px,#6a0 408px,#790 412px,#5d0 416px,#100 422px,#120 424px,#440 428px,#520 430px,#4e0 432px,#190 438px,#190 440px,#340 446px,#1d0 456px,#300 464px,#180 470px,#190 472px,#2f0 476px,#2f0 478px,#160 482px,#150 484px,#2d0 488px,#2f0 490px,#1a0 494px,#180 496px,#2a0 500px,#2a0 502px,#1b0 506px,#250 512px,#1d0 518px,#250 550px,#1e0 556px,#230 560px,#1a0 566px)"></i>
<i style="background:linear-gradient(90deg,#050 1px,#010 7px,#050 13px,#010 21px,#040 27px,#010 33px,#010 41px,#040 47px,#010 51px,#0b0 57px,#050 63px,#110 67px,#070 73px,#140 79px,#060 83px,#150 89px,#030 95px,#150 99px,#150 101px,#020 105px,#170 109px,#1e0 111px,#170 113px,#070 115px,#050 117px,#190 119px,#270 121px,#220 123px,#010 127px,#170 129px,#2d0 131px,#300 133px,#1d0 135px,#040 137px,#120 139px,#330 141px,#450 143px,#350 145px,#0f0 147px,#0d0 149px,#3b0 151px,#590 153px,#4a0 155px,#1c0 157px,#0e0 159px,#3b0 161px,#5b0 163px,#530 165px,#210 169px,#440 173px,#5e0 177px,#550 179px,#270 183px,#810 187px,#950 189px,#770 191px,#3f0 193px,#230 195px,#a40 201px,#c40 205px,#990 215px,#780 219px,#6b0 227px,#510 233px,#640 239px,#5a0 247px,#7e0 253px,#5c0 259px,#620 265px,#4b0 267px,#5a0 269px,#550 271px,#3b0 273px,#410 275px,#280 277px,#2f0 279px,#150 281px,#1e0 284px,#060 286px,#0e0 288px,#030 292px,#090 294px,#030 298px,#050 308px,#010 312px,#050 316px,#010 320px,#010 326px,#090 332px,#010 338px,#0d0 344px,#0d0 346px,#010 352px,#020 362px,#000 366px,#030 382px,#170 394px,#4a0 402px,#7a0 410px,#670 414px,#160 420px,#0e0 422px,#480 428px,#4d0 430px,#190 438px,#340 448px,#190 456px,#300 462px,#180 470px,#2e0 474px,#300 476px,#150 482px,#2d0 488px,#190 494px,#2a0 500px,#1b0 506px,#250 514px,#1b0 520px,#250 526px,#1d0 532px,#260 548px,#1e0 554px,#250 558px,#1d0 566px)"></i>
<i style="background:linear-gradient(90deg,#060 1px,#010 9px,#060 17px,#010 23px,#050 29px,#000 35px,#040 47px,#010 51px,#0a0 57px,#050 63px,#130 69px,#080 73px,#190 79px,#0a0 83px,#0a0 85px,#1a0 89px,#050 95px,#180 99px,#180 101px,#010 105px,#180 109px,#1f0 111px,#170 113px,#070 115px,#050 117px,#1a0 119px,#290 121px,#250 123px,#020 127px,#1b0 129px,#320 131px,#320 133px,#1b0 135px,#040 137px,#380 141px,#440 143px,#310 145px,#0e0 147px,#130 149px,#400 151px,#5c0 153px,#4b0 155px,#1b0 157px,#110 159px,#450 161px,#680 163px,#5a0 165px,#2f0 167px,#1d0 169px,#570 173px,#5e0 175px,#310 183px,#830 187px,#910 189px,#6d0 191px,#330 193px,#220 195px,#880 199px,#aa0 201px,#b60 203px,#9f0 215px,#650 221px,#590 225px,#5d0 235px,#790 241px,#590 249px,#7d0 255px,#6c0 261px,#700 267px,#410 269px,#5d0 271px,#550 273px,#3d0 275px,#2f0 279px,#150 281px,#1a0 284px,#010 290px,#060 292px,#0c0 296px,#030 298px,#080 302px,#070 306px,#010 310px,#060 314px,#050 320px,#010 324px,#0d0 330px,#0c0 332px,#010 336px,#0d0 344px,#020 350px,#000 358px,#030 384px,#1d0 394px,#610 404px,#730 410px,#590 414px,#100 420px,#130 422px,#480 428px,#4a0 430px,#180 438px,#360 446px,#350 448px,#190 454px,#2f0 462px,#170 468px,#300 474px,#160 482px,#2c0 488px,#170 494px,#2d0 500px,#170 506px,#2a0 512px,#170 518px,#290 524px,#190 530px,#270 536px,#1c0 540px,#280 546px,#1d0 552px,#260 556px,#1b0 562px,#220 566px)"></i>
<i style="background:linear-gradient(90deg,#040 1px,#060 5px,#020 11px,#070 19px,#020 25px,#060 31px,#010 37px,#040 45px,#010 51px,#0a0 59px,#040 63px,#130 69px,#0a0 75px,#1b0 79px,#0a0 85px,#1f0 89px,#1d0 91px,#060 95px,#1e0 99px,#1d0 101px,#010 105px,#1b0 109px,#200 111px,#170 113px,#060 115px,#060 117px,#1b0 119px,#2a0 121px,#260 123px,#030 127px,#1e0 129px,#370 131px,#360 133px,#050 137px,#3f0 141px,#460 143px,#2d0 145px,#0d0 147px,#1b0 149px,#460 151px,#5d0 153px,#490 155px,#1a0 157px,#170 159px,#4d0 161px,#710 163px,#600 165px,#2d0 167px,#1d0 169px,#470 171px,#690 173px,#670 175px,#3f0 179px,#390 181px,#3f0 183px,#7e0 187px,#850 189px,#620 191px,#2b0 193px,#220 195px,#900 199px,#ae0 201px,#b30 203px,#960 215px,#670 219px,#4f0 223px,#710 233px,#680 243px,#480 253px,#640 259px,#600 265px,#710 269px,#420 277px,#1f0 281px,#030 290px,#0d0 294px,#070 296px,#080 304px,#010 310px,#0b0 316px,#020 322px,#0c0 330px,#020 336px,#090 340px,#010 350px,#030 354px,#000 360px,#020 378px,#090 386px,#2a0 396px,#670 404px,#720 408px,#620 412px,#180 418px,#100 420px,#400 426px,#480 428px,#460 430px,#1c0 436px,#1b0 438px,#330 446px,#1b0 454px,#300 460px,#2d0 462px,#160 468px,#330 474px,#150 480px,#2f0 486px,#2e0 488px,#160 492px,#140 494px,#2f0 498px,#310 500px,#180 504px,#150 506px,#2c0 510px,#2d0 512px,#170 516px,#160 518px,#2a0 522px,#190 528px,#280 534px,#1c0 540px,#260 544px,#1d0 550px,#260 554px,#1d0 560px,#220 566px)"></i>
<i style="background:linear-gradient(90deg,#020 1px,#070 7px,#020 13px,#090 21px,#030 27px,#090 33px,#020 39px,#070 45px,#010 51px,#090 59px,#040 65px,#120 69px,#080 75px,#1b0 79px,#1d0 81px,#0b0 85px,#220 89px,#230 91px,#080 95px,#230 99px,#240 101px,#030 105px,#200 109px,#230 111px,#170 113px,#050 115px,#080 117px,#1d0 119px,#2a0 121px,#250 123px,#050 127px,#200 129px,#3a0 131px,#380 133px,#060 137px,#470 141px,#490 143px,#0d0 147px,#4f0 151px,#5e0 153px,#440 155px,#190 157px,#1f0 159px,#550 161px,#760 163px,#610 165px,#2b0 167px,#1e0 169px,#510 171px,#770 173px,#6e0 175px,#340 179px,#730 187px,#740 189px,#550 191px,#270 193px,#210 195px,#900 199px,#b20 201px,#b60 203px,#a00 207px,#9a0 213px,#550 219px,#4c0 221px,#730 231px,#4f0 241px,#7b0 249px,#590 259px,#7d0 267px,#4f0 271px,#700 273px,#650 275px,#380 279px,#350 281px,#160 284px,#090 286px,#050 290px,#080 292px,#030 294px,#070 300px,#010 308px,#0e0 314px,#0d0 316px,#010 320px,#080 326px,#010 332px,#0b0 338px,#000 346px,#020 352px,#000 358px,#010 376px,#150 390px,#2e0 396px,#730 404px,#7a0 406px,#750 408px,#520 412px,#110 418px,#3b0 424px,#420 426px,#3a0 430px,#1f0 436px,#300 446px,#1b0 454px,#350 460px,#120 466px,#150 468px,#340 472px,#360 474px,#110 480px,#310 484px,#360 486px,#0e0 492px,#2d0 496px,#360 498px,#2f0 500px,#110 504px,#320 510px,#130 516px,#2b0 522px,#190 528px,#260 532px,#1d0 538px,#250 552px,#1e0 566px)"></i>
<i style="background:linear-gradient(90deg,#020 1px,#080 9px,#030 15px,#0a0 21px,#050 29px,#0b0 35px,#040 41px,#0a0 47px,#020 53px,#0a0 59px,#030 65px,#0f0 69px,#110 71px,#060 75px,#1d0 81px,#0b0 85px,#280 91px,#0b0 95px,#270 99px,#2c0 101px,#1a0 103px,#050 105px,#260 109px,#2a0 111px,#190 113px,#030 115px,#220 119px,#2c0 121px,#0a0 127px,#3b0 131px,#390 133px,#090 137px,#4e0 141px,#4e0 143px,#0e0 147px,#590 151px,#600 153px,#3e0 155px,#180 157px,#2b0 159px,#5e0 161px,#770 163px,#5d0 165px,#290 167px,#230 169px,#590 171px,#800 173px,#730 175px,#2a0 179px,#5b0 183px,#660 187px,#5e0 189px,#470 191px,#260 193px,#210 195px,#890 199px,#b50 201px,#c30 203px,#910 209px,#880 213px,#480 219px,#610 227px,#530 237px,#6e0 249px,#5e0 267px,#690 271px,#640 277px,#430 281px,#1a0 284px,#0b0 286px,#0a0 292px,#020 296px,#090 310px,#020 316px,#0a0 322px,#0a0 324px,#020 328px,#0a0 336px,#000 356px,#020 376px,#0e0 388px,#780 404px,#6a0 408px,#160 416px,#170 418px,#330 422px,#3d0 426px,#1f0 436px,#360 444px,#330 446px,#140 452px,#3b0 458px,#380 460px,#150 464px,#100 466px,#310 470px,#390 472px,#310 474px,#100 478px,#3a0 484px,#340 486px,#0f0 490px,#130 492px,#340 496px,#330 498px,#140 502px,#140 504px,#310 508px,#300 510px,#160 514px,#160 516px,#280 520px,#1a0 526px,#240 532px,#1e0 566px)"></i>
<i style="background:linear-gradient(90deg,#040 1px,#020 5px,#080 11px,#040 17px,#0c0 23px,#060 29px,#0f0 35px,#070 41px,#0f0 47px,#040 53px,#0d0 59px,#030 65px,#100 71px,#050 75px,#1c0 81px,#0b0 85px,#0c0 87px,#1f0 89px,#290 91px,#200 93px,#0d0 95px,#100 97px,#280 99px,#330 101px,#220 103px,#080 105px,#110 107px,#2d0 109px,#340 111px,#1e0 113px,#030 115px,#2b0 119px,#320 121px,#0d0 125px,#100 127px,#3b0 131px,#370 133px,#0e0 137px,#510 141px,#510 143px,#100 147px,#640 151px,#640 153px,#170 157px,#680 161px,#760 163px,#560 165px,#260 167px,#290 169px,#5f0 171px,#820 173px,#720 175px,#220 179px,#630 183px,#6b0 185px,#270 193px,#250 195px,#b40 201px,#d00 203px,#c80 205px,#6f0 211px,#420 219px,#500 225px,#3c0 233px,#590 241px,#320 249px,#5c0 257px,#410 265px,#6b0 275px,#6f0 277px,#570 279px,#6b0 281px,#1b0 284px,#090 286px,#100 288px,#030 290px,#080 292px,#040 298px,#090 304px,#010 312px,#0c0 318px,#010 326px,#0d0 332px,#060 340px,#080 346px,#000 354px,#010 360px,#000 370px,#050 380px,#130 388px,#5b0 398px,#700 404px,#590 408px,#1b0 414px,#160 416px,#330 422px,#3d0 426px,#190 436px,#3b0 442px,#3d0 444px,#110 450px,#140 452px,#390 456px,#3f0 458px,#330 460px,#0f0 464px,#390 470px,#360 472px,#120 476px,#100 478px,#370 482px,#3a0 484px,#0e0 490px,#2d0 494px,#350 496px,#2d0 498px,#100 502px,#330 508px,#2e0 510px,#140 514px,#2b0 520px,#180 526px,#280 534px,#1b0 540px,#260 546px,#1d0 552px,#220 566px)"></i>
<i style="background:linear-gradient(90deg,#050 1px,#020 5px,#090 13px,#050 19px,#0e0 25px,#080 31px,#120 37px,#0a0 43px,#130 49px,#090 53px,#120 59px,#050 65px,#100 69px,#110 71px,#040 75px,#190 81px,#080 87px,#270 91px,#220 93px,#0e0 95px,#0b0 97px,#250 99px,#360 101px,#290 103px,#0b0 105px,#0f0 107px,#300 109px,#3d0 111px,#270 113px,#040 115px,#350 119px,#3c0 121px,#0b0 125px,#320 129px,#3e0 131px,#160 137px,#520 141px,#500 143px,#140 147px,#6b0 151px,#670 153px,#180 157px,#730 161px,#760 163px,#220 167px,#320 169px,#630 171px,#7e0 173px,#6a0 175px,#1d0 179px,#630 183px,#6d0 185px,#2b0 191px,#2f0 195px,#480 197px,#ae0 201px,#d20 203px,#cf0 205px,#580 211px,#260 229px,#3c0 237px,#2b0 243px,#380 249px,#2a0 255px,#300 267px,#200 271px,#280 273px,#190 279px,#080 284px,#0f0 286px,#050 288px,#060 290px,#010 292px,#040 296px,#080 316px,#010 324px,#0b0 332px,#030 338px,#090 346px,#010 352px,#010 370px,#0b0 384px,#220 390px,#540 396px,#6a0 400px,#5d0 406px,#180 414px,#160 416px,#370 422px,#410 426px,#160 434px,#3f0 442px,#390 444px,#160 448px,#120 450px,#3a0 456px,#370 458px,#150 462px,#130 464px,#360 468px,#390 470px,#2e0 472px,#0d0 476px,#3b0 482px,#380 484px,#110 488px,#110 490px,#350 494px,#360 496px,#0e0 502px,#310 506px,#380 508px,#100 514px,#2c0 518px,#320 520px,#110 526px,#2d0 532px,#170 538px,#290 544px,#1b0 550px,#240 554px,#230 566px)"></i>
<i style="background:linear-gradient(90deg,#050 1px,#020 7px,#090 15px,#060 21px,#0f0 27px,#0a0 33px,#140 39px,#0c0 43px,#180 49px,#0c0 55px,#180 59px,#160 61px,#080 65px,#160 71px,#050 75px,#070 77px,#190 81px,#150 83px,#040 87px,#240 91px,#220 93px,#060 97px,#200 99px,#350 101px,#2e0 103px,#0f0 105px,#0a0 107px,#300 109px,#450 111px,#300 113px,#080 115px,#140 117px,#3d0 119px,#480 121px,#2a0 123px,#080 125px,#400 129px,#450 131px,#1a0 135px,#200 137px,#510 141px,#4c0 143px,#1b0 147px,#6d0 151px,#690 153px,#190 157px,#7c0 161px,#770 163px,#1c0 167px,#690 171px,#770 173px,#5d0 175px,#300 177px,#1a0 179px,#5d0 183px,#6b0 185px,#5a0 187px,#230 191px,#270 193px,#a40 201px,#c50 203px,#c60 205px,#540 211px,#3a0 219px,#1a0 225px,#190 227px,#2c0 233px,#1c0 239px,#3a0 245px,#300 251px,#480 255px,#440 257px,#1c0 261px,#200 265px,#140 267px,#1f0 269px,#120 273px,#1a0 277px,#070 279px,#070 286px,#000 288px,#050 290px,#010 298px,#060 308px,#010 314px,#030 316px,#050 330px,#030 336px,#0a0 344px,#020 350px,#000 358px,#040 380px,#0b0 384px,#5e0 396px,#6f0 400px,#5c0 404px,#180 414px,#3f0 424px,#3e0 426px,#1a0 432px,#170 434px,#390 440px,#3b0 442px,#150 448px,#190 450px,#350 454px,#380 456px,#2f0 458px,#100 462px,#3d0 468px,#3b0 470px,#120 474px,#0b0 476px,#350 480px,#3f0 482px,#360 484px,#0b0 488px,#320 492px,#400 494px,#380 496px,#0a0 500px,#100 502px,#2a0 504px,#3c0 506px,#3b0 508px,#0f0 512px,#110 514px,#380 518px,#360 520px,#110 524px,#100 526px,#2f0 530px,#2f0 532px,#160 536px,#150 538px,#2a0 542px,#1b0 548px,#250 554px,#200 566px)"></i>
<i style="background:linear-gradient(90deg,#040 1px,#020 9px,#080 15px,#050 21px,#0f0 27px,#0a0 33px,#160 39px,#0e0 45px,#1b0 51px,#0f0 55px,#1e0 61px,#0c0 65px,#1d0 71px,#080 75px,#080 77px,#1c0 81px,#170 83px,#030 87px,#220 91px,#200 93px,#020 97px,#1b0 99px,#320 101px,#2f0 103px,#120 105px,#060 107px,#2c0 109px,#470 111px,#380 113px,#0d0 115px,#110 117px,#420 119px,#540 121px,#340 123px,#080 125px,#4d0 129px,#520 131px,#160 135px,#4a0 139px,#530 141px,#2b0 145px,#260 147px,#680 151px,#640 153px,#1b0 157px,#7d0 161px,#770 163px,#160 167px,#6d0 171px,#740 173px,#510 175px,#250 177px,#180 179px,#560 183px,#650 185px,#5c0 187px,#250 191px,#260 193px,#870 199px,#ab0 203px,#a80 205px,#650 211px,#5a0 215px,#220 221px,#1c0 223px,#2f0 229px,#1f0 235px,#370 241px,#240 247px,#280 251px,#140 257px,#1c0 261px,#170 271px,#070 279px,#0c0 281px,#090 286px,#040 288px,#090 294px,#040 298px,#020 312px,#060 318px,#020 322px,#010 334px,#090 346px,#020 350px,#000 358px,#030 368px,#020 374px,#0c0 382px,#3f0 390px,#670 398px,#5d0 402px,#1d0 412px,#3b0 424px,#2f0 428px,#190 432px,#1b0 434px,#3a0 440px,#380 442px,#130 448px,#3d0 454px,#390 456px,#130 460px,#0d0 462px,#3b0 466px,#460 468px,#3a0 470px,#090 474px,#420 480px,#400 482px,#2b0 484px,#0f0 486px,#0c0 488px,#290 490px,#430 492px,#460 494px,#310 496px,#120 498px,#080 500px,#390 504px,#410 506px,#340 508px,#0a0 512px,#350 516px,#3e0 518px,#320 520px,#0c0 524px,#2a0 528px,#320 530px,#120 536px,#2c0 542px,#1a0 548px,#250 554px,#200 566px)"></i>
<i style="background:linear-gradient(90deg,#020 1px,#020 11px,#090 17px,#050 23px,#100 29px,#0b0 35px,#170 41px,#0f0 45px,#1e0 51px,#120 57px,#230 61px,#0f0 67px,#240 71px,#090 77px,#230 81px,#1c0 83px,#0a0 85px,#040 87px,#160 89px,#230 91px,#200 93px,#020 97px,#190 99px,#2f0 101px,#2e0 103px,#040 107px,#280 109px,#460 111px,#3d0 113px,#120 115px,#0e0 117px,#420 119px,#5c0 121px,#3e0 123px,#0b0 125px,#230 127px,#580 129px,#600 131px,#130 135px,#5a0 139px,#590 141px,#280 145px,#620 151px,#5a0 153px,#210 157px,#770 161px,#730 163px,#110 167px,#6e0 171px,#730 173px,#4c0 175px,#1b0 177px,#140 179px,#550 183px,#630 185px,#5c0 187px,#2c0 191px,#290 193px,#740 197px,#910 199px,#990 201px,#790 207px,#6c0 215px,#2e0 219px,#220 221px,#350 227px,#210 233px,#310 239px,#170 243px,#140 249px,#080 251px,#100 253px,#2a0 255px,#330 257px,#150 261px,#0e0 265px,#160 267px,#0a0 269px,#130 271px,#0d0 273px,#120 275px,#000 279px,#050 281px,#010 288px,#0e0 292px,#060 296px,#0c0 302px,#020 308px,#040 318px,#000 322px,#020 330px,#000 334px,#060 338px,#070 346px,#000 356px,#040 368px,#010 374px,#060 378px,#520 392px,#5d0 398px,#530 402px,#1a0 412px,#3b0 422px,#350 426px,#170 432px,#3c0 438px,#3d0 440px,#320 442px,#100 446px,#160 448px,#420 452px,#450 454px,#340 456px,#070 460px,#470 466px,#470 468px,#2f0 470px,#100 472px,#0b0 474px,#280 476px,#420 478px,#480 480px,#370 482px,#040 486px,#3b0 490px,#4c0 492px,#410 494px,#070 498px,#130 500px,#300 502px,#420 504px,#3e0 506px,#0d0 510px,#0d0 512px,#270 514px,#3d0 516px,#3e0 518px,#130 522px,#0d0 524px,#310 528px,#350 530px,#0f0 536px,#290 540px,#2f0 542px,#160 548px,#290 554px,#1c0 560px,#230 566px)"></i>
<i style="background:linear-gradient(90deg,#020 1px,#010 11px,#080 17px,#060 23px,#100 31px,#0a0 35px,#180 41px,#0f0 47px,#1f0 51px,#110 57px,#240 61px,#250 63px,#100 67px,#280 71px,#270 73px,#0a0 77px,#290 81px,#250 83px,#040 87px,#190 89px,#2a0 91px,#240 93px,#040 97px,#1c0 99px,#300 101px,#2d0 103px,#070 107px,#270 109px,#440 111px,#3d0 113px,#160 115px,#0d0 117px,#3f0 119px,#5e0 121px,#450 123px,#100 125px,#210 127px,#5d0 129px,#6b0 131px,#3d0 133px,#100 135px,#690 139px,#640 141px,#380 143px,#220 145px,#5b0 149px,#5e0 151px,#300 155px,#290 157px,#690 161px,#660 163px,#100 167px,#650 171px,#720 173px,#500 175px,#1c0 177px,#0e0 179px,#370 181px,#5f0 183px,#6d0 185px,#600 187px,#310 191px,#310 193px,#890 199px,#900 201px,#6e0 207px,#750 213px,#6b0 215px,#320 219px,#2e0 225px,#1a0 231px,#2a0 235px,#140 241px,#1d0 245px,#110 249px,#290 253px,#0f0 261px,#0f0 263px,#1b0 265px,#0e0 267px,#100 271px,#030 275px,#030 279px,#0b0 281px,#010 284px,#040 286px,#030 288px,#0b0 290px,#050 292px,#0f0 294px,#050 298px,#0a0 304px,#030 308px,#030 316px,#010 320px,#030 324px,#010 334px,#070 340px,#060 346px,#000 352px,#030 360px,#010 372px,#0a0 378px,#4c0 390px,#5c0 394px,#4c0 402px,#180 410px,#160 412px,#400 420px,#370 424px,#140 430px,#3e0 436px,#420 438px,#380 440px,#120 444px,#0f0 446px,#3b0 450px,#480 452px,#400 454px,#0d0 458px,#0e0 460px,#3f0 464px,#470 466px,#3a0 468px,#070 472px,#3a0 476px,#4b0 478px,#430 480px,#270 482px,#0a0 484px,#0b0 486px,#290 488px,#440 490px,#4a0 492px,#370 494px,#070 498px,#3e0 502px,#470 504px,#390 506px,#050 510px,#330 514px,#450 516px,#3f0 518px,#0b0 522px,#120 524px,#2c0 526px,#3d0 528px,#380 530px,#0e0 534px,#0f0 536px,#320 540px,#320 542px,#150 546px,#150 548px,#2b0 552px,#1c0 558px,#220 566px)"></i>
<i style="background:linear-gradient(90deg,#030 1px,#020 11px,#0a0 19px,#060 25px,#100 31px,#0b0 37px,#180 43px,#0f0 47px,#210 53px,#120 57px,#290 63px,#110 67px,#170 69px,#290 71px,#2e0 73px,#0b0 77px,#2e0 81px,#2e0 83px,#040 87px,#1c0 89px,#310 91px,#2b0 93px,#100 95px,#050 97px,#210 99px,#360 101px,#2e0 103px,#130 105px,#0b0 107px,#2a0 109px,#430 111px,#3c0 113px,#190 115px,#110 117px,#3e0 119px,#5d0 121px,#480 123px,#160 125px,#200 127px,#5d0 129px,#710 131px,#450 133px,#110 135px,#720 139px,#6f0 141px,#390 143px,#1b0 145px,#450 147px,#680 149px,#5f0 151px,#270 155px,#590 161px,#530 163px,#120 167px,#260 169px,#540 171px,#6c0 173px,#580 175px,#080 179px,#6b0 183px,#810 185px,#6d0 187px,#2d0 191px,#730 199px,#790 207px,#6e0 211px,#430 217px,#310 223px,#140 227px,#130 229px,#260 233px,#170 239px,#260 243px,#0d0 247px,#260 251px,#140 255px,#130 257px,#070 259px,#270 263px,#0d0 265px,#0d0 269px,#050 271px,#080 273px,#020 275px,#020 279px,#0b0 281px,#020 284px,#0a0 290px,#030 294px,#0a0 296px,#0b0 298px,#000 310px,#010 318px,#050 324px,#020 328px,#070 338px,#010 350px,#040 360px,#000 370px,#340 384px,#5c0 394px,#3f0 402px,#170 410px,#410 420px,#3c0 422px,#140 428px,#150 430px,#360 434px,#420 436px,#400 438px,#0d0 444px,#410 450px,#440 452px,#340 454px,#0a0 458px,#360 462px,#450 464px,#400 466px,#2a0 468px,#0e0 470px,#0a0 472px,#450 476px,#4e0 478px,#3b0 480px,#030 484px,#370 488px,#4b0 490px,#470 492px,#2c0 494px,#0a0 496px,#0d0 498px,#310 500px,#4d0 502px,#4e0 504px,#330 506px,#100 508px,#050 510px,#240 512px,#430 514px,#4d0 516px,#3b0 518px,#050 522px,#3e0 526px,#470 528px,#350 530px,#070 534px,#300 538px,#370 540px,#110 546px,#270 550px,#2b0 552px,#1c0 558px,#210 566px)"></i>
<i style="background:linear-gradient(90deg,#030 1px,#070 7px,#040 13px,#0b0 19px,#070 25px,#110 33px,#0b0 37px,#190 43px,#100 49px,#210 53px,#110 59px,#2a0 63px,#240 65px,#130 67px,#120 69px,#260 71px,#320 73px,#250 75px,#0d0 77px,#140 79px,#2f0 81px,#360 83px,#1f0 85px,#040 87px,#380 91px,#360 93px,#040 97px,#260 99px,#3f0 101px,#340 103px,#130 105px,#0f0 107px,#320 109px,#480 111px,#3b0 113px,#1a0 115px,#180 117px,#410 119px,#5b0 121px,#470 123px,#1b0 125px,#230 127px,#5b0 129px,#700 131px,#480 133px,#150 135px,#720 139px,#740 141px,#160 145px,#450 147px,#6f0 149px,#630 151px,#340 153px,#1c0 155px,#4d0 159px,#500 161px,#410 163px,#150 167px,#210 169px,#600 173px,#5b0 175px,#350 177px,#0d0 179px,#2d0 181px,#6e0 183px,#920 185px,#7f0 187px,#220 191px,#500 195px,#5f0 197px,#640 201px,#860 207px,#800 209px,#410 215px,#420 221px,#220 225px,#2f0 231px,#160 237px,#1b0 241px,#0a0 245px,#250 249px,#070 257px,#1e0 261px,#040 265px,#0c0 267px,#040 269px,#060 275px,#010 277px,#0a0 281px,#020 286px,#0b0 288px,#0e0 290px,#060 292px,#020 296px,#0a0 300px,#0b0 308px,#020 312px,#080 322px,#030 328px,#050 340px,#000 348px,#030 360px,#010 366px,#020 370px,#420 386px,#560 394px,#1a0 410px,#3f0 420px,#390 422px,#120 428px,#3b0 434px,#430 436px,#3b0 438px,#110 442px,#110 444px,#3a0 448px,#430 450px,#3d0 452px,#0e0 456px,#100 458px,#450 462px,#490 464px,#380 466px,#050 470px,#370 474px,#500 476px,#4f0 478px,#320 480px,#0e0 482px,#0a0 484px,#2c0 486px,#4b0 488px,#530 490px,#410 492px,#020 496px,#490 500px,#5d0 502px,#4e0 504px,#260 506px,#040 508px,#3e0 512px,#530 514px,#4c0 516px,#2b0 518px,#080 520px,#110 522px,#350 524px,#4b0 526px,#450 528px,#0b0 532px,#100 534px,#270 536px,#350 538px,#320 540px,#140 544px,#140 546px,#260 550px,#1b0 562px,#280 566px)"></i>
<i style="background:linear-gradient(90deg,#040 1px,#090 7px,#060 15px,#0e0 21px,#080 27px,#130 33px,#0c0 39px,#190 43px,#0e0 49px,#200 53px,#210 55px,#0e0 59px,#290 63px,#280 65px,#0e0 69px,#330 73px,#2b0 75px,#100 77px,#0f0 79px,#2e0 81px,#3c0 83px,#270 85px,#060 87px,#3c0 91px,#400 93px,#020 97px,#290 99px,#480 101px,#3d0 103px,#160 105px,#110 107px,#3a0 109px,#500 111px,#3d0 113px,#1a0 115px,#1f0 117px,#480 119px,#5c0 121px,#440 123px,#1e0 125px,#2a0 127px,#5a0 129px,#6c0 131px,#470 133px,#190 135px,#6e0 139px,#720 141px,#140 145px,#6e0 149px,#650 151px,#120 155px,#500 159px,#500 161px,#1d0 165px,#160 167px,#570 173px,#590 175px,#3e0 177px,#190 179px,#290 181px,#680 183px,#940 185px,#890 187px,#500 189px,#190 191px,#1e0 193px,#430 195px,#5c0 197px,#7d0 207px,#780 209px,#4f0 213px,#580 219px,#360 223px,#310 225px,#3e0 229px,#120 235px,#140 239px,#090 241px,#090 243px,#1b0 245px,#240 247px,#080 251px,#080 257px,#1b0 259px,#1e0 261px,#080 263px,#0a0 267px,#020 269px,#050 271px,#050 275px,#010 277px,#090 279px,#0b0 281px,#030 286px,#0f0 290px,#040 292px,#050 296px,#000 298px,#070 302px,#0e0 308px,#060 312px,#0b0 318px,#030 328px,#060 332px,#010 342px,#040 354px,#000 364px,#0a0 372px,#490 386px,#520 394px,#480 398px,#170 408px,#3b0 416px,#3d0 420px,#120 426px,#150 428px,#390 432px,#410 436px,#0c0 442px,#380 446px,#470 448px,#440 450px,#310 452px,#060 456px,#3e0 460px,#510 462px,#4a0 464px,#2c0 466px,#0b0 468px,#080 470px,#280 472px,#480 474px,#570 476px,#480 478px,#230 480px,#010 482px,#470 486px,#5e0 488px,#540 490px,#310 492px,#0a0 494px,#0e0 496px,#390 498px,#5d0 500px,#620 502px,#410 504px,#120 506px,#090 508px,#320 510px,#540 512px,#580 514px,#3d0 516px,#020 520px,#220 522px,#430 524px,#4b0 526px,#380 528px,#090 532px,#2e0 536px,#330 538px,#150 544px,#2b0 554px,#140 560px,#310 566px)"></i>
<i style="background:linear-gradient(90deg,#060 1px,#0d0 9px,#080 15px,#100 21px,#0b0 29px,#150 33px,#0c0 39px,#1b0 45px,#0e0 49px,#230 55px,#0e0 59px,#270 63px,#2b0 65px,#0b0 69px,#330 73px,#310 75px,#090 79px,#2a0 81px,#400 83px,#300 85px,#090 87px,#140 89px,#3e0 91px,#480 93px,#260 95px,#020 97px,#290 99px,#500 101px,#470 103px,#1b0 105px,#110 107px,#400 109px,#590 111px,#420 113px,#1a0 115px,#240 117px,#500 119px,#5f0 121px,#430 123px,#1f0 125px,#300 127px,#5d0 129px,#680 131px,#1c0 135px,#680 139px,#6a0 141px,#130 145px,#640 149px,#600 151px,#0c0 155px,#4c0 159px,#530 161px,#3b0 163px,#1b0 165px,#140 167px,#4a0 171px,#5b0 173px,#570 175px,#230 179px,#2f0 181px,#5e0 183px,#840 185px,#7f0 187px,#520 189px,#1d0 191px,#0d0 193px,#4e0 197px,#6d0 199px,#810 203px,#4c0 211px,#600 217px,#5c0 219px,#380 223px,#400 227px,#160 233px,#1e0 237px,#0c0 241px,#1c0 245px,#0d0 249px,#130 251px,#0f0 253px,#040 255px,#180 257px,#260 259px,#030 263px,#080 265px,#020 267px,#060 269px,#020 271px,#090 273px,#030 277px,#0d0 279px,#0c0 281px,#030 284px,#090 290px,#030 292px,#0a0 296px,#010 300px,#090 308px,#040 314px,#0c0 318px,#020 328px,#040 354px,#010 364px,#2a0 378px,#4f0 388px,#400 398px,#140 406px,#160 408px,#3d0 414px,#420 416px,#320 420px,#130 424px,#120 426px,#390 430px,#450 432px,#420 434px,#330 436px,#0b0 440px,#150 442px,#470 446px,#4b0 448px,#3a0 450px,#070 454px,#100 456px,#4a0 460px,#520 462px,#3e0 464px,#040 468px,#3e0 472px,#540 474px,#510 476px,#350 478px,#0f0 480px,#0a0 482px,#350 484px,#5b0 486px,#630 488px,#470 490px,#060 494px,#4f0 498px,#640 500px,#550 502px,#2b0 504px,#040 506px,#480 510px,#5c0 512px,#4e0 514px,#290 516px,#060 518px,#0f0 520px,#2f0 522px,#450 524px,#420 526px,#110 530px,#0e0 532px,#2e0 536px,#310 538px,#110 546px,#320 552px,#2f0 554px,#100 558px,#160 560px,#360 564px,#310 566px)"></i>
<i style="background:linear-gradient(90deg,#0a0 1px,#110 11px,#0b0 17px,#130 23px,#0c0 29px,#170 35px,#0e0 41px,#1d0 45px,#0e0 51px,#240 55px,#1f0 57px,#0f0 59px,#0f0 61px,#230 63px,#2e0 65px,#210 67px,#0a0 69px,#150 71px,#310 73px,#370 75px,#050 79px,#260 81px,#440 83px,#390 85px,#0f0 87px,#0f0 89px,#3f0 91px,#510 93px,#2f0 95px,#030 97px,#290 99px,#560 101px,#500 103px,#200 105px,#120 107px,#450 109px,#610 111px,#480 113px,#1b0 115px,#280 117px,#560 119px,#630 121px,#1f0 125px,#5f0 129px,#640 131px,#1c0 135px,#610 139px,#610 141px,#110 145px,#590 149px,#580 151px,#310 153px,#0a0 155px,#450 159px,#550 161px,#440 163px,#210 165px,#140 167px,#560 171px,#650 173px,#590 175px,#260 179px,#340 181px,#700 185px,#6b0 187px,#4a0 189px,#090 193px,#160 195px,#6d0 199px,#8d0 201px,#920 203px,#450 209px,#3d0 211px,#530 217px,#3a0 221px,#390 227px,#1c0 231px,#2b0 235px,#220 237px,#0f0 239px,#0d0 241px,#170 243px,#160 251px,#040 253px,#220 257px,#190 259px,#060 261px,#060 263px,#010 265px,#060 267px,#020 269px,#0d0 275px,#050 277px,#0d0 279px,#020 284px,#070 286px,#070 288px,#010 292px,#090 296px,#040 302px,#000 304px,#040 308px,#010 314px,#080 318px,#010 330px,#060 344px,#010 358px,#060 366px,#370 380px,#4c0 390px,#380 398px,#130 406px,#430 414px,#430 416px,#0e0 424px,#440 430px,#470 432px,#390 434px,#0d0 438px,#0c0 440px,#3c0 444px,#4b0 446px,#450 448px,#0f0 452px,#080 454px,#3c0 458px,#4d0 460px,#480 462px,#2e0 464px,#0c0 466px,#0b0 468px,#300 470px,#4f0 472px,#570 474px,#440 476px,#200 478px,#020 480px,#490 484px,#670 486px,#5f0 488px,#360 490px,#090 492px,#140 494px,#400 496px,#600 498px,#600 500px,#420 502px,#150 504px,#070 506px,#300 508px,#560 510px,#5c0 512px,#400 514px,#020 518px,#1d0 520px,#380 522px,#430 524px,#390 526px,#0e0 530px,#110 532px,#320 536px,#360 538px,#2e0 540px,#0e0 544px,#0f0 546px,#330 550px,#380 552px,#0c0 558px,#350 562px,#380 564px,#2a0 566px)"></i>
<i style="background:linear-gradient(90deg,#110 1px,#160 11px,#0f0 19px,#170 25px,#0f0 31px,#190 35px,#0c0 41px,#1c0 45px,#1c0 47px,#0b0 51px,#230 55px,#220 57px,#090 61px,#2e0 65px,#260 67px,#0d0 69px,#0d0 71px,#2d0 73px,#3b0 75px,#240 77px,#030 79px,#460 83px,#430 85px,#170 87px,#0a0 89px,#3f0 91px,#590 93px,#3a0 95px,#070 97px,#5d0 101px,#5b0 103px,#260 105px,#120 107px,#490 109px,#690 111px,#4d0 113px,#1c0 115px,#2b0 117px,#5b0 119px,#650 121px,#1f0 125px,#5d0 129px,#5f0 131px,#1a0 135px,#590 139px,#590 141px,#0e0 145px,#4f0 149px,#540 151px,#330 153px,#0c0 155px,#180 157px,#430 159px,#5a0 161px,#4d0 163px,#290 165px,#180 167px,#5d0 171px,#6a0 173px,#590 175px,#230 179px,#5f0 185px,#5d0 187px,#490 189px,#110 193px,#140 195px,#6c0 199px,#890 201px,#870 203px,#4a0 209px,#4d0 215px,#330 219px,#410 225px,#270 229px,#2f0 233px,#290 235px,#080 239px,#190 243px,#160 249px,#020 253px,#0e0 255px,#140 257px,#040 265px,#070 267px,#040 271px,#0d0 273px,#100 275px,#030 277px,#080 279px,#020 284px,#050 288px,#010 290px,#040 292px,#080 302px,#020 306px,#050 308px,#010 316px,#050 320px,#010 326px,#0a0 338px,#010 358px,#0a0 366px,#3c0 380px,#4c0 390px,#390 396px,#140 404px,#450 414px,#400 416px,#0d0 422px,#130 424px,#3a0 428px,#460 430px,#430 432px,#0a0 438px,#420 444px,#480 446px,#3c0 448px,#080 452px,#480 458px,#4d0 460px,#3d0 462px,#030 466px,#450 470px,#5f0 472px,#580 474px,#350 476px,#0e0 478px,#0d0 480px,#350 482px,#5d0 484px,#6a0 486px,#520 488px,#060 492px,#2e0 494px,#5a0 496px,#690 498px,#540 500px,#070 504px,#190 506px,#420 508px,#5c0 510px,#540 512px,#2f0 514px,#0a0 516px,#0d0 518px,#2a0 520px,#3e0 522px,#3f0 524px,#2f0 526px,#0b0 530px,#370 536px,#3a0 538px,#2d0 540px,#0a0 544px,#2e0 548px,#3b0 550px,#350 552px,#0c0 556px,#110 558px,#290 560px,#380 562px,#350 564px,#230 566px)"></i>
<i style="background:linear-gradient(90deg,#190 1px,#150 7px,#1c0 13px,#130 19px,#1c0 25px,#100 31px,#1c0 37px,#0d0 41px,#1f0 47px,#090 51px,#200 55px,#240 57px,#050 61px,#2b0 65px,#2b0 67px,#060 71px,#270 73px,#3e0 75px,#2d0 77px,#060 79px,#180 81px,#450 83px,#4c0 85px,#050 89px,#3c0 91px,#610 93px,#460 95px,#0c0 97px,#250 99px,#620 101px,#660 103px,#2e0 105px,#110 107px,#4d0 109px,#720 111px,#520 113px,#1b0 115px,#2d0 117px,#600 119px,#670 121px,#1d0 125px,#5b0 129px,#570 131px,#190 135px,#4e0 139px,#4f0 141px,#2e0 143px,#0d0 145px,#1e0 147px,#450 149px,#520 151px,#3b0 153px,#120 155px,#140 157px,#440 159px,#650 161px,#5a0 163px,#2f0 165px,#1b0 167px,#640 171px,#690 173px,#1f0 179px,#550 187px,#530 189px,#3f0 191px,#1f0 193px,#140 195px,#6a0 199px,#830 201px,#560 207px,#4e0 213px,#390 217px,#340 219px,#4f0 223px,#2b0 229px,#2c0 233px,#090 237px,#180 241px,#0a0 245px,#150 249px,#010 253px,#0d0 257px,#030 263px,#0b0 267px,#030 271px,#0f0 273px,#0d0 275px,#010 277px,#060 279px,#010 286px,#020 290px,#070 292px,#040 298px,#0b0 302px,#030 306px,#090 310px,#020 316px,#080 322px,#030 326px,#0c0 338px,#010 352px,#040 360px,#410 382px,#490 390px,#3f0 394px,#110 402px,#3f0 410px,#400 414px,#330 416px,#0f0 420px,#110 422px,#360 426px,#440 430px,#390 432px,#0d0 436px,#100 438px,#3e0 442px,#490 444px,#440 446px,#2f0 448px,#110 450px,#070 452px,#470 456px,#570 458px,#4d0 460px,#2e0 462px,#0b0 464px,#090 466px,#320 468px,#5c0 470px,#690 472px,#500 474px,#040 478px,#520 482px,#6b0 484px,#620 486px,#3b0 488px,#0c0 490px,#160 492px,#490 494px,#6c0 496px,#660 498px,#3f0 500px,#110 502px,#090 504px,#2d0 506px,#4e0 508px,#570 510px,#420 512px,#040 516px,#330 520px,#3f0 522px,#390 524px,#090 530px,#3c0 536px,#3d0 538px,#2b0 540px,#100 542px,#0a0 544px,#3a0 548px,#400 550px,#300 552px,#070 556px,#300 560px,#390 562px,#1e0 566px)"></i>
<i style="background:linear-gradient(90deg,#210 1px,#1b0 7px,#230 15px,#190 21px,#220 27px,#150 31px,#220 37px,#0f0 43px,#220 47px,#1a0 49px,#0b0 51px,#0b0 53px,#1d0 55px,#250 57px,#190 59px,#040 61px,#280 65px,#2d0 67px,#170 69px,#010 71px,#200 73px,#3c0 75px,#340 77px,#0e0 79px,#100 81px,#400 83px,#510 85px,#2d0 87px,#040 89px,#350 91px,#640 93px,#530 95px,#160 97px,#1f0 99px,#630 101px,#720 103px,#0e0 107px,#4c0 109px,#7a0 111px,#5b0 113px,#1b0 115px,#2b0 117px,#650 119px,#6b0 121px,#170 125px,#5a0 129px,#4f0 131px,#160 135px,#420 139px,#420 141px,#100 145px,#170 147px,#390 149px,#500 151px,#460 153px,#200 155px,#110 157px,#410 159px,#6e0 161px,#6a0 163px,#170 167px,#690 171px,#6a0 173px,#220 177px,#170 179px,#560 189px,#4e0 191px,#180 195px,#280 197px,#510 199px,#6e0 201px,#780 205px,#680 209px,#2a0 215px,#250 217px,#470 223px,#2d0 227px,#2e0 231px,#100 237px,#150 239px,#120 241px,#060 243px,#180 247px,#160 249px,#020 253px,#080 255px,#070 263px,#0e0 267px,#050 269px,#040 271px,#0b0 273px,#060 277px,#090 279px,#010 284px,#070 292px,#030 298px,#0c0 302px,#040 306px,#090 310px,#020 314px,#080 320px,#060 326px,#0c0 332px,#010 352px,#070 360px,#2c0 374px,#470 386px,#420 392px,#100 400px,#120 402px,#3f0 408px,#440 410px,#310 414px,#120 418px,#100 420px,#330 424px,#420 428px,#390 430px,#130 434px,#0b0 436px,#3a0 440px,#4a0 442px,#490 444px,#360 446px,#040 450px,#3c0 454px,#590 456px,#5b0 458px,#3f0 460px,#050 464px,#4d0 468px,#670 470px,#600 472px,#390 474px,#0c0 476px,#160 478px,#450 480px,#660 482px,#670 484px,#480 486px,#1c0 488px,#080 490px,#590 494px,#680 496px,#500 498px,#030 502px,#3a0 506px,#4b0 508px,#450 510px,#110 514px,#090 516px,#340 520px,#3e0 522px,#380 524px,#070 530px,#340 534px,#440 536px,#3f0 538px,#240 540px,#080 542px,#120 544px,#320 546px,#470 548px,#410 550px,#0b0 554px,#0b0 556px,#220 558px,#350 560px,#370 562px,#190 566px)"></i>
<i style="background:linear-gradient(90deg,#270 1px,#210 9px,#2a0 17px,#1f0 21px,#2a0 27px,#180 33px,#280 37px,#250 39px,#0f0 43px,#260 47px,#220 49px,#080 53px,#1b0 55px,#280 57px,#1e0 59px,#060 61px,#0b0 63px,#260 65px,#2f0 67px,#1b0 69px,#020 71px,#3a0 75px,#380 77px,#150 79px,#0c0 81px,#390 83px,#520 85px,#370 87px,#0b0 89px,#620 93px,#5d0 95px,#220 97px,#190 99px,#5e0 101px,#790 103px,#460 105px,#0d0 107px,#450 109px,#7d0 111px,#660 113px,#1e0 115px,#230 117px,#650 119px,#710 121px,#0e0 125px,#360 127px,#5b0 129px,#4d0 131px,#210 133px,#0f0 135px,#2a0 137px,#3e0 139px,#3a0 141px,#140 145px,#190 147px,#4a0 151px,#4a0 153px,#170 157px,#6b0 161px,#720 163px,#440 165px,#140 167px,#610 171px,#6b0 173px,#4b0 175px,#1e0 177px,#090 179px,#370 183px,#510 187px,#490 191px,#1a0 197px,#800 205px,#910 207px,#860 209px,#240 215px,#200 217px,#2f0 221px,#240 225px,#330 231px,#1a0 235px,#140 239px,#050 243px,#130 245px,#190 247px,#010 251px,#040 253px,#020 257px,#0c0 259px,#0e0 261px,#080 263px,#0a0 267px,#030 269px,#050 273px,#020 275px,#0a0 277px,#0c0 279px,#000 284px,#070 288px,#020 296px,#0a0 302px,#050 306px,#070 310px,#020 314px,#0a0 318px,#080 326px,#0e0 332px,#030 352px,#4d0 386px,#380 392px,#110 398px,#100 400px,#380 406px,#430 410px,#0d0 418px,#3b0 424px,#440 426px,#2d0 430px,#090 434px,#110 436px,#460 440px,#500 442px,#430 444px,#260 446px,#080 448px,#090 450px,#4e0 454px,#5f0 456px,#510 458px,#2a0 460px,#040 462px,#160 464px,#400 466px,#5f0 468px,#620 470px,#480 472px,#040 476px,#2d0 478px,#5a0 480px,#6a0 482px,#530 484px,#040 488px,#3d0 492px,#580 494px,#550 496px,#360 498px,#0f0 500px,#080 502px,#250 504px,#3c0 506px,#410 508px,#360 510px,#0d0 514px,#0a0 516px,#350 520px,#440 522px,#3e0 524px,#260 526px,#090 528px,#0b0 530px,#290 532px,#440 534px,#4c0 536px,#390 538px,#030 542px,#210 544px,#430 546px,#4d0 548px,#3a0 550px,#050 554px,#2b0 558px,#350 560px,#300 562px,#160 566px)"></i>
<i style="background:linear-gradient(90deg,#280 1px,#260 11px,#320 17px,#240 23px,#320 29px,#1e0 33px,#300 39px,#130 43px,#190 45px,#2b0 47px,#2d0 49px,#070 53px,#2f0 57px,#270 59px,#0b0 61px,#090 63px,#280 65px,#350 67px,#200 69px,#050 71px,#3b0 75px,#3a0 77px,#1b0 79px,#100 81px,#370 83px,#500 85px,#3c0 87px,#140 89px,#290 91px,#5b0 93px,#5e0 95px,#2d0 97px,#170 99px,#520 101px,#750 103px,#4f0 105px,#120 107px,#760 111px,#6c0 113px,#270 115px,#170 117px,#590 119px,#720 121px,#440 123px,#090 125px,#580 129px,#540 131px,#060 135px,#260 137px,#450 139px,#440 141px,#130 145px,#3f0 149px,#4c0 151px,#460 153px,#250 157px,#5a0 161px,#650 163px,#460 165px,#190 167px,#1b0 169px,#440 171px,#5c0 173px,#530 175px,#330 177px,#100 179px,#100 181px,#380 183px,#5e0 185px,#690 187px,#260 193px,#190 197px,#1f0 199px,#720 205px,#850 207px,#7c0 209px,#460 213px,#3a0 215px,#210 223px,#200 225px,#3a0 229px,#360 231px,#1b0 235px,#120 239px,#070 241px,#100 245px,#060 249px,#080 253px,#040 255px,#0f0 259px,#020 263px,#050 265px,#010 269px,#020 275px,#090 277px,#0a0 279px,#020 284px,#0a0 288px,#020 292px,#070 304px,#010 312px,#0a0 318px,#070 322px,#0c0 332px,#030 346px,#070 354px,#3d0 378px,#4b0 386px,#120 396px,#120 398px,#3d0 406px,#3b0 410px,#0e0 416px,#100 418px,#420 424px,#460 426px,#3b0 428px,#0d0 432px,#0a0 434px,#3b0 438px,#500 440px,#510 442px,#390 444px,#040 448px,#430 452px,#5a0 454px,#5a0 456px,#3e0 458px,#150 460px,#070 462px,#300 464px,#580 466px,#640 468px,#520 470px,#2c0 472px,#080 474px,#150 476px,#400 478px,#600 480px,#5e0 482px,#3c0 484px,#110 486px,#070 488px,#260 490px,#430 492px,#4d0 494px,#400 496px,#090 500px,#0f0 502px,#290 504px,#3d0 506px,#400 508px,#330 510px,#080 514px,#0b0 516px,#410 520px,#4c0 522px,#3e0 524px,#030 528px,#3f0 532px,#510 534px,#470 536px,#280 538px,#070 540px,#0e0 542px,#300 544px,#480 546px,#450 548px,#100 552px,#0c0 554px,#2c0 558px,#300 560px,#160 566px)"></i>
<i style="background:linear-gradient(90deg,#250 1px,#2f0 7px,#290 13px,#370 19px,#280 25px,#380 29px,#1f0 35px,#380 39px,#160 45px,#2c0 47px,#390 49px,#270 51px,#0a0 53px,#360 57px,#360 59px,#060 63px,#2c0 65px,#400 67px,#2a0 69px,#070 71px,#420 75px,#410 77px,#1e0 79px,#150 81px,#3b0 83px,#520 85px,#3d0 87px,#1b0 89px,#2c0 91px,#560 93px,#5a0 95px,#1c0 99px,#480 101px,#6b0 103px,#510 105px,#1a0 107px,#2c0 109px,#650 111px,#680 113px,#0d0 117px,#450 119px,#690 121px,#4c0 123px,#0f0 125px,#170 127px,#4c0 129px,#5b0 131px,#370 133px,#070 135px,#1b0 137px,#4b0 139px,#580 141px,#380 143px,#110 145px,#510 149px,#5b0 151px,#2b0 155px,#2d0 157px,#4d0 161px,#4c0 163px,#110 169px,#430 173px,#520 175px,#480 177px,#0e0 181px,#5e0 185px,#730 187px,#600 189px,#190 193px,#0e0 195px,#130 197px,#6b0 205px,#730 207px,#4b0 215px,#170 221px,#120 223px,#2f0 229px,#1c0 233px,#1e0 237px,#080 243px,#060 247px,#0d0 251px,#060 255px,#080 259px,#030 261px,#050 265px,#010 269px,#030 271px,#000 275px,#050 281px,#030 286px,#090 288px,#080 290px,#010 292px,#070 296px,#020 302px,#060 306px,#010 312px,#090 318px,#050 322px,#0b0 334px,#030 346px,#160 364px,#4a0 380px,#440 386px,#110 394px,#100 396px,#340 402px,#3b0 406px,#100 416px,#3d0 422px,#460 424px,#420 426px,#2f0 428px,#050 432px,#370 436px,#4e0 438px,#550 440px,#470 442px,#250 444px,#040 446px,#140 448px,#3d0 450px,#5c0 452px,#600 454px,#4a0 456px,#240 458px,#030 460px,#4a0 464px,#670 466px,#600 468px,#3b0 470px,#110 472px,#070 474px,#2a0 476px,#4e0 478px,#5c0 480px,#4c0 482px,#250 484px,#030 486px,#340 490px,#460 492px,#430 494px,#300 496px,#060 500px,#2e0 504px,#420 506px,#440 508px,#320 510px,#030 514px,#350 518px,#4b0 520px,#4b0 522px,#320 524px,#0d0 526px,#0a0 528px,#300 530px,#4e0 532px,#500 534px,#370 536px,#020 540px,#1b0 542px,#360 544px,#410 546px,#380 548px,#100 552px,#110 554px,#2b0 558px,#310 560px,#2e0 562px,#120 566px)"></i>
<i style="background:linear-gradient(90deg,#200 1px,#2d0 7px,#290 15px,#360 19px,#270 25px,#3c0 31px,#210 35px,#3d0 41px,#150 45px,#410 49px,#380 51px,#150 53px,#120 55px,#390 57px,#460 59px,#250 61px,#020 63px,#2b0 65px,#4e0 67px,#3c0 69px,#0c0 71px,#1c0 73px,#4c0 75px,#500 77px,#250 79px,#150 81px,#430 83px,#5b0 85px,#410 87px,#1d0 89px,#590 93px,#570 95px,#310 97px,#220 99px,#460 101px,#5f0 103px,#490 105px,#1e0 107px,#270 109px,#510 111px,#590 113px,#0b0 117px,#540 121px,#4a0 123px,#1c0 125px,#080 127px,#360 129px,#570 131px,#490 133px,#190 135px,#0e0 137px,#460 139px,#690 141px,#510 143px,#1b0 145px,#200 147px,#580 149px,#6d0 151px,#4d0 153px,#210 155px,#250 157px,#420 159px,#4c0 161px,#3f0 163px,#170 167px,#130 169px,#4c0 175px,#4e0 177px,#190 181px,#250 183px,#4c0 185px,#610 187px,#580 189px,#130 195px,#130 197px,#4e0 203px,#6b0 213px,#650 215px,#1d0 221px,#180 223px,#160 231px,#250 237px,#0c0 241px,#050 247px,#0c0 251px,#030 257px,#090 263px,#020 269px,#020 279px,#040 281px,#020 286px,#070 288px,#060 290px,#000 292px,#080 296px,#010 302px,#040 306px,#020 312px,#060 318px,#030 322px,#0b0 334px,#040 346px,#170 364px,#2e0 370px,#4b0 380px,#350 386px,#110 394px,#380 402px,#3b0 406px,#0d0 414px,#3c0 420px,#420 424px,#330 426px,#070 430px,#120 432px,#330 434px,#4e0 436px,#570 438px,#4a0 440px,#2d0 442px,#0d0 444px,#0a0 446px,#300 448px,#560 450px,#640 452px,#530 454px,#0a0 458px,#100 460px,#360 462px,#590 464px,#630 466px,#4b0 468px,#030 472px,#3d0 476px,#500 478px,#4b0 480px,#320 482px,#120 484px,#070 486px,#3a0 490px,#430 492px,#3a0 494px,#0e0 498px,#070 500px,#320 504px,#440 506px,#420 508px,#2b0 510px,#0d0 512px,#090 514px,#260 516px,#420 518px,#4c0 520px,#3f0 522px,#1f0 524px,#030 526px,#3b0 530px,#500 532px,#470 534px,#0a0 538px,#0a0 540px,#210 542px,#340 544px,#3a0 546px,#310 548px,#100 552px,#0f0 554px,#330 558px,#3b0 560px,#330 562px,#090 566px)"></i>
<i style="background:linear-gradient(90deg,#1b0 1px,#2b0 9px,#230 15px,#360 21px,#230 27px,#3c0 31px,#380 33px,#1d0 37px,#430 41px,#350 43px,#170 45px,#1e0 47px,#410 49px,#480 51px,#090 55px,#350 57px,#540 59px,#3a0 61px,#060 63px,#580 67px,#510 69px,#180 71px,#150 73px,#530 75px,#620 77px,#110 81px,#460 83px,#690 85px,#4a0 87px,#1a0 89px,#600 93px,#590 95px,#2c0 97px,#220 99px,#480 101px,#580 103px,#3f0 105px,#1c0 107px,#250 109px,#440 111px,#480 113px,#0d0 117px,#3f0 121px,#420 123px,#240 125px,#060 127px,#4d0 131px,#530 133px,#0a0 137px,#3b0 139px,#6c0 141px,#630 143px,#2a0 145px,#170 147px,#4f0 149px,#700 151px,#560 153px,#200 155px,#140 157px,#350 159px,#480 161px,#400 163px,#140 167px,#130 169px,#510 175px,#4f0 177px,#1d0 181px,#1e0 183px,#4c0 187px,#4f0 189px,#170 197px,#3e0 201px,#3f0 207px,#670 213px,#640 215px,#3d0 219px,#2f0 223px,#0f0 229px,#110 231px,#260 235px,#220 237px,#0b0 241px,#0a0 245px,#050 247px,#090 253px,#040 257px,#0a0 265px,#010 271px,#090 275px,#080 277px,#000 284px,#050 288px,#000 292px,#060 296px,#010 304px,#020 322px,#0c0 330px,#020 340px,#050 348px,#0e0 358px,#3d0 372px,#450 378px,#3e0 382px,#140 392px,#400 404px,#2a0 408px,#0a0 412px,#0d0 414px,#390 418px,#4b0 420px,#4c0 422px,#3c0 424px,#090 428px,#080 430px,#480 434px,#5b0 436px,#530 438px,#360 440px,#020 444px,#460 448px,#5f0 450px,#5b0 452px,#3a0 454px,#110 456px,#050 458px,#260 460px,#470 462px,#570 464px,#4e0 466px,#2d0 468px,#0a0 470px,#0c0 472px,#2c0 474px,#440 476px,#460 478px,#360 480px,#080 484px,#0e0 486px,#390 490px,#3f0 492px,#340 494px,#0b0 498px,#0a0 500px,#380 504px,#450 506px,#3d0 508px,#220 510px,#050 512px,#130 514px,#360 516px,#4d0 518px,#4a0 520px,#300 522px,#0f0 524px,#040 526px,#220 528px,#410 530px,#4c0 532px,#3d0 534px,#080 538px,#360 544px,#2e0 548px,#0b0 552px,#0f0 554px,#3d0 558px,#410 560px,#300 562px,#060 566px)"></i>
<i style="background:linear-gradient(90deg,#190 1px,#280 11px,#1f0 17px,#310 23px,#1d0 27px,#3a0 33px,#170 37px,#400 41px,#3f0 43px,#1e0 45px,#110 47px,#380 49px,#500 51px,#350 53px,#070 55px,#580 59px,#4f0 61px,#150 63px,#170 65px,#580 67px,#650 69px,#0c0 73px,#4f0 75px,#720 77px,#470 79px,#0f0 81px,#400 83px,#720 85px,#5a0 87px,#1c0 89px,#2c0 91px,#630 93px,#610 95px,#2d0 97px,#190 99px,#450 101px,#590 103px,#3b0 105px,#140 107px,#200 109px,#3f0 111px,#410 113px,#0c0 117px,#370 121px,#3e0 123px,#290 125px,#0e0 127px,#200 129px,#480 131px,#550 133px,#370 135px,#140 137px,#650 141px,#640 143px,#130 147px,#3e0 149px,#610 151px,#530 153px,#090 157px,#3e0 161px,#460 163px,#160 169px,#460 173px,#520 175px,#4b0 177px,#1c0 181px,#130 183px,#4c0 189px,#580 191px,#4f0 193px,#130 197px,#1a0 199px,#320 201px,#410 203px,#570 211px,#3e0 217px,#360 223px,#130 227px,#0e0 229px,#130 235px,#0d0 239px,#140 243px,#040 247px,#020 249px,#090 253px,#040 259px,#080 267px,#000 271px,#0d0 275px,#0d0 277px,#010 281px,#050 288px,#010 294px,#040 302px,#000 306px,#010 320px,#0a0 328px,#010 340px,#120 358px,#420 374px,#370 382px,#120 390px,#130 392px,#390 400px,#3a0 404px,#2f0 406px,#0c0 410px,#0c0 412px,#340 416px,#500 420px,#450 422px,#0e0 426px,#060 428px,#3e0 432px,#560 434px,#590 436px,#440 438px,#030 442px,#380 446px,#520 448px,#590 450px,#460 452px,#030 456px,#380 460px,#4c0 462px,#4b0 464px,#360 466px,#050 470px,#320 474px,#420 476px,#3e0 478px,#080 484px,#390 490px,#400 492px,#340 494px,#070 498px,#440 504px,#460 506px,#330 508px,#040 512px,#230 514px,#450 516px,#520 518px,#410 520px,#040 524px,#2d0 528px,#410 530px,#420 532px,#090 538px,#2d0 542px,#390 544px,#380 546px,#290 548px,#070 552px,#2f0 556px,#420 558px,#3f0 560px,#0c0 564px,#0d0 566px)"></i>
<i style="background:linear-gradient(90deg,#1a0 1px,#190 5px,#250 11px,#190 17px,#2e0 23px,#170 29px,#370 33px,#2e0 35px,#140 37px,#160 39px,#370 41px,#430 43px,#280 45px,#070 47px,#510 51px,#430 53px,#0f0 55px,#190 57px,#540 59px,#5e0 61px,#0a0 65px,#4f0 67px,#710 69px,#430 71px,#090 73px,#440 75px,#790 77px,#5b0 79px,#150 81px,#320 83px,#720 85px,#680 87px,#240 89px,#1e0 91px,#5c0 93px,#670 95px,#0d0 99px,#390 101px,#570 103px,#3f0 105px,#100 107px,#150 109px,#390 111px,#420 113px,#2a0 115px,#0b0 117px,#170 119px,#380 121px,#450 123px,#310 125px,#150 127px,#240 129px,#4c0 131px,#590 133px,#1b0 137px,#5c0 141px,#5e0 143px,#100 147px,#4d0 151px,#4c0 153px,#2c0 155px,#0a0 157px,#120 159px,#370 161px,#500 163px,#4a0 165px,#190 169px,#490 173px,#4c0 175px,#130 183px,#150 185px,#5a0 191px,#5c0 193px,#420 195px,#060 199px,#600 207px,#6b0 209px,#3f0 215px,#480 221px,#090 237px,#160 243px,#020 247px,#070 251px,#020 263px,#080 267px,#000 271px,#0c0 275px,#030 286px,#040 290px,#000 294px,#050 316px,#010 320px,#080 330px,#020 336px,#010 342px,#2c0 364px,#400 374px,#2e0 382px,#0f0 390px,#3d0 398px,#410 400px,#300 404px,#0e0 408px,#0a0 410px,#340 414px,#4c0 418px,#460 420px,#310 422px,#030 426px,#3b0 430px,#510 432px,#570 434px,#480 436px,#290 438px,#070 440px,#0d0 442px,#300 444px,#4d0 446px,#560 448px,#490 450px,#2b0 452px,#0b0 454px,#090 456px,#290 458px,#450 460px,#4c0 462px,#3d0 464px,#0a0 468px,#090 470px,#350 474px,#400 476px,#3a0 478px,#110 482px,#090 484px,#2e0 488px,#3f0 490px,#400 492px,#2e0 494px,#110 496px,#060 498px,#410 502px,#4d0 504px,#3f0 506px,#210 508px,#040 510px,#0f0 512px,#320 514px,#4b0 516px,#4b0 518px,#310 520px,#100 522px,#070 524px,#330 528px,#3b0 530px,#350 532px,#110 536px,#0c0 538px,#300 542px,#3d0 544px,#390 546px,#0e0 550px,#070 552px,#360 556px,#420 558px,#390 560px,#090 564px,#140 566px)"></i>
<i style="background:linear-gradient(90deg,#1e0 1px,#1a0 7px,#270 13px,#160 19px,#2b0 23px,#2b0 25px,#100 29px,#340 33px,#320 35px,#0c0 39px,#2d0 41px,#440 43px,#310 45px,#070 47px,#4d0 51px,#4e0 53px,#1b0 55px,#0e0 57px,#4c0 59px,#660 61px,#380 63px,#080 65px,#440 67px,#740 69px,#540 71px,#110 73px,#740 77px,#670 79px,#210 81px,#230 83px,#660 85px,#6d0 87px,#300 89px,#110 91px,#4a0 93px,#630 95px,#3c0 97px,#090 99px,#4d0 103px,#440 105px,#1a0 107px,#080 109px,#2d0 111px,#460 113px,#390 115px,#140 117px,#130 119px,#3c0 121px,#520 123px,#3e0 125px,#1b0 127px,#270 129px,#500 131px,#5c0 133px,#1b0 137px,#2b0 139px,#4f0 141px,#540 143px,#320 145px,#0d0 147px,#190 149px,#3a0 151px,#4a0 153px,#3c0 155px,#0b0 159px,#320 161px,#5b0 163px,#5d0 165px,#140 169px,#460 173px,#4c0 175px,#130 181px,#160 183px,#330 187px,#470 191px,#380 195px,#120 199px,#0b0 201px,#190 203px,#540 207px,#600 209px,#280 225px,#2d0 229px,#0d0 235px,#030 247px,#050 249px,#010 253px,#0c0 257px,#0d0 259px,#010 263px,#0a0 267px,#000 271px,#080 275px,#040 279px,#060 284px,#010 286px,#050 290px,#000 294px,#040 298px,#010 302px,#010 308px,#090 314px,#030 320px,#090 330px,#020 336px,#0e0 352px,#350 366px,#3f0 374px,#360 378px,#110 388px,#430 398px,#340 402px,#0e0 406px,#070 408px,#460 414px,#4f0 416px,#320 420px,#050 424px,#4d0 430px,#540 432px,#470 434px,#0f0 438px,#060 440px,#420 444px,#520 446px,#4a0 448px,#050 454px,#340 458px,#450 460px,#420 462px,#090 468px,#350 474px,#3b0 476px,#330 478px,#0c0 482px,#0f0 484px,#3a0 488px,#410 490px,#370 492px,#060 496px,#4a0 502px,#480 504px,#2f0 506px,#0f0 508px,#060 510px,#370 514px,#420 516px,#390 518px,#0d0 522px,#0f0 524px,#310 528px,#360 530px,#2f0 532px,#0f0 536px,#0a0 538px,#350 542px,#430 544px,#3b0 546px,#070 550px,#0f0 552px,#2a0 554px,#3e0 556px,#3f0 558px,#090 564px,#1b0 566px)"></i>
<i style="background:linear-gradient(90deg,#220 1px,#1a0 7px,#270 15px,#150 19px,#2f0 25px,#0e0 29px,#170 31px,#320 33px,#380 35px,#050 39px,#260 41px,#460 43px,#3a0 45px,#0d0 47px,#150 49px,#4a0 51px,#560 53px,#090 57px,#450 59px,#6a0 61px,#460 63px,#0d0 65px,#710 69px,#5f0 71px,#1c0 73px,#2a0 75px,#6a0 77px,#6b0 79px,#2b0 81px,#180 83px,#550 85px,#680 87px,#380 89px,#090 91px,#350 93px,#580 95px,#410 97px,#0f0 99px,#130 101px,#3d0 103px,#480 105px,#290 107px,#050 109px,#480 113px,#490 115px,#230 117px,#120 119px,#3d0 121px,#5c0 123px,#490 125px,#210 127px,#260 129px,#4d0 131px,#590 133px,#3d0 135px,#190 137px,#200 139px,#3d0 141px,#450 143px,#310 145px,#130 147px,#0a0 149px,#460 153px,#4c0 155px,#310 157px,#0f0 159px,#270 161px,#580 163px,#670 165px,#460 167px,#150 169px,#100 171px,#320 173px,#480 175px,#4a0 177px,#390 179px,#100 183px,#410 187px,#4b0 189px,#270 195px,#170 201px,#1b0 203px,#430 207px,#4f0 209px,#5f0 215px,#200 223px,#270 227px,#190 233px,#1e0 237px,#050 243px,#040 253px,#140 257px,#070 263px,#0c0 267px,#020 271px,#080 273px,#080 275px,#020 277px,#080 281px,#050 284px,#000 286px,#060 288px,#090 290px,#000 294px,#070 298px,#000 308px,#080 314px,#040 318px,#0b0 324px,#010 336px,#3c0 370px,#380 376px,#0e0 386px,#390 394px,#3f0 398px,#360 400px,#050 406px,#420 412px,#510 414px,#4e0 416px,#3a0 418px,#040 422px,#0a0 424px,#440 428px,#540 430px,#4e0 432px,#330 434px,#020 438px,#320 442px,#470 444px,#4a0 446px,#380 448px,#070 452px,#350 458px,#3b0 460px,#340 462px,#120 466px,#0e0 468px,#2a0 472px,#360 476px,#2c0 478px,#090 482px,#310 486px,#430 488px,#400 490px,#050 496px,#3b0 500px,#480 502px,#3c0 504px,#080 508px,#360 514px,#370 516px,#0e0 522px,#120 524px,#330 528px,#3a0 530px,#310 532px,#080 536px,#0b0 538px,#3f0 542px,#470 544px,#360 546px,#050 550px,#370 554px,#410 556px,#360 558px,#0b0 562px,#0d0 564px,#1f0 566px)"></i>
<i style="background:linear-gradient(90deg,#200 1px,#180 9px,#2a0 15px,#140 21px,#330 25px,#2b0 27px,#120 29px,#100 31px,#300 33px,#400 35px,#290 37px,#040 39px,#4a0 43px,#470 45px,#170 47px,#100 49px,#4a0 51px,#600 53px,#340 55px,#0a0 57px,#420 59px,#6e0 61px,#510 63px,#150 65px,#330 67px,#6e0 69px,#640 71px,#240 73px,#210 75px,#5e0 77px,#680 79px,#0f0 83px,#420 85px,#5e0 87px,#3b0 89px,#090 91px,#480 95px,#440 97px,#070 101px,#2f0 103px,#4b0 105px,#3a0 107px,#100 109px,#1a0 111px,#4b0 113px,#580 115px,#130 119px,#3c0 121px,#610 123px,#4f0 125px,#220 127px,#200 129px,#460 131px,#510 133px,#360 135px,#140 137px,#160 139px,#2e0 141px,#390 143px,#310 145px,#100 149px,#410 153px,#4e0 155px,#3c0 157px,#1d0 159px,#1e0 161px,#400 163px,#540 165px,#450 167px,#080 171px,#4f0 177px,#520 179px,#380 181px,#170 183px,#170 185px,#310 187px,#410 189px,#1a0 203px,#260 207px,#5e0 213px,#680 215px,#3b0 221px,#190 231px,#210 237px,#080 243px,#020 253px,#0e0 257px,#0a0 261px,#120 265px,#030 269px,#120 273px,#100 275px,#020 279px,#060 281px,#020 286px,#0a0 288px,#0e0 290px,#020 294px,#070 298px,#010 306px,#030 314px,#010 318px,#060 324px,#010 336px,#2e0 360px,#3c0 368px,#2d0 376px,#0d0 384px,#420 394px,#360 398px,#070 404px,#3e0 410px,#4b0 414px,#3d0 416px,#090 420px,#0a0 422px,#3c0 426px,#4d0 428px,#4d0 430px,#3b0 432px,#060 436px,#3b0 442px,#430 444px,#3b0 446px,#120 450px,#0c0 452px,#2a0 456px,#340 460px,#2c0 462px,#100 466px,#0f0 468px,#330 472px,#3c0 474px,#360 476px,#0d0 480px,#090 482px,#3e0 486px,#480 488px,#3a0 490px,#050 494px,#3e0 500px,#3f0 502px,#0a0 508px,#2c0 512px,#360 514px,#270 518px,#0b0 522px,#120 524px,#3b0 528px,#3f0 530px,#2f0 532px,#060 536px,#330 540px,#420 542px,#3c0 544px,#0b0 548px,#0e0 550px,#270 552px,#390 554px,#3a0 556px,#0d0 562px,#100 564px,#1d0 566px)"></i>
<i style="background:linear-gradient(90deg,#1a0 1px,#1d0 5px,#140 11px,#280 15px,#290 17px,#0f0 21px,#330 25px,#350 27px,#080 31px,#2b0 33px,#480 35px,#370 37px,#0a0 39px,#190 41px,#4e0 43px,#560 45px,#240 47px,#0c0 49px,#4a0 51px,#6b0 53px,#430 55px,#0d0 57px,#3e0 59px,#720 61px,#5c0 63px,#1b0 65px,#2c0 67px,#690 69px,#670 71px,#290 73px,#170 75px,#500 77px,#630 79px,#350 81px,#080 83px,#2f0 85px,#510 87px,#3f0 89px,#100 91px,#0f0 93px,#3a0 95px,#480 97px,#2c0 99px,#050 101px,#4f0 105px,#4d0 107px,#1f0 109px,#150 111px,#4c0 113px,#650 115px,#400 117px,#130 119px,#610 123px,#540 125px,#210 127px,#140 129px,#3a0 131px,#4a0 133px,#340 135px,#120 137px,#0c0 139px,#280 141px,#3c0 143px,#3a0 145px,#170 149px,#460 153px,#4a0 155px,#1f0 159px,#1c0 161px,#380 165px,#360 167px,#0f0 173px,#470 177px,#540 179px,#410 181px,#0d0 185px,#2d0 189px,#430 193px,#3e0 195px,#220 199px,#190 205px,#4e0 215px,#430 223px,#140 229px,#1b0 235px,#110 239px,#170 243px,#110 245px,#010 249px,#060 251px,#010 261px,#0c0 265px,#010 269px,#0c0 271px,#160 273px,#120 275px,#030 279px,#020 284px,#0f0 290px,#040 294px,#050 298px,#000 302px,#070 314px,#030 320px,#090 326px,#020 336px,#300 360px,#390 370px,#0e0 382px,#120 384px,#440 392px,#460 394px,#270 398px,#040 402px,#0d0 404px,#3e0 408px,#4d0 410px,#3c0 414px,#0c0 418px,#060 420px,#390 424px,#480 426px,#380 430px,#0a0 434px,#0b0 436px,#360 440px,#3d0 442px,#370 444px,#0d0 450px,#120 452px,#2f0 456px,#330 460px,#090 466px,#400 472px,#430 474px,#310 476px,#030 480px,#320 484px,#460 486px,#440 488px,#2c0 490px,#0e0 492px,#090 494px,#350 498px,#3b0 500px,#320 502px,#0e0 506px,#0e0 508px,#2e0 512px,#320 516px,#080 522px,#2f0 526px,#3f0 528px,#3c0 530px,#250 532px,#0b0 534px,#0d0 536px,#270 538px,#3a0 540px,#3c0 542px,#2c0 544px,#090 548px,#330 554px,#2a0 558px,#0e0 562px,#0e0 564px,#1d0 566px)"></i>
<i style="background:linear-gradient(90deg,#130 1px,#190 5px,#0d0 11px,#280 17px,#200 19px,#0d0 21px,#110 23px,#2d0 25px,#3a0 27px,#250 29px,#040 31px,#4b0 35px,#460 37px,#150 39px,#120 41px,#4e0 43px,#630 45px,#0b0 49px,#470 51px,#730 53px,#510 55px,#130 57px,#710 61px,#640 63px,#210 65px,#210 67px,#5e0 69px,#660 71px,#0d0 75px,#3e0 77px,#590 79px,#3a0 81px,#090 83px,#430 87px,#440 89px,#040 93px,#2c0 95px,#4d0 97px,#410 99px,#130 101px,#1a0 103px,#500 105px,#5f0 107px,#110 111px,#440 113px,#690 115px,#4d0 117px,#150 119px,#250 121px,#550 123px,#550 125px,#070 129px,#250 131px,#440 133px,#420 135px,#080 139px,#490 143px,#520 145px,#140 149px,#4b0 153px,#4d0 155px,#140 159px,#120 161px,#340 165px,#390 167px,#160 173px,#430 177px,#4b0 179px,#3b0 181px,#0c0 185px,#0d0 187px,#3f0 191px,#520 193px,#4d0 195px,#0e0 201px,#0e0 203px,#3f0 211px,#420 217px,#550 221px,#2d0 227px,#270 231px,#110 237px,#1f0 243px,#050 249px,#0b0 251px,#0e0 259px,#040 263px,#020 267px,#090 273px,#040 277px,#080 281px,#040 286px,#070 288px,#030 292px,#050 296px,#020 298px,#0a0 304px,#020 308px,#090 312px,#050 318px,#0a0 324px,#020 332px,#350 364px,#310 372px,#0b0 380px,#0f0 382px,#3b0 388px,#440 392px,#2a0 396px,#050 400px,#3b0 406px,#4d0 408px,#4e0 410px,#3f0 412px,#0e0 416px,#050 418px,#300 422px,#420 424px,#450 426px,#370 428px,#0f0 432px,#0a0 434px,#350 440px,#2d0 444px,#0e0 450px,#390 458px,#320 460px,#0c0 464px,#0a0 466px,#370 470px,#440 472px,#3c0 474px,#090 478px,#0e0 480px,#270 482px,#3b0 484px,#3e0 486px,#310 488px,#0a0 492px,#340 498px,#330 500px,#0e0 506px,#100 508px,#380 514px,#330 516px,#0c0 520px,#0d0 522px,#360 526px,#3d0 528px,#310 530px,#080 534px,#2e0 538px,#3a0 540px,#340 542px,#120 546px,#0c0 548px,#310 554px,#350 556px,#2d0 558px,#0b0 562px,#130 564px,#2a0 566px)"></i>
<i style="background:linear-gradient(90deg,#0d0 1px,#160 7px,#090 13px,#250 17px,#230 19px,#060 23px,#250 25px,#3c0 27px,#2f0 29px,#070 31px,#190 33px,#4a0 35px,#520 37px,#230 39px,#0d0 41px,#4b0 43px,#6c0 45px,#430 47px,#0e0 49px,#410 51px,#750 53px,#5c0 55px,#1a0 57px,#2d0 59px,#6a0 61px,#660 63px,#270 65px,#150 67px,#4d0 69px,#5e0 71px,#330 73px,#060 75px,#290 77px,#4b0 79px,#3e0 81px,#130 83px,#0a0 85px,#330 87px,#490 89px,#320 91px,#090 93px,#200 95px,#4f0 97px,#530 99px,#260 101px,#140 103px,#4a0 105px,#660 107px,#430 109px,#130 111px,#5f0 115px,#520 117px,#1d0 119px,#100 121px,#3b0 123px,#4d0 125px,#360 127px,#0d0 129px,#0c0 131px,#360 133px,#500 135px,#410 137px,#160 139px,#160 141px,#4a0 143px,#620 145px,#450 147px,#150 149px,#190 151px,#3e0 153px,#4b0 155px,#380 157px,#060 161px,#380 165px,#4a0 167px,#420 169px,#140 173px,#360 177px,#3e0 179px,#2c0 183px,#0e0 187px,#4d0 193px,#4d0 195px,#0f0 203px,#130 205px,#300 209px,#330 215px,#4d0 221px,#380 225px,#2f0 231px,#0e0 235px,#0b0 237px,#110 243px,#090 247px,#0e0 251px,#030 255px,#0e0 259px,#0d0 261px,#000 265px,#070 269px,#040 275px,#0b0 279px,#010 290px,#090 294px,#020 298px,#0f0 302px,#0f0 304px,#070 308px,#0a0 312px,#010 316px,#050 322px,#000 332px,#120 344px,#3c0 366px,#2a0 372px,#080 378px,#0d0 380px,#420 386px,#4b0 388px,#3b0 392px,#290 394px,#040 398px,#3b0 404px,#490 408px,#3d0 410px,#0d0 414px,#050 416px,#2a0 420px,#3f0 424px,#380 426px,#0d0 432px,#270 438px,#320 442px,#0c0 450px,#390 456px,#3d0 458px,#2f0 460px,#060 464px,#2e0 468px,#3e0 470px,#3e0 472px,#080 478px,#320 482px,#3a0 484px,#310 486px,#110 490px,#0e0 492px,#270 496px,#300 500px,#0d0 506px,#0f0 508px,#330 512px,#3c0 514px,#320 516px,#070 520px,#2f0 524px,#3d0 526px,#370 528px,#0e0 532px,#0b0 534px,#300 538px,#360 540px,#0d0 548px,#330 554px,#360 556px,#0a0 562px,#360 566px)"></i>
<i style="background:linear-gradient(90deg,#0c0 1px,#160 7px,#130 9px,#040 13px,#220 17px,#250 19px,#020 23px,#200 25px,#3e0 27px,#370 29px,#110 31px,#160 33px,#4a0 35px,#5b0 37px,#100 41px,#490 43px,#700 45px,#4e0 47px,#140 49px,#700 53px,#5f0 55px,#1e0 57px,#220 59px,#5b0 61px,#600 63px,#0b0 67px,#390 69px,#520 71px,#360 73px,#090 75px,#170 77px,#3d0 79px,#430 81px,#050 85px,#290 87px,#4d0 89px,#420 91px,#170 93px,#1c0 95px,#4e0 97px,#5b0 99px,#160 103px,#400 105px,#5f0 107px,#460 109px,#170 111px,#210 113px,#470 115px,#480 117px,#070 121px,#3c0 125px,#3f0 127px,#0a0 131px,#510 135px,#520 137px,#120 141px,#380 143px,#560 145px,#470 147px,#090 151px,#3a0 155px,#400 157px,#300 159px,#150 161px,#130 163px,#340 165px,#4d0 167px,#470 169px,#110 173px,#130 175px,#310 179px,#390 181px,#370 183px,#1a0 187px,#1a0 189px,#340 193px,#380 195px,#330 199px,#160 205px,#450 217px,#310 223px,#3e0 229px,#240 233px,#220 239px,#070 245px,#060 253px,#0b0 259px,#010 265px,#070 271px,#030 281px,#040 286px,#010 290px,#0b0 294px,#030 298px,#090 302px,#030 306px,#080 310px,#010 318px,#080 324px,#030 332px,#0d0 338px,#3d0 364px,#330 368px,#080 376px,#330 382px,#4a0 386px,#3a0 390px,#050 396px,#3a0 402px,#450 404px,#360 408px,#0a0 414px,#250 418px,#330 422px,#110 432px,#320 440px,#330 442px,#2a0 444px,#0b0 448px,#120 450px,#380 454px,#3f0 456px,#360 458px,#090 462px,#0f0 464px,#290 466px,#3c0 468px,#3e0 470px,#300 472px,#0a0 476px,#330 482px,#340 484px,#110 490px,#0f0 492px,#320 498px,#350 500px,#290 502px,#090 506px,#2f0 510px,#3c0 512px,#380 514px,#0d0 518px,#0c0 520px,#390 524px,#3b0 526px,#0c0 532px,#310 540px,#2d0 542px,#0e0 548px,#2d0 552px,#370 554px,#310 556px,#0b0 560px,#0f0 562px,#380 566px)"></i>
<i style="background:linear-gradient(90deg,#0b0 1px,#170 9px,#010 13px,#230 17px,#2b0 19px,#190 21px,#040 23px,#430 27px,#400 29px,#1b0 31px,#190 33px,#4d0 35px,#620 37px,#160 41px,#460 43px,#700 45px,#540 47px,#180 49px,#310 51px,#670 53px,#5c0 55px,#200 57px,#160 59px,#4a0 61px,#560 63px,#2d0 65px,#030 67px,#260 69px,#470 71px,#3d0 73px,#140 75px,#090 77px,#340 79px,#4b0 81px,#330 83px,#0b0 85px,#530 89px,#510 91px,#230 93px,#1c0 95px,#4e0 97px,#5e0 99px,#160 103px,#520 107px,#3f0 109px,#160 111px,#130 113px,#300 115px,#3a0 117px,#280 119px,#0c0 121px,#100 123px,#330 125px,#460 127px,#360 129px,#170 131px,#250 133px,#4c0 135px,#520 137px,#110 141px,#3e0 145px,#3c0 147px,#0a0 151px,#0f0 153px,#2f0 155px,#480 157px,#420 159px,#140 163px,#440 167px,#400 169px,#100 173px,#090 175px,#340 179px,#440 181px,#400 183px,#160 187px,#140 189px,#3e0 197px,#3f0 199px,#0d0 205px,#0c0 207px,#4a0 215px,#4c0 217px,#380 221px,#400 227px,#230 233px,#2b0 237px,#0f0 243px,#130 247px,#030 251px,#150 257px,#040 261px,#070 265px,#000 271px,#090 286px,#010 290px,#060 294px,#000 298px,#050 308px,#010 312px,#060 314px,#050 320px,#110 324px,#090 330px,#170 338px,#1a0 346px,#3f0 360px,#310 366px,#070 372px,#060 374px,#3a0 380px,#470 384px,#350 388px,#050 394px,#240 398px,#400 402px,#320 406px,#120 410px,#0c0 412px,#2c0 420px,#290 424px,#100 432px,#330 438px,#370 440px,#2f0 442px,#0b0 446px,#0b0 448px,#390 452px,#420 454px,#380 456px,#0b0 460px,#090 462px,#360 466px,#3d0 468px,#330 470px,#0f0 474px,#0d0 476px,#250 480px,#2f0 484px,#100 490px,#0f0 492px,#380 498px,#340 500px,#0b0 504px,#0f0 506px,#290 508px,#3c0 510px,#3c0 512px,#080 518px,#2b0 522px,#350 524px,#110 532px,#2f0 540px,#2e0 542px,#0f0 546px,#100 548px,#370 552px,#390 554px,#080 560px,#2a0 564px,#350 566px)"></i>
<i style="background:linear-gradient(90deg,#0a0 1px,#0b0 3px,#1d0 9px,#140 11px,#030 13px,#0c0 15px,#280 17px,#350 19px,#230 21px,#0c0 23px,#4d0 27px,#4b0 29px,#250 31px,#220 33px,#520 35px,#650 37px,#1b0 41px,#680 45px,#510 47px,#190 49px,#240 51px,#550 53px,#550 55px,#090 59px,#350 61px,#4e0 63px,#360 65px,#0a0 67px,#150 69px,#400 71px,#4a0 73px,#270 75px,#050 77px,#300 79px,#580 81px,#480 83px,#150 85px,#220 87px,#5a0 89px,#600 91px,#2c0 93px,#170 95px,#4b0 97px,#600 99px,#390 101px,#0e0 103px,#460 107px,#3b0 109px,#070 113px,#220 115px,#3b0 117px,#390 119px,#1c0 121px,#120 123px,#3a0 125px,#550 127px,#420 129px,#1b0 131px,#240 133px,#460 135px,#490 137px,#0b0 141px,#130 143px,#2c0 145px,#3b0 147px,#360 149px,#100 153px,#510 157px,#4c0 159px,#0c0 163px,#330 167px,#3d0 169px,#380 171px,#0f0 175px,#160 177px,#350 179px,#4c0 181px,#480 183px,#090 189px,#0f0 191px,#390 195px,#490 197px,#470 199px,#100 205px,#0b0 207px,#380 215px,#330 219px,#440 225px,#2a0 229px,#2c0 235px,#110 241px,#0f0 249px,#020 253px,#0b0 257px,#060 261px,#0d0 265px,#040 269px,#060 286px,#020 290px,#040 294px,#010 302px,#0b0 306px,#060 310px,#120 314px,#070 318px,#110 324px,#070 328px,#110 336px,#110 344px,#410 358px,#3b0 362px,#080 370px,#0b0 372px,#370 378px,#480 382px,#090 392px,#2e0 398px,#340 402px,#110 410px,#110 412px,#310 422px,#230 426px,#0b0 430px,#100 432px,#360 436px,#3f0 438px,#370 440px,#0e0 444px,#080 446px,#310 450px,#3f0 452px,#3b0 454px,#120 458px,#0a0 460px,#310 466px,#310 468px,#130 474px,#130 476px,#2f0 484px,#290 486px,#0c0 490px,#380 496px,#370 498px,#090 504px,#320 508px,#3a0 510px,#310 512px,#0f0 516px,#100 518px,#2b0 524px,#260 528px,#110 532px,#130 534px,#320 538px,#360 540px,#2b0 542px,#090 546px,#300 550px,#3d0 552px,#350 554px,#0e0 558px,#0e0 560px,#280 564px,#2e0 566px)"></i>
<i style="background:linear-gradient(90deg,#0d0 1px,#090 3px,#250 9px,#1d0 11px,#080 13px,#0e0 15px,#2e0 17px,#410 19px,#300 21px,#160 23px,#5b0 27px,#570 29px,#2c0 31px,#2b0 33px,#580 35px,#630 37px,#1d0 41px,#550 45px,#460 47px,#190 49px,#120 51px,#3b0 53px,#4a0 55px,#2c0 57px,#030 59px,#480 63px,#460 65px,#1a0 67px,#090 69px,#3b0 71px,#570 73px,#3b0 75px,#0b0 77px,#5e0 81px,#5c0 83px,#240 85px,#180 87px,#590 89px,#6e0 91px,#0c0 95px,#3f0 97px,#5e0 99px,#3e0 101px,#0a0 103px,#140 105px,#360 107px,#3f0 109px,#2a0 111px,#090 113px,#160 115px,#460 117px,#580 119px,#130 123px,#3e0 125px,#620 127px,#4b0 129px,#190 131px,#140 133px,#330 135px,#3d0 137px,#2e0 139px,#040 143px,#490 147px,#520 149px,#130 153px,#490 157px,#480 159px,#0e0 163px,#040 165px,#3b0 169px,#4c0 171px,#3f0 173px,#0f0 177px,#3a0 181px,#3f0 183px,#0e0 191px,#340 195px,#410 197px,#3b0 199px,#1e0 203px,#160 207px,#2b0 213px,#2b0 217px,#480 223px,#340 227px,#450 233px,#250 239px,#240 243px,#040 247px,#020 249px,#050 251px,#010 257px,#0a0 263px,#040 267px,#090 271px,#010 275px,#040 288px,#000 292px,#070 298px,#010 302px,#0a0 306px,#050 310px,#140 314px,#070 318px,#110 322px,#030 328px,#080 330px,#050 336px,#4c0 354px,#430 358px,#2d0 362px,#020 368px,#310 374px,#400 378px,#3a0 382px,#0a0 388px,#080 390px,#2c0 396px,#260 404px,#110 412px,#350 420px,#2a0 424px,#090 428px,#0e0 430px,#350 434px,#400 436px,#3e0 438px,#070 444px,#290 448px,#390 452px,#0f0 458px,#240 464px,#2a0 468px,#100 476px,#360 482px,#330 484px,#0e0 488px,#0a0 490px,#380 494px,#3f0 496px,#310 498px,#080 502px,#310 508px,#320 510px,#130 516px,#130 518px,#300 526px,#270 528px,#0a0 532px,#320 536px,#3f0 538px,#360 540px,#090 544px,#0d0 546px,#340 550px,#370 552px,#110 558px,#2a0 566px)"></i>
<i style="background:linear-gradient(90deg,#170 1px,#090 5px,#370 9px,#2d0 11px,#0e0 13px,#1a0 15px,#400 17px,#500 19px,#270 23px,#3d0 25px,#690 27px,#630 29px,#2d0 31px,#2e0 33px,#5d0 35px,#5a0 37px,#2a0 39px,#160 41px,#2d0 43px,#3a0 45px,#300 47px,#0c0 51px,#400 55px,#3f0 57px,#170 59px,#120 61px,#470 63px,#570 65px,#2c0 67px,#060 69px,#360 71px,#590 73px,#460 75px,#170 77px,#1f0 79px,#540 81px,#650 83px,#110 87px,#470 89px,#700 91px,#490 93px,#080 95px,#500 99px,#430 101px,#040 105px,#450 109px,#4c0 111px,#140 115px,#4a0 117px,#720 119px,#510 121px,#140 123px,#580 127px,#460 129px,#040 133px,#2e0 137px,#420 139px,#3b0 141px,#1a0 143px,#210 145px,#520 147px,#5f0 149px,#390 151px,#0f0 153px,#150 155px,#290 157px,#350 161px,#280 163px,#120 165px,#190 167px,#3c0 169px,#4c0 171px,#3e0 173px,#0d0 177px,#120 179px,#380 183px,#3c0 185px,#120 191px,#3a0 197px,#340 203px,#120 209px,#200 215px,#450 219px,#470 221px,#300 225px,#340 231px,#210 237px,#340 241px,#2f0 243px,#120 247px,#030 255px,#020 265px,#0b0 271px,#040 275px,#0b0 279px,#020 294px,#090 300px,#040 302px,#0c0 306px,#0b0 308px,#030 310px,#0a0 314px,#020 318px,#090 322px,#030 328px,#140 338px,#310 342px,#320 344px,#500 348px,#450 356px,#080 364px,#0a0 366px,#190 368px,#470 376px,#140 386px,#120 388px,#180 392px,#310 398px,#1e0 406px,#0f0 410px,#130 412px,#3b0 418px,#3c0 420px,#2e0 422px,#0a0 426px,#0b0 428px,#370 432px,#3f0 434px,#370 436px,#0b0 442px,#280 446px,#300 448px,#150 458px,#300 468px,#290 470px,#0c0 474px,#140 476px,#3a0 480px,#3e0 482px,#2e0 484px,#080 488px,#3b0 494px,#3a0 496px,#120 500px,#100 502px,#230 506px,#2d0 510px,#110 518px,#380 524px,#330 526px,#0b0 530px,#0f0 532px,#390 536px,#3d0 538px,#150 542px,#0e0 544px,#2b0 550px,#140 560px,#350 566px)"></i>
<i style="background:linear-gradient(90deg,#2b0 1px,#240 3px,#090 5px,#250 7px,#600 9px,#550 11px,#150 13px,#6f0 17px,#660 19px,#4a0 21px,#490 23px,#4c0 25px,#6b0 27px,#700 29px,#2f0 31px,#200 33px,#590 35px,#580 37px,#1e0 39px,#040 41px,#2a0 43px,#3b0 45px,#190 49px,#260 51px,#270 53px,#520 57px,#340 59px,#0c0 61px,#420 63px,#690 65px,#3e0 67px,#030 69px,#330 71px,#640 73px,#500 75px,#1c0 77px,#2c0 79px,#510 81px,#5e0 83px,#4d0 85px,#210 87px,#2d0 89px,#600 91px,#590 93px,#170 95px,#110 97px,#380 99px,#500 101px,#430 103px,#140 105px,#1c0 107px,#5c0 109px,#6e0 111px,#2c0 115px,#740 119px,#620 121px,#170 123px,#160 125px,#3a0 127px,#3d0 129px,#310 131px,#0d0 135px,#3d0 137px,#620 139px,#5e0 141px,#250 145px,#4a0 147px,#560 149px,#000 155px,#3c0 159px,#510 161px,#480 163px,#260 165px,#1a0 167px,#370 169px,#450 171px,#3d0 173px,#160 177px,#120 179px,#3f0 183px,#4a0 185px,#450 187px,#1a0 191px,#140 193px,#550 203px,#490 205px,#0c0 209px,#030 211px,#0a0 213px,#400 217px,#4b0 219px,#410 223px,#4d0 225px,#400 231px,#1b0 235px,#350 239px,#170 245px,#100 249px,#020 253px,#090 259px,#010 263px,#0b0 269px,#040 273px,#070 279px,#000 284px,#030 286px,#020 290px,#090 292px,#080 294px,#020 296px,#100 300px,#040 304px,#110 306px,#130 308px,#040 312px,#0b0 316px,#010 320px,#090 326px,#070 328px,#010 330px,#250 334px,#280 336px,#1a0 338px,#560 342px,#350 346px,#590 348px,#5b0 350px,#350 352px,#270 354px,#2e0 356px,#090 360px,#060 362px,#0c0 364px,#440 370px,#2f0 374px,#3e0 376px,#3d0 378px,#120 382px,#110 384px,#220 390px,#1d0 394px,#260 396px,#3d0 398px,#410 400px,#1c0 404px,#0d0 408px,#3a0 414px,#3e0 420px,#0e0 424px,#0b0 426px,#430 432px,#460 434px,#0a0 440px,#0d0 442px,#320 446px,#370 448px,#180 456px,#180 458px,#370 466px,#310 468px,#110 472px,#140 474px,#3a0 478px,#410 480px,#370 482px,#0f0 486px,#290 490px,#330 494px,#1b0 500px,#2f0 510px,#150 518px,#3c0 522px,#400 524px,#160 528px,#120 530px,#380 536px,#350 538px,#190 542px,#2f0 552px,#130 560px,#3b0 564px,#440 566px)"></i></div><b></b></div>
<svg class="ov" width="1500" height="1450" viewBox="0 0 1500 1450">
<circle cx="432" cy="526" r="70.3" fill="#fff"/>
<circle cx="1169.5" cy="525.8" r="70" fill="#fff" stroke="#000" stroke-width="1"/>
<text x="28" y="38" font-size="46">(a)</text>
<text x="766" y="38" font-size="46">(c)</text>
<text x="26" y="870" font-size="46">(b)</text>
<text x="778" y="875" font-size="46">(d)</text>
<line x1="139.4" y1="57.4" x2="150.4" y2="57.4" stroke="#000" stroke-width="3.8" stroke-linecap="round"/>
<text x="126.9" y="72.9" text-anchor="end" font-size="46">4</text>
<line x1="139.4" y1="198.6" x2="150.4" y2="198.6" stroke="#000" stroke-width="3.8" stroke-linecap="round"/>
<text x="126.9" y="214.1" text-anchor="end" font-size="46">3</text>
<line x1="139.4" y1="339.8" x2="150.4" y2="339.8" stroke="#000" stroke-width="3.8" stroke-linecap="round"/>
<text x="126.9" y="355.3" text-anchor="end" font-size="46">2</text>
<line x1="139.4" y1="481.0" x2="150.4" y2="481.0" stroke="#000" stroke-width="3.8" stroke-linecap="round"/>
<text x="126.9" y="496.5" text-anchor="end" font-size="46">1</text>
<line x1="139.4" y1="622.2" x2="150.4" y2="622.2" stroke="#000" stroke-width="3.8" stroke-linecap="round"/>
<text x="126.9" y="637.7" text-anchor="end" font-size="46">0</text>
<path d="M150.4 623.3V755H712.8V623.3Z" fill="none" stroke="#000" stroke-width="3.7"/>
<line x1="291.0" y1="744.5" x2="291.0" y2="754" stroke="#000" stroke-width="3.4" stroke-linecap="round"/>
<line x1="572.2" y1="744.5" x2="572.2" y2="754" stroke="#000" stroke-width="3.4" stroke-linecap="round"/>
<line x1="432.0" y1="625.2" x2="432.0" y2="754" stroke="#000" stroke-width="3.9" stroke-dasharray="11.3 12" stroke-linecap="round"/>
<text x="146.4" y="798.0" text-anchor="middle" font-size="46">-2</text>
<text x="287.0" y="798.0" text-anchor="middle" font-size="46">-1</text>
<text x="431.6" y="798.0" text-anchor="middle" font-size="46">0</text>
<text x="572.2" y="798.0" text-anchor="middle" font-size="46">1</text>
<text x="712.8" y="798.0" text-anchor="middle" font-size="46">2</text>
<text x="358.6" y="847.0" font-size="49"><tspan font-style="italic">x</tspan>(10<tspan font-style="italic">λ</tspan><tspan font-size="30" dy="9">0</tspan><tspan dy="-9" dx="3">)</tspan></text>
<text transform="translate(64.4 413.0) rotate(-90)" font-size="49"><tspan font-style="italic">z</tspan>(10<tspan font-style="italic">λ</tspan><tspan font-size="30" dy="9">0</tspan><tspan dy="-9" dx="3">)</tspan></text>
<text x="282.1" y="657" font-size="36.5" textLength="298.5" lengthAdjust="spacingAndGlyphs">Transmission screen</text>
<text x="155.4" y="726" font-size="46"><tspan font-style="italic">φ</tspan><tspan font-size="30" dy="11" dx="-3">1</tspan><tspan dy="-8" dx="11">=</tspan><tspan dx="9">−</tspan><tspan dy="-3">22°</tspan></text>
<text x="700.8" y="726" font-size="46" text-anchor="end"><tspan font-style="italic">φ</tspan><tspan font-size="30" dy="11" dx="-3">2</tspan><tspan dy="-8" dx="10">=</tspan><tspan dy="-3" dx="4">22°</tspan></text>
<path transform="translate(376.0 701.0) rotate(-22.5) scale(1.0)" d="M0 -29 L-21 -7 L-9.5 -9.5 L-9.5 29 L9.5 29 L9.5 -9.5 L21 -7 Z" fill="#fff" stroke="#000" stroke-width="3.2" stroke-linejoin="miter"/>
<path transform="translate(493.0 701.5) rotate(24) scale(1.0)" d="M0 -29 L-21 -7 L-9.5 -9.5 L-9.5 29 L9.5 29 L9.5 -9.5 L21 -7 Z" fill="#fff" stroke="#000" stroke-width="3.2" stroke-linejoin="miter"/>
<line x1="359.2" y1="241.5" x2="509.0" y2="241.5" stroke="#fff" stroke-width="4.4" stroke-dasharray="5.4 8.42" stroke-linecap="round"/>
<text x="330.5" y="255.8" text-anchor="middle" font-size="42" style="fill:#fff">I</text>
<line x1="876.2" y1="58.0" x2="887.2" y2="58.0" stroke="#000" stroke-width="3.8" stroke-linecap="round"/>
<text x="863.7" y="73.5" text-anchor="end" font-size="46">4</text>
<line x1="876.2" y1="199.2" x2="887.2" y2="199.2" stroke="#000" stroke-width="3.8" stroke-linecap="round"/>
<text x="863.7" y="214.7" text-anchor="end" font-size="46">3</text>
<line x1="876.2" y1="340.4" x2="887.2" y2="340.4" stroke="#000" stroke-width="3.8" stroke-linecap="round"/>
<text x="863.7" y="355.9" text-anchor="end" font-size="46">2</text>
<line x1="876.2" y1="481.6" x2="887.2" y2="481.6" stroke="#000" stroke-width="3.8" stroke-linecap="round"/>
<text x="863.7" y="497.1" text-anchor="end" font-size="46">1</text>
<line x1="876.2" y1="622.8" x2="887.2" y2="622.8" stroke="#000" stroke-width="3.8" stroke-linecap="round"/>
<text x="863.7" y="638.3" text-anchor="end" font-size="46">0</text>
<path d="M887.2 623.3V755H1449.6V623.3Z" fill="none" stroke="#000" stroke-width="3.7"/>
<line x1="1027.8" y1="744.5" x2="1027.8" y2="754" stroke="#000" stroke-width="3.4" stroke-linecap="round"/>
<line x1="1309.0" y1="744.5" x2="1309.0" y2="754" stroke="#000" stroke-width="3.4" stroke-linecap="round"/>
<line x1="1168.8" y1="625.2" x2="1168.8" y2="754" stroke="#000" stroke-width="3.9" stroke-dasharray="11.3 12" stroke-linecap="round"/>
<text x="885.7" y="796.0" text-anchor="middle" font-size="46">-2</text>
<text x="1026.3" y="796.0" text-anchor="middle" font-size="46">-1</text>
<text x="1170.9" y="796.0" text-anchor="middle" font-size="46">0</text>
<text x="1311.5" y="796.0" text-anchor="middle" font-size="46">1</text>
<text x="1452.1" y="796.0" text-anchor="middle" font-size="46">2</text>
<text x="1098.4" y="842.5" font-size="49"><tspan font-style="italic">x</tspan>(10<tspan font-style="italic">λ</tspan><tspan font-size="30" dy="9">0</tspan><tspan dy="-9" dx="3">)</tspan></text>
<text transform="translate(809.6 413.6) rotate(-90)" font-size="49"><tspan font-style="italic">z</tspan>(10<tspan font-style="italic">λ</tspan><tspan font-size="30" dy="9">0</tspan><tspan dy="-9" dx="3">)</tspan></text>
<text x="1018.9" y="657" font-size="36.5" textLength="298.5" lengthAdjust="spacingAndGlyphs">Transmission screen</text>
<text x="898.2" y="726" font-size="46"><tspan font-style="italic">φ</tspan><tspan font-size="30" dy="11" dx="-3">1</tspan><tspan dy="-8" dx="11">=</tspan><tspan dx="9">−</tspan><tspan dy="-3">10°</tspan></text>
<text x="1440.6" y="726" font-size="48.5" text-anchor="end"><tspan font-style="italic">φ</tspan><tspan font-size="30" dy="11" dx="-3">2</tspan><tspan dy="-8" dx="10">=</tspan><tspan dy="-3" dx="4">40°</tspan></text>
<path transform="translate(1107.0 700.0) rotate(-9) scale(0.95)" d="M0 -29 L-21 -7 L-9.5 -9.5 L-9.5 29 L9.5 29 L9.5 -9.5 L21 -7 Z" fill="#fff" stroke="#000" stroke-width="3.2" stroke-linejoin="miter"/>
<path transform="translate(1245.0 701.0) rotate(40) scale(0.95)" d="M0 -29 L-21 -7 L-9.5 -9.5 L-9.5 29 L9.5 29 L9.5 -9.5 L21 -7 Z" fill="#fff" stroke="#000" stroke-width="3.2" stroke-linejoin="miter"/>
<line x1="1210.2" y1="265.3" x2="1360.0" y2="265.3" stroke="#fff" stroke-width="4.4" stroke-dasharray="5.4 8.42" stroke-linecap="round"/>
<text x="1181.5" y="279.6" text-anchor="middle" font-size="42" style="fill:#fff">I</text>
<g id="plotB">
<path d="M125.7 1327.9L126.7 1327.7L127.7 1327.6L128.8 1327.4L129.8 1327.2L130.8 1327.1L131.8 1327.0L132.9 1326.9L133.9 1326.7L134.9 1326.6L135.9 1326.6L137.0 1326.5L138.0 1326.4L139.0 1326.3L140.0 1326.3L141.1 1326.2L142.1 1326.1L143.1 1326.1L144.1 1326.0L145.1 1326.0L146.2 1325.9L147.2 1325.8L148.2 1325.7L149.2 1325.7L150.3 1325.6L151.3 1325.5L152.3 1325.4L153.3 1325.2L154.4 1325.1L155.4 1324.9L156.4 1324.7L157.4 1324.5L158.4 1324.3L159.5 1324.0L160.5 1323.7L161.5 1323.4L162.5 1323.0L163.6 1322.6L164.6 1322.2L165.6 1321.7L166.6 1321.3L167.7 1320.7L168.7 1320.1L169.7 1319.5L170.7 1318.8L171.8 1318.1L172.8 1317.2L173.8 1316.3L174.8 1315.4L175.8 1314.4L176.9 1313.4L177.9 1312.5L178.9 1311.5L179.9 1310.5L181.0 1309.6L182.0 1308.7L183.0 1307.8L184.0 1307.1L185.1 1306.3L186.1 1305.6L187.1 1304.9L188.1 1304.3L189.1 1303.6L190.2 1303.1L191.2 1302.5L192.2 1302.1L193.2 1301.7L194.3 1301.3L195.3 1301.1L196.3 1300.9L197.3 1300.8L198.4 1300.8L199.4 1300.9L200.4 1301.2L201.4 1301.5L202.5 1301.9L203.5 1302.4L204.5 1303.0L205.5 1303.7L206.5 1304.5L207.6 1305.2L208.6 1306.1L209.6 1307.0L210.6 1307.9L211.7 1308.8L212.7 1309.8L213.7 1310.9L214.7 1312.0L215.8 1313.2L216.8 1314.4L217.8 1315.7L218.8 1316.9L219.9 1318.1L220.9 1319.2L221.9 1320.3L222.9 1321.3L223.9 1322.1L225.0 1322.9L226.0 1323.4L227.0 1323.8L228.0 1324.0L229.1 1324.0L230.1 1323.8L231.1 1323.4L232.1 1322.9L233.2 1322.3L234.2 1321.5L235.2 1320.7L236.2 1319.9L237.2 1319.0L238.3 1318.0L239.3 1317.1L240.3 1316.1L241.3 1315.1L242.4 1314.0L243.4 1313.0L244.4 1311.9L245.4 1310.8L246.5 1309.8L247.5 1308.8L248.5 1307.8L249.5 1307.0L250.6 1306.3L251.6 1305.6L252.6 1305.1L253.6 1304.8L254.6 1304.6L255.7 1304.6L256.7 1304.7L257.7 1305.0L258.7 1305.3L259.8 1305.7L260.8 1306.2L261.8 1306.8L262.8 1307.4L263.9 1308.1L264.9 1308.8L265.9 1309.6L266.9 1310.3L267.9 1311.1L269.0 1311.9L270.0 1312.6L271.0 1313.4L272.0 1314.1L273.1 1314.9L274.1 1315.6L275.1 1316.3L276.1 1317.0L277.2 1317.6L278.2 1318.0L279.2 1318.4L280.2 1318.6L281.3 1318.7L282.3 1318.6L283.3 1318.3L284.3 1317.9L285.3 1317.4L286.4 1316.7L287.4 1316.0L288.4 1315.2L289.4 1314.3L290.5 1313.5L291.5 1312.6L292.5 1311.8L293.5 1311.0L294.6 1310.2L295.6 1309.4L296.6 1308.6L297.6 1307.9L298.6 1307.3L299.7 1306.8L300.7 1306.4L301.7 1306.2L302.7 1306.2L303.8 1306.4L304.8 1306.9L305.8 1307.6L306.8 1308.5L307.9 1309.6L308.9 1310.8L309.9 1312.1L310.9 1313.4L312.0 1314.9L313.0 1316.3L314.0 1317.7L315.0 1319.2L316.0 1320.8L317.1 1322.4L318.1 1323.9L319.1 1325.4L320.1 1326.7L321.2 1328.0L322.2 1329.0L323.2 1329.9L324.2 1330.4L325.3 1330.6L326.3 1330.5L327.3 1329.9L328.3 1328.7L329.4 1327.0L330.4 1324.8L331.4 1322.0L332.4 1318.6L333.4 1314.6L334.5 1309.7L335.5 1304.0L336.5 1297.7L337.5 1291.0L338.6 1284.0L339.6 1276.8L340.6 1269.4L341.6 1261.8L342.7 1254.1L343.7 1246.2L344.7 1238.2L345.7 1230.2L346.7 1222.1L347.8 1214.0L348.8 1205.9L349.8 1197.7L350.8 1189.4L351.9 1181.1L352.9 1173.0L353.9 1165.1L354.9 1157.6L356.0 1150.5L357.0 1144.0L358.0 1137.9L359.0 1132.1L360.1 1126.8L361.1 1122.0L362.1 1118.0L363.1 1114.7L364.1 1112.5L365.2 1111.5L366.2 1111.6L367.2 1112.9L368.2 1115.3L369.3 1118.8L370.3 1123.1L371.3 1128.1L372.3 1133.8L373.4 1140.2L374.4 1147.2L375.4 1155.0L376.4 1163.7L377.4 1173.1L378.5 1183.0L379.5 1193.2L380.5 1203.6L381.5 1214.1L382.6 1224.8L383.6 1235.6L384.6 1246.4L385.6 1257.1L386.7 1267.4L387.7 1277.1L388.7 1286.2L389.7 1294.6L390.8 1302.3L391.8 1309.4L392.8 1315.8L393.8 1321.4L394.8 1325.8L395.9 1328.8L396.9 1330.2L397.9 1330.0L398.9 1328.3L400.0 1325.0L401.0 1320.5L402.0 1314.8L403.0 1308.2L404.1 1300.8L405.1 1292.4L406.1 1283.1L407.1 1272.6L408.2 1261.0L409.2 1248.5L410.2 1235.2L411.2 1221.3L412.2 1206.9L413.3 1192.0L414.3 1176.6L415.3 1161.0L416.3 1145.6L417.4 1130.6L418.4 1116.2L419.4 1102.6L420.4 1089.4L421.5 1076.8L422.5 1064.5L423.5 1052.6L424.5 1040.9L425.5 1029.5L426.6 1018.8L427.6 1008.9L428.6 1000.1L429.6 992.5L430.7 986.7L431.7 983.5L432.7 983.5L433.7 986.7L434.8 992.5L435.8 1000.1L436.8 1008.9L437.8 1018.8L438.9 1029.5L439.9 1040.9L440.9 1052.6L441.9 1064.5L442.9 1076.8L444.0 1089.4L445.0 1102.6L446.0 1116.2L447.0 1130.6L448.1 1145.6L449.1 1161.0L450.1 1176.6L451.1 1192.0L452.2 1206.9L453.2 1221.3L454.2 1235.2L455.2 1248.5L456.2 1261.0L457.3 1272.6L458.3 1283.1L459.3 1292.4L460.3 1300.8L461.4 1308.2L462.4 1314.8L463.4 1320.5L464.4 1325.0L465.5 1328.3L466.5 1330.0L467.5 1330.2L468.5 1328.8L469.6 1325.8L470.6 1321.4L471.6 1315.8L472.6 1309.4L473.6 1302.3L474.7 1294.6L475.7 1286.2L476.7 1277.1L477.7 1267.4L478.8 1257.1L479.8 1246.4L480.8 1235.6L481.8 1224.8L482.9 1214.1L483.9 1203.6L484.9 1193.2L485.9 1183.0L487.0 1173.1L488.0 1163.7L489.0 1155.0L490.0 1147.2L491.0 1140.2L492.1 1133.8L493.1 1128.1L494.1 1123.1L495.1 1118.8L496.2 1115.3L497.2 1112.9L498.2 1111.6L499.2 1111.5L500.3 1112.5L501.3 1114.7L502.3 1118.0L503.3 1122.0L504.3 1126.8L505.4 1132.1L506.4 1137.9L507.4 1144.0L508.4 1150.5L509.5 1157.6L510.5 1165.1L511.5 1173.0L512.5 1181.1L513.6 1189.4L514.6 1197.7L515.6 1205.9L516.6 1214.0L517.7 1222.1L518.7 1230.2L519.7 1238.2L520.7 1246.2L521.7 1254.1L522.8 1261.8L523.8 1269.4L524.8 1276.8L525.8 1284.0L526.9 1291.0L527.9 1297.7L528.9 1304.0L529.9 1309.7L531.0 1314.6L532.0 1318.6L533.0 1322.0L534.0 1324.8L535.0 1327.0L536.1 1328.7L537.1 1329.9L538.1 1330.5L539.1 1330.6L540.2 1330.4L541.2 1329.9L542.2 1329.0L543.2 1328.0L544.3 1326.7L545.3 1325.4L546.3 1323.9L547.3 1322.4L548.4 1320.8L549.4 1319.2L550.4 1317.7L551.4 1316.3L552.4 1314.9L553.5 1313.4L554.5 1312.1L555.5 1310.8L556.5 1309.6L557.6 1308.5L558.6 1307.6L559.6 1306.9L560.6 1306.4L561.7 1306.2L562.7 1306.2L563.7 1306.4L564.7 1306.8L565.8 1307.3L566.8 1307.9L567.8 1308.6L568.8 1309.4L569.8 1310.2L570.9 1311.0L571.9 1311.8L572.9 1312.6L573.9 1313.5L575.0 1314.3L576.0 1315.2L577.0 1316.0L578.0 1316.7L579.1 1317.4L580.1 1317.9L581.1 1318.3L582.1 1318.6L583.1 1318.7L584.2 1318.6L585.2 1318.4L586.2 1318.0L587.2 1317.6L588.3 1317.0L589.3 1316.3L590.3 1315.6L591.3 1314.9L592.4 1314.1L593.4 1313.4L594.4 1312.6L595.4 1311.9L596.5 1311.1L597.5 1310.3L598.5 1309.6L599.5 1308.8L600.5 1308.1L601.6 1307.4L602.6 1306.8L603.6 1306.2L604.6 1305.7L605.7 1305.3L606.7 1305.0L607.7 1304.7L608.7 1304.6L609.8 1304.6L610.8 1304.8L611.8 1305.1L612.8 1305.6L613.8 1306.3L614.9 1307.0L615.9 1307.8L616.9 1308.8L617.9 1309.8L619.0 1310.8L620.0 1311.9L621.0 1313.0L622.0 1314.0L623.1 1315.1L624.1 1316.1L625.1 1317.1L626.1 1318.0L627.2 1319.0L628.2 1319.9L629.2 1320.7L630.2 1321.5L631.2 1322.3L632.3 1322.9L633.3 1323.4L634.3 1323.8L635.3 1324.0L636.4 1324.0L637.4 1323.8L638.4 1323.4L639.4 1322.9L640.5 1322.1L641.5 1321.3L642.5 1320.3L643.5 1319.2L644.5 1318.1L645.6 1316.9L646.6 1315.7L647.6 1314.4L648.6 1313.2L649.7 1312.0L650.7 1310.9L651.7 1309.8L652.7 1308.8L653.8 1307.9L654.8 1307.0L655.8 1306.1L656.8 1305.2L657.9 1304.5L658.9 1303.7L659.9 1303.0L660.9 1302.4L661.9 1301.9L663.0 1301.5L664.0 1301.2L665.0 1300.9L666.0 1300.8L667.1 1300.8L668.1 1300.9L669.1 1301.1L670.1 1301.3L671.2 1301.7L672.2 1302.1L673.2 1302.5L674.2 1303.1L675.3 1303.6L676.3 1304.3L677.3 1304.9L678.3 1305.6L679.3 1306.3L680.4 1307.1L681.4 1307.8L682.4 1308.7L683.4 1309.6L684.5 1310.5L685.5 1311.5L686.5 1312.5L687.5 1313.4L688.6 1314.4L689.6 1315.4L690.6 1316.3L691.6 1317.2L692.6 1318.1L693.7 1318.8L694.7 1319.5L695.7 1320.1L696.7 1320.7L697.8 1321.3L698.8 1321.7L699.8 1322.2L700.8 1322.6L701.9 1323.0L702.9 1323.4L703.9 1323.7L704.9 1324.0L706.0 1324.3L707.0 1324.5L708.0 1324.7L709.0 1324.9L710.0 1325.1L711.1 1325.2L712.1 1325.4L713.1 1325.5L714.1 1325.6L715.2 1325.7L716.2 1325.7L717.2 1325.8L718.2 1325.9L719.3 1326.0L720.3 1326.0L721.3 1326.1L722.3 1326.1L723.3 1326.2L724.4 1326.3L725.4 1326.3L726.4 1326.4L727.4 1326.5L728.5 1326.6L729.5 1326.6L730.5 1326.7L731.5 1326.9L732.6 1327.0L733.6 1327.1L734.6 1327.2L735.6 1327.4L736.7 1327.6L737.7 1327.7L738.7 1327.9" fill="none" stroke="#000" stroke-width="3.1" stroke-linejoin="round"/>
<path d="M125.7 1329.1L126.7 1329.0L127.7 1328.9L128.8 1328.7L129.8 1328.5L130.8 1328.4L131.8 1328.3L132.9 1328.2L133.9 1328.1L134.9 1328.0L135.9 1328.0L137.0 1327.9L138.0 1327.9L139.0 1327.8L140.0 1327.8L141.1 1327.7L142.1 1327.7L143.1 1327.7L144.1 1327.7L145.1 1327.6L146.2 1327.6L147.2 1327.6L148.2 1327.5L149.2 1327.5L150.3 1327.4L151.3 1327.4L152.3 1327.3L153.3 1327.2L154.4 1327.1L155.4 1327.0L156.4 1326.8L157.4 1326.6L158.4 1326.4L159.5 1326.2L160.5 1325.9L161.5 1325.6L162.5 1325.3L163.6 1325.0L164.6 1324.6L165.6 1324.2L166.6 1323.7L167.7 1323.2L168.7 1322.7L169.7 1322.1L170.7 1321.4L171.8 1320.7L172.8 1319.9L173.8 1319.0L174.8 1318.1L175.8 1317.1L176.9 1316.2L177.9 1315.2L178.9 1314.2L179.9 1313.2L181.0 1312.2L182.0 1311.3L183.0 1310.4L184.0 1309.6L185.1 1308.8L186.1 1308.0L187.1 1307.2L188.1 1306.5L189.1 1305.7L190.2 1305.1L191.2 1304.4L192.2 1303.8L193.2 1303.3L194.3 1302.8L195.3 1302.5L196.3 1302.2L197.3 1302.0L198.4 1301.9L199.4 1301.9L200.4 1302.0L201.4 1302.2L202.5 1302.5L203.5 1302.9L204.5 1303.3L205.5 1303.9L206.5 1304.5L207.6 1305.1L208.6 1305.8L209.6 1306.6L210.6 1307.3L211.7 1308.2L212.7 1309.0L213.7 1309.9L214.7 1310.9L215.8 1311.9L216.8 1313.0L217.8 1314.1L218.8 1315.2L219.9 1316.3L220.9 1317.4L221.9 1318.4L222.9 1319.3L223.9 1320.2L225.0 1320.9L226.0 1321.5L227.0 1321.9L228.0 1322.2L229.1 1322.3L230.1 1322.2L231.1 1322.0L232.1 1321.7L233.2 1321.2L234.2 1320.6L235.2 1319.9L236.2 1319.2L237.2 1318.4L238.3 1317.6L239.3 1316.7L240.3 1315.8L241.3 1314.9L242.4 1313.9L243.4 1312.9L244.4 1311.9L245.4 1310.9L246.5 1309.8L247.5 1308.9L248.5 1307.9L249.5 1307.1L250.6 1306.3L251.6 1305.7L252.6 1305.2L253.6 1304.8L254.6 1304.6L255.7 1304.6L256.7 1304.7L257.7 1304.9L258.7 1305.1L259.8 1305.5L260.8 1306.0L261.8 1306.5L262.8 1307.1L263.9 1307.7L264.9 1308.4L265.9 1309.1L266.9 1309.8L267.9 1310.5L269.0 1311.2L270.0 1312.0L271.0 1312.7L272.0 1313.4L273.1 1314.1L274.1 1314.9L275.1 1315.5L276.1 1316.2L277.2 1316.7L278.2 1317.2L279.2 1317.5L280.2 1317.8L281.3 1317.8L282.3 1317.8L283.3 1317.5L284.3 1317.2L285.3 1316.7L286.4 1316.1L287.4 1315.4L288.4 1314.7L289.4 1314.0L290.5 1313.2L291.5 1312.5L292.5 1311.7L293.5 1311.0L294.6 1310.3L295.6 1309.7L296.6 1309.0L297.6 1308.4L298.6 1307.9L299.7 1307.5L300.7 1307.2L301.7 1307.0L302.7 1307.0L303.8 1307.2L304.8 1307.7L305.8 1308.3L306.8 1309.1L307.9 1310.1L308.9 1311.2L309.9 1312.4L310.9 1313.6L312.0 1315.0L313.0 1316.3L314.0 1317.7L315.0 1319.2L316.0 1320.7L317.1 1322.2L318.1 1323.8L319.1 1325.3L320.1 1326.7L321.2 1327.9L322.2 1329.0L323.2 1329.8L324.2 1330.4L325.3 1330.6L326.3 1330.5L327.3 1329.9L328.3 1328.7L329.4 1327.0L330.4 1324.8L331.4 1322.0L332.4 1318.6L333.4 1314.6L334.5 1309.7L335.5 1304.0L336.5 1297.7L337.5 1291.0L338.6 1284.0L339.6 1276.8L340.6 1269.4L341.6 1261.8L342.7 1254.0L343.7 1246.1L344.7 1238.1L345.7 1230.1L346.7 1222.0L347.8 1214.0L348.8 1205.9L349.8 1197.8L350.8 1189.6L351.9 1181.4L352.9 1173.4L353.9 1165.7L354.9 1158.3L356.0 1151.4L357.0 1145.1L358.0 1139.1L359.0 1133.6L360.1 1128.5L361.1 1123.9L362.1 1120.0L363.1 1116.9L364.1 1114.8L365.2 1113.8L366.2 1113.9L367.2 1115.1L368.2 1117.5L369.3 1120.7L370.3 1124.9L371.3 1129.7L372.3 1135.2L373.4 1141.3L374.4 1148.2L375.4 1155.8L376.4 1164.3L377.4 1173.5L378.5 1183.3L379.5 1193.4L380.5 1203.7L381.5 1214.1L382.6 1224.7L383.6 1235.5L384.6 1246.3L385.6 1257.0L386.7 1267.3L387.7 1277.1L388.7 1286.2L389.7 1294.6L390.8 1302.3L391.8 1309.4L392.8 1315.8L393.8 1321.4L394.8 1325.8L395.9 1328.8L396.9 1330.2L397.9 1330.1L398.9 1328.3L400.0 1325.1L401.0 1320.5L402.0 1314.9L403.0 1308.3L404.1 1300.8L405.1 1292.4L406.1 1283.0L407.1 1272.4L408.2 1260.7L409.2 1247.9L410.2 1234.5L411.2 1220.4L412.2 1205.8L413.3 1190.7L414.3 1175.1L415.3 1159.3L416.3 1143.5L417.4 1128.2L418.4 1113.3L419.4 1099.0L420.4 1085.2L421.5 1071.8L422.5 1058.8L423.5 1046.2L424.5 1033.8L425.5 1021.7L426.6 1010.0L427.6 999.0L428.6 988.6L429.6 979.3L430.7 972.0L431.7 967.9L432.7 967.9L433.7 972.0L434.8 979.3L435.8 988.6L436.8 999.0L437.8 1010.0L438.9 1021.7L439.9 1033.8L440.9 1046.2L441.9 1058.8L442.9 1071.8L444.0 1085.2L445.0 1099.0L446.0 1113.3L447.0 1128.2L448.1 1143.5L449.1 1159.3L450.1 1175.1L451.1 1190.7L452.2 1205.8L453.2 1220.4L454.2 1234.5L455.2 1247.9L456.2 1260.7L457.3 1272.4L458.3 1283.0L459.3 1292.4L460.3 1300.8L461.4 1308.3L462.4 1314.9L463.4 1320.5L464.4 1325.1L465.5 1328.3L466.5 1330.1L467.5 1330.2L468.5 1328.8L469.6 1325.8L470.6 1321.4L471.6 1315.8L472.6 1309.4L473.6 1302.3L474.7 1294.6L475.7 1286.2L476.7 1277.1L477.7 1267.3L478.8 1257.0L479.8 1246.3L480.8 1235.5L481.8 1224.7L482.9 1214.1L483.9 1203.7L484.9 1193.4L485.9 1183.3L487.0 1173.5L488.0 1164.3L489.0 1155.8L490.0 1148.2L491.0 1141.3L492.1 1135.2L493.1 1129.7L494.1 1124.9L495.1 1120.7L496.2 1117.5L497.2 1115.1L498.2 1113.9L499.2 1113.8L500.3 1114.8L501.3 1116.9L502.3 1120.0L503.3 1123.9L504.3 1128.5L505.4 1133.6L506.4 1139.1L507.4 1145.1L508.4 1151.4L509.5 1158.3L510.5 1165.7L511.5 1173.4L512.5 1181.4L513.6 1189.6L514.6 1197.8L515.6 1205.9L516.6 1214.0L517.7 1222.0L518.7 1230.1L519.7 1238.1L520.7 1246.1L521.7 1254.0L522.8 1261.8L523.8 1269.4L524.8 1276.8L525.8 1284.0L526.9 1291.0L527.9 1297.7L528.9 1304.0L529.9 1309.7L531.0 1314.6L532.0 1318.6L533.0 1322.0L534.0 1324.8L535.0 1327.0L536.1 1328.7L537.1 1329.9L538.1 1330.5L539.1 1330.6L540.2 1330.4L541.2 1329.8L542.2 1329.0L543.2 1327.9L544.3 1326.7L545.3 1325.3L546.3 1323.8L547.3 1322.2L548.4 1320.7L549.4 1319.2L550.4 1317.7L551.4 1316.3L552.4 1315.0L553.5 1313.6L554.5 1312.4L555.5 1311.2L556.5 1310.1L557.6 1309.1L558.6 1308.3L559.6 1307.7L560.6 1307.2L561.7 1307.0L562.7 1307.0L563.7 1307.2L564.7 1307.5L565.8 1307.9L566.8 1308.4L567.8 1309.0L568.8 1309.7L569.8 1310.3L570.9 1311.0L571.9 1311.7L572.9 1312.5L573.9 1313.2L575.0 1314.0L576.0 1314.7L577.0 1315.4L578.0 1316.1L579.1 1316.7L580.1 1317.2L581.1 1317.5L582.1 1317.8L583.1 1317.8L584.2 1317.8L585.2 1317.5L586.2 1317.2L587.2 1316.7L588.3 1316.2L589.3 1315.5L590.3 1314.9L591.3 1314.1L592.4 1313.4L593.4 1312.7L594.4 1312.0L595.4 1311.2L596.5 1310.5L597.5 1309.8L598.5 1309.1L599.5 1308.4L600.5 1307.7L601.6 1307.1L602.6 1306.5L603.6 1306.0L604.6 1305.5L605.7 1305.1L606.7 1304.9L607.7 1304.7L608.7 1304.6L609.8 1304.6L610.8 1304.8L611.8 1305.2L612.8 1305.7L613.8 1306.3L614.9 1307.1L615.9 1307.9L616.9 1308.9L617.9 1309.8L619.0 1310.9L620.0 1311.9L621.0 1312.9L622.0 1313.9L623.1 1314.9L624.1 1315.8L625.1 1316.7L626.1 1317.6L627.2 1318.4L628.2 1319.2L629.2 1319.9L630.2 1320.6L631.2 1321.2L632.3 1321.7L633.3 1322.0L634.3 1322.2L635.3 1322.3L636.4 1322.2L637.4 1321.9L638.4 1321.5L639.4 1320.9L640.5 1320.2L641.5 1319.3L642.5 1318.4L643.5 1317.4L644.5 1316.3L645.6 1315.2L646.6 1314.1L647.6 1313.0L648.6 1311.9L649.7 1310.9L650.7 1309.9L651.7 1309.0L652.7 1308.2L653.8 1307.3L654.8 1306.6L655.8 1305.8L656.8 1305.1L657.9 1304.5L658.9 1303.9L659.9 1303.3L660.9 1302.9L661.9 1302.5L663.0 1302.2L664.0 1302.0L665.0 1301.9L666.0 1301.9L667.1 1302.0L668.1 1302.2L669.1 1302.5L670.1 1302.8L671.2 1303.3L672.2 1303.8L673.2 1304.4L674.2 1305.1L675.3 1305.7L676.3 1306.5L677.3 1307.2L678.3 1308.0L679.3 1308.8L680.4 1309.6L681.4 1310.4L682.4 1311.3L683.4 1312.2L684.5 1313.2L685.5 1314.2L686.5 1315.2L687.5 1316.2L688.6 1317.1L689.6 1318.1L690.6 1319.0L691.6 1319.9L692.6 1320.7L693.7 1321.4L694.7 1322.1L695.7 1322.7L696.7 1323.2L697.8 1323.7L698.8 1324.2L699.8 1324.6L700.8 1325.0L701.9 1325.3L702.9 1325.6L703.9 1325.9L704.9 1326.2L706.0 1326.4L707.0 1326.6L708.0 1326.8L709.0 1327.0L710.0 1327.1L711.1 1327.2L712.1 1327.3L713.1 1327.4L714.1 1327.4L715.2 1327.5L716.2 1327.5L717.2 1327.6L718.2 1327.6L719.3 1327.6L720.3 1327.7L721.3 1327.7L722.3 1327.7L723.3 1327.7L724.4 1327.8L725.4 1327.8L726.4 1327.9L727.4 1327.9L728.5 1328.0L729.5 1328.0L730.5 1328.1L731.5 1328.2L732.6 1328.3L733.6 1328.4L734.6 1328.5L735.6 1328.7L736.7 1328.9L737.7 1329.0L738.7 1329.1" fill="none" stroke="#ee1c25" stroke-width="3" stroke-dasharray="7.6 4" stroke-linejoin="round"/>
<rect x="125.6" y="885.0" width="613.4" height="458.0" fill="none" stroke="#000" stroke-width="1.7"/>
<line x1="125.6" y1="1332.0" x2="135.1" y2="1332.0" stroke="#000" stroke-width="1.6"/>
<text x="113.1" y="1345.5" text-anchor="end" font-size="40">0</text>
<line x1="125.6" y1="1278.8" x2="130.6" y2="1278.8" stroke="#000" stroke-width="1.6"/>
<line x1="125.6" y1="1225.6" x2="135.1" y2="1225.6" stroke="#000" stroke-width="1.6"/>
<text x="113.1" y="1239.1" text-anchor="end" font-size="40">5</text>
<line x1="125.6" y1="1172.4" x2="130.6" y2="1172.4" stroke="#000" stroke-width="1.6"/>
<line x1="125.6" y1="1119.2" x2="135.1" y2="1119.2" stroke="#000" stroke-width="1.6"/>
<text x="113.1" y="1132.7" text-anchor="end" font-size="40">10</text>
<line x1="125.6" y1="1066.0" x2="130.6" y2="1066.0" stroke="#000" stroke-width="1.6"/>
<line x1="125.6" y1="1012.8" x2="135.1" y2="1012.8" stroke="#000" stroke-width="1.6"/>
<text x="113.1" y="1026.3" text-anchor="end" font-size="40">15</text>
<line x1="125.6" y1="959.6" x2="130.6" y2="959.6" stroke="#000" stroke-width="1.6"/>
<line x1="125.6" y1="906.4" x2="135.1" y2="906.4" stroke="#000" stroke-width="1.6"/>
<text x="113.1" y="919.9" text-anchor="end" font-size="40">20</text>
<line x1="125.7" y1="1343.0" x2="125.7" y2="1333.0" stroke="#000" stroke-width="1.6"/>
<text x="122.7" y="1385.5" text-anchor="middle" font-size="40">-5.0</text>
<line x1="202.3" y1="1343.0" x2="202.3" y2="1338.0" stroke="#000" stroke-width="1.6"/>
<line x1="278.9" y1="1343.0" x2="278.9" y2="1333.0" stroke="#000" stroke-width="1.6"/>
<text x="275.9" y="1385.5" text-anchor="middle" font-size="40">-2.5</text>
<line x1="355.6" y1="1343.0" x2="355.6" y2="1338.0" stroke="#000" stroke-width="1.6"/>
<line x1="432.2" y1="1343.0" x2="432.2" y2="1333.0" stroke="#000" stroke-width="1.6"/>
<text x="432.2" y="1385.5" text-anchor="middle" font-size="40">0.0</text>
<line x1="508.8" y1="1343.0" x2="508.8" y2="1338.0" stroke="#000" stroke-width="1.6"/>
<line x1="585.5" y1="1343.0" x2="585.5" y2="1333.0" stroke="#000" stroke-width="1.6"/>
<text x="585.5" y="1385.5" text-anchor="middle" font-size="40">2.5</text>
<line x1="662.1" y1="1343.0" x2="662.1" y2="1338.0" stroke="#000" stroke-width="1.6"/>
<line x1="738.7" y1="1343.0" x2="738.7" y2="1333.0" stroke="#000" stroke-width="1.6"/>
<text x="738.7" y="1385.5" text-anchor="middle" font-size="40">5.0</text>
<line x1="433.7" y1="909.3" x2="487.7" y2="909.3" stroke="#000" stroke-width="3"/>
<line x1="433.7" y1="956.1" x2="482.7" y2="956.1" stroke="#ee1c25" stroke-width="2.8" stroke-dasharray="7.2 3.3"/>
<text x="497.5" y="916.5" font-size="36" textLength="183" lengthAdjust="spacingAndGlyphs">with obstacle</text>
<text x="497.5" y="963.3" font-size="36" textLength="237.5" lengthAdjust="spacingAndGlyphs">without obstacle</text>
<text x="431.0" y="1432.0" font-size="49" text-anchor="middle"><tspan font-style="italic">x</tspan><tspan dx="1.5">(</tspan><tspan font-style="italic" dx="1.5">λ</tspan><tspan font-size="30.4" dy="9">0</tspan><tspan dy="-9" dx="3">)</tspan></text>
<text transform="translate(51.6 1172.0) rotate(-90)" font-size="46"><tspan font-size="42.3" dy="-2">|</tspan><tspan dy="2" dx="6" font-style="italic">p</tspan><tspan font-style="italic" dx="1">/</tspan><tspan font-style="italic" dx="1">p</tspan><tspan font-size="27.6" dy="17" dx="-2">0</tspan><tspan font-size="42.3" dy="-19" dx="5">|</tspan><tspan font-size="25.3" dy="-24" dx="3">2</tspan></text>
</g><g id="plotD">
<path d="M877.8 1327.1L878.7 1326.9L879.5 1326.6L880.4 1326.3L881.3 1326.0L882.2 1325.7L883.1 1325.5L883.9 1325.3L884.8 1325.1L885.7 1324.9L886.6 1324.8L887.4 1324.7L888.3 1324.6L889.2 1324.5L890.1 1324.5L891.0 1324.4L891.8 1324.4L892.7 1324.4L893.6 1324.5L894.5 1324.5L895.3 1324.6L896.2 1324.6L897.1 1324.7L898.0 1324.8L898.9 1324.9L899.7 1325.0L900.6 1325.2L901.5 1325.3L902.4 1325.4L903.3 1325.5L904.1 1325.7L905.0 1325.8L905.9 1325.9L906.8 1326.0L907.6 1326.1L908.5 1326.2L909.4 1326.2L910.3 1326.3L911.2 1326.3L912.0 1326.3L912.9 1326.2L913.8 1326.1L914.7 1326.0L915.5 1325.9L916.4 1325.7L917.3 1325.4L918.2 1325.2L919.1 1324.8L919.9 1324.5L920.8 1324.1L921.7 1323.7L922.6 1323.2L923.4 1322.8L924.3 1322.3L925.2 1321.8L926.1 1321.3L927.0 1320.8L927.8 1320.2L928.7 1319.7L929.6 1319.2L930.5 1318.6L931.4 1318.1L932.2 1317.6L933.1 1317.0L934.0 1316.5L934.9 1315.9L935.7 1315.4L936.6 1314.8L937.5 1314.3L938.4 1313.7L939.3 1313.2L940.1 1312.7L941.0 1312.2L941.9 1311.8L942.8 1311.3L943.6 1311.0L944.5 1310.7L945.4 1310.4L946.3 1310.2L947.2 1310.1L948.0 1310.0L948.9 1310.0L949.8 1310.1L950.7 1310.3L951.5 1310.4L952.4 1310.7L953.3 1311.0L954.2 1311.3L955.1 1311.6L955.9 1312.0L956.8 1312.4L957.7 1312.8L958.6 1313.2L959.5 1313.6L960.3 1314.0L961.2 1314.4L962.1 1314.8L963.0 1315.2L963.8 1315.6L964.7 1316.0L965.6 1316.4L966.5 1316.8L967.4 1317.1L968.2 1317.4L969.1 1317.7L970.0 1317.9L970.9 1318.0L971.7 1318.1L972.6 1318.1L973.5 1318.0L974.4 1317.8L975.3 1317.6L976.1 1317.3L977.0 1316.9L977.9 1316.4L978.8 1315.9L979.6 1315.3L980.5 1314.6L981.4 1313.9L982.3 1313.2L983.2 1312.3L984.0 1311.4L984.9 1310.3L985.8 1309.2L986.7 1308.0L987.6 1306.7L988.4 1305.3L989.3 1303.8L990.2 1302.3L991.1 1300.7L991.9 1299.1L992.8 1297.5L993.7 1295.9L994.6 1294.3L995.5 1292.7L996.3 1291.1L997.2 1289.6L998.1 1288.1L999.0 1286.6L999.8 1285.1L1000.7 1283.6L1001.6 1282.1L1002.5 1280.7L1003.4 1279.3L1004.2 1277.9L1005.1 1276.6L1006.0 1275.3L1006.9 1274.1L1007.7 1273.0L1008.6 1271.9L1009.5 1271.0L1010.4 1270.2L1011.3 1269.6L1012.1 1269.0L1013.0 1268.6L1013.9 1268.4L1014.8 1268.3L1015.7 1268.4L1016.5 1268.6L1017.4 1268.9L1018.3 1269.4L1019.2 1269.9L1020.0 1270.6L1020.9 1271.4L1021.8 1272.2L1022.7 1273.2L1023.6 1274.2L1024.4 1275.3L1025.3 1276.4L1026.2 1277.6L1027.1 1278.9L1027.9 1280.2L1028.8 1281.5L1029.7 1282.9L1030.6 1284.3L1031.5 1285.9L1032.3 1287.4L1033.2 1289.1L1034.1 1290.8L1035.0 1292.5L1035.8 1294.2L1036.7 1295.9L1037.6 1297.6L1038.5 1299.1L1039.4 1300.6L1040.2 1302.1L1041.1 1303.4L1042.0 1304.6L1042.9 1305.8L1043.8 1306.9L1044.6 1308.0L1045.5 1308.9L1046.4 1309.7L1047.3 1310.4L1048.1 1311.0L1049.0 1311.4L1049.9 1311.6L1050.8 1311.7L1051.7 1311.6L1052.5 1311.3L1053.4 1310.9L1054.3 1310.2L1055.2 1309.5L1056.0 1308.5L1056.9 1307.4L1057.8 1306.2L1058.7 1304.8L1059.6 1303.3L1060.4 1301.6L1061.3 1299.6L1062.2 1297.4L1063.1 1295.0L1063.9 1292.3L1064.8 1289.4L1065.7 1286.4L1066.6 1283.1L1067.5 1279.7L1068.3 1276.2L1069.2 1272.6L1070.1 1268.9L1071.0 1265.0L1071.9 1261.0L1072.7 1256.8L1073.6 1252.5L1074.5 1248.0L1075.4 1243.5L1076.2 1238.9L1077.1 1234.3L1078.0 1229.8L1078.9 1225.3L1079.8 1221.0L1080.6 1216.9L1081.5 1213.0L1082.4 1209.3L1083.3 1205.8L1084.1 1202.6L1085.0 1199.6L1085.9 1196.8L1086.8 1194.1L1087.7 1191.6L1088.5 1189.2L1089.4 1187.1L1090.3 1185.3L1091.2 1183.7L1092.0 1182.4L1092.9 1181.4L1093.8 1180.7L1094.7 1180.3L1095.6 1180.4L1096.4 1180.9L1097.3 1181.8L1098.2 1183.2L1099.1 1185.1L1100.0 1187.3L1100.8 1189.9L1101.7 1192.9L1102.6 1196.1L1103.5 1199.6L1104.3 1203.4L1105.2 1207.3L1106.1 1211.5L1107.0 1215.9L1107.9 1220.5L1108.7 1225.5L1109.6 1230.7L1110.5 1236.3L1111.4 1242.0L1112.2 1247.8L1113.1 1253.8L1114.0 1259.7L1114.9 1265.6L1115.8 1271.3L1116.6 1276.9L1117.5 1282.2L1118.4 1287.5L1119.3 1292.5L1120.1 1297.5L1121.0 1302.2L1121.9 1306.8L1122.8 1311.0L1123.7 1314.9L1124.5 1318.3L1125.4 1321.2L1126.3 1323.5L1127.2 1325.1L1128.1 1325.9L1128.9 1325.9L1129.8 1325.0L1130.7 1323.1L1131.6 1320.4L1132.4 1316.7L1133.3 1312.3L1134.2 1307.2L1135.1 1301.5L1136.0 1295.3L1136.8 1288.5L1137.7 1281.3L1138.6 1273.4L1139.5 1265.0L1140.3 1255.8L1141.2 1246.0L1142.1 1235.5L1143.0 1224.5L1143.9 1213.0L1144.7 1201.1L1145.6 1188.7L1146.5 1175.7L1147.4 1162.3L1148.2 1148.6L1149.1 1134.7L1150.0 1120.9L1150.9 1107.5L1151.8 1094.7L1152.6 1082.8L1153.5 1071.9L1154.4 1062.0L1155.3 1053.1L1156.2 1045.0L1157.0 1037.7L1157.9 1031.0L1158.8 1024.9L1159.7 1019.3L1160.5 1014.2L1161.4 1009.5L1162.3 1005.1L1163.2 1001.2L1164.1 998.0L1164.9 995.5L1165.8 994.1L1166.7 993.8L1167.6 994.7L1168.4 996.8L1169.3 1000.1L1170.2 1004.5L1171.1 1009.8L1172.0 1015.9L1172.8 1022.8L1173.7 1030.5L1174.6 1038.9L1175.5 1048.2L1176.3 1058.1L1177.2 1068.6L1178.1 1079.4L1179.0 1090.5L1179.9 1101.8L1180.7 1113.3L1181.6 1124.8L1182.5 1136.5L1183.4 1148.3L1184.3 1160.1L1185.1 1171.8L1186.0 1183.2L1186.9 1194.4L1187.8 1205.1L1188.6 1215.5L1189.5 1225.4L1190.4 1235.0L1191.3 1244.1L1192.2 1252.9L1193.0 1261.1L1193.9 1268.9L1194.8 1276.1L1195.7 1282.6L1196.5 1288.6L1197.4 1293.9L1198.3 1298.5L1199.2 1302.3L1200.1 1305.2L1200.9 1306.8L1201.8 1307.2L1202.7 1306.2L1203.6 1303.9L1204.4 1300.4L1205.3 1295.9L1206.2 1290.7L1207.1 1284.6L1208.0 1277.9L1208.8 1270.6L1209.7 1262.6L1210.6 1254.0L1211.5 1245.0L1212.4 1235.8L1213.2 1226.6L1214.1 1217.4L1215.0 1208.4L1215.9 1199.6L1216.7 1191.1L1217.6 1182.9L1218.5 1174.9L1219.4 1167.3L1220.3 1159.9L1221.1 1153.0L1222.0 1146.6L1222.9 1140.6L1223.8 1135.2L1224.6 1130.2L1225.5 1125.8L1226.4 1121.7L1227.3 1118.2L1228.2 1115.2L1229.0 1112.6L1229.9 1110.5L1230.8 1108.9L1231.7 1107.7L1232.5 1107.1L1233.4 1107.2L1234.3 1107.9L1235.2 1109.4L1236.1 1111.7L1236.9 1114.6L1237.8 1118.1L1238.7 1122.1L1239.6 1126.7L1240.5 1131.7L1241.3 1137.3L1242.2 1143.4L1243.1 1149.9L1244.0 1156.8L1244.8 1164.0L1245.7 1171.4L1246.6 1178.9L1247.5 1186.4L1248.4 1194.0L1249.2 1201.6L1250.1 1209.3L1251.0 1216.9L1251.9 1224.5L1252.7 1231.9L1253.6 1239.1L1254.5 1246.0L1255.4 1252.7L1256.3 1259.0L1257.1 1265.1L1258.0 1270.9L1258.9 1276.4L1259.8 1281.6L1260.6 1286.5L1261.5 1291.0L1262.4 1295.2L1263.3 1299.1L1264.2 1302.6L1265.0 1305.8L1265.9 1308.6L1266.8 1310.9L1267.7 1312.6L1268.6 1313.7L1269.4 1314.1L1270.3 1314.0L1271.2 1313.3L1272.1 1312.2L1272.9 1310.7L1273.8 1308.9L1274.7 1306.8L1275.6 1304.5L1276.5 1302.0L1277.3 1299.3L1278.2 1296.3L1279.1 1293.3L1280.0 1290.1L1280.8 1287.0L1281.7 1284.0L1282.6 1281.2L1283.5 1278.6L1284.4 1276.3L1285.2 1274.2L1286.1 1272.3L1287.0 1270.6L1287.9 1269.1L1288.7 1267.8L1289.6 1266.8L1290.5 1266.0L1291.4 1265.5L1292.3 1265.4L1293.1 1265.6L1294.0 1266.1L1294.9 1267.1L1295.8 1268.3L1296.7 1270.0L1297.5 1271.9L1298.4 1274.0L1299.3 1276.3L1300.2 1278.8L1301.0 1281.5L1301.9 1284.3L1302.8 1287.3L1303.7 1290.5L1304.6 1293.7L1305.4 1296.9L1306.3 1300.0L1307.2 1303.0L1308.1 1305.8L1308.9 1308.4L1309.8 1310.8L1310.7 1313.1L1311.6 1315.3L1312.5 1317.3L1313.3 1319.1L1314.2 1320.8L1315.1 1322.3L1316.0 1323.7L1316.8 1324.9L1317.7 1325.9L1318.6 1326.6L1319.5 1327.0L1320.4 1326.8L1321.2 1326.2L1322.1 1325.1L1323.0 1323.6L1323.9 1321.6L1324.8 1319.3L1325.6 1316.6L1326.5 1313.6L1327.4 1310.1L1328.3 1306.3L1329.1 1302.1L1330.0 1297.7L1330.9 1293.0L1331.8 1288.1L1332.7 1282.9L1333.5 1277.6L1334.4 1272.2L1335.3 1266.7L1336.2 1261.1L1337.0 1255.7L1337.9 1250.3L1338.8 1245.1L1339.7 1239.9L1340.6 1235.0L1341.4 1230.2L1342.3 1225.6L1343.2 1221.2L1344.1 1217.1L1344.9 1213.2L1345.8 1209.5L1346.7 1206.0L1347.6 1202.8L1348.5 1200.0L1349.3 1197.4L1350.2 1195.2L1351.1 1193.2L1352.0 1191.5L1352.9 1190.2L1353.7 1189.1L1354.6 1188.5L1355.5 1188.3L1356.4 1188.6L1357.2 1189.3L1358.1 1190.5L1359.0 1192.2L1359.9 1194.2L1360.8 1196.5L1361.6 1199.0L1362.5 1201.9L1363.4 1205.0L1364.3 1208.4L1365.1 1212.1L1366.0 1216.1L1366.9 1220.3L1367.8 1224.7L1368.7 1229.3L1369.5 1234.1L1370.4 1239.0L1371.3 1244.1L1372.2 1249.2L1373.0 1254.2L1373.9 1259.2L1374.8 1264.0L1375.7 1268.7L1376.6 1273.2L1377.4 1277.6L1378.3 1281.9L1379.2 1285.9L1380.1 1289.8L1381.0 1293.5L1381.8 1297.1L1382.7 1300.5L1383.6 1303.6L1384.5 1306.6L1385.3 1309.2L1386.2 1311.6L1387.1 1313.7L1388.0 1315.6L1388.9 1317.3L1389.7 1318.7L1390.6 1320.0L1391.5 1321.0L1392.4 1321.9L1393.2 1322.6L1394.1 1323.1L1395.0 1323.5L1395.9 1323.6L1396.8 1323.4L1397.6 1323.1L1398.5 1322.6L1399.4 1321.9L1400.3 1321.1L1401.1 1320.2L1402.0 1319.4L1402.9 1318.5L1403.8 1317.6L1404.7 1316.7L1405.5 1315.8L1406.4 1314.9L1407.3 1314.1L1408.2 1313.3L1409.1 1312.6L1409.9 1311.9L1410.8 1311.2L1411.7 1310.7L1412.6 1310.2L1413.4 1309.8L1414.3 1309.5L1415.2 1309.3L1416.1 1309.3L1417.0 1309.5L1417.8 1309.8L1418.7 1310.2L1419.6 1310.8L1420.5 1311.5L1421.3 1312.2L1422.2 1313.0L1423.1 1313.8L1424.0 1314.7L1424.9 1315.6L1425.7 1316.6L1426.6 1317.5L1427.5 1318.5L1428.4 1319.5L1429.2 1320.5L1430.1 1321.4L1431.0 1322.2L1431.9 1322.9L1432.8 1323.6L1433.6 1324.1L1434.5 1324.6L1435.4 1325.0L1436.3 1325.3L1437.2 1325.5L1438.0 1325.6L1438.9 1325.5L1439.8 1325.3L1440.7 1325.0L1441.5 1324.5L1442.4 1323.9L1443.3 1323.2L1444.2 1322.3L1445.1 1321.4L1445.9 1320.3L1446.8 1319.0L1447.7 1317.6L1448.6 1315.9L1449.4 1314.2L1450.3 1312.2L1451.2 1310.2L1452.1 1308.0L1453.0 1305.9L1453.8 1303.6L1454.7 1301.4L1455.6 1299.0L1456.5 1296.7L1457.3 1294.4L1458.2 1292.0L1459.1 1289.7L1460.0 1287.4L1460.9 1285.2L1461.7 1283.1L1462.6 1281.1L1463.5 1279.2L1464.4 1277.3L1465.3 1275.6L1466.1 1273.9L1467.0 1272.4L1467.9 1271.0L1468.8 1269.7L1469.6 1268.5L1470.5 1267.5L1471.4 1266.6L1472.3 1265.8L1473.2 1265.0L1474.0 1264.4L1474.9 1263.9L1475.8 1263.6L1476.7 1263.4L1477.5 1263.4L1478.4 1263.5L1479.3 1263.8L1480.2 1264.3L1481.1 1264.9L1481.9 1265.6L1482.8 1266.5L1483.7 1267.4L1484.6 1268.4L1485.4 1269.5L1486.3 1270.7L1487.2 1272.0L1488.1 1273.3L1489.0 1274.7L1489.8 1276.1L1490.7 1277.3L1491.6 1278.3" fill="none" stroke="#000" stroke-width="3.1" stroke-linejoin="round"/>
<path d="M877.8 1317.6L878.7 1317.6L879.5 1317.5L880.4 1317.5L881.3 1317.5L882.2 1317.5L883.1 1317.5L883.9 1317.5L884.8 1317.5L885.7 1317.5L886.6 1317.5L887.4 1317.5L888.3 1317.5L889.2 1317.6L890.1 1317.6L891.0 1317.6L891.8 1317.6L892.7 1317.6L893.6 1317.6L894.5 1317.6L895.3 1317.6L896.2 1317.6L897.1 1317.5L898.0 1317.5L898.9 1317.4L899.7 1317.3L900.6 1317.1L901.5 1316.9L902.4 1316.7L903.3 1316.5L904.1 1316.3L905.0 1316.0L905.9 1315.7L906.8 1315.4L907.6 1315.0L908.5 1314.6L909.4 1314.2L910.3 1313.6L911.2 1313.1L912.0 1312.5L912.9 1311.8L913.8 1311.0L914.7 1310.2L915.5 1309.4L916.4 1308.5L917.3 1307.6L918.2 1306.6L919.1 1305.5L919.9 1304.5L920.8 1303.4L921.7 1302.2L922.6 1300.9L923.4 1299.6L924.3 1298.3L925.2 1296.9L926.1 1295.4L927.0 1294.0L927.8 1292.5L928.7 1291.1L929.6 1289.7L930.5 1288.3L931.4 1287.0L932.2 1285.8L933.1 1284.7L934.0 1283.7L934.9 1282.7L935.7 1281.9L936.6 1281.1L937.5 1280.3L938.4 1279.7L939.3 1279.1L940.1 1278.6L941.0 1278.1L941.9 1277.8L942.8 1277.6L943.6 1277.5L944.5 1277.5L945.4 1277.6L946.3 1277.8L947.2 1278.0L948.0 1278.3L948.9 1278.7L949.8 1279.1L950.7 1279.6L951.5 1280.1L952.4 1280.7L953.3 1281.2L954.2 1281.8L955.1 1282.4L955.9 1283.0L956.8 1283.6L957.7 1284.3L958.6 1285.0L959.5 1285.6L960.3 1286.3L961.2 1287.0L962.1 1287.6L963.0 1288.3L963.8 1288.9L964.7 1289.4L965.6 1289.9L966.5 1290.4L967.4 1290.7L968.2 1291.0L969.1 1291.2L970.0 1291.4L970.9 1291.3L971.7 1291.2L972.6 1291.0L973.5 1290.6L974.4 1290.2L975.3 1289.6L976.1 1288.9L977.0 1288.1L977.9 1287.2L978.8 1286.2L979.6 1285.0L980.5 1283.8L981.4 1282.4L982.3 1280.8L983.2 1279.0L984.0 1277.1L984.9 1275.0L985.8 1272.7L986.7 1270.4L987.6 1267.9L988.4 1265.4L989.3 1262.8L990.2 1260.2L991.1 1257.5L991.9 1254.9L992.8 1252.3L993.7 1249.7L994.6 1247.2L995.5 1244.6L996.3 1242.1L997.2 1239.5L998.1 1237.0L999.0 1234.6L999.8 1232.2L1000.7 1230.0L1001.6 1227.8L1002.5 1225.8L1003.4 1224.0L1004.2 1222.3L1005.1 1220.8L1006.0 1219.5L1006.9 1218.2L1007.7 1217.0L1008.6 1216.0L1009.5 1215.1L1010.4 1214.3L1011.3 1213.6L1012.1 1213.1L1013.0 1212.7L1013.9 1212.5L1014.8 1212.4L1015.7 1212.5L1016.5 1212.7L1017.4 1213.2L1018.3 1213.7L1019.2 1214.5L1020.0 1215.3L1020.9 1216.3L1021.8 1217.5L1022.7 1218.7L1023.6 1220.1L1024.4 1221.6L1025.3 1223.2L1026.2 1225.0L1027.1 1226.9L1027.9 1229.1L1028.8 1231.4L1029.7 1233.8L1030.6 1236.4L1031.5 1239.0L1032.3 1241.6L1033.2 1244.3L1034.1 1246.9L1035.0 1249.3L1035.8 1251.7L1036.7 1254.0L1037.6 1256.2L1038.5 1258.3L1039.4 1260.3L1040.2 1262.3L1041.1 1264.2L1042.0 1266.0L1042.9 1267.8L1043.8 1269.4L1044.6 1270.9L1045.5 1272.3L1046.4 1273.6L1047.3 1274.8L1048.1 1275.7L1049.0 1276.6L1049.9 1277.2L1050.8 1277.7L1051.7 1278.0L1052.5 1278.1L1053.4 1278.0L1054.3 1277.8L1055.2 1277.5L1056.0 1276.9L1056.9 1276.2L1057.8 1275.3L1058.7 1274.3L1059.6 1273.1L1060.4 1271.6L1061.3 1270.0L1062.2 1268.1L1063.1 1265.9L1063.9 1263.4L1064.8 1260.5L1065.7 1257.4L1066.6 1253.9L1067.5 1250.2L1068.3 1246.3L1069.2 1242.3L1070.1 1238.3L1071.0 1234.1L1071.9 1230.0L1072.7 1225.9L1073.6 1221.7L1074.5 1217.6L1075.4 1213.4L1076.2 1209.2L1077.1 1205.0L1078.0 1200.7L1078.9 1196.5L1079.8 1192.4L1080.6 1188.2L1081.5 1184.2L1082.4 1180.2L1083.3 1176.3L1084.1 1172.5L1085.0 1168.8L1085.9 1165.3L1086.8 1161.8L1087.7 1158.4L1088.5 1155.1L1089.4 1152.0L1090.3 1148.9L1091.2 1146.0L1092.0 1143.2L1092.9 1140.5L1093.8 1138.0L1094.7 1135.7L1095.6 1133.6L1096.4 1131.8L1097.3 1130.4L1098.2 1129.6L1099.1 1129.5L1100.0 1130.0L1100.8 1131.2L1101.7 1133.1L1102.6 1135.5L1103.5 1138.4L1104.3 1141.9L1105.2 1145.8L1106.1 1150.3L1107.0 1155.3L1107.9 1160.7L1108.7 1166.4L1109.6 1172.3L1110.5 1178.3L1111.4 1184.3L1112.2 1190.3L1113.1 1196.4L1114.0 1202.4L1114.9 1208.6L1115.8 1214.9L1116.6 1221.4L1117.5 1228.0L1118.4 1235.0L1119.3 1242.2L1120.1 1249.6L1121.0 1257.3L1121.9 1265.1L1122.8 1272.9L1123.7 1280.5L1124.5 1287.8L1125.4 1294.7L1126.3 1301.2L1127.2 1307.2L1128.1 1312.6L1128.9 1317.4L1129.8 1321.3L1130.7 1324.1L1131.6 1325.8L1132.4 1326.1L1133.3 1325.1L1134.2 1322.8L1135.1 1319.4L1136.0 1315.0L1136.8 1309.7L1137.7 1303.6L1138.6 1296.8L1139.5 1289.3L1140.3 1281.0L1141.2 1272.0L1142.1 1262.2L1143.0 1251.6L1143.9 1240.2L1144.7 1228.2L1145.6 1215.8L1146.5 1203.0L1147.4 1190.0L1148.2 1176.9L1149.1 1163.5L1150.0 1150.1L1150.9 1136.5L1151.8 1122.9L1152.6 1109.4L1153.5 1096.3L1154.4 1083.5L1155.3 1071.4L1156.2 1059.8L1157.0 1049.0L1157.9 1038.7L1158.8 1029.0L1159.7 1019.9L1160.5 1011.4L1161.4 1003.7L1162.3 996.7L1163.2 990.6L1164.1 985.3L1164.9 980.8L1165.8 977.0L1166.7 973.8L1167.6 971.3L1168.4 969.5L1169.3 968.4L1170.2 968.2L1171.1 968.8L1172.0 970.4L1172.8 972.9L1173.7 976.4L1174.6 980.6L1175.5 985.8L1176.3 991.8L1177.2 998.6L1178.1 1006.5L1179.0 1015.3L1179.9 1024.9L1180.7 1035.1L1181.6 1045.9L1182.5 1056.9L1183.4 1068.2L1184.3 1079.6L1185.1 1091.1L1186.0 1102.8L1186.9 1114.6L1187.8 1126.4L1188.6 1138.3L1189.5 1150.0L1190.4 1161.6L1191.3 1173.1L1192.2 1184.5L1193.0 1195.7L1193.9 1206.7L1194.8 1217.6L1195.7 1228.1L1196.5 1238.2L1197.4 1247.9L1198.3 1257.1L1199.2 1265.7L1200.1 1273.7L1200.9 1281.2L1201.8 1288.0L1202.7 1293.9L1203.6 1298.7L1204.4 1302.3L1205.3 1304.5L1206.2 1305.3L1207.1 1305.0L1208.0 1303.6L1208.8 1301.3L1209.7 1298.3L1210.6 1294.7L1211.5 1290.5L1212.4 1285.7L1213.2 1280.3L1214.1 1274.4L1215.0 1267.9L1215.9 1261.1L1216.7 1254.0L1217.6 1246.7L1218.5 1239.2L1219.4 1231.5L1220.3 1223.7L1221.1 1215.8L1222.0 1208.0L1222.9 1200.4L1223.8 1193.2L1224.6 1186.5L1225.5 1180.3L1226.4 1174.7L1227.3 1169.7L1228.2 1165.3L1229.0 1161.5L1229.9 1158.1L1230.8 1155.4L1231.7 1153.1L1232.5 1151.3L1233.4 1149.8L1234.3 1148.7L1235.2 1148.0L1236.1 1147.6L1236.9 1147.6L1237.8 1148.1L1238.7 1149.1L1239.6 1150.6L1240.5 1152.6L1241.3 1155.2L1242.2 1158.4L1243.1 1162.1L1244.0 1166.5L1244.8 1171.5L1245.7 1177.3L1246.6 1183.7L1247.5 1190.5L1248.4 1197.6L1249.2 1204.7L1250.1 1211.7L1251.0 1218.5L1251.9 1225.1L1252.7 1231.5L1253.6 1237.7L1254.5 1243.7L1255.4 1249.5L1256.3 1255.1L1257.1 1260.5L1258.0 1265.7L1258.9 1270.7L1259.8 1275.6L1260.6 1280.2L1261.5 1284.8L1262.4 1289.1L1263.3 1293.2L1264.2 1297.0L1265.0 1300.6L1265.9 1303.9L1266.8 1306.9L1267.7 1309.7L1268.6 1312.2L1269.4 1314.3L1270.3 1316.1L1271.2 1317.5L1272.1 1318.4L1272.9 1318.7L1273.8 1318.3L1274.7 1317.4L1275.6 1315.9L1276.5 1313.9L1277.3 1311.6L1278.2 1309.2L1279.1 1306.6L1280.0 1304.0L1280.8 1301.4L1281.7 1298.9L1282.6 1296.3L1283.5 1293.9L1284.4 1291.6L1285.2 1289.6L1286.1 1287.8L1287.0 1286.2L1287.9 1284.8L1288.7 1283.5L1289.6 1282.5L1290.5 1281.5L1291.4 1280.7L1292.3 1280.1L1293.1 1279.6L1294.0 1279.2L1294.9 1279.0L1295.8 1278.9L1296.7 1279.1L1297.5 1279.4L1298.4 1279.9L1299.3 1280.7L1300.2 1281.6L1301.0 1282.7L1301.9 1283.9L1302.8 1285.3L1303.7 1286.7L1304.6 1288.3L1305.4 1290.0L1306.3 1291.8L1307.2 1293.7L1308.1 1295.8L1308.9 1297.9L1309.8 1300.1L1310.7 1302.2L1311.6 1304.4L1312.5 1306.6L1313.3 1308.7L1314.2 1310.7L1315.1 1312.7L1316.0 1314.6L1316.8 1316.5L1317.7 1318.1L1318.6 1319.6L1319.5 1320.8L1320.4 1321.9L1321.2 1322.6L1322.1 1323.2L1323.0 1323.5L1323.9 1323.5L1324.8 1323.2L1325.6 1322.7L1326.5 1321.8L1327.4 1320.7L1328.3 1319.4L1329.1 1317.8L1330.0 1315.8L1330.9 1313.6L1331.8 1311.0L1332.7 1308.1L1333.5 1304.9L1334.4 1301.5L1335.3 1298.0L1336.2 1294.3L1337.0 1290.5L1337.9 1286.7L1338.8 1282.7L1339.7 1278.7L1340.6 1274.8L1341.4 1271.0L1342.3 1267.3L1343.2 1263.7L1344.1 1260.3L1344.9 1257.0L1345.8 1254.0L1346.7 1251.2L1347.6 1248.6L1348.5 1246.3L1349.3 1244.3L1350.2 1242.5L1351.1 1240.9L1352.0 1239.5L1352.9 1238.4L1353.7 1237.5L1354.6 1236.7L1355.5 1236.1L1356.4 1235.7L1357.2 1235.5L1358.1 1235.5L1359.0 1235.7L1359.9 1236.2L1360.8 1237.0L1361.6 1238.1L1362.5 1239.3L1363.4 1240.9L1364.3 1242.7L1365.1 1244.7L1366.0 1247.1L1366.9 1249.7L1367.8 1252.7L1368.7 1255.8L1369.5 1259.1L1370.4 1262.5L1371.3 1266.0L1372.2 1269.5L1373.0 1273.1L1373.9 1276.6L1374.8 1280.1L1375.7 1283.6L1376.6 1286.9L1377.4 1290.2L1378.3 1293.3L1379.2 1296.3L1380.1 1299.1L1381.0 1301.8L1381.8 1304.4L1382.7 1306.8L1383.6 1309.1L1384.5 1311.1L1385.3 1313.0L1386.2 1314.7L1387.1 1316.2L1388.0 1317.6L1388.9 1318.9L1389.7 1320.1L1390.6 1321.1L1391.5 1322.1L1392.4 1322.9L1393.2 1323.7L1394.1 1324.4L1395.0 1325.0L1395.9 1325.5L1396.8 1326.0L1397.6 1326.4L1398.5 1326.7L1399.4 1326.8L1400.3 1326.9L1401.1 1326.9L1402.0 1326.8L1402.9 1326.6L1403.8 1326.4L1404.7 1326.1L1405.5 1325.7L1406.4 1325.4L1407.3 1325.0L1408.2 1324.7L1409.1 1324.3L1409.9 1324.0L1410.8 1323.7L1411.7 1323.3L1412.6 1323.1L1413.4 1322.8L1414.3 1322.6L1415.2 1322.5L1416.1 1322.4L1417.0 1322.4L1417.8 1322.5L1418.7 1322.6L1419.6 1322.7L1420.5 1322.8L1421.3 1323.0L1422.2 1323.3L1423.1 1323.5L1424.0 1323.8L1424.9 1324.1L1425.7 1324.5L1426.6 1324.9L1427.5 1325.3L1428.4 1325.7L1429.2 1326.1L1430.1 1326.4L1431.0 1326.7L1431.9 1326.9L1432.8 1327.0L1433.6 1327.2L1434.5 1327.2L1435.4 1327.2L1436.3 1327.2L1437.2 1327.2L1438.0 1327.1L1438.9 1327.0L1439.8 1326.8L1440.7 1326.5L1441.5 1326.2L1442.4 1325.8L1443.3 1325.3L1444.2 1324.7L1445.1 1324.1L1445.9 1323.4L1446.8 1322.5L1447.7 1321.6L1448.6 1320.6L1449.4 1319.4L1450.3 1318.2L1451.2 1316.9L1452.1 1315.6L1453.0 1314.2L1453.8 1312.8L1454.7 1311.4L1455.6 1310.0L1456.5 1308.6L1457.3 1307.2L1458.2 1305.7L1459.1 1304.4L1460.0 1303.0L1460.9 1301.8L1461.7 1300.6L1462.6 1299.5L1463.5 1298.5L1464.4 1297.5L1465.3 1296.7L1466.1 1295.9L1467.0 1295.2L1467.9 1294.5L1468.8 1293.9L1469.6 1293.3L1470.5 1292.8L1471.4 1292.4L1472.3 1292.0L1473.2 1291.6L1474.0 1291.3L1474.9 1291.0L1475.8 1290.7L1476.7 1290.6L1477.5 1290.5L1478.4 1290.5L1479.3 1290.7L1480.2 1290.9L1481.1 1291.2L1481.9 1291.5L1482.8 1291.9L1483.7 1292.4L1484.6 1292.9L1485.4 1293.5L1486.3 1294.1L1487.2 1294.7L1488.1 1295.4L1489.0 1296.2L1489.8 1296.9L1490.7 1297.6L1491.6 1298.1" fill="none" stroke="#ee1c25" stroke-width="3" stroke-dasharray="7.6 4" stroke-linejoin="round"/>
<rect x="877.8" y="883.8" width="613.8" height="458.70000000000005" fill="none" stroke="#000" stroke-width="1.7"/>
<line x1="877.8" y1="1328.3" x2="887.3" y2="1328.3" stroke="#000" stroke-width="1.6"/>
<text x="864.3" y="1341.8" text-anchor="end" font-size="40">0</text>
<line x1="877.8" y1="1254.2" x2="882.8" y2="1254.2" stroke="#000" stroke-width="1.6"/>
<line x1="877.8" y1="1180.1" x2="887.3" y2="1180.1" stroke="#000" stroke-width="1.6"/>
<text x="864.3" y="1193.6" text-anchor="end" font-size="40">5</text>
<line x1="877.8" y1="1106.0" x2="882.8" y2="1106.0" stroke="#000" stroke-width="1.6"/>
<line x1="877.8" y1="1031.9" x2="887.3" y2="1031.9" stroke="#000" stroke-width="1.6"/>
<text x="864.3" y="1045.4" text-anchor="end" font-size="40">10</text>
<line x1="877.8" y1="957.8" x2="882.8" y2="957.8" stroke="#000" stroke-width="1.6"/>
<text x="864.3" y="897.2" text-anchor="end" font-size="40">15</text>
<line x1="898.2" y1="1342.5" x2="898.2" y2="1337.5" stroke="#000" stroke-width="1.6"/>
<line x1="975.3" y1="1342.5" x2="975.3" y2="1332.5" stroke="#000" stroke-width="1.6"/>
<text x="975.3" y="1384.5" text-anchor="middle" font-size="40">5.0</text>
<line x1="1052.3" y1="1342.5" x2="1052.3" y2="1337.5" stroke="#000" stroke-width="1.6"/>
<line x1="1129.4" y1="1342.5" x2="1129.4" y2="1332.5" stroke="#000" stroke-width="1.6"/>
<text x="1129.4" y="1384.5" text-anchor="middle" font-size="40">7.5</text>
<line x1="1206.5" y1="1342.5" x2="1206.5" y2="1337.5" stroke="#000" stroke-width="1.6"/>
<line x1="1283.5" y1="1342.5" x2="1283.5" y2="1332.5" stroke="#000" stroke-width="1.6"/>
<text x="1283.5" y="1384.5" text-anchor="middle" font-size="40">10.0</text>
<line x1="1360.5" y1="1342.5" x2="1360.5" y2="1337.5" stroke="#000" stroke-width="1.6"/>
<line x1="1437.6" y1="1342.5" x2="1437.6" y2="1332.5" stroke="#000" stroke-width="1.6"/>
<text x="1437.6" y="1384.5" text-anchor="middle" font-size="40">12.5</text>
<line x1="1180" y1="910" x2="1234" y2="910" stroke="#000" stroke-width="3"/>
<line x1="1180" y1="956.4" x2="1229" y2="956.4" stroke="#ee1c25" stroke-width="2.8" stroke-dasharray="7.2 3.3"/>
<text x="1244" y="917.2" font-size="36" textLength="183" lengthAdjust="spacingAndGlyphs">with obstacle</text>
<text x="1244" y="964.5" font-size="36" textLength="237.5" lengthAdjust="spacingAndGlyphs">without obstacle</text>
<text x="1203.0" y="1432.0" font-size="49" text-anchor="middle"><tspan font-style="italic">x</tspan><tspan dx="1.5">(</tspan><tspan font-style="italic" dx="1.5">λ</tspan><tspan font-size="30.4" dy="9">0</tspan><tspan dy="-9" dx="3">)</tspan></text>
<text transform="translate(808.0 1166.0) rotate(-90)" font-size="46"><tspan font-size="42.3" dy="-2">|</tspan><tspan dy="2" dx="6" font-style="italic">p</tspan><tspan font-style="italic" dx="1">/</tspan><tspan font-style="italic" dx="1">p</tspan><tspan font-size="27.6" dy="17" dx="-2">0</tspan><tspan font-size="42.3" dy="-19" dx="5">|</tspan><tspan font-size="25.3" dy="-24" dx="3">2</tspan></text>
</g>
</svg>
</body></html>
